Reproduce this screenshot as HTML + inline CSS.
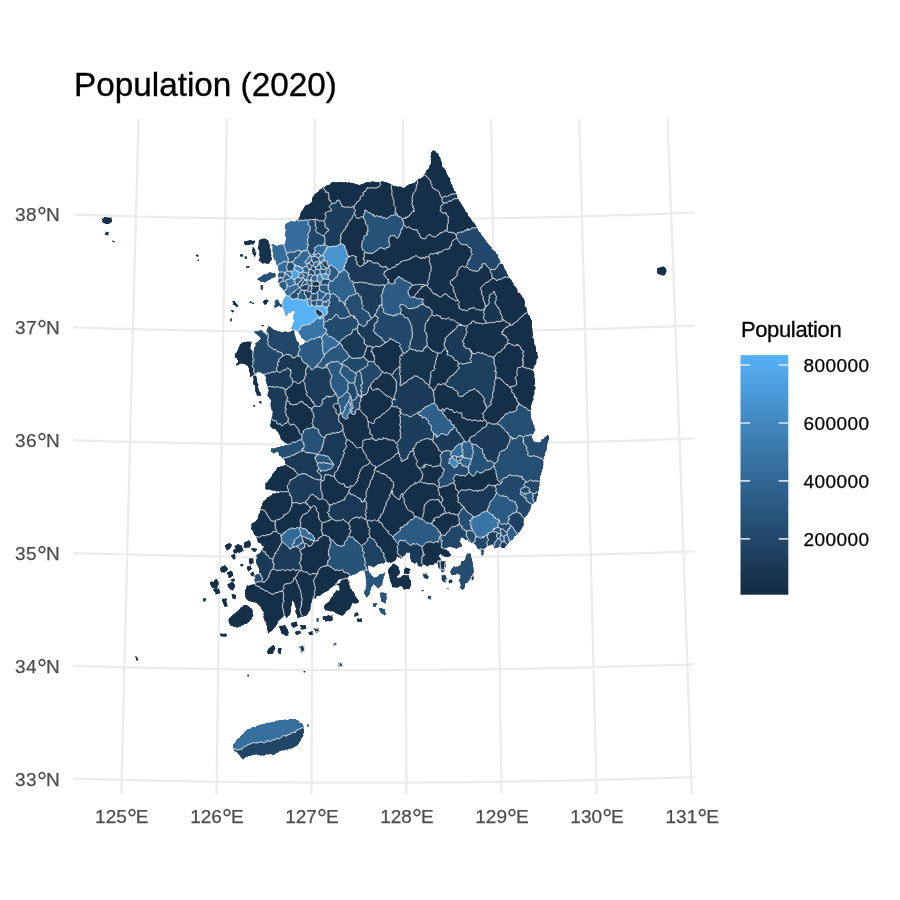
<!DOCTYPE html>
<html><head><meta charset="utf-8"><title>Population (2020)</title>
<style>
html,body{margin:0;padding:0;background:#fff}
svg{display:block}
text{font-family:"Liberation Sans",Arial,Helvetica,sans-serif}
.ax{font-size:19px;fill:#4d4d4d;letter-spacing:0.4px;stroke:#4d4d4d;stroke-width:0.25px}
text.axx{letter-spacing:0.05px}
.dg{font-size:25px;letter-spacing:-1.1px}
.lt{font-size:19px;fill:#000;letter-spacing:0.4px;stroke:#000;stroke-width:0.25px}
.ltt{font-size:22px;fill:#000;letter-spacing:-0.35px;stroke:#000;stroke-width:0.3px}
.ti{font-size:33.3px;fill:#000;stroke:#000;stroke-width:0.35px}
</style></head><body>
<svg width="900" height="900" viewBox="0 0 900 900">
<rect width="900" height="900" fill="#fff"/>
<defs><clipPath id="pc"><rect x="73.2" y="118.8" width="621.2" height="675.2"/></clipPath></defs>
<g clip-path="url(#pc)">
<path d="M21.2,946.2 21.7,931.0 22.2,915.7 22.7,900.4 23.2,885.1 23.7,869.8 24.2,854.6 24.7,839.3 25.2,824.0 25.7,808.7 26.2,793.4 26.7,778.1 27.2,762.9 27.7,747.6 28.2,732.3 28.7,717.0 29.2,701.7 29.8,686.5 30.3,671.2 30.8,655.9 31.3,640.6 31.9,625.3 32.4,610.0 32.9,594.7 33.5,579.5 34.0,564.2 34.5,548.9 35.1,533.6 35.6,518.3 36.1,503.0 36.7,487.7 37.2,472.5 37.8,457.2 38.3,441.9 38.9,426.6 39.4,411.3 40.0,396.0 40.5,380.7 41.1,365.4 41.7,350.2 42.2,334.9 42.8,319.6 43.3,304.3 43.9,289.0 44.5,273.7 45.0,258.4 45.6,243.1 46.2,227.8 46.8,212.6 47.3,197.3 47.9,182.0 48.5,166.7 49.1,151.4 49.7,136.1 50.2,120.8 50.8,105.5 51.4,90.2 52.0,74.9 52.6,59.6 53.2,44.4 M117.7,948.9 118.1,933.6 118.4,918.3 118.8,903.1 119.1,887.8 119.5,872.5 119.8,857.2 120.2,842.0 120.6,826.7 120.9,811.4 121.3,796.1 121.6,780.9 122.0,765.6 122.4,750.3 122.7,735.0 123.1,719.7 123.5,704.5 123.8,689.2 124.2,673.9 124.6,658.6 125.0,643.4 125.3,628.1 125.7,612.8 126.1,597.5 126.5,582.2 126.9,567.0 127.2,551.7 127.6,536.4 128.0,521.1 128.4,505.8 128.8,490.6 129.2,475.3 129.6,460.0 130.0,444.7 130.3,429.4 130.7,414.1 131.1,398.9 131.5,383.6 131.9,368.3 132.3,353.0 132.7,337.7 133.1,322.4 133.5,307.2 133.9,291.9 134.3,276.6 134.7,261.3 135.2,246.0 135.6,230.7 136.0,215.4 136.4,200.1 136.8,184.9 137.2,169.6 137.6,154.3 138.0,139.0 138.5,123.7 138.9,108.4 139.3,93.1 139.7,77.8 140.1,62.6 140.6,47.3 M214.2,950.6 214.4,935.4 214.6,920.1 214.9,904.8 215.1,889.6 215.3,874.3 215.5,859.0 215.7,843.8 215.9,828.5 216.1,813.2 216.4,797.9 216.6,782.7 216.8,767.4 217.0,752.1 217.2,736.8 217.5,721.6 217.7,706.3 217.9,691.0 218.1,675.7 218.3,660.5 218.6,645.2 218.8,629.9 219.0,614.6 219.2,599.4 219.5,584.1 219.7,568.8 219.9,553.5 220.2,538.3 220.4,523.0 220.6,507.7 220.9,492.4 221.1,477.1 221.3,461.9 221.6,446.6 221.8,431.3 222.0,416.0 222.3,400.7 222.5,385.5 222.7,370.2 223.0,354.9 223.2,339.6 223.5,324.3 223.7,309.1 223.9,293.8 224.2,278.5 224.4,263.2 224.7,247.9 224.9,232.6 225.2,217.4 225.4,202.1 225.7,186.8 225.9,171.5 226.2,156.2 226.4,140.9 226.7,125.6 226.9,110.4 227.2,95.1 227.4,79.8 227.7,64.5 227.9,49.2 M310.7,951.5 310.8,936.3 310.8,921.0 310.9,905.7 311.0,890.5 311.1,875.2 311.1,859.9 311.2,844.6 311.3,829.4 311.3,814.1 311.4,798.8 311.5,783.6 311.6,768.3 311.6,753.0 311.7,737.8 311.8,722.5 311.9,707.2 311.9,691.9 312.0,676.7 312.1,661.4 312.2,646.1 312.2,630.8 312.3,615.6 312.4,600.3 312.5,585.0 312.5,569.7 312.6,554.5 312.7,539.2 312.8,523.9 312.8,508.6 312.9,493.4 313.0,478.1 313.1,462.8 313.2,447.5 313.2,432.2 313.3,417.0 313.4,401.7 313.5,386.4 313.5,371.1 313.6,355.9 313.7,340.6 313.8,325.3 313.9,310.0 313.9,294.7 314.0,279.4 314.1,264.2 314.2,248.9 314.3,233.6 314.4,218.3 314.4,203.0 314.5,187.7 314.6,172.5 314.7,157.2 314.8,141.9 314.9,126.6 314.9,111.3 315.0,96.0 315.1,80.7 315.2,65.5 315.3,50.2 M407.2,951.5 407.1,936.3 407.0,921.0 407.0,905.7 406.9,890.5 406.8,875.2 406.8,859.9 406.7,844.6 406.6,829.4 406.5,814.1 406.5,798.8 406.4,783.6 406.3,768.3 406.3,753.0 406.2,737.8 406.1,722.5 406.0,707.2 406.0,691.9 405.9,676.7 405.8,661.4 405.7,646.1 405.7,630.8 405.6,615.6 405.5,600.3 405.4,585.0 405.4,569.7 405.3,554.5 405.2,539.2 405.1,523.9 405.1,508.6 405.0,493.4 404.9,478.1 404.8,462.8 404.7,447.5 404.7,432.2 404.6,417.0 404.5,401.7 404.4,386.4 404.3,371.1 404.3,355.9 404.2,340.6 404.1,325.3 404.0,310.0 403.9,294.7 403.9,279.4 403.8,264.2 403.7,248.9 403.6,233.6 403.5,218.3 403.5,203.0 403.4,187.7 403.3,172.5 403.2,157.2 403.1,141.9 403.0,126.6 403.0,111.3 402.9,96.0 402.8,80.7 402.7,65.5 402.6,50.2 M503.7,950.6 503.5,935.4 503.2,920.1 503.0,904.8 502.8,889.6 502.6,874.3 502.4,859.0 502.2,843.8 502.0,828.5 501.7,813.2 501.5,797.9 501.3,782.7 501.1,767.4 500.9,752.1 500.7,736.8 500.4,721.6 500.2,706.3 500.0,691.0 499.8,675.7 499.5,660.5 499.3,645.2 499.1,629.9 498.9,614.6 498.6,599.4 498.4,584.1 498.2,568.8 498.0,553.5 497.7,538.3 497.5,523.0 497.3,507.7 497.0,492.4 496.8,477.1 496.6,461.9 496.3,446.6 496.1,431.3 495.9,416.0 495.6,400.7 495.4,385.5 495.1,370.2 494.9,354.9 494.7,339.6 494.4,324.3 494.2,309.1 493.9,293.8 493.7,278.5 493.5,263.2 493.2,247.9 493.0,232.6 492.7,217.4 492.5,202.1 492.2,186.8 492.0,171.5 491.7,156.2 491.5,140.9 491.2,125.6 491.0,110.4 490.7,95.1 490.5,79.8 490.2,64.5 490.0,49.2 M600.2,948.9 599.8,933.6 599.5,918.3 599.1,903.1 598.8,887.8 598.4,872.5 598.0,857.2 597.7,842.0 597.3,826.7 597.0,811.4 596.6,796.1 596.2,780.9 595.9,765.6 595.5,750.3 595.2,735.0 594.8,719.7 594.4,704.5 594.0,689.2 593.7,673.9 593.3,658.6 592.9,643.4 592.5,628.1 592.2,612.8 591.8,597.5 591.4,582.2 591.0,567.0 590.7,551.7 590.3,536.4 589.9,521.1 589.5,505.8 589.1,490.6 588.7,475.3 588.3,460.0 587.9,444.7 587.5,429.4 587.2,414.1 586.8,398.9 586.4,383.6 586.0,368.3 585.6,353.0 585.2,337.7 584.8,322.4 584.4,307.2 584.0,291.9 583.6,276.6 583.1,261.3 582.7,246.0 582.3,230.7 581.9,215.4 581.5,200.1 581.1,184.9 580.7,169.6 580.3,154.3 579.8,139.0 579.4,123.7 579.0,108.4 578.6,93.1 578.2,77.8 577.7,62.6 577.3,47.3 M696.7,946.2 696.2,931.0 695.7,915.7 695.2,900.4 694.7,885.1 694.2,869.8 693.7,854.6 693.2,839.3 692.7,824.0 692.2,808.7 691.7,793.4 691.2,778.1 690.7,762.9 690.2,747.6 689.7,732.3 689.2,717.0 688.6,701.7 688.1,686.5 687.6,671.2 687.1,655.9 686.6,640.6 686.0,625.3 685.5,610.0 685.0,594.7 684.4,579.5 683.9,564.2 683.4,548.9 682.8,533.6 682.3,518.3 681.8,503.0 681.2,487.7 680.7,472.5 680.1,457.2 679.6,441.9 679.0,426.6 678.5,411.3 677.9,396.0 677.4,380.7 676.8,365.4 676.2,350.2 675.7,334.9 675.1,319.6 674.6,304.3 674.0,289.0 673.4,273.7 672.8,258.4 672.3,243.1 671.7,227.8 671.1,212.6 670.6,197.3 670.0,182.0 669.4,166.7 668.8,151.4 668.2,136.1 667.6,120.8 667.1,105.5 666.5,90.2 665.9,74.9 665.3,59.6 664.7,44.4 M793.3,942.7 792.6,927.4 792.0,912.1 791.4,896.8 790.7,881.6 790.1,866.3 789.5,851.0 788.8,835.7 788.2,820.4 787.5,805.1 786.9,789.8 786.2,774.5 785.6,759.2 784.9,744.0 784.2,728.7 783.6,713.4 782.9,698.1 782.2,682.8 781.6,667.5 780.9,652.2 780.2,636.9 779.5,621.6 778.9,606.3 778.2,591.0 777.5,575.8 776.8,560.5 776.1,545.2 775.4,529.9 774.7,514.6 774.0,499.3 773.3,484.0 772.6,468.7 771.9,453.4 771.2,438.1 770.5,422.8 769.8,407.5 769.1,392.2 768.4,376.9 767.7,361.7 766.9,346.4 766.2,331.1 765.5,315.8 764.8,300.5 764.0,285.2 763.3,269.9 762.6,254.6 761.8,239.3 761.1,224.0 760.4,208.7 759.6,193.4 758.9,178.1 758.1,162.8 757.4,147.5 756.6,132.2 755.9,116.9 755.1,101.6 754.4,86.4 753.6,71.1 752.8,55.8 752.1,40.5 M-73.1,886.3 -60.9,886.8 -48.7,887.3 -36.6,887.8 -24.4,888.2 -12.2,888.7 -0.1,889.1 12.1,889.5 24.2,889.9 36.4,890.3 48.5,890.7 60.7,891.0 72.8,891.4 85.0,891.7 97.1,892.0 109.3,892.3 121.5,892.6 133.6,892.9 145.8,893.1 157.9,893.4 170.1,893.6 182.2,893.8 194.4,894.0 206.5,894.2 218.6,894.4 230.8,894.5 242.9,894.7 255.1,894.8 267.2,894.9 279.4,895.0 291.5,895.1 303.7,895.2 315.8,895.2 328.0,895.3 340.1,895.3 352.3,895.3 364.4,895.3 376.6,895.3 388.7,895.3 400.9,895.3 413.0,895.2 425.1,895.1 437.3,895.0 449.4,894.9 461.6,894.8 473.7,894.7 485.9,894.6 498.0,894.4 510.2,894.2 522.3,894.0 534.5,893.9 546.6,893.6 558.8,893.4 570.9,893.2 583.1,892.9 595.2,892.6 607.4,892.4 619.5,892.1 631.7,891.8 643.8,891.4 656.0,891.1 668.1,890.7 680.3,890.4 692.5,890.0 704.6,889.6 716.8,889.2 728.9,888.7 741.1,888.3 753.2,887.8 765.4,887.4 777.6,886.9 789.7,886.4 801.9,885.9 814.1,885.3 826.2,884.8 838.4,884.2 850.6,883.7 862.7,883.1 874.9,882.5 887.1,881.9 M-68.3,773.6 -56.3,774.1 -44.2,774.6 -32.2,775.1 -20.2,775.5 -8.2,776.0 3.9,776.4 15.9,776.8 27.9,777.2 39.9,777.6 52.0,778.0 64.0,778.4 76.0,778.7 88.0,779.0 100.0,779.4 112.1,779.7 124.1,780.0 136.1,780.2 148.1,780.5 160.1,780.7 172.1,781.0 184.1,781.2 196.2,781.4 208.2,781.6 220.2,781.8 232.2,781.9 244.2,782.1 256.2,782.2 268.2,782.3 280.3,782.4 292.3,782.5 304.3,782.6 316.3,782.6 328.3,782.7 340.3,782.7 352.3,782.7 364.4,782.7 376.4,782.7 388.4,782.7 400.4,782.6 412.4,782.6 424.4,782.5 436.4,782.4 448.4,782.3 460.5,782.2 472.5,782.1 484.5,781.9 496.5,781.8 508.5,781.6 520.5,781.4 532.5,781.2 544.6,781.0 556.6,780.8 568.6,780.5 580.6,780.3 592.6,780.0 604.6,779.7 616.7,779.4 628.7,779.1 640.7,778.7 652.7,778.4 664.7,778.0 676.8,777.7 688.8,777.3 700.8,776.9 712.8,776.4 724.8,776.0 736.9,775.6 748.9,775.1 760.9,774.6 772.9,774.1 785.0,773.6 797.0,773.1 809.0,772.6 821.1,772.0 833.1,771.5 845.1,770.9 857.2,770.3 869.2,769.7 881.2,769.0 M-63.4,660.8 -51.5,661.3 -39.6,661.8 -27.7,662.3 -15.8,662.8 -3.9,663.2 7.9,663.7 19.8,664.1 31.7,664.5 43.6,664.9 55.5,665.3 67.4,665.7 79.2,666.0 91.1,666.4 103.0,666.7 114.9,667.0 126.8,667.3 138.6,667.6 150.5,667.8 162.4,668.1 174.3,668.3 186.1,668.5 198.0,668.7 209.9,668.9 221.8,669.1 233.7,669.3 245.5,669.4 257.4,669.6 269.3,669.7 281.2,669.8 293.0,669.9 304.9,669.9 316.8,670.0 328.7,670.0 340.5,670.1 352.4,670.1 364.3,670.1 376.2,670.1 388.0,670.1 399.9,670.0 411.8,669.9 423.7,669.9 435.5,669.8 447.4,669.7 459.3,669.6 471.2,669.4 483.0,669.3 494.9,669.1 506.8,669.0 518.7,668.8 530.6,668.6 542.4,668.3 554.3,668.1 566.2,667.9 578.1,667.6 589.9,667.3 601.8,667.0 613.7,666.7 625.6,666.4 637.5,666.1 649.3,665.7 661.2,665.3 673.1,665.0 685.0,664.6 696.9,664.2 708.8,663.7 720.7,663.3 732.5,662.8 744.4,662.4 756.3,661.9 768.2,661.4 780.1,660.9 792.0,660.3 803.9,659.8 815.8,659.2 827.6,658.7 839.5,658.1 851.4,657.5 863.3,656.8 875.2,656.2 M-58.4,548.0 -46.6,548.6 -34.9,549.1 -23.1,549.6 -11.4,550.0 0.4,550.5 12.1,550.9 23.9,551.4 35.6,551.8 47.3,552.2 59.1,552.6 70.8,553.0 82.6,553.3 94.3,553.7 106.0,554.0 117.8,554.3 129.5,554.6 141.3,554.9 153.0,555.2 164.7,555.4 176.5,555.6 188.2,555.9 199.9,556.1 211.7,556.3 223.4,556.5 235.1,556.6 246.9,556.8 258.6,556.9 270.3,557.0 282.1,557.1 293.8,557.2 305.6,557.3 317.3,557.4 329.0,557.4 340.8,557.4 352.5,557.4 364.2,557.4 376.0,557.4 387.7,557.4 399.4,557.4 411.2,557.3 422.9,557.2 434.6,557.1 446.4,557.0 458.1,556.9 469.8,556.8 481.6,556.6 493.3,556.5 505.0,556.3 516.8,556.1 528.5,555.9 540.3,555.7 552.0,555.4 563.7,555.2 575.5,554.9 587.2,554.6 598.9,554.3 610.7,554.0 622.4,553.7 634.2,553.4 645.9,553.0 657.6,552.6 669.4,552.2 681.1,551.8 692.9,551.4 704.6,551.0 716.3,550.5 728.1,550.1 739.8,549.6 751.6,549.1 763.3,548.6 775.1,548.1 786.8,547.6 798.6,547.0 810.3,546.4 822.1,545.9 833.8,545.3 845.6,544.6 857.3,544.0 869.1,543.4 M-53.2,435.3 -41.6,435.8 -30.0,436.3 -18.4,436.8 -6.8,437.3 4.8,437.7 16.4,438.2 28.0,438.6 39.6,439.1 51.2,439.5 62.8,439.9 74.4,440.2 86.0,440.6 97.6,440.9 109.2,441.3 120.7,441.6 132.3,441.9 143.9,442.2 155.5,442.5 167.1,442.7 178.7,443.0 190.3,443.2 201.9,443.4 213.5,443.6 225.1,443.8 236.7,443.9 248.3,444.1 259.9,444.2 271.4,444.3 283.0,444.5 294.6,444.5 306.2,444.6 317.8,444.7 329.4,444.7 341.0,444.8 352.6,444.8 364.2,444.8 375.8,444.8 387.3,444.7 398.9,444.7 410.5,444.6 422.1,444.6 433.7,444.5 445.3,444.4 456.9,444.2 468.5,444.1 480.1,444.0 491.7,443.8 503.2,443.6 514.8,443.4 526.4,443.2 538.0,443.0 549.6,442.7 561.2,442.5 572.8,442.2 584.4,441.9 596.0,441.6 607.6,441.3 619.2,441.0 630.8,440.6 642.4,440.3 654.0,439.9 665.5,439.5 677.1,439.1 688.7,438.7 700.3,438.2 711.9,437.8 723.5,437.3 735.1,436.8 746.7,436.3 758.3,435.8 769.9,435.3 781.5,434.8 793.1,434.2 804.7,433.6 816.3,433.0 827.9,432.4 839.6,431.8 851.2,431.2 862.8,430.5 M-47.9,322.5 -36.5,323.0 -25.0,323.5 -13.6,324.0 -2.1,324.5 9.3,325.0 20.8,325.4 32.2,325.9 43.7,326.3 55.1,326.7 66.6,327.1 78.0,327.5 89.5,327.9 100.9,328.2 112.4,328.6 123.8,328.9 135.2,329.2 146.7,329.5 158.1,329.7 169.6,330.0 181.0,330.3 192.5,330.5 203.9,330.7 215.3,330.9 226.8,331.1 238.2,331.2 249.7,331.4 261.1,331.5 272.6,331.7 284.0,331.8 295.4,331.9 306.9,331.9 318.3,332.0 329.8,332.0 341.2,332.1 352.7,332.1 364.1,332.1 375.5,332.1 387.0,332.0 398.4,332.0 409.9,331.9 421.3,331.9 432.7,331.8 444.2,331.7 455.6,331.5 467.1,331.4 478.5,331.3 490.0,331.1 501.4,330.9 512.8,330.7 524.3,330.5 535.7,330.3 547.2,330.0 558.6,329.8 570.1,329.5 581.5,329.2 592.9,328.9 604.4,328.6 615.8,328.3 627.3,327.9 638.7,327.5 650.2,327.2 661.6,326.8 673.1,326.4 684.5,325.9 696.0,325.5 707.4,325.0 718.9,324.6 730.3,324.1 741.8,323.6 753.2,323.1 764.7,322.5 776.1,322.0 787.6,321.4 799.0,320.8 810.5,320.2 821.9,319.6 833.4,319.0 844.8,318.4 856.3,317.7 M-42.5,209.7 -31.2,210.2 -19.9,210.7 -8.6,211.2 2.7,211.7 14.0,212.2 25.3,212.7 36.6,213.1 47.9,213.6 59.2,214.0 70.4,214.4 81.7,214.8 93.0,215.1 104.3,215.5 115.6,215.8 126.9,216.1 138.2,216.5 149.5,216.7 160.8,217.0 172.1,217.3 183.4,217.5 194.7,217.8 206.0,218.0 217.2,218.2 228.5,218.4 239.8,218.5 251.1,218.7 262.4,218.8 273.7,219.0 285.0,219.1 296.3,219.2 307.6,219.2 318.9,219.3 330.2,219.3 341.4,219.4 352.7,219.4 364.0,219.4 375.3,219.4 386.6,219.3 397.9,219.3 409.2,219.2 420.5,219.2 431.8,219.1 443.1,219.0 454.3,218.8 465.6,218.7 476.9,218.5 488.2,218.4 499.5,218.2 510.8,218.0 522.1,217.8 533.4,217.6 544.7,217.3 556.0,217.0 567.3,216.8 578.6,216.5 589.8,216.2 601.1,215.9 612.4,215.5 623.7,215.2 635.0,214.8 646.3,214.4 657.6,214.0 668.9,213.6 680.2,213.2 691.5,212.7 702.8,212.3 714.1,211.8 725.4,211.3 736.7,210.8 748.0,210.3 759.3,209.7 770.6,209.2 781.9,208.6 793.2,208.0 804.5,207.4 815.8,206.8 827.1,206.2 838.4,205.5 849.7,204.9 M-37.0,96.9 -25.9,97.4 -14.7,97.9 -3.6,98.5 7.6,99.0 18.7,99.4 29.9,99.9 41.0,100.3 52.1,100.8 63.3,101.2 74.4,101.6 85.6,102.0 96.7,102.4 107.8,102.7 119.0,103.1 130.1,103.4 141.2,103.7 152.4,104.0 163.5,104.3 174.7,104.5 185.8,104.8 196.9,105.0 208.1,105.2 219.2,105.4 230.3,105.6 241.5,105.8 252.6,106.0 263.7,106.1 274.9,106.2 286.0,106.3 297.1,106.4 308.3,106.5 319.4,106.6 330.6,106.6 341.7,106.6 352.8,106.7 364.0,106.7 375.1,106.6 386.2,106.6 397.4,106.6 408.5,106.5 419.6,106.4 430.8,106.3 441.9,106.2 453.0,106.1 464.2,106.0 475.3,105.8 486.4,105.6 497.6,105.5 508.7,105.3 519.9,105.0 531.0,104.8 542.1,104.6 553.3,104.3 564.4,104.0 575.5,103.7 586.7,103.4 597.8,103.1 608.9,102.8 620.1,102.4 631.2,102.0 642.4,101.6 653.5,101.2 664.6,100.8 675.8,100.4 686.9,99.9 698.1,99.5 709.2,99.0 720.3,98.5 731.5,98.0 742.6,97.5 753.8,96.9 764.9,96.4 776.1,95.8 787.2,95.2 798.3,94.6 809.5,94.0 820.6,93.3 831.8,92.7 842.9,92.0" fill="none" stroke="#ebebeb" stroke-width="2.2"/>
<defs><clipPath id="land"><path d="M306.6,725.1 307.4,725.9 307.1,726.4 309.1,726.6 308.6,725.6 308.6,724.6 307.6,724.6ZM304.1,727.1 302.9,726.1 302.9,724.6 301.1,722.9 299.6,722.9 299.1,722.4 299.1,721.1 297.4,720.6 294.9,719.1 294.1,719.4 293.9,719.1 293.6,719.4 289.6,719.1 288.4,720.1 287.9,719.9 285.9,720.1 285.1,719.4 284.6,719.4 284.1,719.9 278.4,720.4 277.4,721.4 276.1,720.6 274.9,722.1 274.1,721.9 271.4,722.6 270.6,722.4 269.4,722.9 268.4,722.6 268.1,723.1 266.1,722.9 265.1,724.1 263.4,723.9 262.4,724.4 260.9,724.4 260.1,725.1 258.6,725.1 257.6,726.1 256.4,725.9 255.9,727.1 255.1,727.6 254.6,727.4 254.1,727.6 253.6,727.1 251.9,727.4 250.1,729.1 248.9,728.9 246.6,730.1 246.4,730.9 244.4,732.1 244.1,733.4 243.4,733.9 242.6,733.9 242.1,735.1 240.4,736.4 240.1,737.4 239.4,738.1 238.1,738.6 235.9,740.9 235.9,741.6 235.1,742.9 233.4,744.4 233.1,744.9 233.4,747.4 232.9,748.6 234.1,749.6 234.9,751.4 236.1,751.4 237.4,752.1 237.4,752.9 239.1,754.4 239.4,755.1 240.4,756.1 240.6,757.1 243.4,759.6 243.9,758.6 245.6,756.9 247.4,756.6 248.6,755.9 248.9,756.1 250.1,755.9 250.4,755.4 252.6,755.1 253.1,754.6 255.1,754.9 255.6,754.1 256.4,754.1 257.4,755.1 259.1,754.9 260.6,755.6 261.4,755.6 262.9,754.9 263.4,755.4 264.1,755.4 266.6,754.1 267.9,754.4 269.6,753.9 270.9,753.9 273.6,754.9 275.1,753.9 276.4,752.4 277.4,753.1 278.4,751.6 280.4,751.1 282.4,750.1 283.9,750.6 285.1,749.4 287.6,749.6 289.1,748.6 291.6,748.6 292.9,747.4 294.6,746.9 297.4,745.1 299.1,742.9 298.9,742.6 299.1,741.9 300.4,741.1 301.4,738.1 302.1,737.6 302.6,736.9 302.4,736.6 303.4,735.9 302.9,733.9 303.9,732.4 304.1,729.4 303.6,728.6 303.6,727.9ZM247.9,674.4 247.4,674.9 247.6,676.6 248.6,676.4 249.1,675.1ZM303.6,670.9 303.4,671.9 304.6,672.6 305.4,672.1 305.1,670.9ZM338.6,662.6 338.9,665.1 338.4,665.9 338.6,666.4 340.4,666.1 340.9,666.6 340.6,666.9 340.9,666.9 340.4,666.1 340.6,665.9 341.4,665.9 342.1,666.4 342.4,665.9 341.6,663.9 340.9,663.1ZM135.1,656.6 136.1,658.4 135.9,658.9 136.4,660.4 137.1,660.6 138.4,660.1 136.4,656.4ZM278.1,648.1 277.9,650.4 277.4,650.9 277.4,651.4 278.6,651.6 278.6,652.6 278.1,653.1 278.6,653.6 280.9,653.9 281.1,652.9 280.9,651.4 281.6,648.6 280.6,648.1ZM304.6,645.6 302.6,646.1 302.1,645.9 301.9,646.4 300.6,646.1 299.1,646.4 300.1,649.1 300.9,649.6 300.6,651.9 301.1,652.4 302.1,651.9 302.6,651.1 303.6,650.9 304.9,651.1 305.1,648.1 304.4,646.1ZM273.4,644.9 272.9,645.6 271.9,645.9 270.4,647.6 269.1,648.1 268.6,648.6 268.6,649.4 267.1,650.9 267.4,652.6 268.1,654.1 268.4,653.9 272.1,654.1 273.6,652.4 273.4,651.4 274.1,650.6 274.6,649.4 275.4,649.1 274.1,645.6ZM336.9,642.9 334.6,643.4 333.9,643.1 333.9,644.1 333.4,644.9 333.6,645.6 334.1,645.4 336.1,645.6 336.4,644.4 337.1,643.9ZM220.1,633.4 220.4,635.6 221.4,636.4 226.6,636.6 226.6,633.9 224.6,633.4 223.9,634.1 223.1,634.1 222.6,633.6 221.6,633.9 220.9,633.4ZM313.4,631.6 311.9,631.4 310.6,631.6 310.1,632.1 308.1,631.9 308.9,633.1 308.9,634.4 310.1,635.1 312.6,634.9 313.6,633.9 313.1,632.9ZM299.9,630.1 298.4,631.4 297.4,631.1 295.1,631.9 295.6,633.9 296.6,634.4 296.9,634.9 299.9,633.6 301.4,634.1 300.6,632.9ZM313.4,628.6 313.6,629.1 314.9,629.6 315.1,631.4 315.6,631.6 315.9,632.4 316.9,632.6 318.1,631.9 319.4,631.6 319.4,630.6 318.4,628.9 318.4,628.1 315.9,627.9 315.4,628.6 315.1,628.4ZM279.9,625.6 279.4,626.1 279.4,627.4 281.1,631.4 280.9,632.6 281.9,633.4 282.4,634.4 283.4,634.1 285.9,636.1 287.4,635.4 287.9,635.6 288.6,635.4 287.9,633.9 288.6,632.9 288.6,632.1 287.9,630.9 288.1,630.1 286.6,628.6 285.9,626.4 285.1,625.4 284.6,625.1 283.9,625.6 281.6,626.1ZM300.1,625.1 300.4,626.9 300.1,627.1 299.9,626.9 299.9,627.4 301.4,629.9 302.4,629.9 303.1,629.4 306.6,628.6 306.1,628.1 305.6,625.4 304.6,625.1 303.9,625.6 303.1,625.6 301.4,624.9ZM296.4,621.6 294.9,621.9 293.9,622.6 292.4,622.6 290.9,623.6 291.1,625.1 293.4,628.1 294.9,626.9 298.1,625.6 297.4,624.9ZM356.9,618.6 357.1,619.4 356.9,619.9 357.9,621.9 360.1,621.4 361.9,621.9 362.1,621.4 361.9,619.1 361.1,618.4 360.4,618.4 359.9,618.9 359.1,618.9 358.4,618.4ZM319.1,618.4 316.6,618.6 316.9,621.9 318.1,622.1 318.9,621.4 318.4,620.4ZM333.1,615.1 329.9,615.4 328.4,614.9 326.4,616.4 325.6,616.1 323.1,616.4 322.9,616.1 322.6,618.1 323.4,618.6 323.1,619.1 323.4,619.4 322.9,619.9 324.9,620.1 325.6,621.6 326.6,621.6 327.1,621.1 328.6,620.9 330.6,621.4 331.6,620.4 332.1,620.6 332.9,619.4 332.6,618.1ZM357.4,612.1 355.6,613.4 355.4,613.1 354.4,613.4 354.9,614.4 354.1,615.9 354.4,616.6 355.1,616.9 355.9,616.6 356.9,615.6 358.4,615.6 358.4,614.4ZM379.1,608.1 379.6,610.6 381.1,612.9 382.6,613.9 383.4,613.9 384.1,614.9 385.1,615.4 385.6,613.6 386.1,613.4 384.9,611.9 385.1,609.6 381.9,608.4ZM252.1,609.1 251.6,608.6 250.4,608.4 249.1,606.6 248.1,606.4 247.4,605.6 245.1,604.9 244.9,605.1 243.9,604.9 242.4,606.9 240.6,607.6 240.6,608.6 239.1,609.6 237.9,611.4 236.6,611.6 236.1,612.9 234.9,613.1 234.4,614.1 232.6,615.1 228.4,619.4 228.9,620.6 228.6,621.4 229.4,622.6 229.4,623.6 231.1,626.1 232.9,625.9 233.4,626.9 234.9,626.6 236.9,627.4 237.9,627.4 238.6,626.6 240.4,626.4 241.4,625.6 243.4,625.1 244.9,623.6 246.4,623.9 247.1,623.4 247.6,622.4 248.9,622.1 249.9,620.9 249.9,619.9 251.9,618.9 251.6,617.9 251.9,617.1 253.4,616.1 253.4,615.6 252.9,615.4 252.9,613.6 252.4,613.1 252.9,611.1 252.1,609.9ZM377.1,603.1 376.6,602.9 374.6,603.6 373.1,603.4 372.9,606.4 374.1,606.4 374.9,606.9 376.4,607.1 375.4,606.4 375.4,605.9 377.1,604.1ZM222.4,598.6 222.1,600.9 223.1,602.4 223.1,603.6 223.9,604.6 224.1,606.4 224.6,606.6 225.4,606.4 226.4,606.9 227.6,606.6 226.6,602.1 226.1,601.6 226.1,600.9 226.9,599.9 227.1,598.6 224.9,598.4 224.4,598.9ZM205.9,598.1 202.9,598.6 202.9,599.9 203.6,601.9 205.4,601.1ZM428.4,595.4 427.9,597.1 427.9,598.6 429.4,598.6 430.6,599.6 431.1,599.4 431.1,597.1 430.6,595.9 429.1,596.1ZM231.9,593.9 231.6,594.4 232.1,595.9 231.9,596.4 232.6,598.1 232.4,598.4 233.6,598.4 234.4,599.1 235.4,599.4 235.4,598.1 236.1,596.9 235.6,594.9 232.9,593.9ZM379.6,592.6 380.6,595.4 380.1,596.6 380.9,597.4 380.9,598.9 381.4,599.6 381.1,601.4 381.9,601.4 385.9,603.6 386.1,602.1 385.6,601.6 385.6,600.9 386.9,598.4 386.6,598.1 386.9,597.6 386.1,596.4 386.6,593.6 382.4,592.6 381.4,592.6 380.9,593.4ZM421.6,590.1 421.9,591.6 422.6,591.1 423.9,591.1 423.9,590.1 423.1,590.4ZM447.1,588.1 447.4,588.6 449.4,589.4 447.9,588.1ZM233.4,581.9 232.9,582.6 231.1,582.1 229.9,583.4 227.4,583.9 227.9,586.1 228.4,586.4 228.1,587.1 227.6,587.4 228.6,587.1 228.9,587.9 230.4,588.6 230.1,589.9 231.1,589.6 232.4,590.4 233.4,589.4 233.9,588.1 235.4,587.1 234.9,586.4 234.6,585.1 234.9,584.9 233.4,582.9ZM452.1,579.9 450.4,579.6 448.6,580.9 449.1,583.6 450.4,582.9 450.9,583.1 451.9,582.9 451.9,582.1 452.4,581.4ZM216.9,578.9 215.9,579.1 215.1,580.1 214.6,580.4 214.4,580.1 213.9,581.9 211.4,581.4 209.9,582.4 210.1,584.4 211.4,585.6 211.1,585.9 211.9,587.4 212.6,587.9 214.4,587.4 215.1,587.9 214.6,588.6 213.1,588.9 213.1,589.4 214.4,591.6 215.6,592.6 215.6,594.4 220.4,592.9 219.6,591.6 219.6,590.6 219.1,590.1 219.1,588.6 218.6,588.4 217.4,589.4 216.6,589.1 217.6,587.1 217.4,585.6 217.9,584.9 218.4,584.9 218.6,583.9 218.4,581.9 217.4,580.6ZM235.1,579.9 234.4,578.9 233.1,578.4 232.1,579.4 231.1,579.6 230.6,580.4 231.1,581.1 232.9,581.6 234.6,581.1ZM441.6,575.1 441.9,577.4 441.6,579.1 443.1,581.6 445.6,582.6 445.9,581.4 446.4,580.9 446.9,581.1 446.6,580.1 446.9,579.1 445.4,575.4 444.9,574.9 443.4,575.6 442.4,575.6ZM422.6,573.4 423.1,575.6 423.6,576.1 423.9,578.1 424.1,577.9 426.4,578.4 427.1,579.1 427.9,578.9 427.6,578.4 428.1,577.4 428.9,576.9 427.4,575.4 426.4,572.6ZM231.6,571.1 228.9,571.4 228.1,572.4 226.6,572.4 227.1,574.1 228.6,575.1 228.4,577.4 229.1,578.1 230.9,577.4 231.9,576.1 233.4,575.9 232.9,575.1 233.1,573.9 232.9,572.9ZM405.6,567.6 404.9,568.9 404.1,569.4 404.4,570.4 403.9,571.4 404.1,573.6 404.4,573.9 404.9,573.6 406.9,573.9 409.4,573.4 409.6,572.4 408.9,571.4 410.1,570.4 410.4,569.9 410.1,568.9ZM250.4,565.4 248.6,566.4 247.1,566.6 247.1,568.9 248.4,571.4 249.9,569.9 250.9,569.6 251.9,568.6 250.9,567.6ZM225.1,564.9 223.9,566.1 222.6,566.1 220.4,567.9 220.6,568.4 220.1,570.1 221.1,571.6 220.9,572.1 221.9,572.4 222.6,572.1 223.6,572.6 224.1,572.4 224.6,572.6 225.4,571.6 227.9,570.4 228.1,569.6 227.4,567.4 226.6,567.4 225.9,566.9ZM243.1,563.9 240.4,564.1 240.6,564.9 240.4,566.1 241.9,566.4 243.4,565.4ZM392.9,563.6 391.9,566.1 390.9,566.6 388.9,568.6 388.1,570.4 388.4,573.4 388.9,574.1 389.1,575.6 389.6,576.1 389.4,577.9 390.1,579.4 390.1,581.1 391.6,582.9 391.4,584.1 392.1,584.9 391.9,586.6 393.1,587.4 395.1,587.1 395.6,587.6 396.9,587.4 397.9,587.6 398.9,586.6 401.1,585.9 402.6,587.1 403.4,588.4 403.1,588.6 403.4,589.1 404.1,589.4 406.1,588.9 408.6,589.1 409.9,588.4 409.9,587.1 411.1,585.4 411.1,584.6 410.6,584.1 411.1,581.9 410.6,580.6 409.4,579.1 408.6,575.6 408.1,574.9 406.9,575.4 403.4,574.9 401.4,576.6 400.9,577.6 397.4,577.9 396.9,577.4 396.9,576.4 397.9,575.6 398.4,574.4 399.4,573.9 400.1,571.9 399.1,570.1 398.6,569.9 398.9,567.6 397.9,566.9 397.9,566.1 397.1,565.9 396.1,564.9 395.1,564.6 393.6,563.4ZM251.6,558.1 248.9,558.6 249.1,558.9 248.9,561.1 249.4,563.1 250.4,564.6 251.1,564.4 252.4,563.1 253.6,563.4 253.9,562.6 253.4,559.1ZM234.1,553.6 233.4,553.9 232.4,554.9 230.9,555.1 231.4,556.4 232.9,558.1 232.9,559.6 235.4,559.1 235.1,558.1 235.4,556.1ZM471.1,553.9 469.9,553.6 468.9,553.9 467.6,553.4 466.9,554.1 466.6,555.6 465.6,557.1 465.9,557.6 465.6,558.6 464.4,560.4 462.6,561.4 462.4,561.1 461.4,561.6 460.9,562.6 460.9,564.6 460.4,565.1 460.6,565.6 458.6,566.1 457.9,566.9 456.6,566.6 455.6,567.4 454.9,567.1 453.9,566.1 453.1,567.4 451.1,569.4 450.9,570.9 450.1,571.9 450.1,572.6 450.9,573.1 451.4,574.4 452.9,575.1 453.4,574.9 455.1,575.1 456.6,573.4 457.1,573.6 457.6,573.4 458.9,574.4 459.9,574.4 460.6,575.1 460.4,578.4 458.6,580.6 460.1,582.1 460.9,584.9 460.1,588.1 461.1,588.6 462.4,590.1 464.6,587.9 464.6,586.1 465.1,585.6 464.9,583.9 465.6,583.1 467.9,582.9 467.4,581.6 468.1,580.9 469.4,580.6 469.4,578.9 470.1,577.9 472.1,579.9 473.6,579.4 473.4,578.6 473.6,578.4 473.4,576.4 473.6,575.9 472.4,574.6 472.4,573.9 473.1,573.1 473.9,573.1 474.1,572.6 474.1,571.6 473.4,570.6 473.4,568.6 473.9,568.1 472.6,566.9 473.1,564.9 472.6,564.1 472.9,563.6 472.6,561.9 471.9,560.6 471.9,558.4 471.1,557.4 470.9,555.9ZM251.1,548.1 251.4,549.6 252.4,550.1 253.1,551.4 255.1,551.9 257.4,549.1 254.9,548.4 253.9,548.6 253.1,548.1 252.9,548.4ZM241.6,545.4 241.4,545.6 240.1,545.4 239.1,544.4 238.6,544.6 237.6,544.1 236.9,544.9 236.4,544.9 234.6,546.4 235.9,548.6 234.9,548.9 233.9,549.9 233.1,550.1 233.4,551.9 234.9,553.4 235.6,553.1 236.4,553.4 237.4,551.9 237.9,551.9 239.1,553.1 242.6,551.1 243.4,551.1 243.6,550.6 242.9,549.6 242.6,548.1 241.9,546.9 242.1,545.9ZM231.6,544.1 230.6,543.9 230.4,544.1 229.9,543.1 229.4,542.9 229.1,543.4 227.1,543.9 225.6,545.1 225.1,545.1 224.9,546.4 226.1,548.1 226.6,549.9 227.4,550.1 229.6,549.1 230.9,546.9 231.4,546.6ZM248.9,540.1 247.1,541.6 244.9,542.1 244.1,542.9 244.4,544.1 243.6,546.4 245.1,548.4 246.4,547.4 247.1,547.6 249.9,547.4 249.6,546.6 250.9,545.6 250.6,544.4 250.9,543.4 250.4,542.9 250.4,542.1ZM255.1,405.1 253.1,405.4 253.4,406.4 254.9,406.4ZM259.1,401.1 259.6,403.4 261.4,403.4 261.4,401.6 260.4,401.4 260.1,400.9ZM263.9,325.9 263.4,324.9 261.9,325.1 261.6,326.4ZM231.9,318.6 230.4,318.6 230.6,318.9 230.4,321.4 231.1,321.4 232.1,319.9ZM230.9,309.9 230.9,310.6 231.9,311.6 232.1,312.6 234.1,311.6 233.6,310.4ZM249.4,302.6 249.9,303.1 250.6,302.4 251.1,302.4 252.1,303.4 253.9,303.9 253.6,302.4 252.6,303.1 250.6,301.1ZM232.9,301.1 232.4,301.6 233.1,302.4 232.9,304.4 234.4,304.9 236.6,307.1 237.6,306.6 238.4,305.6 236.6,304.1 234.4,301.1 233.9,300.9ZM267.6,299.9 266.1,299.6 265.4,300.1 264.6,300.1 263.9,300.9 263.1,300.9 263.4,303.1 264.4,303.9 264.9,305.1 266.9,303.6 267.1,302.1 268.4,301.4 268.6,300.9ZM276.9,299.4 275.1,301.1 274.6,302.1 275.4,303.4 275.4,304.4 274.1,305.9 274.1,306.4 275.1,307.6 274.1,308.6 275.4,307.9 275.9,306.6 277.4,306.9 278.4,305.6 278.6,305.9 279.4,305.6 281.1,307.1 282.4,307.6 282.1,307.4 282.4,306.6 281.4,304.6 279.6,303.4 278.1,300.1ZM263.1,285.1 260.6,285.6 260.9,286.1 260.4,286.9 260.9,287.6 260.6,288.9 261.4,289.6 262.6,289.9 262.9,289.6 262.6,288.4 263.1,287.4 262.6,285.9ZM275.9,275.4 274.6,272.9 272.4,273.4 271.1,272.4 269.6,271.9 269.6,272.6 268.9,273.4 267.9,273.4 267.4,272.9 267.4,273.9 266.9,274.4 263.6,274.6 262.9,275.6 261.6,276.1 260.6,277.1 259.4,277.4 257.1,279.4 259.6,280.6 260.6,281.6 263.9,281.9 264.6,282.6 267.6,280.4 270.9,278.9 271.6,277.9 271.9,278.1 273.9,277.6 275.9,275.9ZM663.6,266.4 662.9,266.4 662.4,266.9 659.9,267.1 659.4,267.9 657.6,268.1 656.9,268.9 657.4,269.6 657.1,272.4 657.6,273.4 659.6,274.6 660.9,274.6 661.6,275.4 661.9,275.1 664.1,275.4 664.4,274.9 665.1,274.6 665.1,273.9 665.6,273.6 666.1,272.4 665.9,271.6 666.1,271.4 666.4,271.6 666.4,270.6 665.4,267.9 664.1,267.1ZM661.4,274.1 661.9,273.6 662.4,274.1 662.1,274.4ZM246.4,268.4 247.1,267.9 248.6,267.9 249.6,266.6 249.1,266.1 247.4,266.4 246.6,265.6ZM198.6,259.6 197.6,260.1 197.6,261.1 199.1,261.1ZM244.9,256.4 244.6,256.9 245.1,258.4 244.6,259.1 246.6,258.6 247.1,257.9 246.6,256.6ZM196.4,254.4 196.1,255.4 196.6,255.9 196.6,256.6 197.1,256.4 198.4,256.6 198.4,255.1ZM240.4,254.6 240.1,256.4 243.1,256.6 242.4,254.1ZM251.9,247.6 252.6,248.1 252.9,248.9 252.1,249.6 252.4,249.9 252.1,251.4 252.9,252.4 252.6,253.6 253.1,253.9 252.9,254.4 253.9,255.1 254.4,256.4 255.1,257.1 255.1,256.1 256.4,253.1 254.9,251.6 255.4,249.9 253.6,247.6ZM112.4,240.9 112.4,241.6 114.6,242.4 114.6,241.4 112.6,240.6ZM255.1,241.1 254.1,240.4 253.4,240.9 252.1,240.9 251.1,240.1 249.9,239.9 248.9,240.6 247.9,240.9 247.6,240.6 247.4,241.1 244.1,241.4 243.9,243.6 245.1,243.9 245.4,245.4 246.4,244.9 249.6,245.1 250.9,243.9 253.1,244.4 253.9,243.9 254.1,242.9 255.1,242.1ZM263.6,238.4 262.6,238.9 262.4,239.4 262.1,239.1 259.1,239.9 259.1,242.1 258.6,242.9 258.9,244.9 257.9,246.9 258.4,247.9 258.1,248.4 259.6,251.6 259.6,253.1 259.1,254.4 260.1,256.9 259.6,257.6 259.6,258.9 258.6,259.9 258.6,260.6 260.1,261.1 261.4,262.6 262.6,263.4 264.9,263.1 268.1,263.9 269.9,262.1 269.9,261.4 271.6,259.9 271.6,258.1 270.9,256.1 272.1,253.6 271.6,254.4 270.9,253.9 270.6,252.6 271.1,251.9 271.1,251.1 269.6,247.6 270.1,246.4 269.6,245.4 269.6,244.4 268.4,242.6 268.6,241.1 265.9,239.1ZM105.4,231.4 105.9,233.1 104.6,234.9 107.1,235.1 108.1,235.6 108.4,234.6 108.1,233.4 108.9,231.9 107.9,231.9 107.4,232.4ZM101.6,218.6 101.6,219.1 102.6,219.9 102.6,220.6 102.1,221.4 103.6,223.1 104.4,223.1 105.6,223.9 106.6,224.1 108.6,223.9 111.9,221.4 111.9,220.1 111.4,219.4 111.4,217.6 108.9,217.9 108.1,217.4 105.9,217.6 104.6,217.1 103.6,217.9 103.4,219.1ZM433.9,150.6 432.9,150.6 431.6,151.9 430.9,153.4 431.1,155.6 430.6,156.4 430.6,157.1 431.4,157.9 431.4,158.4 430.6,159.1 431.1,160.1 430.9,164.1 429.9,164.9 429.6,166.4 429.1,166.6 429.4,167.4 428.9,168.4 427.1,170.1 426.4,170.4 425.4,173.4 423.9,174.4 424.1,174.6 423.6,175.4 423.9,175.6 423.6,176.6 422.9,177.4 421.9,177.6 420.6,178.9 419.4,178.4 418.1,179.6 416.1,180.9 415.9,181.6 414.1,183.4 412.9,182.9 411.6,183.9 409.4,184.1 407.9,185.6 406.9,185.6 405.4,187.4 402.9,187.9 400.1,186.4 397.1,186.9 396.6,185.9 393.4,186.1 391.9,184.6 390.9,184.1 390.1,184.1 388.6,183.1 387.9,183.1 385.6,182.1 384.6,182.6 383.4,181.6 381.1,181.6 380.6,182.1 377.9,182.1 377.6,181.9 374.6,182.1 373.4,181.6 371.9,181.6 370.4,182.4 366.9,182.1 362.9,184.1 360.6,184.4 359.6,185.4 357.9,184.6 355.9,184.6 354.6,183.6 350.6,183.1 349.9,182.4 348.1,182.4 346.9,182.9 346.1,182.1 345.4,182.1 344.6,182.6 340.1,182.1 335.6,182.6 334.9,182.1 333.6,182.1 331.6,182.6 329.4,184.9 327.4,185.1 324.6,187.1 322.6,187.6 321.4,189.1 319.4,190.1 318.4,191.9 316.1,193.1 315.4,194.1 315.1,193.9 314.6,194.1 314.4,195.4 312.9,196.4 312.9,197.6 312.1,197.9 311.9,198.6 312.4,200.4 311.9,202.1 308.9,204.6 306.4,204.9 304.9,206.1 304.1,208.1 303.1,208.9 302.6,210.4 301.4,211.4 301.1,212.6 300.4,213.4 300.4,215.4 299.9,216.6 298.9,217.4 299.1,218.9 298.6,219.6 295.9,221.1 295.1,222.1 294.1,222.1 293.6,221.4 293.4,221.6 293.1,221.4 290.9,221.6 290.1,221.4 288.9,222.6 286.9,222.9 285.9,224.4 284.9,224.1 285.4,225.4 285.4,228.9 286.4,230.1 286.4,230.6 285.6,231.4 285.6,232.9 284.9,234.1 286.1,238.1 285.6,242.1 284.1,245.1 283.6,244.4 282.4,244.9 280.9,244.6 279.9,245.4 279.1,245.1 278.4,245.4 277.6,246.4 276.1,245.4 275.1,245.4 273.4,244.6 272.9,243.9 271.9,243.9 271.6,245.9 272.6,248.1 272.6,249.4 272.1,250.4 273.6,253.9 273.1,254.6 273.4,257.1 274.4,259.4 275.4,260.1 275.9,261.1 276.4,264.1 278.4,267.1 278.4,269.9 279.4,271.6 278.9,272.6 278.9,273.6 278.4,273.9 278.1,276.4 278.9,277.9 278.4,282.6 279.9,283.4 279.6,285.9 280.6,286.4 281.1,287.6 282.6,288.4 284.1,291.1 285.1,291.6 285.4,292.9 286.4,294.1 286.4,296.1 285.4,296.9 285.4,297.6 284.4,298.6 283.1,301.1 282.9,302.6 282.4,303.1 282.6,305.6 283.1,305.9 283.4,307.9 283.1,308.1 284.6,310.6 285.1,313.9 285.6,314.4 286.1,316.4 286.4,315.6 287.1,315.1 287.6,313.6 288.4,312.9 290.4,312.4 292.4,310.6 293.9,310.6 294.9,311.4 294.6,314.1 293.1,316.4 293.9,317.6 293.4,318.9 294.1,319.9 293.9,320.9 294.1,321.9 293.1,323.4 293.4,324.9 292.1,326.1 291.4,328.4 292.1,329.1 293.6,328.4 294.9,329.9 297.6,330.6 299.1,332.6 299.9,334.6 300.9,335.4 301.1,337.6 304.1,339.4 305.6,340.9 305.6,341.6 304.6,342.6 304.6,343.4 303.1,344.6 301.6,345.1 299.4,344.9 298.6,342.6 296.9,341.4 296.1,339.6 296.4,339.4 295.4,337.6 295.1,335.6 294.6,335.4 293.9,329.4 292.9,330.6 288.9,332.6 287.4,332.6 285.6,331.6 284.9,331.6 283.6,332.4 280.9,332.4 279.9,331.4 277.9,331.6 276.1,330.4 273.9,329.9 271.1,327.4 267.9,326.1 268.1,327.6 266.4,331.1 266.4,331.9 267.4,333.9 267.1,334.9 266.1,334.9 264.9,333.4 263.6,333.1 262.1,330.6 260.1,330.6 258.4,331.1 257.9,331.6 256.6,331.4 254.1,331.6 255.1,332.9 257.6,334.9 257.9,335.6 258.9,335.6 259.4,336.1 259.4,337.1 259.9,337.1 260.6,337.9 260.9,338.9 259.9,339.9 258.9,339.9 259.1,340.9 258.6,341.6 257.6,341.9 256.9,342.6 255.6,342.9 255.4,343.6 255.9,345.4 254.4,347.6 253.6,351.6 253.9,352.6 253.4,353.1 252.4,352.1 252.6,351.6 251.9,350.1 250.1,348.4 251.6,341.6 250.6,341.9 247.6,341.6 246.9,342.1 244.1,342.1 242.6,342.9 241.6,342.4 241.4,343.9 239.9,344.6 239.6,345.1 239.9,346.1 238.6,347.6 238.4,348.9 236.9,351.9 234.6,355.1 235.4,355.9 234.6,357.4 236.6,358.1 237.1,358.6 237.1,359.6 238.4,360.6 237.9,362.6 237.1,363.1 236.1,364.9 236.6,365.4 238.1,365.1 240.4,363.4 240.6,363.6 243.1,363.4 244.1,364.1 245.9,364.4 246.4,365.1 247.9,366.1 247.9,366.9 248.1,366.6 249.1,368.6 248.9,370.1 249.4,370.4 249.1,372.1 250.1,373.1 249.9,375.9 250.4,376.9 250.9,376.9 252.4,375.1 253.4,376.9 253.4,378.4 253.9,380.1 253.1,381.4 253.4,381.6 253.1,382.9 253.6,384.6 255.1,385.4 255.4,391.4 256.6,393.4 256.9,395.4 256.6,395.6 258.6,395.6 260.6,396.1 261.1,393.9 260.9,393.1 259.4,392.1 259.4,391.1 258.6,390.6 258.6,388.6 257.9,387.6 258.1,385.6 258.6,384.9 257.9,384.1 256.9,381.6 257.1,378.6 256.6,377.1 255.4,375.6 254.6,375.4 253.9,376.1 253.4,376.1 252.9,375.1 253.1,374.9 253.6,375.1 253.9,374.6 256.1,373.6 256.9,372.4 256.9,371.6 257.9,371.4 258.4,372.4 259.4,371.9 261.4,372.4 262.6,373.6 263.6,373.9 265.9,376.4 266.1,377.9 265.6,380.1 266.1,380.4 266.1,381.4 266.6,382.4 266.6,384.1 267.6,384.6 267.1,385.9 268.1,387.4 268.1,389.1 268.9,390.1 268.9,391.1 267.9,392.6 267.9,394.4 267.4,394.9 268.1,396.4 269.4,397.4 269.6,398.4 271.1,399.9 270.9,401.1 271.4,401.9 270.6,403.1 270.9,406.4 270.4,406.9 270.9,407.1 271.4,408.1 271.6,409.9 272.9,411.1 272.4,416.4 271.9,417.4 271.1,417.9 271.1,418.9 271.9,419.6 270.9,421.1 270.9,423.1 270.1,425.9 273.1,428.9 275.1,428.9 276.1,429.6 276.1,430.6 276.6,430.6 278.1,432.1 280.4,436.6 280.6,438.6 282.4,440.4 283.4,440.9 284.4,441.9 284.6,442.6 286.1,442.9 286.9,443.4 288.4,443.4 289.6,444.4 289.4,444.6 287.4,444.4 286.9,444.9 284.6,445.4 283.9,446.4 282.4,446.1 279.4,447.1 276.9,447.4 274.9,448.6 270.9,448.4 271.4,450.1 270.6,451.6 272.4,452.1 273.6,453.4 276.4,451.9 276.6,451.4 277.9,451.6 278.4,453.1 279.1,453.9 278.9,455.6 280.1,456.1 280.6,455.9 284.4,459.6 285.1,461.6 284.9,463.9 285.4,464.6 282.9,466.4 281.6,466.1 279.9,466.9 277.6,466.9 276.4,469.4 276.1,470.6 274.6,471.4 274.4,472.1 272.1,474.4 272.1,475.6 271.1,477.6 269.4,479.1 267.9,481.6 265.6,483.4 265.4,483.9 265.6,485.1 265.4,489.1 265.9,488.9 266.4,489.4 267.9,489.6 268.1,489.4 268.6,489.6 269.4,489.1 270.1,489.9 272.9,490.6 274.6,490.4 275.6,491.1 275.9,491.9 276.6,491.9 277.6,491.1 279.9,491.6 279.1,492.1 279.4,492.6 279.1,492.9 277.4,492.9 275.6,493.4 274.4,493.4 273.6,492.9 273.1,493.1 271.1,495.9 269.9,495.4 269.4,496.9 267.4,496.9 266.4,499.1 264.6,500.9 264.1,500.6 263.6,500.9 262.9,503.1 262.1,503.6 262.6,504.1 262.1,504.4 262.6,504.9 262.4,505.9 261.1,506.6 260.6,510.6 260.1,511.4 259.9,513.1 258.9,514.1 258.9,514.9 258.1,515.4 258.1,518.6 257.1,519.4 255.6,521.6 251.9,523.6 251.4,524.6 251.6,527.4 250.9,528.1 251.4,529.4 252.9,530.4 253.9,533.9 255.9,536.1 257.6,539.9 257.6,541.6 258.9,542.9 260.4,543.1 261.6,544.4 261.9,545.4 262.4,545.9 263.1,545.9 263.9,546.6 263.9,547.6 262.1,548.9 260.6,552.4 258.9,554.1 257.6,554.4 256.4,555.1 256.9,556.9 256.9,558.6 256.1,560.1 256.4,563.1 257.1,565.1 258.6,566.9 258.4,567.1 259.4,569.6 259.1,571.9 259.9,573.4 258.1,574.6 256.4,574.6 255.4,575.6 254.4,575.9 254.1,575.6 254.4,573.9 253.6,573.1 253.6,571.6 252.6,571.9 251.1,573.1 250.4,573.1 250.6,574.6 251.4,575.6 251.4,576.6 251.9,576.1 253.1,576.1 253.6,576.6 254.1,575.9 255.4,577.1 255.6,578.1 254.1,580.4 255.6,581.4 255.4,582.1 255.6,583.1 253.9,584.4 251.9,584.6 251.4,585.1 250.1,584.9 248.6,585.9 247.6,585.1 247.1,585.4 247.1,586.1 246.1,587.6 245.9,589.4 245.4,589.6 245.1,590.4 245.6,591.1 244.9,592.4 244.9,593.6 245.4,594.6 245.1,596.6 246.4,598.4 246.4,598.9 247.4,599.4 248.1,601.1 250.1,600.9 251.4,601.9 251.9,601.6 254.1,602.4 254.6,602.1 257.6,603.6 258.6,605.1 260.6,606.6 261.1,608.6 264.1,612.6 263.6,613.4 263.6,614.4 264.1,615.1 263.6,616.1 263.6,618.1 264.6,619.9 264.9,621.4 266.4,621.9 266.1,624.1 266.6,625.4 267.1,625.6 267.4,626.9 266.9,627.6 267.4,628.6 267.1,629.4 267.9,630.9 267.9,632.9 268.4,633.6 269.6,631.9 271.6,630.9 274.6,627.6 274.9,626.9 275.6,626.4 276.6,624.4 277.4,623.9 277.6,622.1 278.6,620.6 281.9,618.1 283.1,616.6 285.1,615.4 286.6,617.9 287.1,617.6 288.4,615.6 289.4,615.4 290.1,614.6 290.1,613.4 290.6,612.6 290.9,610.6 290.6,608.4 291.1,607.6 291.1,606.6 291.9,604.6 291.9,600.4 292.1,600.1 294.6,602.9 294.6,604.6 295.1,605.6 295.1,606.6 296.4,608.6 295.4,610.9 295.4,611.9 295.9,612.6 295.9,613.4 296.9,614.4 297.1,616.9 298.1,617.9 297.9,618.1 298.1,618.4 298.9,617.6 301.9,616.4 303.9,616.6 305.1,615.6 305.6,615.9 306.4,615.6 308.1,613.4 307.9,613.1 308.1,612.4 310.1,610.4 310.6,605.4 311.1,603.1 311.6,602.6 311.9,599.4 313.6,598.4 314.6,598.1 315.6,598.4 316.1,597.9 316.4,596.1 317.4,596.1 318.6,595.4 319.1,595.9 319.9,595.9 321.1,594.4 324.9,591.9 325.4,592.1 329.1,589.9 329.4,588.9 330.1,588.1 331.6,587.6 332.6,586.6 332.9,585.9 333.6,585.4 334.9,585.6 335.9,584.9 338.1,585.1 339.6,586.6 339.4,588.1 339.9,590.1 338.6,591.1 336.6,590.4 335.9,590.6 335.9,591.4 334.9,592.4 334.9,592.9 334.1,593.6 333.1,593.9 333.4,595.6 333.1,596.4 331.4,597.1 331.4,598.1 330.1,599.6 329.6,601.6 328.6,601.9 325.1,604.6 324.6,605.6 323.9,606.1 324.1,606.9 323.9,607.9 325.1,608.9 325.1,610.4 325.9,610.6 327.1,609.6 327.6,610.4 327.4,611.1 329.4,610.6 330.9,611.6 332.1,610.9 333.6,611.6 334.1,611.4 336.1,613.4 337.4,613.6 339.4,615.1 340.9,614.9 342.1,616.1 342.4,615.4 345.4,612.9 345.4,612.1 346.6,610.6 347.4,610.6 350.1,608.6 350.6,607.9 350.4,606.6 351.6,605.4 351.6,604.1 352.1,603.1 356.1,603.4 357.9,602.6 359.1,602.6 358.6,601.6 358.6,600.4 355.4,596.4 353.9,592.1 352.1,590.9 351.6,589.4 349.9,587.9 349.9,585.9 349.6,585.1 348.9,584.6 349.4,581.6 347.1,578.1 348.9,575.9 351.6,575.4 352.6,574.4 354.6,574.4 355.1,573.9 356.4,573.6 358.1,572.6 358.1,572.1 358.9,571.4 361.4,570.4 362.9,570.1 363.1,570.6 364.9,571.4 364.9,573.1 365.4,574.1 365.9,578.1 365.9,580.4 366.6,581.4 365.9,582.9 366.4,583.4 366.6,584.9 366.1,585.1 366.4,586.9 365.4,587.9 365.9,588.6 365.9,589.6 365.1,590.1 363.9,593.1 366.9,597.4 369.9,593.4 369.9,591.1 371.1,588.9 371.1,587.1 372.4,585.9 373.1,584.4 373.9,584.1 378.4,588.6 380.1,586.4 381.6,585.4 381.6,584.9 382.4,584.1 382.1,583.1 382.6,581.9 382.6,580.1 383.1,579.6 383.6,577.6 383.1,576.6 383.9,576.4 384.4,575.6 384.6,573.6 385.1,572.9 384.6,572.4 383.1,573.9 379.6,574.1 379.4,574.9 377.9,576.4 375.6,577.4 374.4,577.4 373.4,578.1 373.1,576.4 371.4,575.4 370.9,573.9 369.1,572.4 369.1,571.9 368.4,571.1 368.6,570.9 368.1,569.1 368.1,565.4 368.4,565.1 369.6,565.9 370.4,565.6 371.9,566.6 372.9,566.6 373.4,567.6 375.1,565.9 376.9,565.1 377.9,564.1 379.6,564.1 380.4,563.4 382.4,563.1 382.6,563.6 383.6,563.6 384.6,562.4 386.4,561.6 387.9,562.4 389.6,562.1 390.6,563.1 391.9,561.9 393.4,561.6 395.6,560.1 396.1,559.4 396.4,556.9 397.9,556.4 399.1,557.1 400.1,558.1 400.1,558.6 401.9,557.9 402.9,555.9 404.4,555.6 405.4,554.4 405.9,552.6 406.1,552.9 406.4,552.4 406.6,552.6 408.9,552.4 409.9,552.6 410.4,553.4 409.9,556.1 410.4,558.4 411.1,559.6 410.9,559.9 411.1,561.6 412.4,561.9 413.4,562.9 413.4,563.4 413.9,563.1 414.6,563.6 415.4,563.6 415.9,562.6 416.6,562.1 417.9,564.1 417.6,564.4 417.9,566.1 420.9,566.6 422.1,565.9 423.1,564.6 423.4,564.9 424.1,564.6 426.1,565.4 428.1,567.1 427.9,566.1 428.6,565.1 429.9,565.1 430.1,564.6 430.9,564.9 431.4,564.4 433.4,565.1 433.6,564.1 434.9,563.1 437.4,563.6 438.4,565.4 438.4,566.9 438.9,567.9 440.6,569.1 441.1,570.4 441.6,570.6 441.6,571.9 442.4,572.4 442.6,571.9 444.9,571.1 445.1,569.1 444.6,568.4 444.6,567.6 445.9,566.4 446.1,565.6 445.9,565.4 446.1,563.6 445.4,561.1 444.4,561.4 441.6,560.6 440.9,559.9 440.1,558.1 438.6,556.6 438.6,555.4 439.9,554.9 440.1,554.1 440.9,553.9 442.4,555.4 444.4,556.1 445.1,556.9 446.9,556.6 447.4,557.1 448.1,557.1 449.4,556.1 450.1,556.4 450.9,554.6 449.4,552.9 448.9,551.4 447.6,550.9 446.4,549.4 444.6,548.4 446.4,547.4 447.1,547.6 450.4,546.4 451.1,546.9 453.4,547.4 454.4,548.1 455.4,548.1 456.4,548.9 457.1,547.9 458.1,547.9 459.4,546.6 460.4,546.9 461.9,546.4 461.4,543.9 460.9,543.6 460.4,542.6 459.4,542.1 459.6,540.6 460.4,540.1 460.6,537.9 461.4,537.1 461.9,537.6 463.4,537.9 465.9,540.1 467.9,540.1 468.6,541.4 470.6,541.9 471.9,543.1 472.6,542.4 474.6,544.1 475.4,544.4 476.4,545.4 476.6,547.1 477.4,547.4 477.9,548.4 480.4,550.6 480.6,552.1 481.4,553.4 481.4,554.4 482.4,556.4 482.6,555.1 483.4,554.6 483.4,552.1 483.9,550.9 483.6,549.1 488.1,545.4 489.1,545.6 491.1,544.4 492.4,544.1 493.1,544.9 493.6,546.4 495.6,548.6 496.9,547.6 497.9,547.4 498.9,545.9 499.6,546.9 500.9,547.1 502.1,548.1 504.4,547.9 505.9,545.6 507.4,545.1 508.4,542.9 509.4,542.1 509.4,541.6 510.4,540.6 512.9,539.6 513.6,538.1 513.6,536.9 514.6,535.9 516.9,535.1 516.9,534.4 518.1,533.4 518.1,532.6 519.9,531.6 519.9,530.6 521.1,529.9 521.4,528.6 522.4,527.4 522.4,526.4 523.9,524.9 523.4,523.1 523.4,521.1 523.9,520.1 523.6,519.4 524.4,517.4 526.6,515.4 528.1,513.4 528.1,512.6 529.1,511.9 529.4,510.4 530.4,509.4 530.6,506.6 532.6,503.4 534.1,502.9 534.9,501.4 536.1,501.6 536.4,501.1 536.1,498.9 536.9,498.1 536.6,496.9 537.9,494.9 537.6,492.1 538.1,490.6 538.6,490.4 538.9,489.4 538.6,486.9 539.6,485.1 539.1,483.9 539.6,481.9 539.4,480.6 540.1,479.6 539.9,478.4 540.1,476.9 539.9,476.6 540.4,475.4 541.1,474.6 540.9,473.1 541.9,471.9 542.1,469.4 543.1,468.1 542.9,465.6 543.4,464.9 543.1,463.4 543.4,461.6 542.9,460.6 543.9,459.4 543.4,457.9 544.9,454.9 544.9,453.1 546.9,449.1 546.6,448.9 546.6,447.4 547.1,446.1 546.9,444.4 547.4,443.9 547.4,442.6 548.1,441.6 548.1,440.6 549.1,439.6 549.1,437.9 548.6,435.9 547.6,434.6 547.4,435.4 545.1,436.9 543.6,438.9 541.9,439.1 541.1,441.4 540.6,441.9 539.9,441.9 538.6,442.9 537.6,442.1 536.1,442.6 535.1,442.4 533.1,440.4 531.9,437.6 531.6,435.1 533.9,432.9 534.1,431.4 535.4,429.9 534.4,428.4 534.1,425.6 532.9,424.1 532.6,421.4 531.6,420.4 530.9,416.9 531.1,415.4 530.4,414.1 531.1,408.4 530.6,405.6 531.6,404.4 531.6,403.1 532.1,402.4 532.4,400.9 533.4,399.9 533.1,396.9 533.4,395.9 533.9,395.6 533.9,394.4 534.4,393.4 534.1,391.1 535.4,388.4 535.4,387.1 534.1,385.9 534.1,385.1 535.1,383.6 534.9,382.6 535.1,379.4 534.4,378.1 534.1,376.6 534.4,374.4 533.4,371.1 532.6,370.4 532.4,368.9 532.9,368.4 533.6,368.6 533.9,366.4 536.1,363.4 536.4,361.6 536.1,359.9 537.9,357.9 538.1,356.9 537.1,354.4 537.4,352.4 535.9,351.6 536.1,349.4 535.6,348.9 535.9,347.1 534.1,344.1 534.1,340.9 533.9,340.6 534.1,340.1 533.4,338.6 532.1,337.6 532.9,335.6 533.1,333.6 532.4,332.6 532.6,330.9 532.1,330.4 532.4,328.9 531.6,325.9 531.9,320.9 530.9,319.6 531.1,319.1 530.1,317.9 529.9,315.9 528.9,315.4 528.1,314.4 527.4,312.4 527.4,311.4 526.6,310.6 526.9,308.4 525.9,307.6 524.4,305.6 524.9,302.6 524.6,300.9 523.6,299.1 523.6,297.9 522.4,297.4 521.6,295.4 520.4,294.4 519.9,293.1 518.4,292.9 517.4,291.9 517.4,290.1 516.1,287.6 513.4,285.1 513.4,283.6 511.6,281.1 511.4,280.1 508.4,277.6 508.1,275.6 506.9,273.6 506.4,271.6 505.4,270.6 503.6,267.1 503.1,264.6 502.6,264.1 501.1,264.4 500.1,263.6 500.4,261.4 499.1,260.1 499.4,259.6 499.1,258.6 498.1,257.9 497.9,254.9 495.9,253.4 495.4,252.6 495.4,251.6 494.9,251.1 493.9,251.1 492.4,249.4 491.4,248.9 491.6,247.4 488.4,244.6 487.9,242.9 486.9,242.6 486.1,241.9 485.9,240.4 484.4,238.9 484.4,238.4 483.1,236.9 481.6,235.6 480.6,233.1 478.1,230.9 477.9,229.6 476.9,228.1 476.6,226.9 475.9,226.1 475.6,224.9 474.4,223.9 474.4,223.1 472.6,221.9 472.1,220.6 471.1,219.9 471.1,219.1 467.6,215.6 468.1,213.9 466.9,213.1 465.1,211.1 464.9,209.4 463.4,208.1 463.4,207.1 462.6,205.9 461.6,205.1 461.1,203.4 458.4,200.1 458.4,198.9 457.1,197.4 457.1,195.6 455.6,193.6 456.1,193.1 455.4,191.4 454.6,190.9 454.4,191.1 453.6,190.4 453.9,189.9 453.6,188.4 452.9,187.9 452.4,186.9 452.4,185.4 451.9,184.4 451.1,183.9 450.9,183.4 451.1,182.9 449.9,180.6 450.4,179.1 448.1,176.6 447.9,175.6 446.6,174.1 446.6,173.1 445.9,171.9 446.1,170.4 444.6,169.6 444.1,168.9 444.4,168.4 444.1,167.9 442.9,167.6 442.1,166.4 441.9,164.9 442.1,163.1 441.4,162.1 439.9,157.1 438.9,156.6 438.4,155.9 438.6,154.6 437.6,153.1 436.6,153.4 436.1,152.9 436.4,152.1 435.9,151.6 434.6,151.6ZM343.1,578.6 340.6,581.1 340.4,581.9 340.6,582.1 339.9,583.4 338.4,583.4 336.1,584.9 335.6,584.6 337.6,582.4 338.1,581.4 337.9,580.4 338.6,579.9 339.4,580.1 342.6,578.4Z" fill-rule="evenodd" clip-rule="evenodd"/></clipPath></defs>
<path d="M306.6,725.1 307.4,725.9 307.1,726.4 309.1,726.6 308.6,725.6 308.6,724.6 307.6,724.6ZM304.1,727.1 302.9,726.1 302.9,724.6 301.1,722.9 299.6,722.9 299.1,722.4 299.1,721.1 297.4,720.6 294.9,719.1 294.1,719.4 293.9,719.1 293.6,719.4 289.6,719.1 288.4,720.1 287.9,719.9 285.9,720.1 285.1,719.4 284.6,719.4 284.1,719.9 278.4,720.4 277.4,721.4 276.1,720.6 274.9,722.1 274.1,721.9 271.4,722.6 270.6,722.4 269.4,722.9 268.4,722.6 268.1,723.1 266.1,722.9 265.1,724.1 263.4,723.9 262.4,724.4 260.9,724.4 260.1,725.1 258.6,725.1 257.6,726.1 256.4,725.9 255.9,727.1 255.1,727.6 254.6,727.4 254.1,727.6 253.6,727.1 251.9,727.4 250.1,729.1 248.9,728.9 246.6,730.1 246.4,730.9 244.4,732.1 244.1,733.4 243.4,733.9 242.6,733.9 242.1,735.1 240.4,736.4 240.1,737.4 239.4,738.1 238.1,738.6 235.9,740.9 235.9,741.6 235.1,742.9 233.4,744.4 233.1,744.9 233.4,747.4 232.9,748.6 234.1,749.6 234.9,751.4 236.1,751.4 237.4,752.1 237.4,752.9 239.1,754.4 239.4,755.1 240.4,756.1 240.6,757.1 243.4,759.6 243.9,758.6 245.6,756.9 247.4,756.6 248.6,755.9 248.9,756.1 250.1,755.9 250.4,755.4 252.6,755.1 253.1,754.6 255.1,754.9 255.6,754.1 256.4,754.1 257.4,755.1 259.1,754.9 260.6,755.6 261.4,755.6 262.9,754.9 263.4,755.4 264.1,755.4 266.6,754.1 267.9,754.4 269.6,753.9 270.9,753.9 273.6,754.9 275.1,753.9 276.4,752.4 277.4,753.1 278.4,751.6 280.4,751.1 282.4,750.1 283.9,750.6 285.1,749.4 287.6,749.6 289.1,748.6 291.6,748.6 292.9,747.4 294.6,746.9 297.4,745.1 299.1,742.9 298.9,742.6 299.1,741.9 300.4,741.1 301.4,738.1 302.1,737.6 302.6,736.9 302.4,736.6 303.4,735.9 302.9,733.9 303.9,732.4 304.1,729.4 303.6,728.6 303.6,727.9ZM247.9,674.4 247.4,674.9 247.6,676.6 248.6,676.4 249.1,675.1ZM303.6,670.9 303.4,671.9 304.6,672.6 305.4,672.1 305.1,670.9ZM338.6,662.6 338.9,665.1 338.4,665.9 338.6,666.4 340.4,666.1 340.9,666.6 340.6,666.9 340.9,666.9 340.4,666.1 340.6,665.9 341.4,665.9 342.1,666.4 342.4,665.9 341.6,663.9 340.9,663.1ZM135.1,656.6 136.1,658.4 135.9,658.9 136.4,660.4 137.1,660.6 138.4,660.1 136.4,656.4ZM278.1,648.1 277.9,650.4 277.4,650.9 277.4,651.4 278.6,651.6 278.6,652.6 278.1,653.1 278.6,653.6 280.9,653.9 281.1,652.9 280.9,651.4 281.6,648.6 280.6,648.1ZM304.6,645.6 302.6,646.1 302.1,645.9 301.9,646.4 300.6,646.1 299.1,646.4 300.1,649.1 300.9,649.6 300.6,651.9 301.1,652.4 302.1,651.9 302.6,651.1 303.6,650.9 304.9,651.1 305.1,648.1 304.4,646.1ZM273.4,644.9 272.9,645.6 271.9,645.9 270.4,647.6 269.1,648.1 268.6,648.6 268.6,649.4 267.1,650.9 267.4,652.6 268.1,654.1 268.4,653.9 272.1,654.1 273.6,652.4 273.4,651.4 274.1,650.6 274.6,649.4 275.4,649.1 274.1,645.6ZM336.9,642.9 334.6,643.4 333.9,643.1 333.9,644.1 333.4,644.9 333.6,645.6 334.1,645.4 336.1,645.6 336.4,644.4 337.1,643.9ZM220.1,633.4 220.4,635.6 221.4,636.4 226.6,636.6 226.6,633.9 224.6,633.4 223.9,634.1 223.1,634.1 222.6,633.6 221.6,633.9 220.9,633.4ZM313.4,631.6 311.9,631.4 310.6,631.6 310.1,632.1 308.1,631.9 308.9,633.1 308.9,634.4 310.1,635.1 312.6,634.9 313.6,633.9 313.1,632.9ZM299.9,630.1 298.4,631.4 297.4,631.1 295.1,631.9 295.6,633.9 296.6,634.4 296.9,634.9 299.9,633.6 301.4,634.1 300.6,632.9ZM313.4,628.6 313.6,629.1 314.9,629.6 315.1,631.4 315.6,631.6 315.9,632.4 316.9,632.6 318.1,631.9 319.4,631.6 319.4,630.6 318.4,628.9 318.4,628.1 315.9,627.9 315.4,628.6 315.1,628.4ZM279.9,625.6 279.4,626.1 279.4,627.4 281.1,631.4 280.9,632.6 281.9,633.4 282.4,634.4 283.4,634.1 285.9,636.1 287.4,635.4 287.9,635.6 288.6,635.4 287.9,633.9 288.6,632.9 288.6,632.1 287.9,630.9 288.1,630.1 286.6,628.6 285.9,626.4 285.1,625.4 284.6,625.1 283.9,625.6 281.6,626.1ZM300.1,625.1 300.4,626.9 300.1,627.1 299.9,626.9 299.9,627.4 301.4,629.9 302.4,629.9 303.1,629.4 306.6,628.6 306.1,628.1 305.6,625.4 304.6,625.1 303.9,625.6 303.1,625.6 301.4,624.9ZM296.4,621.6 294.9,621.9 293.9,622.6 292.4,622.6 290.9,623.6 291.1,625.1 293.4,628.1 294.9,626.9 298.1,625.6 297.4,624.9ZM356.9,618.6 357.1,619.4 356.9,619.9 357.9,621.9 360.1,621.4 361.9,621.9 362.1,621.4 361.9,619.1 361.1,618.4 360.4,618.4 359.9,618.9 359.1,618.9 358.4,618.4ZM319.1,618.4 316.6,618.6 316.9,621.9 318.1,622.1 318.9,621.4 318.4,620.4ZM333.1,615.1 329.9,615.4 328.4,614.9 326.4,616.4 325.6,616.1 323.1,616.4 322.9,616.1 322.6,618.1 323.4,618.6 323.1,619.1 323.4,619.4 322.9,619.9 324.9,620.1 325.6,621.6 326.6,621.6 327.1,621.1 328.6,620.9 330.6,621.4 331.6,620.4 332.1,620.6 332.9,619.4 332.6,618.1ZM357.4,612.1 355.6,613.4 355.4,613.1 354.4,613.4 354.9,614.4 354.1,615.9 354.4,616.6 355.1,616.9 355.9,616.6 356.9,615.6 358.4,615.6 358.4,614.4ZM379.1,608.1 379.6,610.6 381.1,612.9 382.6,613.9 383.4,613.9 384.1,614.9 385.1,615.4 385.6,613.6 386.1,613.4 384.9,611.9 385.1,609.6 381.9,608.4ZM252.1,609.1 251.6,608.6 250.4,608.4 249.1,606.6 248.1,606.4 247.4,605.6 245.1,604.9 244.9,605.1 243.9,604.9 242.4,606.9 240.6,607.6 240.6,608.6 239.1,609.6 237.9,611.4 236.6,611.6 236.1,612.9 234.9,613.1 234.4,614.1 232.6,615.1 228.4,619.4 228.9,620.6 228.6,621.4 229.4,622.6 229.4,623.6 231.1,626.1 232.9,625.9 233.4,626.9 234.9,626.6 236.9,627.4 237.9,627.4 238.6,626.6 240.4,626.4 241.4,625.6 243.4,625.1 244.9,623.6 246.4,623.9 247.1,623.4 247.6,622.4 248.9,622.1 249.9,620.9 249.9,619.9 251.9,618.9 251.6,617.9 251.9,617.1 253.4,616.1 253.4,615.6 252.9,615.4 252.9,613.6 252.4,613.1 252.9,611.1 252.1,609.9ZM377.1,603.1 376.6,602.9 374.6,603.6 373.1,603.4 372.9,606.4 374.1,606.4 374.9,606.9 376.4,607.1 375.4,606.4 375.4,605.9 377.1,604.1ZM222.4,598.6 222.1,600.9 223.1,602.4 223.1,603.6 223.9,604.6 224.1,606.4 224.6,606.6 225.4,606.4 226.4,606.9 227.6,606.6 226.6,602.1 226.1,601.6 226.1,600.9 226.9,599.9 227.1,598.6 224.9,598.4 224.4,598.9ZM205.9,598.1 202.9,598.6 202.9,599.9 203.6,601.9 205.4,601.1ZM428.4,595.4 427.9,597.1 427.9,598.6 429.4,598.6 430.6,599.6 431.1,599.4 431.1,597.1 430.6,595.9 429.1,596.1ZM231.9,593.9 231.6,594.4 232.1,595.9 231.9,596.4 232.6,598.1 232.4,598.4 233.6,598.4 234.4,599.1 235.4,599.4 235.4,598.1 236.1,596.9 235.6,594.9 232.9,593.9ZM379.6,592.6 380.6,595.4 380.1,596.6 380.9,597.4 380.9,598.9 381.4,599.6 381.1,601.4 381.9,601.4 385.9,603.6 386.1,602.1 385.6,601.6 385.6,600.9 386.9,598.4 386.6,598.1 386.9,597.6 386.1,596.4 386.6,593.6 382.4,592.6 381.4,592.6 380.9,593.4ZM421.6,590.1 421.9,591.6 422.6,591.1 423.9,591.1 423.9,590.1 423.1,590.4ZM447.1,588.1 447.4,588.6 449.4,589.4 447.9,588.1ZM233.4,581.9 232.9,582.6 231.1,582.1 229.9,583.4 227.4,583.9 227.9,586.1 228.4,586.4 228.1,587.1 227.6,587.4 228.6,587.1 228.9,587.9 230.4,588.6 230.1,589.9 231.1,589.6 232.4,590.4 233.4,589.4 233.9,588.1 235.4,587.1 234.9,586.4 234.6,585.1 234.9,584.9 233.4,582.9ZM452.1,579.9 450.4,579.6 448.6,580.9 449.1,583.6 450.4,582.9 450.9,583.1 451.9,582.9 451.9,582.1 452.4,581.4ZM216.9,578.9 215.9,579.1 215.1,580.1 214.6,580.4 214.4,580.1 213.9,581.9 211.4,581.4 209.9,582.4 210.1,584.4 211.4,585.6 211.1,585.9 211.9,587.4 212.6,587.9 214.4,587.4 215.1,587.9 214.6,588.6 213.1,588.9 213.1,589.4 214.4,591.6 215.6,592.6 215.6,594.4 220.4,592.9 219.6,591.6 219.6,590.6 219.1,590.1 219.1,588.6 218.6,588.4 217.4,589.4 216.6,589.1 217.6,587.1 217.4,585.6 217.9,584.9 218.4,584.9 218.6,583.9 218.4,581.9 217.4,580.6ZM235.1,579.9 234.4,578.9 233.1,578.4 232.1,579.4 231.1,579.6 230.6,580.4 231.1,581.1 232.9,581.6 234.6,581.1ZM441.6,575.1 441.9,577.4 441.6,579.1 443.1,581.6 445.6,582.6 445.9,581.4 446.4,580.9 446.9,581.1 446.6,580.1 446.9,579.1 445.4,575.4 444.9,574.9 443.4,575.6 442.4,575.6ZM422.6,573.4 423.1,575.6 423.6,576.1 423.9,578.1 424.1,577.9 426.4,578.4 427.1,579.1 427.9,578.9 427.6,578.4 428.1,577.4 428.9,576.9 427.4,575.4 426.4,572.6ZM231.6,571.1 228.9,571.4 228.1,572.4 226.6,572.4 227.1,574.1 228.6,575.1 228.4,577.4 229.1,578.1 230.9,577.4 231.9,576.1 233.4,575.9 232.9,575.1 233.1,573.9 232.9,572.9ZM405.6,567.6 404.9,568.9 404.1,569.4 404.4,570.4 403.9,571.4 404.1,573.6 404.4,573.9 404.9,573.6 406.9,573.9 409.4,573.4 409.6,572.4 408.9,571.4 410.1,570.4 410.4,569.9 410.1,568.9ZM250.4,565.4 248.6,566.4 247.1,566.6 247.1,568.9 248.4,571.4 249.9,569.9 250.9,569.6 251.9,568.6 250.9,567.6ZM225.1,564.9 223.9,566.1 222.6,566.1 220.4,567.9 220.6,568.4 220.1,570.1 221.1,571.6 220.9,572.1 221.9,572.4 222.6,572.1 223.6,572.6 224.1,572.4 224.6,572.6 225.4,571.6 227.9,570.4 228.1,569.6 227.4,567.4 226.6,567.4 225.9,566.9ZM243.1,563.9 240.4,564.1 240.6,564.9 240.4,566.1 241.9,566.4 243.4,565.4ZM392.9,563.6 391.9,566.1 390.9,566.6 388.9,568.6 388.1,570.4 388.4,573.4 388.9,574.1 389.1,575.6 389.6,576.1 389.4,577.9 390.1,579.4 390.1,581.1 391.6,582.9 391.4,584.1 392.1,584.9 391.9,586.6 393.1,587.4 395.1,587.1 395.6,587.6 396.9,587.4 397.9,587.6 398.9,586.6 401.1,585.9 402.6,587.1 403.4,588.4 403.1,588.6 403.4,589.1 404.1,589.4 406.1,588.9 408.6,589.1 409.9,588.4 409.9,587.1 411.1,585.4 411.1,584.6 410.6,584.1 411.1,581.9 410.6,580.6 409.4,579.1 408.6,575.6 408.1,574.9 406.9,575.4 403.4,574.9 401.4,576.6 400.9,577.6 397.4,577.9 396.9,577.4 396.9,576.4 397.9,575.6 398.4,574.4 399.4,573.9 400.1,571.9 399.1,570.1 398.6,569.9 398.9,567.6 397.9,566.9 397.9,566.1 397.1,565.9 396.1,564.9 395.1,564.6 393.6,563.4ZM251.6,558.1 248.9,558.6 249.1,558.9 248.9,561.1 249.4,563.1 250.4,564.6 251.1,564.4 252.4,563.1 253.6,563.4 253.9,562.6 253.4,559.1ZM234.1,553.6 233.4,553.9 232.4,554.9 230.9,555.1 231.4,556.4 232.9,558.1 232.9,559.6 235.4,559.1 235.1,558.1 235.4,556.1ZM471.1,553.9 469.9,553.6 468.9,553.9 467.6,553.4 466.9,554.1 466.6,555.6 465.6,557.1 465.9,557.6 465.6,558.6 464.4,560.4 462.6,561.4 462.4,561.1 461.4,561.6 460.9,562.6 460.9,564.6 460.4,565.1 460.6,565.6 458.6,566.1 457.9,566.9 456.6,566.6 455.6,567.4 454.9,567.1 453.9,566.1 453.1,567.4 451.1,569.4 450.9,570.9 450.1,571.9 450.1,572.6 450.9,573.1 451.4,574.4 452.9,575.1 453.4,574.9 455.1,575.1 456.6,573.4 457.1,573.6 457.6,573.4 458.9,574.4 459.9,574.4 460.6,575.1 460.4,578.4 458.6,580.6 460.1,582.1 460.9,584.9 460.1,588.1 461.1,588.6 462.4,590.1 464.6,587.9 464.6,586.1 465.1,585.6 464.9,583.9 465.6,583.1 467.9,582.9 467.4,581.6 468.1,580.9 469.4,580.6 469.4,578.9 470.1,577.9 472.1,579.9 473.6,579.4 473.4,578.6 473.6,578.4 473.4,576.4 473.6,575.9 472.4,574.6 472.4,573.9 473.1,573.1 473.9,573.1 474.1,572.6 474.1,571.6 473.4,570.6 473.4,568.6 473.9,568.1 472.6,566.9 473.1,564.9 472.6,564.1 472.9,563.6 472.6,561.9 471.9,560.6 471.9,558.4 471.1,557.4 470.9,555.9ZM251.1,548.1 251.4,549.6 252.4,550.1 253.1,551.4 255.1,551.9 257.4,549.1 254.9,548.4 253.9,548.6 253.1,548.1 252.9,548.4ZM241.6,545.4 241.4,545.6 240.1,545.4 239.1,544.4 238.6,544.6 237.6,544.1 236.9,544.9 236.4,544.9 234.6,546.4 235.9,548.6 234.9,548.9 233.9,549.9 233.1,550.1 233.4,551.9 234.9,553.4 235.6,553.1 236.4,553.4 237.4,551.9 237.9,551.9 239.1,553.1 242.6,551.1 243.4,551.1 243.6,550.6 242.9,549.6 242.6,548.1 241.9,546.9 242.1,545.9ZM231.6,544.1 230.6,543.9 230.4,544.1 229.9,543.1 229.4,542.9 229.1,543.4 227.1,543.9 225.6,545.1 225.1,545.1 224.9,546.4 226.1,548.1 226.6,549.9 227.4,550.1 229.6,549.1 230.9,546.9 231.4,546.6ZM248.9,540.1 247.1,541.6 244.9,542.1 244.1,542.9 244.4,544.1 243.6,546.4 245.1,548.4 246.4,547.4 247.1,547.6 249.9,547.4 249.6,546.6 250.9,545.6 250.6,544.4 250.9,543.4 250.4,542.9 250.4,542.1ZM255.1,405.1 253.1,405.4 253.4,406.4 254.9,406.4ZM259.1,401.1 259.6,403.4 261.4,403.4 261.4,401.6 260.4,401.4 260.1,400.9ZM263.9,325.9 263.4,324.9 261.9,325.1 261.6,326.4ZM231.9,318.6 230.4,318.6 230.6,318.9 230.4,321.4 231.1,321.4 232.1,319.9ZM230.9,309.9 230.9,310.6 231.9,311.6 232.1,312.6 234.1,311.6 233.6,310.4ZM249.4,302.6 249.9,303.1 250.6,302.4 251.1,302.4 252.1,303.4 253.9,303.9 253.6,302.4 252.6,303.1 250.6,301.1ZM232.9,301.1 232.4,301.6 233.1,302.4 232.9,304.4 234.4,304.9 236.6,307.1 237.6,306.6 238.4,305.6 236.6,304.1 234.4,301.1 233.9,300.9ZM267.6,299.9 266.1,299.6 265.4,300.1 264.6,300.1 263.9,300.9 263.1,300.9 263.4,303.1 264.4,303.9 264.9,305.1 266.9,303.6 267.1,302.1 268.4,301.4 268.6,300.9ZM276.9,299.4 275.1,301.1 274.6,302.1 275.4,303.4 275.4,304.4 274.1,305.9 274.1,306.4 275.1,307.6 274.1,308.6 275.4,307.9 275.9,306.6 277.4,306.9 278.4,305.6 278.6,305.9 279.4,305.6 281.1,307.1 282.4,307.6 282.1,307.4 282.4,306.6 281.4,304.6 279.6,303.4 278.1,300.1ZM263.1,285.1 260.6,285.6 260.9,286.1 260.4,286.9 260.9,287.6 260.6,288.9 261.4,289.6 262.6,289.9 262.9,289.6 262.6,288.4 263.1,287.4 262.6,285.9ZM275.9,275.4 274.6,272.9 272.4,273.4 271.1,272.4 269.6,271.9 269.6,272.6 268.9,273.4 267.9,273.4 267.4,272.9 267.4,273.9 266.9,274.4 263.6,274.6 262.9,275.6 261.6,276.1 260.6,277.1 259.4,277.4 257.1,279.4 259.6,280.6 260.6,281.6 263.9,281.9 264.6,282.6 267.6,280.4 270.9,278.9 271.6,277.9 271.9,278.1 273.9,277.6 275.9,275.9ZM663.6,266.4 662.9,266.4 662.4,266.9 659.9,267.1 659.4,267.9 657.6,268.1 656.9,268.9 657.4,269.6 657.1,272.4 657.6,273.4 659.6,274.6 660.9,274.6 661.6,275.4 661.9,275.1 664.1,275.4 664.4,274.9 665.1,274.6 665.1,273.9 665.6,273.6 666.1,272.4 665.9,271.6 666.1,271.4 666.4,271.6 666.4,270.6 665.4,267.9 664.1,267.1ZM661.4,274.1 661.9,273.6 662.4,274.1 662.1,274.4ZM246.4,268.4 247.1,267.9 248.6,267.9 249.6,266.6 249.1,266.1 247.4,266.4 246.6,265.6ZM198.6,259.6 197.6,260.1 197.6,261.1 199.1,261.1ZM244.9,256.4 244.6,256.9 245.1,258.4 244.6,259.1 246.6,258.6 247.1,257.9 246.6,256.6ZM196.4,254.4 196.1,255.4 196.6,255.9 196.6,256.6 197.1,256.4 198.4,256.6 198.4,255.1ZM240.4,254.6 240.1,256.4 243.1,256.6 242.4,254.1ZM251.9,247.6 252.6,248.1 252.9,248.9 252.1,249.6 252.4,249.9 252.1,251.4 252.9,252.4 252.6,253.6 253.1,253.9 252.9,254.4 253.9,255.1 254.4,256.4 255.1,257.1 255.1,256.1 256.4,253.1 254.9,251.6 255.4,249.9 253.6,247.6ZM112.4,240.9 112.4,241.6 114.6,242.4 114.6,241.4 112.6,240.6ZM255.1,241.1 254.1,240.4 253.4,240.9 252.1,240.9 251.1,240.1 249.9,239.9 248.9,240.6 247.9,240.9 247.6,240.6 247.4,241.1 244.1,241.4 243.9,243.6 245.1,243.9 245.4,245.4 246.4,244.9 249.6,245.1 250.9,243.9 253.1,244.4 253.9,243.9 254.1,242.9 255.1,242.1ZM263.6,238.4 262.6,238.9 262.4,239.4 262.1,239.1 259.1,239.9 259.1,242.1 258.6,242.9 258.9,244.9 257.9,246.9 258.4,247.9 258.1,248.4 259.6,251.6 259.6,253.1 259.1,254.4 260.1,256.9 259.6,257.6 259.6,258.9 258.6,259.9 258.6,260.6 260.1,261.1 261.4,262.6 262.6,263.4 264.9,263.1 268.1,263.9 269.9,262.1 269.9,261.4 271.6,259.9 271.6,258.1 270.9,256.1 272.1,253.6 271.6,254.4 270.9,253.9 270.6,252.6 271.1,251.9 271.1,251.1 269.6,247.6 270.1,246.4 269.6,245.4 269.6,244.4 268.4,242.6 268.6,241.1 265.9,239.1ZM105.4,231.4 105.9,233.1 104.6,234.9 107.1,235.1 108.1,235.6 108.4,234.6 108.1,233.4 108.9,231.9 107.9,231.9 107.4,232.4ZM101.6,218.6 101.6,219.1 102.6,219.9 102.6,220.6 102.1,221.4 103.6,223.1 104.4,223.1 105.6,223.9 106.6,224.1 108.6,223.9 111.9,221.4 111.9,220.1 111.4,219.4 111.4,217.6 108.9,217.9 108.1,217.4 105.9,217.6 104.6,217.1 103.6,217.9 103.4,219.1ZM433.9,150.6 432.9,150.6 431.6,151.9 430.9,153.4 431.1,155.6 430.6,156.4 430.6,157.1 431.4,157.9 431.4,158.4 430.6,159.1 431.1,160.1 430.9,164.1 429.9,164.9 429.6,166.4 429.1,166.6 429.4,167.4 428.9,168.4 427.1,170.1 426.4,170.4 425.4,173.4 423.9,174.4 424.1,174.6 423.6,175.4 423.9,175.6 423.6,176.6 422.9,177.4 421.9,177.6 420.6,178.9 419.4,178.4 418.1,179.6 416.1,180.9 415.9,181.6 414.1,183.4 412.9,182.9 411.6,183.9 409.4,184.1 407.9,185.6 406.9,185.6 405.4,187.4 402.9,187.9 400.1,186.4 397.1,186.9 396.6,185.9 393.4,186.1 391.9,184.6 390.9,184.1 390.1,184.1 388.6,183.1 387.9,183.1 385.6,182.1 384.6,182.6 383.4,181.6 381.1,181.6 380.6,182.1 377.9,182.1 377.6,181.9 374.6,182.1 373.4,181.6 371.9,181.6 370.4,182.4 366.9,182.1 362.9,184.1 360.6,184.4 359.6,185.4 357.9,184.6 355.9,184.6 354.6,183.6 350.6,183.1 349.9,182.4 348.1,182.4 346.9,182.9 346.1,182.1 345.4,182.1 344.6,182.6 340.1,182.1 335.6,182.6 334.9,182.1 333.6,182.1 331.6,182.6 329.4,184.9 327.4,185.1 324.6,187.1 322.6,187.6 321.4,189.1 319.4,190.1 318.4,191.9 316.1,193.1 315.4,194.1 315.1,193.9 314.6,194.1 314.4,195.4 312.9,196.4 312.9,197.6 312.1,197.9 311.9,198.6 312.4,200.4 311.9,202.1 308.9,204.6 306.4,204.9 304.9,206.1 304.1,208.1 303.1,208.9 302.6,210.4 301.4,211.4 301.1,212.6 300.4,213.4 300.4,215.4 299.9,216.6 298.9,217.4 299.1,218.9 298.6,219.6 295.9,221.1 295.1,222.1 294.1,222.1 293.6,221.4 293.4,221.6 293.1,221.4 290.9,221.6 290.1,221.4 288.9,222.6 286.9,222.9 285.9,224.4 284.9,224.1 285.4,225.4 285.4,228.9 286.4,230.1 286.4,230.6 285.6,231.4 285.6,232.9 284.9,234.1 286.1,238.1 285.6,242.1 284.1,245.1 283.6,244.4 282.4,244.9 280.9,244.6 279.9,245.4 279.1,245.1 278.4,245.4 277.6,246.4 276.1,245.4 275.1,245.4 273.4,244.6 272.9,243.9 271.9,243.9 271.6,245.9 272.6,248.1 272.6,249.4 272.1,250.4 273.6,253.9 273.1,254.6 273.4,257.1 274.4,259.4 275.4,260.1 275.9,261.1 276.4,264.1 278.4,267.1 278.4,269.9 279.4,271.6 278.9,272.6 278.9,273.6 278.4,273.9 278.1,276.4 278.9,277.9 278.4,282.6 279.9,283.4 279.6,285.9 280.6,286.4 281.1,287.6 282.6,288.4 284.1,291.1 285.1,291.6 285.4,292.9 286.4,294.1 286.4,296.1 285.4,296.9 285.4,297.6 284.4,298.6 283.1,301.1 282.9,302.6 282.4,303.1 282.6,305.6 283.1,305.9 283.4,307.9 283.1,308.1 284.6,310.6 285.1,313.9 285.6,314.4 286.1,316.4 286.4,315.6 287.1,315.1 287.6,313.6 288.4,312.9 290.4,312.4 292.4,310.6 293.9,310.6 294.9,311.4 294.6,314.1 293.1,316.4 293.9,317.6 293.4,318.9 294.1,319.9 293.9,320.9 294.1,321.9 293.1,323.4 293.4,324.9 292.1,326.1 291.4,328.4 292.1,329.1 293.6,328.4 294.9,329.9 297.6,330.6 299.1,332.6 299.9,334.6 300.9,335.4 301.1,337.6 304.1,339.4 305.6,340.9 305.6,341.6 304.6,342.6 304.6,343.4 303.1,344.6 301.6,345.1 299.4,344.9 298.6,342.6 296.9,341.4 296.1,339.6 296.4,339.4 295.4,337.6 295.1,335.6 294.6,335.4 293.9,329.4 292.9,330.6 288.9,332.6 287.4,332.6 285.6,331.6 284.9,331.6 283.6,332.4 280.9,332.4 279.9,331.4 277.9,331.6 276.1,330.4 273.9,329.9 271.1,327.4 267.9,326.1 268.1,327.6 266.4,331.1 266.4,331.9 267.4,333.9 267.1,334.9 266.1,334.9 264.9,333.4 263.6,333.1 262.1,330.6 260.1,330.6 258.4,331.1 257.9,331.6 256.6,331.4 254.1,331.6 255.1,332.9 257.6,334.9 257.9,335.6 258.9,335.6 259.4,336.1 259.4,337.1 259.9,337.1 260.6,337.9 260.9,338.9 259.9,339.9 258.9,339.9 259.1,340.9 258.6,341.6 257.6,341.9 256.9,342.6 255.6,342.9 255.4,343.6 255.9,345.4 254.4,347.6 253.6,351.6 253.9,352.6 253.4,353.1 252.4,352.1 252.6,351.6 251.9,350.1 250.1,348.4 251.6,341.6 250.6,341.9 247.6,341.6 246.9,342.1 244.1,342.1 242.6,342.9 241.6,342.4 241.4,343.9 239.9,344.6 239.6,345.1 239.9,346.1 238.6,347.6 238.4,348.9 236.9,351.9 234.6,355.1 235.4,355.9 234.6,357.4 236.6,358.1 237.1,358.6 237.1,359.6 238.4,360.6 237.9,362.6 237.1,363.1 236.1,364.9 236.6,365.4 238.1,365.1 240.4,363.4 240.6,363.6 243.1,363.4 244.1,364.1 245.9,364.4 246.4,365.1 247.9,366.1 247.9,366.9 248.1,366.6 249.1,368.6 248.9,370.1 249.4,370.4 249.1,372.1 250.1,373.1 249.9,375.9 250.4,376.9 250.9,376.9 252.4,375.1 253.4,376.9 253.4,378.4 253.9,380.1 253.1,381.4 253.4,381.6 253.1,382.9 253.6,384.6 255.1,385.4 255.4,391.4 256.6,393.4 256.9,395.4 256.6,395.6 258.6,395.6 260.6,396.1 261.1,393.9 260.9,393.1 259.4,392.1 259.4,391.1 258.6,390.6 258.6,388.6 257.9,387.6 258.1,385.6 258.6,384.9 257.9,384.1 256.9,381.6 257.1,378.6 256.6,377.1 255.4,375.6 254.6,375.4 253.9,376.1 253.4,376.1 252.9,375.1 253.1,374.9 253.6,375.1 253.9,374.6 256.1,373.6 256.9,372.4 256.9,371.6 257.9,371.4 258.4,372.4 259.4,371.9 261.4,372.4 262.6,373.6 263.6,373.9 265.9,376.4 266.1,377.9 265.6,380.1 266.1,380.4 266.1,381.4 266.6,382.4 266.6,384.1 267.6,384.6 267.1,385.9 268.1,387.4 268.1,389.1 268.9,390.1 268.9,391.1 267.9,392.6 267.9,394.4 267.4,394.9 268.1,396.4 269.4,397.4 269.6,398.4 271.1,399.9 270.9,401.1 271.4,401.9 270.6,403.1 270.9,406.4 270.4,406.9 270.9,407.1 271.4,408.1 271.6,409.9 272.9,411.1 272.4,416.4 271.9,417.4 271.1,417.9 271.1,418.9 271.9,419.6 270.9,421.1 270.9,423.1 270.1,425.9 273.1,428.9 275.1,428.9 276.1,429.6 276.1,430.6 276.6,430.6 278.1,432.1 280.4,436.6 280.6,438.6 282.4,440.4 283.4,440.9 284.4,441.9 284.6,442.6 286.1,442.9 286.9,443.4 288.4,443.4 289.6,444.4 289.4,444.6 287.4,444.4 286.9,444.9 284.6,445.4 283.9,446.4 282.4,446.1 279.4,447.1 276.9,447.4 274.9,448.6 270.9,448.4 271.4,450.1 270.6,451.6 272.4,452.1 273.6,453.4 276.4,451.9 276.6,451.4 277.9,451.6 278.4,453.1 279.1,453.9 278.9,455.6 280.1,456.1 280.6,455.9 284.4,459.6 285.1,461.6 284.9,463.9 285.4,464.6 282.9,466.4 281.6,466.1 279.9,466.9 277.6,466.9 276.4,469.4 276.1,470.6 274.6,471.4 274.4,472.1 272.1,474.4 272.1,475.6 271.1,477.6 269.4,479.1 267.9,481.6 265.6,483.4 265.4,483.9 265.6,485.1 265.4,489.1 265.9,488.9 266.4,489.4 267.9,489.6 268.1,489.4 268.6,489.6 269.4,489.1 270.1,489.9 272.9,490.6 274.6,490.4 275.6,491.1 275.9,491.9 276.6,491.9 277.6,491.1 279.9,491.6 279.1,492.1 279.4,492.6 279.1,492.9 277.4,492.9 275.6,493.4 274.4,493.4 273.6,492.9 273.1,493.1 271.1,495.9 269.9,495.4 269.4,496.9 267.4,496.9 266.4,499.1 264.6,500.9 264.1,500.6 263.6,500.9 262.9,503.1 262.1,503.6 262.6,504.1 262.1,504.4 262.6,504.9 262.4,505.9 261.1,506.6 260.6,510.6 260.1,511.4 259.9,513.1 258.9,514.1 258.9,514.9 258.1,515.4 258.1,518.6 257.1,519.4 255.6,521.6 251.9,523.6 251.4,524.6 251.6,527.4 250.9,528.1 251.4,529.4 252.9,530.4 253.9,533.9 255.9,536.1 257.6,539.9 257.6,541.6 258.9,542.9 260.4,543.1 261.6,544.4 261.9,545.4 262.4,545.9 263.1,545.9 263.9,546.6 263.9,547.6 262.1,548.9 260.6,552.4 258.9,554.1 257.6,554.4 256.4,555.1 256.9,556.9 256.9,558.6 256.1,560.1 256.4,563.1 257.1,565.1 258.6,566.9 258.4,567.1 259.4,569.6 259.1,571.9 259.9,573.4 258.1,574.6 256.4,574.6 255.4,575.6 254.4,575.9 254.1,575.6 254.4,573.9 253.6,573.1 253.6,571.6 252.6,571.9 251.1,573.1 250.4,573.1 250.6,574.6 251.4,575.6 251.4,576.6 251.9,576.1 253.1,576.1 253.6,576.6 254.1,575.9 255.4,577.1 255.6,578.1 254.1,580.4 255.6,581.4 255.4,582.1 255.6,583.1 253.9,584.4 251.9,584.6 251.4,585.1 250.1,584.9 248.6,585.9 247.6,585.1 247.1,585.4 247.1,586.1 246.1,587.6 245.9,589.4 245.4,589.6 245.1,590.4 245.6,591.1 244.9,592.4 244.9,593.6 245.4,594.6 245.1,596.6 246.4,598.4 246.4,598.9 247.4,599.4 248.1,601.1 250.1,600.9 251.4,601.9 251.9,601.6 254.1,602.4 254.6,602.1 257.6,603.6 258.6,605.1 260.6,606.6 261.1,608.6 264.1,612.6 263.6,613.4 263.6,614.4 264.1,615.1 263.6,616.1 263.6,618.1 264.6,619.9 264.9,621.4 266.4,621.9 266.1,624.1 266.6,625.4 267.1,625.6 267.4,626.9 266.9,627.6 267.4,628.6 267.1,629.4 267.9,630.9 267.9,632.9 268.4,633.6 269.6,631.9 271.6,630.9 274.6,627.6 274.9,626.9 275.6,626.4 276.6,624.4 277.4,623.9 277.6,622.1 278.6,620.6 281.9,618.1 283.1,616.6 285.1,615.4 286.6,617.9 287.1,617.6 288.4,615.6 289.4,615.4 290.1,614.6 290.1,613.4 290.6,612.6 290.9,610.6 290.6,608.4 291.1,607.6 291.1,606.6 291.9,604.6 291.9,600.4 292.1,600.1 294.6,602.9 294.6,604.6 295.1,605.6 295.1,606.6 296.4,608.6 295.4,610.9 295.4,611.9 295.9,612.6 295.9,613.4 296.9,614.4 297.1,616.9 298.1,617.9 297.9,618.1 298.1,618.4 298.9,617.6 301.9,616.4 303.9,616.6 305.1,615.6 305.6,615.9 306.4,615.6 308.1,613.4 307.9,613.1 308.1,612.4 310.1,610.4 310.6,605.4 311.1,603.1 311.6,602.6 311.9,599.4 313.6,598.4 314.6,598.1 315.6,598.4 316.1,597.9 316.4,596.1 317.4,596.1 318.6,595.4 319.1,595.9 319.9,595.9 321.1,594.4 324.9,591.9 325.4,592.1 329.1,589.9 329.4,588.9 330.1,588.1 331.6,587.6 332.6,586.6 332.9,585.9 333.6,585.4 334.9,585.6 335.9,584.9 338.1,585.1 339.6,586.6 339.4,588.1 339.9,590.1 338.6,591.1 336.6,590.4 335.9,590.6 335.9,591.4 334.9,592.4 334.9,592.9 334.1,593.6 333.1,593.9 333.4,595.6 333.1,596.4 331.4,597.1 331.4,598.1 330.1,599.6 329.6,601.6 328.6,601.9 325.1,604.6 324.6,605.6 323.9,606.1 324.1,606.9 323.9,607.9 325.1,608.9 325.1,610.4 325.9,610.6 327.1,609.6 327.6,610.4 327.4,611.1 329.4,610.6 330.9,611.6 332.1,610.9 333.6,611.6 334.1,611.4 336.1,613.4 337.4,613.6 339.4,615.1 340.9,614.9 342.1,616.1 342.4,615.4 345.4,612.9 345.4,612.1 346.6,610.6 347.4,610.6 350.1,608.6 350.6,607.9 350.4,606.6 351.6,605.4 351.6,604.1 352.1,603.1 356.1,603.4 357.9,602.6 359.1,602.6 358.6,601.6 358.6,600.4 355.4,596.4 353.9,592.1 352.1,590.9 351.6,589.4 349.9,587.9 349.9,585.9 349.6,585.1 348.9,584.6 349.4,581.6 347.1,578.1 348.9,575.9 351.6,575.4 352.6,574.4 354.6,574.4 355.1,573.9 356.4,573.6 358.1,572.6 358.1,572.1 358.9,571.4 361.4,570.4 362.9,570.1 363.1,570.6 364.9,571.4 364.9,573.1 365.4,574.1 365.9,578.1 365.9,580.4 366.6,581.4 365.9,582.9 366.4,583.4 366.6,584.9 366.1,585.1 366.4,586.9 365.4,587.9 365.9,588.6 365.9,589.6 365.1,590.1 363.9,593.1 366.9,597.4 369.9,593.4 369.9,591.1 371.1,588.9 371.1,587.1 372.4,585.9 373.1,584.4 373.9,584.1 378.4,588.6 380.1,586.4 381.6,585.4 381.6,584.9 382.4,584.1 382.1,583.1 382.6,581.9 382.6,580.1 383.1,579.6 383.6,577.6 383.1,576.6 383.9,576.4 384.4,575.6 384.6,573.6 385.1,572.9 384.6,572.4 383.1,573.9 379.6,574.1 379.4,574.9 377.9,576.4 375.6,577.4 374.4,577.4 373.4,578.1 373.1,576.4 371.4,575.4 370.9,573.9 369.1,572.4 369.1,571.9 368.4,571.1 368.6,570.9 368.1,569.1 368.1,565.4 368.4,565.1 369.6,565.9 370.4,565.6 371.9,566.6 372.9,566.6 373.4,567.6 375.1,565.9 376.9,565.1 377.9,564.1 379.6,564.1 380.4,563.4 382.4,563.1 382.6,563.6 383.6,563.6 384.6,562.4 386.4,561.6 387.9,562.4 389.6,562.1 390.6,563.1 391.9,561.9 393.4,561.6 395.6,560.1 396.1,559.4 396.4,556.9 397.9,556.4 399.1,557.1 400.1,558.1 400.1,558.6 401.9,557.9 402.9,555.9 404.4,555.6 405.4,554.4 405.9,552.6 406.1,552.9 406.4,552.4 406.6,552.6 408.9,552.4 409.9,552.6 410.4,553.4 409.9,556.1 410.4,558.4 411.1,559.6 410.9,559.9 411.1,561.6 412.4,561.9 413.4,562.9 413.4,563.4 413.9,563.1 414.6,563.6 415.4,563.6 415.9,562.6 416.6,562.1 417.9,564.1 417.6,564.4 417.9,566.1 420.9,566.6 422.1,565.9 423.1,564.6 423.4,564.9 424.1,564.6 426.1,565.4 428.1,567.1 427.9,566.1 428.6,565.1 429.9,565.1 430.1,564.6 430.9,564.9 431.4,564.4 433.4,565.1 433.6,564.1 434.9,563.1 437.4,563.6 438.4,565.4 438.4,566.9 438.9,567.9 440.6,569.1 441.1,570.4 441.6,570.6 441.6,571.9 442.4,572.4 442.6,571.9 444.9,571.1 445.1,569.1 444.6,568.4 444.6,567.6 445.9,566.4 446.1,565.6 445.9,565.4 446.1,563.6 445.4,561.1 444.4,561.4 441.6,560.6 440.9,559.9 440.1,558.1 438.6,556.6 438.6,555.4 439.9,554.9 440.1,554.1 440.9,553.9 442.4,555.4 444.4,556.1 445.1,556.9 446.9,556.6 447.4,557.1 448.1,557.1 449.4,556.1 450.1,556.4 450.9,554.6 449.4,552.9 448.9,551.4 447.6,550.9 446.4,549.4 444.6,548.4 446.4,547.4 447.1,547.6 450.4,546.4 451.1,546.9 453.4,547.4 454.4,548.1 455.4,548.1 456.4,548.9 457.1,547.9 458.1,547.9 459.4,546.6 460.4,546.9 461.9,546.4 461.4,543.9 460.9,543.6 460.4,542.6 459.4,542.1 459.6,540.6 460.4,540.1 460.6,537.9 461.4,537.1 461.9,537.6 463.4,537.9 465.9,540.1 467.9,540.1 468.6,541.4 470.6,541.9 471.9,543.1 472.6,542.4 474.6,544.1 475.4,544.4 476.4,545.4 476.6,547.1 477.4,547.4 477.9,548.4 480.4,550.6 480.6,552.1 481.4,553.4 481.4,554.4 482.4,556.4 482.6,555.1 483.4,554.6 483.4,552.1 483.9,550.9 483.6,549.1 488.1,545.4 489.1,545.6 491.1,544.4 492.4,544.1 493.1,544.9 493.6,546.4 495.6,548.6 496.9,547.6 497.9,547.4 498.9,545.9 499.6,546.9 500.9,547.1 502.1,548.1 504.4,547.9 505.9,545.6 507.4,545.1 508.4,542.9 509.4,542.1 509.4,541.6 510.4,540.6 512.9,539.6 513.6,538.1 513.6,536.9 514.6,535.9 516.9,535.1 516.9,534.4 518.1,533.4 518.1,532.6 519.9,531.6 519.9,530.6 521.1,529.9 521.4,528.6 522.4,527.4 522.4,526.4 523.9,524.9 523.4,523.1 523.4,521.1 523.9,520.1 523.6,519.4 524.4,517.4 526.6,515.4 528.1,513.4 528.1,512.6 529.1,511.9 529.4,510.4 530.4,509.4 530.6,506.6 532.6,503.4 534.1,502.9 534.9,501.4 536.1,501.6 536.4,501.1 536.1,498.9 536.9,498.1 536.6,496.9 537.9,494.9 537.6,492.1 538.1,490.6 538.6,490.4 538.9,489.4 538.6,486.9 539.6,485.1 539.1,483.9 539.6,481.9 539.4,480.6 540.1,479.6 539.9,478.4 540.1,476.9 539.9,476.6 540.4,475.4 541.1,474.6 540.9,473.1 541.9,471.9 542.1,469.4 543.1,468.1 542.9,465.6 543.4,464.9 543.1,463.4 543.4,461.6 542.9,460.6 543.9,459.4 543.4,457.9 544.9,454.9 544.9,453.1 546.9,449.1 546.6,448.9 546.6,447.4 547.1,446.1 546.9,444.4 547.4,443.9 547.4,442.6 548.1,441.6 548.1,440.6 549.1,439.6 549.1,437.9 548.6,435.9 547.6,434.6 547.4,435.4 545.1,436.9 543.6,438.9 541.9,439.1 541.1,441.4 540.6,441.9 539.9,441.9 538.6,442.9 537.6,442.1 536.1,442.6 535.1,442.4 533.1,440.4 531.9,437.6 531.6,435.1 533.9,432.9 534.1,431.4 535.4,429.9 534.4,428.4 534.1,425.6 532.9,424.1 532.6,421.4 531.6,420.4 530.9,416.9 531.1,415.4 530.4,414.1 531.1,408.4 530.6,405.6 531.6,404.4 531.6,403.1 532.1,402.4 532.4,400.9 533.4,399.9 533.1,396.9 533.4,395.9 533.9,395.6 533.9,394.4 534.4,393.4 534.1,391.1 535.4,388.4 535.4,387.1 534.1,385.9 534.1,385.1 535.1,383.6 534.9,382.6 535.1,379.4 534.4,378.1 534.1,376.6 534.4,374.4 533.4,371.1 532.6,370.4 532.4,368.9 532.9,368.4 533.6,368.6 533.9,366.4 536.1,363.4 536.4,361.6 536.1,359.9 537.9,357.9 538.1,356.9 537.1,354.4 537.4,352.4 535.9,351.6 536.1,349.4 535.6,348.9 535.9,347.1 534.1,344.1 534.1,340.9 533.9,340.6 534.1,340.1 533.4,338.6 532.1,337.6 532.9,335.6 533.1,333.6 532.4,332.6 532.6,330.9 532.1,330.4 532.4,328.9 531.6,325.9 531.9,320.9 530.9,319.6 531.1,319.1 530.1,317.9 529.9,315.9 528.9,315.4 528.1,314.4 527.4,312.4 527.4,311.4 526.6,310.6 526.9,308.4 525.9,307.6 524.4,305.6 524.9,302.6 524.6,300.9 523.6,299.1 523.6,297.9 522.4,297.4 521.6,295.4 520.4,294.4 519.9,293.1 518.4,292.9 517.4,291.9 517.4,290.1 516.1,287.6 513.4,285.1 513.4,283.6 511.6,281.1 511.4,280.1 508.4,277.6 508.1,275.6 506.9,273.6 506.4,271.6 505.4,270.6 503.6,267.1 503.1,264.6 502.6,264.1 501.1,264.4 500.1,263.6 500.4,261.4 499.1,260.1 499.4,259.6 499.1,258.6 498.1,257.9 497.9,254.9 495.9,253.4 495.4,252.6 495.4,251.6 494.9,251.1 493.9,251.1 492.4,249.4 491.4,248.9 491.6,247.4 488.4,244.6 487.9,242.9 486.9,242.6 486.1,241.9 485.9,240.4 484.4,238.9 484.4,238.4 483.1,236.9 481.6,235.6 480.6,233.1 478.1,230.9 477.9,229.6 476.9,228.1 476.6,226.9 475.9,226.1 475.6,224.9 474.4,223.9 474.4,223.1 472.6,221.9 472.1,220.6 471.1,219.9 471.1,219.1 467.6,215.6 468.1,213.9 466.9,213.1 465.1,211.1 464.9,209.4 463.4,208.1 463.4,207.1 462.6,205.9 461.6,205.1 461.1,203.4 458.4,200.1 458.4,198.9 457.1,197.4 457.1,195.6 455.6,193.6 456.1,193.1 455.4,191.4 454.6,190.9 454.4,191.1 453.6,190.4 453.9,189.9 453.6,188.4 452.9,187.9 452.4,186.9 452.4,185.4 451.9,184.4 451.1,183.9 450.9,183.4 451.1,182.9 449.9,180.6 450.4,179.1 448.1,176.6 447.9,175.6 446.6,174.1 446.6,173.1 445.9,171.9 446.1,170.4 444.6,169.6 444.1,168.9 444.4,168.4 444.1,167.9 442.9,167.6 442.1,166.4 441.9,164.9 442.1,163.1 441.4,162.1 439.9,157.1 438.9,156.6 438.4,155.9 438.6,154.6 437.6,153.1 436.6,153.4 436.1,152.9 436.4,152.1 435.9,151.6 434.6,151.6ZM343.1,578.6 340.6,581.1 340.4,581.9 340.6,582.1 339.9,583.4 338.4,583.4 336.1,584.9 335.6,584.6 337.6,582.4 338.1,581.4 337.9,580.4 338.6,579.9 339.4,580.1 342.6,578.4Z" fill="#152f49" fill-rule="evenodd"/>
<g clip-path="url(#land)" stroke="#fff" stroke-width="0.60" stroke-linejoin="round" fill-rule="evenodd">
<path d="M430.9,147.9 428.4,150.9 428.4,159.4 426.9,165.1 421.4,172.9 422.9,174.4 425.6,175.1 427.6,177.9 429.4,178.9 429.1,179.1 430.9,181.1 430.9,183.4 432.1,184.6 431.6,185.4 432.4,187.4 433.1,188.4 434.6,188.6 435.4,189.9 435.9,189.6 437.9,190.6 439.6,192.1 439.4,192.9 441.4,197.4 441.9,197.6 445.1,196.1 446.9,196.6 447.9,195.6 449.1,195.6 450.1,194.6 452.1,194.1 452.4,193.6 454.4,194.1 457.1,192.1 458.6,192.4 451.6,175.6 445.1,162.9 440.1,150.9 435.9,147.9Z" fill="#152f49"/>
<path d="M460.9,196.4 458.9,192.4 457.1,192.4 454.4,194.4 452.4,193.9 452.1,194.4 450.1,194.9 449.1,195.9 447.9,195.9 446.9,196.9 445.6,196.4 443.4,196.9 442.1,197.9 442.1,200.9 443.1,202.9 447.1,202.9 448.9,200.9 451.1,201.1 452.1,199.9 455.1,198.4 456.9,198.6 457.1,198.1 457.9,198.1 458.4,197.1 459.9,197.1Z" fill="#1b3a58"/>
<path d="M461.1,196.6 459.9,197.4 458.4,197.4 458.4,197.9 456.9,198.9 455.1,198.6 452.1,200.1 451.1,201.4 448.9,201.1 447.1,203.1 444.1,203.1 443.1,203.9 442.1,205.6 441.6,205.4 440.4,206.4 441.1,208.1 440.9,209.9 439.9,210.6 441.6,211.6 442.4,212.9 444.4,213.1 446.1,212.6 446.4,214.1 447.9,216.4 448.1,216.1 448.9,216.6 448.1,217.4 448.6,218.6 448.1,219.4 448.4,222.4 447.6,222.9 448.1,223.6 447.6,224.4 447.4,228.9 446.9,229.1 447.4,230.1 446.6,231.1 448.4,232.1 452.1,232.1 452.6,233.4 453.6,232.6 456.4,234.6 457.4,233.9 457.1,232.9 457.6,232.4 459.6,232.4 460.4,231.9 462.1,232.4 462.4,231.6 463.4,231.6 464.6,230.4 464.9,230.9 465.6,230.6 466.4,229.4 467.4,229.4 467.6,228.6 468.6,229.1 468.6,229.6 467.6,230.1 468.6,230.1 470.1,228.9 470.6,229.4 471.1,229.1 471.6,227.9 476.1,227.9 478.9,224.6 467.4,207.4Z" fill="#152f49"/>
<path d="M421.1,173.1 418.9,176.1 414.6,178.1 416.6,179.6 416.6,180.4 417.4,180.4 417.9,183.9 416.4,184.6 416.4,185.9 416.9,186.4 416.1,187.6 416.4,188.9 415.6,189.4 415.9,190.4 413.4,193.4 412.1,197.9 412.6,198.6 412.1,199.6 412.4,200.6 411.9,200.6 412.4,201.4 411.9,203.4 412.6,205.9 413.9,206.4 412.6,207.6 413.9,208.1 413.9,211.1 412.6,211.4 411.6,212.4 411.6,213.6 409.1,215.1 408.9,215.6 409.1,215.1 409.4,215.9 408.4,216.9 405.4,217.6 406.1,218.1 405.9,218.4 404.9,218.1 404.1,218.6 402.6,218.6 402.4,220.4 403.9,221.1 403.1,221.9 403.9,222.6 403.4,224.6 405.1,225.4 406.1,227.4 407.9,227.4 408.9,226.6 410.1,228.1 410.4,227.9 412.6,229.4 415.1,229.4 416.1,230.4 416.6,229.4 418.1,232.4 417.9,232.9 419.9,234.1 419.9,235.1 419.4,235.6 419.9,235.9 420.1,236.9 421.4,237.4 421.9,238.1 425.4,238.9 427.1,235.9 428.6,234.4 430.1,234.6 430.4,235.4 431.6,235.6 433.1,236.9 434.6,236.4 435.4,237.1 437.1,235.6 437.4,234.6 438.4,234.9 439.4,234.1 439.9,232.6 441.4,232.9 442.4,231.9 443.4,232.1 444.9,230.6 446.6,230.6 447.1,230.1 446.6,229.1 447.1,228.9 447.4,224.4 447.9,223.6 447.4,222.9 448.1,222.4 447.9,219.4 448.4,218.6 447.9,217.4 448.6,216.6 447.6,216.4 446.1,214.1 446.1,212.9 444.4,213.4 442.4,213.1 441.6,211.9 439.6,210.6 440.6,209.9 440.9,208.1 440.1,206.4 441.6,205.1 442.1,205.4 442.9,203.9 443.9,203.1 443.1,203.1 442.4,202.4 441.9,200.9 442.1,197.6 441.4,197.6 440.4,196.1 439.1,192.9 439.4,192.1 437.9,190.9 435.9,189.9 435.4,190.1 434.6,188.9 432.9,188.4 431.4,185.4 431.9,184.6 430.9,183.9 430.4,182.6 430.6,181.1 428.9,179.1 429.1,178.9 427.6,178.1 425.6,175.4 422.9,174.6ZM413.6,211.4 414.1,211.1 414.4,211.6 413.9,211.9Z" fill="#152f49"/>
<path d="M414.4,178.4 402.6,184.4 394.9,182.9 392.6,181.9 391.4,182.6 391.9,184.9 391.1,187.4 391.9,189.4 391.9,194.4 392.4,194.9 391.9,195.6 392.6,196.1 392.9,197.6 393.6,198.6 393.1,199.6 393.9,200.6 393.6,201.1 394.1,202.9 393.6,205.1 395.9,207.4 395.4,209.6 395.6,210.9 394.6,212.6 395.4,213.1 395.9,212.4 396.4,213.4 397.4,213.9 397.1,215.1 397.9,215.4 398.1,216.4 400.1,216.4 402.1,218.6 404.9,217.9 405.9,218.1 405.1,217.6 405.6,217.1 408.4,216.6 409.1,215.9 408.9,215.1 411.4,213.6 411.4,212.4 412.6,211.1 413.6,211.1 414.1,211.6 413.4,210.9 413.9,209.6 413.6,208.1 412.4,207.6 413.1,206.6 413.6,206.9 413.6,206.4 412.4,205.9 411.6,203.4 412.1,202.4 411.9,199.6 412.4,198.6 411.9,197.9 413.1,193.4 414.1,192.6 415.6,190.4 415.4,189.4 416.1,188.9 415.9,187.6 416.6,186.9 416.1,184.6 417.6,183.9 417.1,180.4 416.6,180.6 416.1,180.1 416.4,179.6Z" fill="#152f49"/>
<path d="M391.9,181.6 386.1,179.1 379.6,179.1 379.4,180.1 380.1,180.6 380.1,183.9 380.6,184.4 379.6,186.4 375.9,188.4 374.6,187.9 371.9,188.1 371.4,187.6 368.9,188.1 367.1,187.9 367.4,188.1 366.1,189.6 365.9,191.1 362.9,192.6 362.9,193.6 363.9,194.4 363.9,194.9 362.6,195.9 361.9,195.6 360.9,196.4 360.1,198.1 360.1,199.4 358.4,201.4 357.1,201.6 356.4,203.6 354.6,204.9 354.6,205.9 354.1,206.1 354.1,208.9 355.6,210.4 355.4,211.4 354.1,212.4 354.1,214.1 354.6,213.9 355.4,214.4 355.4,215.4 355.9,215.9 355.6,216.6 357.1,218.4 357.1,217.9 358.9,218.4 361.6,216.4 362.9,216.9 363.9,215.9 363.9,213.9 364.4,212.9 365.1,212.6 365.1,211.6 364.4,211.1 365.1,209.9 366.6,210.4 366.9,211.1 367.6,211.4 368.9,212.9 369.9,212.6 372.6,214.6 373.4,214.1 373.6,214.6 372.9,215.4 373.9,216.1 375.1,215.6 375.6,216.6 376.6,215.6 377.6,215.6 378.9,216.6 380.1,216.6 381.4,215.9 382.4,217.9 384.4,217.6 386.9,218.6 390.9,215.4 392.9,215.4 393.4,214.9 394.4,215.1 395.1,214.6 396.9,214.9 397.1,213.9 396.4,213.6 395.9,212.6 395.4,213.4 394.4,212.6 395.4,210.9 395.1,209.6 395.6,207.4 393.4,205.1 393.9,203.4 393.6,200.6 392.9,199.6 393.4,198.6 392.6,197.6 392.4,196.1 391.6,195.6 392.1,195.1 391.6,194.4 391.9,191.4 390.9,186.4 391.6,184.9 391.1,182.6 391.9,182.4Z" fill="#152f49"/>
<path d="M365.1,210.1 364.6,211.1 365.4,211.6 365.4,212.6 364.6,212.9 363.9,214.6 364.1,215.9 363.4,216.4 363.9,216.6 362.9,217.4 363.9,217.9 363.9,218.9 364.9,219.6 365.6,221.6 365.4,223.1 366.4,224.9 368.1,226.4 367.6,227.1 367.6,228.1 368.1,228.4 367.6,230.1 368.4,231.1 367.1,231.6 367.1,232.6 366.4,232.9 367.4,233.4 367.6,234.6 364.6,235.9 363.6,236.9 364.1,238.4 363.4,240.4 362.1,241.4 361.9,245.4 361.4,246.1 362.4,248.4 362.4,249.9 362.9,249.6 365.1,251.6 364.9,252.4 365.4,252.9 367.4,252.6 367.6,253.1 371.1,253.1 371.9,253.6 377.9,249.6 379.4,247.9 382.1,247.9 384.6,249.1 385.4,248.9 386.1,247.6 389.1,247.1 389.6,246.6 389.4,245.4 389.9,244.4 388.9,242.4 388.9,239.6 389.4,238.6 388.6,237.9 389.9,237.1 390.6,235.6 391.9,235.4 394.4,235.6 395.9,236.9 395.9,237.4 396.6,237.4 397.4,238.1 398.4,237.4 400.6,232.4 400.4,231.1 401.4,230.1 400.9,229.4 402.1,229.1 402.6,226.9 403.6,225.6 403.1,224.6 403.6,222.6 402.9,221.9 403.6,221.1 402.1,220.4 402.1,218.9 400.1,216.6 398.6,216.9 397.9,216.4 397.6,215.4 396.6,214.9 390.9,215.6 386.9,218.9 384.4,217.9 382.4,218.1 381.4,216.1 380.1,216.9 378.9,216.9 377.6,215.9 376.6,215.9 375.6,216.9 375.1,215.9 373.9,216.4 372.6,215.4 373.4,214.4 372.6,214.9 369.9,212.9 368.9,213.1 366.6,211.1 366.6,210.6Z" fill="#275379"/>
<path d="M456.4,235.9 454.9,233.6 453.6,232.9 452.6,233.6 452.1,232.4 448.4,232.4 446.4,230.9 445.1,231.1 444.6,230.6 444.9,230.9 443.4,232.4 442.4,232.1 441.4,233.1 439.9,232.9 439.9,233.9 438.4,235.1 437.4,234.9 437.4,235.6 435.4,237.4 434.6,236.6 433.1,237.1 431.6,235.9 430.4,235.6 430.1,234.9 428.6,234.6 427.4,235.9 425.4,239.1 421.9,238.4 419.9,236.9 419.6,235.9 419.1,235.6 419.6,235.1 419.6,234.1 417.6,232.9 417.9,232.4 416.6,229.6 416.1,230.6 415.4,230.1 415.6,229.6 412.6,229.6 410.4,228.1 410.1,228.4 408.9,226.9 406.6,227.9 405.4,226.9 405.1,225.6 403.9,225.4 402.9,226.9 402.4,229.1 401.9,229.6 401.1,229.4 401.6,230.1 400.6,231.1 400.6,233.1 398.6,237.4 397.6,238.4 395.9,237.6 395.1,236.4 393.6,235.6 390.6,235.9 390.1,237.1 388.9,237.9 389.6,238.6 389.1,239.6 389.1,242.4 390.1,244.4 389.6,245.4 389.9,246.6 389.1,247.4 386.1,247.9 385.6,248.9 384.6,249.4 382.1,248.1 379.4,248.1 377.9,249.9 371.9,253.9 371.1,253.4 371.4,253.1 369.1,253.6 367.6,253.4 367.4,252.9 365.4,253.1 364.6,252.4 363.6,253.9 364.9,254.9 364.1,255.4 364.6,257.1 363.6,257.4 363.1,259.1 363.6,258.9 364.1,259.4 364.6,261.6 363.9,263.6 364.4,264.1 364.9,263.4 367.6,262.1 366.9,260.9 367.4,259.9 367.9,260.9 370.9,260.6 371.9,262.1 374.4,263.1 377.4,262.9 378.9,263.6 379.9,264.9 380.1,266.4 381.6,266.1 382.1,267.1 386.4,266.4 387.6,269.1 390.1,269.1 393.1,267.1 393.9,267.4 394.1,266.9 395.1,266.9 395.6,265.9 396.4,265.6 396.6,265.1 396.1,264.6 396.6,264.1 397.9,264.6 398.1,264.1 399.4,263.9 400.1,262.6 399.9,262.4 400.9,261.6 401.4,262.1 401.4,261.6 403.9,260.4 405.6,260.1 406.1,260.6 407.6,259.6 410.4,259.1 411.1,257.4 411.4,257.9 412.9,256.9 414.1,256.9 415.6,255.6 417.1,255.9 417.1,256.4 418.1,257.1 420.6,257.6 421.1,258.1 420.6,258.6 421.6,258.1 422.6,258.4 422.9,257.1 424.4,258.1 425.4,258.1 425.4,256.6 425.9,256.4 426.6,256.9 428.9,256.4 428.6,256.1 430.4,253.6 432.9,254.1 434.6,253.1 437.4,253.1 437.4,252.6 438.4,251.9 440.1,252.1 442.4,251.4 443.4,249.9 444.1,249.9 445.1,248.9 445.9,249.4 449.4,248.9 449.6,246.4 450.4,245.6 451.4,245.9 451.4,244.9 451.9,244.6 451.4,243.4 451.6,242.1 452.9,240.9 453.1,239.9 453.4,240.1 456.4,238.4Z" fill="#152f49"/>
<path d="M455.6,234.4 456.6,235.9 456.4,238.1 457.4,238.6 458.1,240.6 460.9,244.1 461.6,243.9 462.9,244.9 463.9,244.1 465.9,244.9 467.1,244.6 468.6,247.4 470.1,247.6 471.4,248.6 471.4,249.9 470.9,250.6 471.1,252.4 472.4,254.4 470.6,256.4 470.4,258.9 469.6,259.4 469.4,259.1 469.6,260.1 468.4,260.1 468.4,260.9 467.6,261.6 468.4,262.4 467.1,263.4 467.4,264.6 465.9,266.4 466.6,267.4 467.6,267.1 468.1,268.4 468.6,268.4 469.4,269.4 471.4,269.9 472.4,271.1 473.1,270.4 475.1,271.1 478.4,270.9 479.4,270.1 479.6,267.9 480.1,267.4 481.9,267.9 482.1,263.9 484.9,263.4 486.6,265.4 486.6,266.1 490.1,268.9 490.4,270.1 491.4,269.4 495.4,269.4 495.6,268.4 496.6,267.9 497.6,266.4 498.1,266.4 498.4,265.9 497.9,265.4 498.6,264.6 498.4,264.1 502.4,261.9 501.6,260.6 502.6,259.9 500.1,252.6 489.6,239.9 478.9,224.9 478.9,225.4 477.9,226.1 477.6,225.9 477.9,226.4 476.9,226.9 476.1,228.1 471.6,228.1 471.1,229.4 470.6,229.6 470.1,229.1 468.6,230.4 467.4,230.1 467.6,229.6 468.4,229.6 468.4,229.1 467.6,228.9 467.6,229.4 466.9,229.9 466.4,229.6 465.6,230.9 464.9,231.1 464.4,230.4 464.6,230.9 463.4,231.9 462.4,231.9 462.1,232.6 460.4,232.1 459.6,232.6 458.1,232.4 457.4,232.9 457.4,234.1 456.4,234.9Z" fill="#22496c"/>
<path d="M425.4,285.4 423.9,284.6 418.4,284.6 417.9,285.1 416.6,284.6 413.4,285.1 411.9,285.9 411.4,286.9 409.9,287.4 410.1,288.4 407.9,290.9 408.4,292.4 408.1,293.6 409.1,294.4 409.6,296.6 410.9,297.6 411.9,296.9 413.9,297.1 415.1,295.4 415.4,294.1 417.9,292.4 417.9,291.4 418.9,289.9 421.6,287.9 420.9,286.6 423.6,286.4 424.4,285.1ZM457.1,238.6 455.9,238.6 453.4,240.4 453.1,240.1 453.1,240.9 451.9,242.1 451.6,243.4 452.1,244.6 451.6,244.9 451.6,245.9 450.4,245.9 449.9,246.4 449.9,248.4 449.4,249.1 445.9,249.6 445.1,249.1 444.1,250.1 443.4,250.1 442.4,251.6 440.1,252.4 438.4,252.1 437.4,253.4 434.6,253.4 432.9,254.4 431.9,253.9 430.1,254.1 428.9,256.1 429.9,259.6 429.1,261.9 430.6,263.9 430.4,264.6 431.4,266.9 431.4,268.1 430.6,269.9 431.6,270.6 429.9,272.6 430.1,273.9 429.4,275.9 429.6,277.1 428.9,277.9 429.1,279.6 427.6,281.6 428.4,284.1 427.6,284.4 427.4,285.4 426.6,285.4 429.6,288.1 429.6,288.6 430.6,288.9 431.6,291.4 432.9,292.4 433.9,294.1 436.4,293.9 436.9,294.4 436.9,295.6 437.6,295.4 440.1,296.9 440.9,296.9 442.4,295.9 442.9,294.6 446.1,293.6 447.6,295.1 447.9,296.1 449.4,296.6 450.1,297.9 451.4,298.6 453.1,298.6 455.1,300.6 457.4,300.4 457.4,299.1 456.1,297.9 455.1,293.4 453.6,292.1 453.9,289.9 453.1,288.6 453.6,287.6 452.1,285.4 450.4,284.4 450.9,283.6 450.1,282.6 450.4,280.9 451.6,279.9 453.1,280.1 453.4,278.6 453.9,278.1 454.4,278.4 454.6,277.4 455.6,277.1 457.1,275.1 457.1,272.1 457.6,270.6 459.1,269.4 459.1,268.4 460.6,266.6 461.1,266.9 462.4,265.9 463.4,266.1 464.6,267.4 465.6,266.6 467.1,264.6 466.9,263.4 468.1,262.4 467.4,261.6 468.1,260.9 468.1,260.1 468.6,259.6 469.4,260.1 469.1,259.1 470.1,258.9 470.4,256.4 472.1,254.4 470.9,252.4 470.6,250.6 471.1,249.9 471.1,248.6 470.1,247.9 468.6,247.6 467.1,244.9 465.9,245.1 463.9,244.4 462.9,245.1 461.6,244.1 460.9,244.4 457.9,240.6ZM437.4,253.6 438.4,253.4 438.6,254.1 437.6,254.4Z" fill="#152f49"/>
<path d="M428.9,256.6 426.6,257.1 425.9,256.6 425.4,256.9 425.9,257.4 425.4,258.4 424.4,258.4 422.9,257.4 422.6,258.6 421.6,258.4 420.9,258.9 420.4,258.6 420.9,258.1 418.1,257.4 416.6,255.9 415.6,255.9 414.1,257.1 412.9,257.1 411.4,258.1 411.1,257.6 411.1,258.6 410.4,259.4 407.6,259.9 406.1,260.9 405.6,260.4 403.9,260.6 400.1,262.4 400.4,262.6 399.4,264.1 398.6,264.1 397.9,264.9 396.6,264.4 396.6,265.6 395.9,265.9 395.1,267.1 394.1,267.1 393.9,267.6 392.9,267.1 393.1,267.4 392.6,267.9 391.6,268.1 390.1,269.4 387.6,269.4 386.9,270.6 385.4,270.6 385.6,271.6 385.4,271.9 384.9,271.1 383.9,274.6 386.1,276.6 386.1,277.6 387.4,279.1 388.6,279.4 387.9,280.1 388.9,280.9 388.6,282.1 391.9,284.4 392.4,284.4 393.4,283.1 394.9,283.1 394.6,281.9 395.4,279.4 396.4,278.4 397.4,278.4 398.1,276.6 399.6,276.6 400.4,278.1 402.6,278.4 403.4,279.9 404.1,279.9 408.4,282.4 410.1,282.4 411.9,284.4 411.6,284.9 412.6,285.4 413.4,284.9 416.6,284.4 417.4,284.9 418.4,284.4 423.9,284.4 425.4,285.1 427.4,285.1 427.4,284.4 428.1,284.1 427.4,281.6 428.9,279.6 428.6,277.9 429.4,277.1 429.1,275.9 429.9,273.9 429.6,272.6 431.4,270.6 430.4,269.9 431.1,268.1 431.1,266.9 430.1,264.6 430.4,263.9 428.9,261.9 429.6,259.6Z" fill="#152f49"/>
<path d="M399.6,276.9 398.1,276.9 397.6,278.4 396.4,278.6 395.1,280.4 394.9,283.4 393.4,283.4 392.4,284.6 391.9,284.6 388.6,282.4 388.4,281.6 388.1,283.1 387.4,283.9 386.9,283.9 385.6,285.4 384.1,285.4 384.6,287.1 382.9,290.1 382.9,292.6 381.1,295.6 381.4,297.4 382.6,298.9 381.6,299.6 381.9,301.4 382.4,301.9 381.9,302.6 382.4,304.9 381.6,304.9 381.6,306.6 382.4,307.9 383.9,308.9 383.9,310.1 383.1,311.6 384.6,313.4 386.6,313.4 387.9,314.6 389.4,314.4 389.6,314.9 390.9,314.9 393.1,316.1 393.9,316.1 394.1,315.1 396.6,315.1 396.1,314.6 396.9,313.6 398.6,314.4 400.4,312.9 400.4,312.1 401.1,311.4 401.1,308.9 399.9,307.6 399.9,304.9 400.9,304.1 402.6,304.9 403.4,304.6 404.1,305.4 404.9,305.1 406.6,307.4 407.6,307.6 408.6,308.6 414.1,308.1 415.1,307.4 415.9,307.9 416.6,307.1 418.1,307.1 418.1,305.9 419.1,305.9 419.6,305.1 421.4,304.9 421.6,304.4 422.9,304.4 423.6,304.9 423.1,304.1 423.6,303.4 422.9,303.4 421.9,302.4 422.4,300.9 423.6,299.9 423.4,299.4 419.9,298.9 419.1,298.4 417.6,299.1 415.4,297.6 414.4,297.9 414.4,296.9 413.9,297.4 411.9,297.1 410.9,297.9 409.4,296.6 408.9,294.4 407.9,293.6 408.1,292.4 407.6,290.9 409.9,288.4 409.6,287.4 411.4,286.6 412.4,285.4 411.4,284.9 411.6,284.4 410.1,282.6 408.4,282.6 407.6,281.9 403.4,280.1 402.6,279.4 402.6,278.6 400.4,278.4Z" fill="#2b5a83"/>
<path d="M485.1,263.6 482.4,263.9 482.1,267.9 481.1,268.1 480.1,267.6 479.6,270.1 477.6,271.4 475.1,271.4 473.4,270.6 472.4,271.4 471.4,270.1 469.9,269.9 468.1,268.6 467.6,267.4 466.6,267.6 465.9,266.6 464.6,267.6 462.6,266.1 461.1,267.1 460.6,266.9 459.4,268.4 459.4,269.4 457.9,270.6 457.4,272.1 457.4,275.1 455.6,277.4 454.9,277.4 454.4,278.6 453.9,278.4 453.6,279.1 453.1,278.9 453.1,280.4 451.6,280.1 450.6,280.9 450.4,282.6 451.1,283.1 450.6,284.4 452.1,285.1 453.9,287.6 453.4,288.6 454.1,289.9 453.9,292.1 455.4,293.4 455.9,294.6 455.6,295.6 456.6,298.4 457.6,299.1 457.9,300.9 459.6,301.9 458.4,303.6 458.4,304.9 459.4,305.9 458.9,308.1 461.1,309.1 461.4,308.9 462.1,310.4 464.4,309.4 464.9,310.4 467.4,310.6 468.6,309.4 468.9,308.4 470.1,308.9 470.6,308.1 472.9,308.1 473.6,307.1 476.4,309.6 477.6,309.1 478.4,309.9 479.1,309.6 480.9,310.4 484.9,308.6 484.6,307.9 485.4,307.4 484.9,306.1 485.1,304.6 482.6,297.9 483.4,296.6 481.4,294.1 481.9,291.9 480.4,288.4 482.4,285.6 485.4,283.4 485.9,282.4 488.1,282.1 489.4,280.4 490.6,279.9 491.9,278.4 493.1,278.6 491.6,276.4 491.9,274.4 491.1,272.9 489.9,272.1 490.4,271.4 489.9,268.9 486.4,266.1 486.4,265.4 485.4,264.6Z" fill="#152f49"/>
<path d="M502.6,260.1 501.9,260.6 501.9,261.4 502.1,261.1 502.6,261.9 498.6,264.1 498.9,264.6 498.1,265.4 498.6,265.9 495.9,268.4 495.4,269.6 491.4,269.6 490.4,270.6 490.6,271.4 490.1,272.1 491.4,272.9 492.1,274.4 492.1,276.9 493.6,278.4 495.6,279.1 496.4,280.6 499.1,279.1 500.6,279.4 505.1,276.6 506.4,277.4 509.1,277.1 510.1,275.9 509.6,274.4 510.9,274.1 506.6,264.1 503.9,261.4 503.4,261.4Z" fill="#1b3a58"/>
<path d="M509.9,274.4 510.4,275.9 509.1,277.4 506.4,277.6 505.1,276.9 500.6,279.6 499.1,279.4 498.4,280.1 497.4,280.1 497.6,280.4 496.9,280.9 495.9,280.4 495.6,279.4 493.4,278.4 493.1,278.9 491.9,278.6 490.6,280.1 489.6,280.4 488.1,282.4 485.9,282.6 485.4,283.6 482.6,285.6 480.6,288.4 482.1,291.9 481.6,294.1 483.6,296.6 482.9,297.9 485.4,304.6 485.4,307.1 485.6,307.4 486.1,306.9 486.4,305.6 487.4,305.6 487.1,305.4 487.6,304.9 487.9,305.1 488.9,303.4 489.4,301.1 488.4,300.4 488.4,299.6 489.1,298.9 489.4,295.1 490.4,294.1 491.4,294.1 493.4,292.4 493.9,291.1 494.6,293.1 495.1,293.4 495.1,294.6 496.1,295.4 496.6,296.6 495.9,298.4 496.6,299.6 495.9,300.1 495.9,301.4 494.9,301.9 494.9,302.6 497.1,306.6 498.6,307.4 498.9,309.1 500.1,310.6 500.1,312.4 501.6,315.4 502.6,316.4 502.1,316.9 502.1,319.4 502.9,319.1 502.9,319.9 503.4,319.6 503.4,320.1 504.6,320.1 505.9,322.1 507.4,322.4 508.6,323.4 509.6,323.1 510.1,323.6 509.9,324.4 511.6,325.1 513.4,324.1 513.1,323.6 514.6,322.4 515.6,322.4 517.6,320.9 517.4,320.4 520.1,317.9 520.6,317.9 521.4,316.6 523.1,315.6 523.1,314.9 524.4,313.6 526.9,312.9 527.9,311.1 530.1,311.4 530.6,310.9 528.9,307.1 525.6,295.4 511.1,274.4Z" fill="#152f49"/>
<path d="M346.9,258.6 346.9,260.4 346.4,261.4 346.6,262.4 344.6,264.6 344.6,265.4 345.4,266.1 344.4,266.4 343.9,268.6 344.4,268.9 344.1,269.6 345.1,270.4 345.9,270.1 346.4,271.4 348.9,273.4 349.1,274.9 348.1,276.4 349.9,277.6 349.9,279.6 351.4,281.4 352.6,280.9 353.4,282.4 354.6,282.4 355.1,282.9 356.4,282.4 356.9,282.9 360.1,281.9 361.4,282.4 362.9,282.1 363.4,282.9 364.4,282.4 364.6,282.9 367.4,282.9 368.1,283.9 369.1,283.6 371.9,284.6 372.6,284.1 374.4,285.1 377.9,284.9 379.6,285.6 381.1,284.9 382.1,285.1 382.9,284.4 383.9,285.1 385.6,285.1 387.9,283.1 387.9,281.9 388.6,280.9 387.6,280.1 388.4,279.4 388.9,279.6 387.6,279.6 385.9,277.6 385.9,276.6 385.1,276.4 383.6,274.6 384.4,271.4 384.9,270.9 385.4,271.6 385.4,270.9 386.9,270.4 387.4,269.4 386.4,266.6 382.1,267.4 381.6,266.4 380.1,266.6 378.9,263.9 376.4,262.9 374.4,263.4 371.9,262.4 370.9,260.9 367.9,261.1 367.4,260.1 367.1,260.9 367.9,261.6 367.4,262.6 363.4,264.6 363.1,265.6 361.6,265.6 360.9,266.6 359.6,266.6 358.6,265.4 357.6,265.1 356.6,264.1 357.1,261.9 355.9,260.6 355.9,257.6 356.4,256.4 354.9,256.6 354.1,255.9 351.9,255.6 347.9,257.4 347.9,257.9Z" fill="#1b3a58"/>
<path d="M493.9,291.4 493.4,292.6 491.4,294.4 490.4,294.4 489.6,295.1 489.4,298.9 488.6,299.6 488.6,300.4 489.6,301.1 489.1,303.4 488.1,305.1 486.4,305.9 486.4,306.9 484.9,307.9 485.1,308.9 483.6,312.1 483.6,312.9 484.6,313.6 484.6,314.4 483.9,315.4 483.9,317.9 483.4,318.4 486.4,321.9 486.6,323.4 490.9,322.4 491.6,322.9 492.6,322.4 494.6,322.4 496.9,321.1 499.9,321.6 500.9,320.9 502.1,321.1 503.4,319.9 502.9,319.4 501.9,319.4 501.9,316.9 502.4,316.4 501.4,315.4 499.9,312.4 499.9,310.6 498.6,309.1 498.4,307.4 497.6,307.4 496.9,306.6 496.4,305.1 495.6,304.6 495.6,303.9 494.9,303.4 494.6,301.9 495.6,301.4 495.4,300.6 496.4,299.6 495.6,298.4 496.4,296.6 495.9,295.4 494.9,294.6 494.9,293.4 494.4,293.1Z" fill="#183550"/>
<path d="M527.9,311.4 526.9,313.1 524.4,313.9 523.4,314.9 523.6,315.4 521.4,316.9 520.6,318.1 517.4,320.6 517.9,320.6 517.6,321.1 513.4,323.6 513.6,324.1 512.9,324.9 511.6,325.4 509.6,325.1 508.1,326.9 505.9,327.4 505.1,328.6 503.4,329.6 503.4,331.4 502.4,331.9 501.6,331.6 502.4,332.6 501.9,333.9 502.4,334.1 502.1,334.4 503.9,334.4 504.4,334.9 503.9,335.6 505.9,335.9 506.4,336.4 505.9,337.4 508.4,339.4 507.9,340.1 508.4,340.9 507.6,341.6 507.9,343.6 510.4,343.4 511.6,344.6 513.1,344.9 514.1,345.6 515.1,345.1 515.6,345.4 516.6,344.6 517.6,344.9 516.9,345.4 518.4,344.9 520.1,346.1 519.9,346.4 520.6,347.4 520.4,347.9 521.4,348.6 521.9,350.1 523.9,351.1 522.9,353.1 522.9,354.1 523.9,355.9 522.6,358.1 522.9,359.4 523.4,359.6 522.4,359.9 522.4,360.6 523.4,360.9 523.1,365.4 522.4,366.6 522.9,367.1 525.4,367.4 527.4,368.4 529.1,368.1 530.6,369.4 531.4,369.1 531.9,370.1 533.4,369.9 534.1,370.4 533.9,370.6 536.1,371.4 538.6,366.9 540.1,359.6 540.1,353.6 537.9,343.6 535.1,334.4 534.1,318.9 530.9,311.4Z" fill="#152f49"/>
<path d="M509.9,323.6 508.6,323.6 507.4,322.6 505.9,322.4 504.9,320.6 503.9,320.1 502.1,321.4 500.9,321.1 499.9,321.9 496.9,321.4 494.6,322.6 490.9,322.6 487.6,323.1 486.9,323.6 485.1,323.1 482.4,324.1 480.6,323.4 478.6,323.4 478.1,322.9 475.4,323.1 474.4,321.1 473.6,321.4 472.6,320.9 471.4,322.4 472.1,322.9 469.6,323.9 468.9,324.9 468.6,324.6 467.6,325.6 467.6,326.4 466.4,328.4 466.4,330.6 467.1,331.4 466.9,332.6 465.9,334.1 465.9,335.9 464.6,336.9 464.4,338.9 462.9,340.1 462.9,342.6 463.9,343.1 464.4,344.1 463.6,344.6 463.6,345.6 464.1,345.9 463.9,346.4 465.1,346.6 465.4,347.6 466.9,348.6 467.4,348.1 468.6,348.6 469.1,348.1 469.9,348.6 469.9,350.6 470.9,350.4 471.1,350.6 470.6,351.4 471.6,350.9 471.9,351.6 471.1,352.1 471.4,352.9 472.4,352.6 473.1,353.9 474.1,353.4 475.9,353.6 477.4,352.1 479.1,352.1 480.4,353.6 481.1,352.9 482.6,352.6 482.6,353.4 483.4,353.4 484.4,354.4 485.9,354.1 488.4,356.1 490.4,356.1 492.4,357.1 493.4,356.6 494.6,356.9 495.9,354.6 498.4,352.1 500.4,352.1 501.6,350.6 501.4,349.9 504.6,348.1 505.1,346.9 504.9,346.1 505.6,344.9 507.4,344.4 507.4,341.6 508.1,340.9 507.6,340.1 508.1,339.4 505.6,337.4 506.1,336.6 505.9,336.1 503.9,335.9 503.9,334.6 501.9,334.4 502.1,334.1 501.6,333.4 502.1,332.6 501.4,331.6 503.1,331.4 503.4,329.4 505.1,328.4 505.9,327.1 508.1,326.6 509.1,325.1 510.1,324.9 509.6,324.4Z" fill="#152f49"/>
<path d="M508.1,343.6 507.4,344.6 505.4,345.4 504.9,348.1 501.9,349.6 501.9,350.6 500.4,352.4 498.4,352.4 496.1,354.6 494.6,357.1 492.9,357.1 492.9,357.9 494.6,358.9 494.1,359.6 494.4,360.6 493.9,361.9 494.6,363.1 494.4,364.9 495.4,365.6 495.1,366.6 495.9,367.4 495.9,369.4 494.6,371.6 494.9,371.9 495.4,371.1 496.4,371.6 495.9,375.1 496.1,376.1 495.6,376.6 498.1,378.1 499.6,377.9 500.1,378.6 500.4,378.4 501.4,379.9 502.1,379.9 503.1,380.9 503.4,381.9 506.9,384.9 507.9,384.6 508.6,386.4 509.9,387.4 510.4,386.6 514.6,385.9 516.6,384.4 516.1,379.9 515.1,378.6 515.4,377.1 517.4,375.1 516.9,374.6 517.4,373.6 516.4,371.4 517.4,370.1 517.4,368.1 517.9,367.4 520.4,367.4 520.6,366.9 522.6,366.1 523.1,360.9 522.4,360.9 522.1,359.9 523.1,359.6 522.6,359.4 522.4,358.1 523.6,355.4 522.6,354.1 522.6,353.1 523.6,351.1 521.6,350.1 521.1,348.6 520.1,347.9 520.4,347.4 519.6,346.4 519.9,346.1 518.4,345.1 516.9,345.6 516.6,345.1 517.4,344.9 516.6,344.9 515.6,345.6 515.1,345.4 514.1,345.9 513.1,345.1 511.6,344.9 510.4,343.6Z" fill="#152f49"/>
<path d="M518.4,367.4 517.6,368.1 517.6,370.1 516.6,371.4 517.6,373.6 517.1,374.1 517.6,375.1 515.6,377.1 515.4,378.6 516.4,379.9 516.9,384.4 514.6,386.1 510.6,386.9 510.4,387.9 512.1,389.4 512.1,390.6 511.6,390.9 511.9,392.4 512.9,392.6 513.6,393.4 513.4,393.6 514.6,394.4 514.4,395.9 514.9,396.9 514.4,397.1 515.6,396.9 515.9,397.1 515.4,397.9 516.4,397.6 516.9,398.1 516.9,400.6 517.4,401.6 518.4,402.1 518.4,403.1 519.6,403.6 519.6,404.6 521.6,405.1 523.9,407.1 525.9,407.4 527.9,410.1 530.4,410.4 531.6,411.4 533.6,411.9 534.1,405.4 536.6,396.1 537.6,384.1 537.6,377.4 536.1,371.6 533.9,370.9 533.4,370.1 531.9,370.4 531.4,369.4 530.6,369.6 530.6,368.9 529.6,369.1 529.1,368.4 527.4,368.6 521.6,366.6 520.4,367.6Z" fill="#152f49"/>
<path d="M477.4,352.4 475.9,353.9 474.1,353.6 473.1,354.1 472.6,353.6 472.4,354.1 471.1,354.4 471.6,356.9 471.1,357.1 470.1,359.4 471.6,361.6 470.9,362.6 467.4,362.9 465.9,363.9 464.6,363.6 463.9,364.1 461.6,363.9 460.9,363.1 458.9,364.1 458.4,363.9 457.6,365.1 459.4,367.6 458.9,368.9 457.4,369.9 456.1,372.4 453.6,373.9 453.9,374.6 453.4,375.1 450.4,376.4 449.4,377.9 449.6,378.1 447.6,379.4 447.4,379.9 447.9,381.4 446.1,382.1 446.4,382.9 445.1,383.6 446.6,385.9 449.1,386.6 449.6,387.4 452.1,387.1 453.4,388.1 453.4,389.1 454.1,389.1 454.9,390.4 456.6,390.6 457.9,391.9 457.9,394.9 459.4,396.4 461.9,396.1 462.6,396.6 463.9,394.6 465.1,394.1 466.1,392.9 468.6,391.9 468.6,391.1 469.6,390.1 471.1,390.4 474.6,388.6 475.1,388.9 476.1,390.4 477.9,390.9 478.4,391.6 478.6,391.4 479.1,391.9 478.9,392.4 479.6,392.6 479.9,393.4 482.9,395.9 483.6,397.9 484.6,398.9 483.9,401.1 484.1,402.9 484.9,403.1 484.9,403.9 485.9,404.1 486.1,405.6 485.4,405.6 486.4,406.1 486.4,407.1 486.9,407.6 487.9,406.6 489.1,406.4 489.4,405.4 490.6,405.1 491.4,403.9 490.1,402.1 491.4,401.6 491.4,399.4 493.1,397.1 492.4,396.1 492.4,394.6 493.1,391.4 493.9,390.9 493.9,386.6 494.6,385.9 494.4,385.4 494.9,384.4 494.1,381.1 495.6,379.9 495.9,378.1 495.4,376.6 495.9,376.1 495.6,375.1 496.1,372.1 495.9,371.4 494.9,372.1 494.4,371.6 495.6,369.4 495.6,367.4 494.9,366.6 495.1,365.6 494.1,364.9 494.4,363.1 493.6,361.9 494.1,360.6 493.9,359.6 494.4,358.9 493.4,358.6 492.6,357.4 491.6,356.9 487.6,356.1 487.1,355.1 485.9,354.4 483.9,354.4 483.4,353.6 483.1,353.9 482.4,353.4 482.6,352.9 481.1,353.1 480.4,353.9 479.1,352.4Z" fill="#1d3f5e"/>
<path d="M458.1,325.4 456.9,326.1 456.6,326.6 457.1,327.4 453.1,331.6 451.9,331.9 451.6,332.9 450.6,332.6 450.4,333.9 448.4,334.9 447.6,336.4 445.1,338.1 445.4,340.6 444.6,341.1 445.1,341.6 444.1,344.9 444.4,346.1 445.1,346.6 445.4,348.1 446.9,350.4 446.9,351.6 447.4,350.6 447.9,351.1 447.9,352.4 447.1,353.6 447.4,355.1 448.6,354.9 450.1,355.9 451.6,355.9 452.4,356.6 452.4,357.4 453.9,357.9 454.1,359.4 454.9,360.4 456.4,360.4 457.9,361.4 458.6,363.9 460.9,362.9 461.6,363.6 463.9,363.9 464.6,363.4 465.9,363.6 467.4,362.6 470.9,362.4 471.4,361.6 469.9,359.4 470.9,357.1 471.4,356.9 470.9,354.4 472.4,353.9 472.4,352.9 471.1,352.9 470.9,352.1 471.6,351.1 470.6,351.6 470.4,351.1 470.9,350.6 469.6,350.6 469.9,348.9 469.1,348.4 468.6,348.9 467.9,348.4 466.9,348.9 465.1,347.6 465.1,346.9 464.9,347.1 463.6,346.4 463.9,345.9 463.4,345.6 463.4,344.6 464.1,344.1 463.9,343.4 462.6,342.6 462.6,340.1 464.1,338.9 464.4,336.9 465.6,335.9 465.6,334.1 466.6,332.6 466.9,331.4 466.1,330.6 466.1,328.4 467.4,326.4 467.4,325.6 466.4,325.6 465.6,326.4 462.4,325.4Z" fill="#1b3a58"/>
<path d="M431.9,314.9 428.6,318.9 428.9,319.9 428.1,320.4 427.4,320.1 427.4,321.4 426.4,322.4 425.1,325.6 425.1,327.4 425.6,328.1 424.9,328.9 424.6,330.9 426.4,332.9 425.9,334.1 426.1,333.9 426.9,335.1 427.1,336.9 426.6,339.9 427.1,341.1 426.6,341.6 427.6,342.9 426.9,345.9 430.6,348.9 430.9,349.9 431.9,349.9 432.4,351.1 433.9,351.1 435.4,352.4 436.6,351.9 437.4,352.9 437.1,353.4 440.1,352.9 440.6,353.4 445.1,348.1 444.9,346.6 444.1,346.1 443.9,343.9 445.1,341.4 444.4,341.4 445.1,340.6 444.9,338.1 447.1,336.6 448.4,334.6 450.1,333.9 450.1,332.9 450.6,332.4 451.6,332.6 451.9,331.6 453.1,331.4 454.4,330.1 454.6,329.4 456.9,327.4 456.4,326.6 457.1,325.6 458.1,325.1 462.1,325.1 459.6,324.4 458.4,323.1 456.4,322.6 453.6,319.9 453.1,320.4 452.4,319.6 450.9,320.1 449.9,319.6 448.6,317.6 446.1,319.4 444.6,318.6 441.6,318.9 440.4,316.9 440.6,316.1 439.4,316.4 436.4,314.9 435.6,315.9 433.4,315.9 432.6,314.9ZM452.9,329.6 453.1,330.1 452.6,330.6 452.4,330.1Z" fill="#152f49"/>
<path d="M400.9,304.4 400.1,304.9 400.1,307.6 401.4,308.9 401.4,311.4 400.6,312.1 400.9,313.1 400.1,313.9 402.6,314.6 404.1,316.4 404.1,317.1 406.4,317.9 407.1,317.6 408.4,318.4 408.4,319.4 409.4,320.4 410.4,323.4 410.9,323.6 410.6,324.4 411.6,325.1 412.1,326.6 411.6,327.4 412.1,328.6 411.6,330.4 412.6,331.9 412.6,334.6 412.1,335.4 412.6,337.6 411.6,338.4 411.9,339.1 410.4,341.4 410.4,344.6 409.6,345.6 409.4,347.1 410.4,348.6 411.9,349.1 412.1,349.6 413.4,349.4 414.4,350.1 415.4,349.6 415.9,350.9 417.1,351.1 418.9,350.4 420.4,351.1 422.9,351.1 424.1,347.9 425.9,347.4 425.4,346.9 426.6,345.9 427.4,342.9 426.4,341.6 426.9,341.1 426.4,340.4 426.9,338.4 426.6,334.4 426.4,334.6 425.9,333.9 426.1,332.9 425.6,331.9 425.1,331.9 424.4,330.9 424.6,328.9 425.4,328.1 424.9,327.4 424.9,325.6 426.1,322.4 427.1,321.4 427.1,320.1 428.6,319.9 428.4,318.9 431.9,314.6 432.1,310.6 430.4,309.4 429.1,307.4 428.1,306.9 426.6,307.4 426.1,306.4 422.9,304.6 419.6,305.4 419.1,306.1 418.4,305.9 418.1,307.4 416.6,307.4 415.9,308.1 415.1,307.6 414.1,308.4 408.6,308.9 407.6,307.9 406.6,307.6 404.9,305.4 404.1,305.6 403.4,304.9 402.6,305.1Z" fill="#1c3d5c"/>
<path d="M379.4,305.1 378.9,306.1 379.4,306.4 378.9,307.1 379.4,307.9 379.1,308.4 377.4,309.1 376.9,309.9 377.1,311.4 375.6,314.1 374.9,314.6 374.1,314.4 375.1,315.1 374.9,315.9 376.1,315.6 376.9,316.9 377.9,316.9 378.1,318.4 377.1,319.9 377.6,320.6 377.1,321.1 377.4,321.9 376.9,322.4 376.4,322.1 376.1,322.9 375.4,322.9 374.6,324.1 374.9,324.6 374.1,325.1 374.6,327.6 373.4,330.9 374.6,332.1 375.1,333.4 375.4,332.9 376.1,333.4 375.9,334.1 376.4,334.6 378.4,335.4 379.1,336.6 381.9,337.6 381.9,339.4 384.4,341.1 384.6,342.6 385.1,341.9 385.9,342.6 388.9,340.6 390.4,337.9 391.4,339.4 393.6,340.1 397.4,342.6 398.6,342.4 400.6,344.4 399.4,346.1 401.1,348.1 401.6,350.4 402.9,351.6 403.4,352.9 404.9,353.4 405.9,351.9 407.1,351.9 407.1,351.4 409.6,349.1 409.9,348.4 409.1,347.6 409.1,346.6 410.1,344.6 410.1,341.4 411.6,339.1 411.4,338.4 412.4,337.6 411.9,336.6 412.4,331.9 411.4,330.4 411.9,329.1 411.4,327.4 411.9,326.6 411.4,325.1 410.4,324.4 410.6,323.6 410.1,323.4 409.1,320.4 408.1,319.4 408.1,318.4 404.1,317.4 403.9,316.4 402.6,314.9 399.9,313.9 400.6,313.1 398.6,314.6 396.9,313.9 396.4,314.6 396.9,315.1 396.6,315.4 394.1,315.4 393.9,316.4 390.9,315.1 389.6,315.1 389.4,314.6 387.9,314.9 386.6,313.6 384.6,313.6 382.9,311.6 383.6,310.1 383.6,308.9 382.9,308.6 381.6,307.1 381.6,305.4Z" fill="#22496c"/>
<path d="M414.6,296.1 414.4,297.6 415.4,297.4 417.6,298.9 419.1,298.1 419.9,298.6 423.4,299.1 423.9,299.6 422.6,300.9 422.1,302.4 423.9,303.4 423.4,304.1 423.9,304.9 426.1,306.1 426.6,307.1 427.9,306.6 429.1,307.1 430.6,309.4 432.4,310.6 432.1,314.6 432.6,314.6 433.4,315.6 435.6,315.6 436.4,314.6 439.4,316.1 440.6,315.9 440.6,316.9 441.6,318.6 444.6,318.4 445.9,319.1 448.6,317.4 449.9,319.4 450.9,319.9 452.4,319.4 453.1,320.1 453.6,319.6 456.4,322.4 458.4,322.9 459.6,324.1 461.9,324.6 462.6,325.4 465.6,326.1 466.4,325.4 467.9,325.4 469.6,323.6 471.9,322.9 471.1,322.4 472.6,320.6 473.6,321.1 474.4,320.9 475.4,322.9 478.1,322.6 478.6,323.1 480.6,323.1 482.1,323.9 485.1,322.9 486.4,323.1 486.1,321.9 483.1,318.4 483.6,317.9 483.6,315.4 484.4,314.4 484.4,313.6 483.6,313.4 483.4,312.1 484.9,308.9 480.9,310.6 479.1,309.9 478.4,310.1 477.6,309.4 476.4,309.9 473.6,307.4 472.9,308.4 470.6,308.4 470.1,309.1 468.9,308.6 468.9,309.4 467.4,310.9 464.9,310.6 464.4,309.6 462.1,310.6 461.4,309.1 461.1,309.4 458.6,308.1 459.1,305.9 458.1,304.9 458.1,303.6 459.1,302.6 459.1,301.6 457.1,300.4 456.6,300.9 455.1,300.9 453.1,298.9 450.9,298.6 449.4,296.9 447.9,296.4 447.4,295.1 446.1,293.9 442.9,294.9 442.6,295.9 440.9,297.1 440.1,297.1 437.6,295.6 436.9,295.9 436.4,294.1 433.9,294.4 432.9,293.4 432.6,292.4 431.4,291.4 430.4,288.9 429.6,288.9 429.4,288.1 428.4,287.6 426.4,285.4 424.4,285.4 423.9,286.4 422.9,286.9 421.1,286.6 421.9,287.9 419.1,289.9 418.1,291.4 418.1,292.4 415.6,294.1 415.4,295.4Z" fill="#152f49"/>
<path d="M445.4,348.4 444.1,349.1 444.1,349.6 440.6,353.6 440.1,353.1 437.6,353.6 437.6,354.9 437.1,355.1 437.4,356.6 436.4,357.6 436.6,358.9 435.4,361.6 436.1,363.1 434.6,364.9 434.4,367.9 435.1,368.6 433.9,370.6 432.1,370.9 430.6,372.9 431.1,376.9 430.4,377.4 430.6,379.4 429.9,380.6 429.9,383.6 429.1,384.6 429.1,386.6 429.6,387.9 430.6,387.1 431.9,388.1 431.6,388.9 432.6,389.1 433.4,390.4 434.6,390.1 435.4,387.6 437.6,385.1 438.1,383.9 438.9,383.6 440.1,384.6 441.1,384.6 443.4,383.4 443.9,384.1 445.1,384.4 444.9,383.6 446.1,382.9 445.9,382.1 447.6,381.4 447.9,380.4 447.4,380.4 447.4,379.4 448.4,378.4 449.4,378.1 449.1,377.9 450.4,376.1 453.4,374.9 453.4,373.9 456.1,372.1 456.1,371.4 457.1,369.9 458.4,369.1 459.1,367.9 457.4,365.1 458.4,363.6 457.6,361.4 456.4,360.6 454.9,360.6 453.9,359.4 453.6,357.9 452.4,357.6 451.6,356.1 450.1,356.1 448.6,355.1 447.1,355.1 446.9,353.6 447.6,352.4 447.4,350.9 447.1,351.6 446.6,351.6 446.6,350.4Z" fill="#152f49"/>
<path d="M436.9,352.4 436.1,352.1 435.4,352.6 433.9,351.4 432.4,351.4 431.9,350.1 430.9,350.1 429.6,348.1 426.6,346.1 425.9,346.9 425.4,346.6 425.4,347.1 425.6,346.9 426.1,347.4 425.6,347.9 424.4,347.9 422.9,351.4 420.4,351.4 418.9,350.6 417.1,351.4 415.9,351.1 415.4,349.9 414.4,350.4 413.4,349.6 412.1,349.9 411.1,349.1 411.4,348.9 409.9,348.6 409.9,349.1 407.4,351.4 407.4,351.9 405.9,352.1 404.9,353.6 402.6,352.9 401.9,354.1 402.4,355.6 401.9,356.1 401.4,355.1 400.9,355.1 399.6,356.9 400.4,359.1 399.6,361.6 400.1,363.6 399.9,366.6 400.4,367.1 399.9,367.9 400.1,372.4 399.6,373.1 399.6,374.9 400.9,375.6 400.4,376.4 400.9,380.6 400.1,385.4 400.6,385.6 400.9,385.1 402.4,384.9 403.1,383.6 404.1,383.6 404.4,382.4 405.6,382.6 406.6,382.1 408.4,379.4 409.9,379.1 411.1,378.1 412.1,378.4 411.9,377.6 412.9,377.6 412.9,377.1 414.6,375.4 415.4,376.1 417.6,376.1 419.4,377.9 422.1,378.9 424.4,380.9 425.6,383.1 427.6,383.9 428.9,385.1 429.6,383.6 429.6,380.6 430.4,379.4 430.1,377.4 430.9,376.9 430.4,372.9 432.1,370.6 433.9,370.4 434.9,368.6 434.1,367.9 434.4,364.9 435.9,363.1 435.1,361.6 435.9,359.6 436.4,359.6 436.1,357.6 437.1,356.6 436.9,355.1 437.4,354.9 437.4,353.6 436.9,353.4Z" fill="#183550"/>
<path d="M398.9,366.9 397.9,368.4 395.6,369.6 395.4,370.4 393.9,371.4 394.1,371.6 393.1,373.9 391.6,375.1 392.6,376.9 393.9,377.6 393.9,378.4 395.9,379.9 396.6,383.6 396.4,385.1 396.9,385.9 396.1,386.4 396.6,388.1 396.1,391.9 395.6,392.1 395.6,393.4 394.9,394.1 394.9,395.4 394.1,396.6 394.4,397.4 393.6,397.6 393.9,398.4 395.1,398.9 395.4,399.9 394.9,400.1 393.1,399.4 391.9,401.1 392.6,404.6 391.9,405.1 391.4,406.4 392.4,406.1 395.1,406.9 396.6,405.9 397.4,407.6 398.1,407.6 399.1,408.6 399.4,408.4 401.1,409.4 401.1,410.6 400.4,411.4 399.6,410.9 400.4,412.9 401.1,412.1 401.9,412.9 401.9,413.6 402.9,414.4 403.9,414.4 404.9,415.4 405.6,414.6 407.1,414.9 409.4,416.6 410.6,416.6 410.9,416.1 411.6,416.4 411.9,415.9 412.6,415.9 414.1,414.4 415.6,414.1 418.9,411.6 420.9,411.6 422.1,409.6 423.1,409.1 423.1,408.4 424.4,408.4 425.1,406.9 429.6,405.4 431.6,403.6 433.1,403.6 434.6,402.9 434.6,399.6 434.1,399.1 434.4,397.4 433.6,396.4 433.6,392.6 432.9,391.6 432.9,389.6 431.6,389.1 431.6,388.1 430.6,387.4 429.6,388.1 428.9,386.6 429.1,385.6 427.6,384.1 425.6,383.4 423.6,380.4 423.1,380.4 422.1,379.1 419.4,378.1 417.6,376.4 415.4,376.4 414.6,375.6 412.9,377.9 412.1,377.6 412.1,378.6 411.1,378.4 409.9,379.4 408.4,379.6 406.6,382.4 405.6,382.9 404.4,382.6 404.1,383.9 403.1,383.9 402.4,385.1 400.4,385.9 399.9,385.4 399.9,383.9 400.6,380.6 400.1,377.1 400.6,375.6 399.4,374.9 399.4,373.1 399.9,372.4 399.6,367.9 400.1,367.1Z" fill="#1b3a58"/>
<path d="M432.9,390.4 433.9,392.6 433.9,396.4 434.6,397.4 434.6,402.6 435.6,404.6 437.4,405.9 437.1,406.1 438.4,409.9 440.4,410.1 440.9,410.6 441.9,409.1 442.9,408.6 443.6,409.4 443.9,411.1 444.9,410.4 444.9,409.6 446.1,408.1 447.4,408.1 449.6,409.6 451.6,409.6 452.9,410.1 452.9,411.1 454.1,412.6 455.1,412.1 455.6,412.4 456.4,411.4 457.1,411.4 457.9,412.4 459.6,413.1 461.1,412.6 461.9,413.1 461.9,416.6 462.4,417.6 463.1,418.1 464.6,417.9 465.1,418.6 468.1,419.9 470.1,419.4 471.9,420.9 474.1,419.9 475.4,419.9 477.9,421.1 479.4,420.9 479.9,420.1 482.1,421.1 483.4,420.9 484.4,419.9 483.1,417.6 483.6,415.1 482.1,413.6 482.6,412.9 484.4,412.1 484.9,410.6 486.9,408.1 486.1,407.1 486.1,406.1 485.6,405.9 485.6,404.1 484.9,404.1 484.6,403.1 483.9,402.9 483.9,399.9 484.4,398.9 483.4,397.9 482.6,395.9 478.6,392.4 478.9,391.9 476.1,390.6 475.1,389.1 474.6,388.9 471.1,390.6 469.6,390.4 468.6,392.1 466.1,393.1 465.1,394.4 463.9,394.9 462.6,396.9 461.9,396.4 459.4,396.6 457.6,394.9 457.6,391.9 456.1,390.6 454.9,390.6 453.9,389.6 454.1,389.4 453.4,389.4 452.6,387.6 449.6,387.6 449.1,386.9 446.6,386.1 445.4,384.6 444.4,384.6 443.4,383.6 441.1,384.9 440.1,384.9 438.9,383.9 438.1,384.1 437.9,385.1 435.6,387.6 434.9,390.1 433.4,390.6Z" fill="#152f49"/>
<path d="M496.1,377.1 495.6,377.1 496.1,378.1 495.9,378.6 495.6,378.4 495.9,379.9 494.4,381.1 495.1,384.4 494.6,385.4 494.9,385.9 494.1,386.6 494.1,390.9 493.4,391.4 492.6,394.6 492.6,396.1 493.4,397.1 491.6,399.4 491.6,401.6 490.4,402.1 491.6,403.9 490.6,405.4 489.6,405.4 489.1,406.6 487.9,406.9 486.9,407.9 486.9,408.9 486.1,409.1 484.6,412.1 482.4,413.6 483.9,415.1 483.4,417.4 483.6,418.4 484.6,419.4 484.6,420.1 485.6,420.1 486.4,420.9 486.4,422.4 487.1,423.1 489.4,422.6 491.4,423.9 494.1,424.1 496.6,423.6 500.6,419.9 501.6,417.9 502.9,417.9 502.9,416.9 504.6,415.4 505.6,413.6 507.6,413.6 509.6,411.9 511.9,412.4 512.1,411.9 514.6,411.6 515.4,410.4 517.1,409.6 516.6,406.6 517.9,405.9 518.6,404.1 518.1,402.1 517.4,401.9 516.6,400.6 516.6,398.1 515.4,398.1 515.1,397.6 515.6,397.1 514.1,397.1 514.6,396.9 514.1,395.9 514.4,394.4 513.9,394.4 512.9,392.9 511.6,392.4 511.4,390.9 511.9,390.6 511.9,389.4 510.1,387.9 510.4,386.9 509.6,387.6 507.9,385.6 507.9,384.9 506.9,385.1 503.1,381.9 502.1,380.1 501.1,379.9 500.4,378.6 500.1,378.9 499.6,378.1 498.1,378.4Z" fill="#152f49"/>
<path d="M518.9,403.4 518.1,405.9 516.9,406.6 516.9,408.4 517.4,409.1 517.1,409.9 515.4,410.6 514.6,411.9 512.1,412.1 511.9,412.6 509.6,412.1 507.6,413.9 505.6,413.9 504.9,415.4 503.1,416.9 503.1,417.9 501.6,418.1 500.9,419.9 496.9,423.6 497.1,424.1 498.4,424.1 499.4,425.1 500.6,425.1 501.9,426.6 501.9,427.4 503.9,428.6 505.6,431.4 508.4,432.9 508.4,434.6 510.1,436.4 512.4,437.4 512.4,439.1 513.1,438.9 513.1,438.1 515.6,438.9 518.9,435.9 519.1,435.1 523.4,437.1 525.9,435.4 529.4,435.6 529.1,435.1 529.6,434.4 530.1,434.4 530.4,435.1 531.6,434.6 532.1,435.4 533.9,436.1 535.4,434.9 536.1,434.9 537.6,432.6 537.6,427.4 534.1,417.9 533.6,412.1 531.6,411.6 530.4,410.6 527.9,410.4 525.9,407.6 523.9,407.4 521.6,405.4 519.6,404.9 519.1,404.4 519.4,403.6Z" fill="#254e73"/>
<path d="M418.1,412.6 418.1,414.1 419.1,414.4 419.6,415.6 420.9,415.1 421.1,416.1 422.4,416.6 422.4,417.9 423.1,417.9 423.4,417.4 423.6,417.9 424.1,417.1 424.9,417.1 426.6,418.4 426.4,419.4 427.1,419.4 428.9,421.6 428.4,422.1 428.6,423.4 429.6,423.9 431.6,426.1 431.1,429.4 431.6,430.9 433.4,432.1 433.1,433.1 433.9,433.6 433.9,434.4 435.1,433.9 436.1,434.6 436.4,435.4 435.9,435.6 436.6,436.1 436.4,436.4 437.1,436.4 436.4,437.4 437.1,437.4 437.1,436.4 437.6,435.9 439.1,435.9 441.1,433.4 443.6,433.9 446.9,435.4 448.6,433.4 448.6,432.1 450.4,430.9 450.4,429.9 452.4,429.6 452.9,429.1 452.9,427.9 454.4,427.1 453.9,424.9 452.4,424.9 450.9,423.9 451.1,423.4 450.1,420.4 448.6,420.1 446.9,418.6 445.1,416.4 444.9,415.1 442.9,413.9 442.6,413.4 443.1,412.6 441.9,411.9 441.9,410.9 438.1,409.9 436.9,406.1 437.1,405.9 435.4,404.6 434.6,403.1 434.1,403.6 431.6,403.9 429.6,405.6 425.1,407.1 424.9,408.1 424.4,408.6 423.4,408.4 423.4,409.1 422.4,409.6 420.9,411.9 418.9,411.9Z" fill="#2e608a"/>
<path d="M441.6,410.1 442.1,411.9 443.4,412.6 442.9,413.4 443.1,413.9 445.1,415.1 445.1,415.9 446.4,417.9 448.6,419.9 449.9,419.9 450.4,420.4 451.4,423.4 451.1,423.9 452.4,424.6 453.4,424.4 454.1,424.9 454.4,426.9 456.6,428.6 456.4,429.4 457.1,429.9 457.1,431.6 459.9,433.1 460.1,434.9 461.6,435.9 461.6,436.6 464.1,439.9 464.4,441.9 467.1,441.9 468.6,440.4 469.6,440.6 469.1,438.9 469.9,438.9 469.6,437.9 470.9,436.6 472.1,436.6 472.6,435.9 474.6,435.6 474.6,435.1 475.6,434.6 477.1,432.4 479.9,430.9 481.4,429.4 481.9,428.1 482.9,428.1 483.4,427.4 484.6,427.6 485.6,426.4 486.4,426.4 486.4,424.9 487.1,423.4 486.1,422.4 486.4,421.9 485.6,420.4 484.4,420.1 483.4,421.1 482.1,421.4 479.9,420.4 479.4,421.1 477.9,421.4 476.9,420.6 474.1,420.1 471.9,421.1 470.1,419.6 468.1,420.1 465.1,418.9 464.6,418.1 463.1,418.4 462.4,417.9 461.6,416.6 461.9,414.9 461.6,413.1 461.1,412.9 459.6,413.4 457.9,412.6 457.1,411.6 456.4,411.6 455.6,412.6 455.1,412.4 454.1,412.9 452.6,411.1 452.9,410.4 451.6,409.9 449.6,409.9 447.4,408.4 446.1,408.4 445.1,409.6 445.1,410.4 443.9,411.4 442.9,408.9 442.1,409.1Z" fill="#152f49"/>
<path d="M418.1,412.9 416.9,413.1 415.6,414.4 414.1,414.6 411.6,416.6 410.9,416.4 410.6,416.9 409.4,416.9 407.1,415.1 405.6,414.9 404.9,415.6 403.9,414.6 402.9,414.6 400.9,412.4 400.1,415.1 399.4,415.6 399.6,416.1 400.6,416.4 400.1,419.4 400.6,419.9 400.4,421.6 400.9,421.9 400.9,422.6 400.1,423.1 400.1,424.1 399.4,424.9 399.6,425.4 400.1,425.1 400.6,425.6 400.6,428.9 399.6,429.9 400.4,430.6 400.4,432.4 401.1,433.1 400.4,434.4 400.4,435.9 401.1,437.6 396.6,443.4 397.9,445.4 396.9,446.4 396.9,447.1 398.6,449.4 398.1,450.6 399.9,455.4 399.6,456.4 401.4,458.4 401.1,460.6 401.6,461.6 402.6,460.6 403.6,460.9 404.1,459.6 404.9,460.1 406.1,458.6 407.4,458.9 408.1,455.4 409.9,452.6 409.9,451.6 412.9,450.9 413.1,449.4 412.6,448.6 414.4,448.4 413.9,447.9 414.6,447.1 414.6,446.1 416.1,444.9 416.1,443.1 416.9,442.4 418.9,442.4 421.1,440.1 422.4,440.1 424.9,438.9 425.9,439.1 426.4,438.4 427.6,438.6 427.4,438.4 427.9,438.1 431.4,439.9 431.9,438.9 432.1,439.1 433.4,438.1 433.6,433.6 432.9,433.1 433.1,432.1 431.4,430.9 430.9,429.6 431.4,427.1 431.1,425.6 430.6,425.6 429.6,424.1 428.4,423.4 428.1,422.1 428.6,421.6 427.1,419.6 426.6,419.9 426.1,419.4 426.4,418.4 426.1,418.6 424.9,417.4 424.1,417.4 423.6,418.1 423.4,417.6 423.1,418.1 422.4,418.1 421.9,417.1 422.1,416.6 421.6,416.1 421.1,416.4 420.9,415.4 419.6,415.9 419.1,414.6 417.9,414.1 417.6,413.4Z" fill="#1c3d5c"/>
<path d="M524.4,436.4 523.4,437.4 523.4,440.1 524.1,441.1 523.1,441.1 522.9,441.9 523.6,442.6 523.6,443.6 524.6,444.1 526.9,447.1 526.6,450.4 527.6,451.4 528.4,453.1 527.6,453.9 527.6,455.1 529.4,456.1 532.6,456.1 533.1,455.6 534.1,455.6 535.4,456.4 536.4,456.1 537.1,456.9 538.1,456.6 539.1,457.6 540.4,457.6 541.1,458.6 541.6,458.4 543.9,459.9 543.4,460.4 543.9,461.4 544.6,461.4 546.1,460.4 549.1,451.1 551.4,441.4 551.4,435.6 550.1,431.6 545.1,431.6 537.4,438.9 535.6,437.9 535.1,436.1 535.9,434.9 533.9,436.4 532.1,435.6 531.6,434.9 530.4,435.4 529.9,434.9 530.1,434.6 528.4,435.9 525.9,435.6 525.1,436.4Z" fill="#244d70"/>
<path d="M510.1,436.6 509.9,437.1 510.6,437.9 509.1,443.6 507.4,445.9 507.6,447.9 505.9,448.9 505.1,449.9 500.4,451.6 499.6,452.4 499.6,455.1 498.9,455.4 497.9,458.9 498.1,460.1 496.6,462.4 494.4,463.6 494.4,464.9 493.4,465.9 494.4,466.4 494.9,467.4 494.4,468.4 495.9,470.4 495.6,471.1 496.4,471.9 495.9,472.6 496.4,473.1 496.1,474.4 496.6,474.6 496.6,476.1 497.6,478.6 497.4,479.6 499.1,481.4 498.9,481.6 499.9,481.9 500.9,482.9 502.1,481.6 501.6,481.4 501.4,480.4 502.9,478.6 504.4,478.1 504.9,477.4 505.9,477.6 507.6,476.6 508.4,475.1 509.9,474.6 510.9,475.4 511.9,475.1 513.9,475.9 516.1,475.4 517.9,475.9 518.9,475.6 519.4,476.6 521.9,476.1 522.6,477.1 522.6,477.6 521.9,477.9 522.6,478.4 522.4,479.1 523.9,479.1 525.4,480.6 525.9,481.9 525.4,482.4 527.9,481.6 530.4,479.9 531.4,480.1 531.9,480.9 533.6,481.1 534.1,480.6 535.1,480.6 535.4,481.1 538.1,480.9 538.9,481.4 541.1,481.1 541.9,481.6 542.9,480.1 545.1,471.1 545.9,460.6 544.6,461.6 543.9,461.6 543.1,460.9 543.4,459.6 541.6,458.6 541.1,458.9 540.4,457.9 539.1,457.9 538.1,456.9 537.1,457.1 536.4,456.4 535.4,456.6 534.1,455.9 533.1,455.9 532.6,456.4 529.4,456.4 527.4,455.1 527.4,453.9 528.1,453.1 527.4,451.4 526.4,450.4 526.6,447.1 524.4,444.1 523.4,443.6 523.4,442.6 522.6,441.9 523.1,440.9 523.9,441.1 523.1,440.1 523.4,438.4 522.9,436.9 519.1,435.4 519.1,435.9 515.6,439.1 513.1,438.4 513.4,438.9 512.4,439.4 511.9,438.9 512.1,437.4Z" fill="#254e73"/>
<path d="M489.4,422.9 487.4,423.4 486.4,426.6 485.6,426.6 484.6,427.9 483.4,427.6 482.9,428.4 481.9,428.4 481.6,429.4 479.9,431.1 477.1,432.6 474.6,435.9 472.6,436.1 472.1,436.9 470.9,436.9 469.9,437.9 470.1,438.9 469.4,438.9 469.6,440.9 470.4,441.1 469.9,442.1 470.6,443.4 472.1,443.9 472.6,443.6 473.4,444.6 475.1,444.1 475.9,444.9 476.6,444.6 477.4,446.4 478.1,446.1 480.6,448.4 481.1,448.1 482.6,448.9 482.6,452.4 483.1,453.9 484.4,454.6 484.4,457.6 485.9,458.1 486.1,459.1 487.1,459.9 487.1,460.9 488.9,461.1 490.4,460.4 494.4,463.4 496.6,462.1 497.9,460.1 497.6,458.9 498.6,455.4 499.4,455.1 499.4,452.4 500.4,451.4 505.1,449.6 505.9,448.6 507.4,447.9 507.1,445.9 508.9,443.6 510.4,437.9 509.6,437.1 509.9,436.1 508.1,434.6 508.1,432.9 506.4,432.4 503.6,428.6 501.6,427.4 501.6,426.6 500.6,425.4 499.4,425.4 498.4,424.4 497.1,424.4 496.6,423.9 494.6,424.4 491.4,424.1Z" fill="#1b3a58"/>
<path d="M455.1,427.6 453.4,427.6 453.1,429.1 452.4,429.9 450.6,429.9 450.6,430.9 448.9,432.1 448.9,433.4 446.9,435.6 443.6,434.1 441.1,433.6 439.1,436.1 437.6,436.1 437.4,437.4 436.4,437.6 436.1,436.9 436.9,436.4 436.4,436.6 435.6,435.6 436.1,435.4 435.9,434.6 435.6,434.9 435.1,434.1 433.9,434.6 433.6,438.1 432.9,438.6 433.6,439.6 432.6,440.4 432.6,440.9 433.4,441.6 433.4,442.4 436.4,444.6 436.1,445.4 437.4,446.1 438.9,449.9 438.6,450.1 441.4,451.6 441.9,452.6 442.4,452.6 442.9,451.6 444.1,450.9 446.1,451.1 446.6,450.1 447.4,450.6 449.1,450.6 450.9,451.6 451.9,450.9 452.4,451.1 453.1,449.6 453.9,449.1 454.1,449.4 454.6,448.6 454.9,447.1 457.1,445.6 457.9,444.4 459.1,444.4 459.6,443.6 461.1,444.1 461.4,443.4 463.1,441.9 464.1,441.9 463.9,439.9 461.4,436.6 461.4,435.9 459.9,434.9 459.4,432.9 457.9,432.6 456.9,431.6 456.9,429.9 456.1,429.4 456.4,428.6Z" fill="#1b3a58"/>
<path d="M462.1,443.1 461.1,444.4 459.6,443.9 459.1,444.6 457.9,444.6 457.1,445.9 455.1,447.1 454.4,449.4 453.4,449.6 453.1,450.6 451.1,451.9 451.4,452.6 450.9,453.1 450.9,455.1 451.6,456.6 454.1,455.6 455.1,456.1 454.9,456.6 455.4,455.9 456.1,455.9 456.9,456.6 457.1,456.1 457.6,457.1 463.4,456.6 462.4,455.1 463.4,453.4 461.4,450.6 461.9,450.1 462.9,450.4 462.9,449.4 461.4,447.9 462.1,445.6ZM461.6,454.9 462.1,455.4 461.6,456.4 460.9,455.6Z" fill="#346d9c"/>
<path d="M468.6,440.6 467.1,442.1 463.1,442.1 462.4,442.9 462.4,445.6 461.6,447.9 463.1,449.4 463.1,450.4 461.6,450.6 463.6,453.4 462.6,454.6 463.6,456.4 463.6,457.6 467.4,457.9 468.1,458.6 470.6,458.9 472.4,457.4 471.9,455.1 473.4,453.9 472.9,450.1 472.1,448.9 472.9,446.9 472.6,447.1 472.1,446.6 471.9,445.6 472.4,444.9 471.9,443.9 470.6,443.6 469.6,442.1 470.1,441.1Z" fill="#2d5e87"/>
<path d="M449.9,458.4 449.1,459.1 449.9,461.1 448.9,462.6 448.9,463.4 449.9,463.1 451.1,464.1 452.4,466.1 454.1,467.6 456.6,466.6 457.1,466.9 456.9,465.9 458.6,462.9 456.4,460.9 455.4,460.6 454.4,459.6 454.1,458.6 453.1,458.4 452.6,457.6 451.6,457.6 450.9,458.6Z" fill="#4289c1"/>
<path d="M460.9,459.4 460.9,460.6 459.9,461.6 460.6,462.1 460.4,462.9 462.1,464.6 462.4,465.9 464.6,465.9 466.9,467.1 468.6,467.4 468.9,467.1 467.9,465.9 470.6,464.4 470.1,464.1 469.9,462.9 470.9,461.4 471.6,458.6 469.1,459.1 469.1,458.6 468.1,458.9 467.4,458.1 464.1,458.1 463.4,457.6Z" fill="#306591"/>
<path d="M451.9,456.6 451.4,457.6 452.1,457.1 453.1,458.1 454.4,458.6 455.4,460.4 456.4,460.6 456.1,458.6 456.6,456.6 456.1,456.1 455.1,456.4 454.1,455.9 453.6,456.4Z" fill="#22496c"/>
<path d="M456.6,460.9 457.1,461.4 458.6,459.9 461.1,459.1 462.9,457.9 463.4,456.9 457.6,457.4 457.1,456.4 456.4,458.6ZM461.6,455.1 461.1,455.6 461.6,456.1Z" fill="#1b3a58"/>
<path d="M460.6,459.6 458.6,460.1 457.4,461.9 459.4,463.4 460.6,463.4 460.1,462.9 460.4,462.1 459.6,461.6 460.6,460.6Z" fill="#1f4262"/>
<path d="M472.4,443.9 472.1,444.1 472.6,444.9 472.1,445.6 472.4,446.6 473.1,446.9 472.4,448.9 473.1,450.1 473.6,453.9 472.1,455.1 472.6,457.4 471.9,457.9 471.1,461.4 470.1,462.9 470.4,464.1 470.9,464.4 468.1,465.9 469.1,467.1 468.4,469.9 469.1,470.4 468.6,471.9 469.4,472.4 469.6,473.4 470.9,474.1 470.9,474.9 471.6,474.9 472.4,475.9 473.4,476.1 473.6,475.4 474.4,475.4 475.1,474.6 476.4,471.6 477.6,471.4 479.9,472.9 481.6,472.9 482.4,472.1 483.4,472.1 484.6,470.4 486.4,469.9 487.4,470.1 487.9,469.6 490.6,469.1 492.6,466.9 493.6,466.4 493.1,465.9 494.1,464.9 494.1,463.1 491.9,462.1 490.4,460.6 488.9,461.4 487.1,461.1 486.6,460.6 486.9,459.9 485.9,459.1 485.6,458.1 484.4,457.9 484.6,457.6 483.9,456.4 484.1,454.6 482.9,453.9 482.4,452.4 482.4,448.9 481.1,448.4 480.6,448.6 478.1,446.4 477.4,446.6 476.6,444.9 475.9,445.1 475.1,444.4 473.4,444.9 473.1,444.1Z" fill="#275277"/>
<path d="M448.4,450.6 447.4,450.9 446.6,450.4 446.1,451.4 444.1,451.1 443.1,451.6 441.9,453.9 440.9,454.4 440.1,455.6 440.1,456.9 441.4,458.4 440.4,465.1 442.9,468.6 444.6,469.1 443.9,470.1 444.1,471.6 442.9,472.4 442.9,473.6 442.4,474.1 442.9,474.4 441.9,476.6 440.6,477.1 438.4,480.1 438.4,481.1 439.1,482.1 438.9,482.9 439.6,483.9 438.9,485.1 440.1,487.4 442.4,486.9 443.4,486.1 445.4,486.1 446.6,485.4 447.1,485.6 448.9,484.9 449.9,483.6 451.6,483.6 452.4,482.9 453.9,483.1 453.9,481.6 454.6,481.1 454.6,480.4 454.1,480.4 452.9,478.9 455.6,474.6 458.1,474.6 459.4,475.4 461.9,475.9 462.4,475.1 465.6,475.9 467.1,474.6 468.6,472.4 469.1,472.6 468.4,471.9 468.9,470.4 468.1,469.9 468.6,467.6 466.9,467.4 464.6,466.1 462.4,466.1 461.9,464.6 460.1,463.4 458.9,463.4 457.9,464.4 457.1,465.9 457.1,467.1 456.6,466.9 454.6,467.9 453.4,467.4 451.4,464.6 449.9,463.4 448.6,463.4 448.6,462.6 449.6,461.1 448.9,459.1 449.9,458.1 450.9,458.4 451.6,456.9 450.6,455.1 450.6,453.1 451.1,452.1Z" fill="#244d70"/>
<path d="M501.4,482.9 500.9,483.1 499.9,482.1 498.9,481.9 498.9,481.4 497.1,479.6 497.4,478.6 496.6,477.1 496.4,474.6 495.9,474.4 496.1,473.1 495.6,472.6 496.1,471.9 495.4,471.1 495.6,470.4 494.1,468.4 494.6,467.6 494.1,466.4 492.6,467.1 490.6,469.4 487.9,469.9 487.4,470.4 486.4,470.1 484.6,470.6 483.4,472.4 482.4,472.4 481.6,473.1 479.9,473.1 477.6,471.6 476.4,471.9 475.4,474.6 474.4,475.6 473.6,475.6 473.4,476.4 472.4,476.1 471.6,475.1 470.9,475.1 470.6,474.1 468.6,472.6 467.4,474.6 465.6,476.1 463.9,475.9 463.4,475.4 462.4,475.4 461.9,476.1 459.4,475.6 458.1,474.9 455.6,474.9 453.1,478.9 454.9,480.4 454.9,481.1 454.1,481.6 454.1,483.4 454.6,483.9 454.4,484.4 455.1,484.6 455.1,485.6 455.6,485.9 455.9,489.4 457.4,490.1 458.6,491.9 459.1,491.9 460.9,490.1 464.1,489.9 464.9,490.6 465.4,489.9 466.6,490.1 467.1,489.6 468.9,489.6 469.9,489.1 472.1,490.4 473.9,490.4 474.4,491.4 475.4,490.4 477.1,490.4 477.1,491.4 477.6,491.4 478.1,490.6 479.1,490.9 479.6,490.1 480.4,490.6 480.9,489.9 483.1,490.1 484.6,489.1 485.6,487.4 487.4,486.6 487.6,485.1 489.9,484.9 492.1,485.9 494.6,485.1 494.9,485.9 496.9,484.1 499.6,484.4Z" fill="#152f49"/>
<path d="M495.4,485.6 494.9,486.1 494.4,485.9 494.6,485.4 492.1,486.1 489.9,485.1 487.6,485.4 487.6,486.6 486.9,487.4 485.6,487.6 484.9,489.1 483.1,490.4 480.9,490.1 480.4,490.9 479.6,490.4 479.1,491.1 478.1,490.9 477.6,491.6 476.9,491.4 477.1,490.6 475.4,490.6 474.4,491.6 473.9,490.6 472.9,490.1 472.9,490.6 472.1,490.6 470.1,489.4 467.1,489.9 466.6,490.4 465.4,490.1 464.9,490.9 464.1,490.1 460.9,490.4 458.9,492.1 458.4,493.9 457.6,494.6 457.4,495.9 458.6,498.1 458.1,498.4 458.4,500.4 457.6,501.4 458.6,502.6 459.6,502.6 460.9,503.6 461.6,505.9 462.4,505.4 463.4,505.9 466.1,510.9 467.4,511.6 468.4,513.1 469.1,513.1 470.1,514.1 470.6,513.9 471.9,514.9 473.1,516.9 472.4,517.6 472.9,517.1 475.9,516.6 476.9,515.6 479.9,515.1 480.1,514.1 482.6,512.1 485.1,511.6 487.1,510.4 488.1,508.1 487.9,507.1 488.6,506.6 488.9,506.9 488.6,506.1 489.1,505.9 489.1,504.9 489.6,504.4 489.1,503.4 490.9,501.9 490.6,501.1 491.9,500.6 494.1,497.6 494.4,496.6 495.4,495.9 495.4,494.1 496.4,493.6 496.6,492.9 495.6,490.9 496.4,488.9 494.9,486.9Z" fill="#1b3a58"/>
<path d="M508.4,475.4 507.6,476.9 505.9,477.9 504.9,477.6 504.4,478.4 502.9,478.9 501.6,480.4 501.9,481.4 502.4,481.6 500.6,484.1 499.6,484.6 496.9,484.4 496.1,485.4 495.9,485.1 495.1,486.9 496.6,488.9 495.9,490.1 496.4,492.1 497.6,493.9 500.4,495.9 502.1,496.1 502.9,495.1 503.6,496.4 506.1,496.1 508.6,498.1 508.6,498.9 510.1,500.6 510.9,500.6 511.6,499.9 513.6,501.4 515.1,501.4 515.6,502.1 515.6,503.6 516.4,504.1 516.1,505.1 517.4,506.1 517.4,508.6 516.6,509.9 516.9,511.6 521.1,513.9 521.4,515.4 522.4,516.1 522.1,516.6 525.1,518.9 526.9,518.6 527.9,519.1 532.6,512.6 534.1,505.9 531.9,505.9 531.4,503.9 530.6,503.1 529.9,503.4 528.9,502.9 527.9,501.6 527.1,501.6 525.9,500.6 526.4,499.4 526.1,498.1 524.6,496.9 523.4,496.6 522.9,495.6 520.9,494.9 519.9,493.6 520.6,492.4 520.4,490.1 521.1,489.6 521.1,488.6 522.1,487.6 523.9,487.9 524.4,487.4 524.4,486.1 523.6,484.9 524.9,483.6 524.9,482.6 525.6,481.9 525.4,481.1 523.9,479.4 522.6,479.6 522.1,479.1 522.4,478.4 521.6,477.9 522.4,477.6 521.9,476.4 519.4,476.9 518.9,475.9 517.9,476.1 516.1,475.6 513.9,476.1 513.4,475.6 510.9,475.6 509.9,474.9ZM524.4,497.9 524.6,497.6 525.1,498.4 524.6,498.6Z" fill="#22496c"/>
<path d="M523.9,484.9 524.6,486.9 525.4,486.4 527.4,487.4 528.4,487.4 530.1,489.4 528.9,490.4 528.9,490.9 531.4,492.1 532.6,493.6 534.9,493.1 535.9,493.4 536.4,491.9 537.4,492.4 540.1,491.1 541.4,491.1 542.6,481.1 541.9,481.9 541.1,481.4 538.9,481.6 538.1,481.1 535.4,481.4 535.1,480.9 534.1,480.9 533.6,481.4 531.9,481.1 531.4,480.4 530.4,480.1 527.9,481.9 525.1,482.6 525.1,483.6Z" fill="#22496c"/>
<path d="M525.4,486.6 523.9,488.1 522.1,487.9 521.1,489.1 521.4,489.6 520.6,490.1 520.9,492.1 521.6,492.6 522.4,492.4 523.4,493.1 524.6,493.1 524.9,494.6 525.6,494.6 526.6,493.4 529.1,492.9 529.9,491.6 528.6,490.9 528.6,490.4 529.9,489.4 528.4,487.6 527.4,487.6ZM525.6,492.9 526.1,492.6 526.4,493.1 525.9,493.4Z" fill="#22496c"/>
<path d="M520.9,492.4 520.1,493.1 520.9,494.6 522.9,495.4 523.4,496.4 524.6,496.6 526.4,498.1 526.4,500.9 527.9,501.4 529.9,503.1 530.6,502.9 531.6,503.9 531.9,505.6 533.6,505.9 534.6,505.4 534.9,504.1 534.4,504.1 534.1,502.1 533.4,501.1 533.4,499.1 532.1,498.6 533.1,496.9 533.1,495.4 532.4,494.9 533.1,494.4 531.4,492.4 529.9,491.9 529.1,493.1 526.6,493.6 525.6,494.9 524.4,494.4 524.6,493.4 523.4,493.4 522.4,492.6 521.6,492.9Z" fill="#2b5a83"/>
<path d="M541.1,491.6 540.1,491.4 537.4,492.6 536.4,492.1 535.9,493.6 532.9,493.6 533.4,494.4 532.6,495.1 533.4,495.4 533.4,496.9 532.4,498.6 533.6,499.1 533.6,501.1 534.4,502.1 534.6,504.1 535.1,504.1 534.6,505.6 538.1,503.6 538.6,502.9 540.4,496.9Z" fill="#1e4060"/>
<path d="M496.6,493.1 496.6,493.6 495.6,494.1 495.6,495.9 494.6,496.6 494.4,497.6 493.6,497.9 493.9,498.1 492.1,500.6 490.9,501.1 491.1,501.9 489.4,503.4 489.9,504.4 488.6,507.1 488.1,507.1 488.4,508.1 486.9,510.9 487.4,510.6 487.6,511.9 488.4,511.9 489.6,513.4 491.9,514.6 492.9,514.6 493.9,517.1 494.9,518.1 494.9,517.6 495.6,517.4 495.6,518.4 496.6,519.4 497.6,518.9 498.9,519.4 499.1,520.4 500.1,521.1 499.6,522.4 500.4,523.6 502.4,524.6 504.6,523.4 506.1,524.4 508.1,522.6 507.9,521.1 508.9,520.1 508.6,519.1 509.6,518.9 509.4,518.1 508.1,517.6 508.1,516.4 508.9,515.6 509.6,515.9 510.9,515.1 511.1,514.4 512.6,513.1 514.4,513.1 516.4,512.4 515.6,511.6 516.4,510.9 516.4,509.9 517.1,508.6 517.1,506.1 515.9,505.1 516.1,504.1 515.4,503.6 515.1,501.6 513.6,501.6 511.6,500.1 510.9,500.9 510.1,500.9 507.1,496.9 506.1,496.4 503.6,496.6 502.9,495.4 502.1,496.4 500.4,496.1Z" fill="#2b5a83"/>
<path d="M498.9,519.6 497.9,519.1 496.6,519.6 495.4,518.4 495.6,517.6 495.1,517.6 494.9,518.4 493.6,517.1 492.9,514.9 491.9,514.9 489.6,513.6 488.4,512.1 487.4,511.9 487.4,510.9 486.6,510.9 485.1,511.9 482.6,512.4 480.4,514.1 479.9,515.4 476.9,515.9 475.1,517.1 472.9,517.4 472.1,518.9 471.4,518.6 471.9,519.6 470.6,520.9 469.6,520.1 470.6,521.4 470.9,522.9 470.4,523.4 470.4,524.6 471.1,525.4 471.6,528.6 472.9,529.9 472.6,530.4 473.6,532.6 475.6,534.1 475.6,536.9 478.6,536.9 480.6,538.4 481.1,537.6 482.4,537.1 482.9,537.9 483.6,537.9 484.4,536.1 485.1,536.4 486.1,535.1 488.4,534.9 488.6,534.1 487.9,533.4 488.1,532.6 489.6,532.4 490.1,532.9 491.9,531.4 492.4,531.6 493.1,531.1 492.6,529.6 493.1,529.1 493.9,529.9 494.4,529.6 493.4,528.9 493.9,528.1 494.6,528.4 494.6,529.1 495.1,528.1 497.6,527.4 498.1,525.1 497.9,522.4 498.9,521.4ZM482.4,536.9 482.6,536.6 483.4,537.1 482.6,537.4ZM471.6,528.1 472.1,527.6 472.6,527.9 472.1,528.6Z" fill="#3875a7"/>
<path d="M516.4,511.1 515.9,511.6 516.6,512.1 516.1,512.9 515.6,512.6 514.4,513.4 512.6,513.4 510.9,515.4 508.4,516.4 508.4,517.6 509.4,517.9 509.9,518.9 508.9,519.1 509.1,520.1 508.1,521.1 508.4,522.6 507.9,523.4 509.1,523.6 510.4,524.9 510.6,525.9 510.1,526.6 510.9,525.9 511.9,526.1 513.9,528.6 513.9,529.6 514.6,530.6 516.1,531.6 516.6,532.9 516.4,533.6 517.1,533.9 517.6,536.9 518.6,538.1 521.1,535.6 525.1,529.1 526.4,521.6 527.6,519.4 526.9,518.9 525.1,519.1 521.9,516.6 522.1,516.1 521.1,515.4 521.1,514.1 517.9,512.6Z" fill="#1f4262"/>
<path d="M480.1,548.9 481.1,552.6 480.6,552.6 480.1,550.6 479.4,549.9 480.9,554.9 482.1,557.4 483.6,557.4 484.4,554.9 484.1,549.1 483.6,549.6ZM481.9,554.6 482.4,555.4 482.1,556.1 481.6,555.4ZM495.4,531.9 494.1,532.4 492.6,531.4 490.1,533.1 489.6,532.6 488.4,532.6 488.1,533.4 488.9,534.1 488.6,534.9 486.9,535.1 487.6,535.6 487.4,537.1 488.4,539.4 488.4,540.6 486.9,542.4 486.9,544.1 488.1,545.1 487.1,545.9 488.1,548.6 488.1,549.9 490.1,548.6 491.9,548.6 492.4,548.1 491.9,547.4 493.1,546.6 492.9,546.1 494.9,545.1 494.4,544.4 494.4,542.4 494.9,541.9 495.4,542.1 495.9,540.6 497.4,539.4 497.4,537.6 496.1,536.4 497.4,533.4 497.4,532.6Z" fill="#1c3d5c"/>
<path d="M493.9,528.4 493.6,528.9 494.6,529.6 493.9,530.1 493.4,529.9 493.1,530.4 494.1,532.1 495.4,531.6 496.6,531.9 497.6,532.6 497.6,533.1 500.9,534.1 500.9,531.9 500.1,530.6 500.9,528.9 500.1,528.1 497.6,527.6 495.1,528.4 494.6,529.4 494.4,528.4Z" fill="#275379"/>
<path d="M500.6,534.1 498.1,533.4 497.4,533.6 497.1,535.1 496.4,536.1 497.6,537.6 497.4,539.1 499.9,538.1 500.1,535.9 500.9,534.6Z" fill="#22496c"/>
<path d="M499.1,520.9 498.1,522.4 498.4,525.1 497.9,527.4 500.1,527.9 501.1,528.9 501.9,528.6 503.1,529.1 505.9,531.9 507.9,531.1 507.9,528.9 509.9,528.4 509.4,527.1 510.4,525.6 510.1,524.9 509.1,523.9 508.1,523.6 506.1,524.6 504.1,523.6 502.1,524.9 499.6,523.1 499.4,522.4 499.9,521.1Z" fill="#22496c"/>
<path d="M510.9,526.1 509.6,527.1 510.1,528.4 508.9,529.1 508.1,528.9 508.1,531.1 506.6,531.6 506.6,532.1 507.6,533.1 507.1,534.1 507.9,536.9 508.9,538.1 508.9,541.1 510.4,541.4 510.4,542.6 510.9,543.1 511.6,542.9 511.9,543.9 512.6,544.1 518.4,538.4 517.4,536.9 516.9,535.1 517.1,534.4 516.1,533.6 516.4,532.9 515.9,531.6 513.6,529.6 513.9,529.1 512.4,526.9Z" fill="#2e608a"/>
<path d="M500.6,529.4 500.4,530.6 501.1,531.9 501.1,534.6 501.9,535.6 504.1,536.6 504.4,535.6 505.4,535.4 505.9,534.6 507.1,535.1 506.9,533.6 507.4,533.1 506.4,532.1 505.4,531.9 504.1,530.1 501.9,528.9Z" fill="#254e73"/>
<path d="M500.9,534.9 499.9,538.4 500.9,541.1 501.9,542.1 502.1,541.4 503.4,541.9 504.1,541.1 503.9,540.6 504.4,539.9 503.6,539.1 504.4,538.1 503.9,536.9Z" fill="#2b5a83"/>
<path d="M505.9,534.9 505.4,535.6 504.6,535.6 504.1,536.9 504.6,538.1 503.9,539.1 504.6,539.9 504.1,540.9 505.6,542.1 505.4,542.6 507.4,544.9 508.4,544.9 509.4,546.1 510.6,546.1 512.4,544.4 511.6,543.9 511.6,543.1 510.9,543.4 510.1,542.6 510.4,541.6 509.1,541.6 508.6,541.1 508.6,538.1 507.6,536.9 507.4,535.6Z" fill="#265075"/>
<path d="M499.6,538.6 498.9,538.6 496.9,539.9 495.6,542.1 494.6,542.4 494.6,544.4 495.1,545.1 494.4,545.9 493.1,545.6 493.4,546.6 492.1,547.4 492.6,548.1 491.4,548.9 492.6,551.6 497.6,551.6 499.6,550.4 498.9,548.1 499.6,547.9 499.4,547.6 500.1,546.9 500.1,544.1 501.9,542.6 500.6,541.1Z" fill="#275379"/>
<path d="M510.4,546.4 509.4,546.4 508.4,545.1 507.4,545.1 505.1,542.6 505.4,542.1 504.4,542.1 504.1,541.4 503.4,542.1 502.1,541.6 502.1,542.6 500.4,544.1 500.4,546.9 499.1,548.4 499.9,550.6 505.9,550.9Z" fill="#1b3a58"/>
<path d="M463.6,506.6 463.4,507.9 462.1,508.6 461.1,510.9 459.9,511.9 459.4,513.6 458.4,514.1 458.1,516.4 458.9,517.4 459.1,519.4 458.6,520.4 459.9,521.9 459.4,524.4 461.1,525.4 461.1,526.1 462.1,526.1 462.6,526.9 461.9,527.4 462.4,528.6 464.1,529.6 465.1,529.6 465.6,530.1 465.4,530.9 468.1,530.9 468.4,530.4 470.4,530.9 472.4,530.4 472.6,529.9 471.6,529.1 471.1,527.9 471.1,525.1 470.6,525.4 470.1,524.6 470.1,523.4 470.6,522.6 469.4,519.9 470.1,519.9 470.6,520.6 471.6,519.6 471.1,518.6 472.1,518.6 472.1,517.6 472.9,516.9 471.1,514.4 470.1,514.4 469.6,513.6 468.4,513.4 467.4,511.9 465.9,510.9 464.1,507.4 463.4,506.9Z" fill="#254e73"/>
<path d="M468.9,530.4 468.1,531.1 466.6,531.1 466.4,535.9 467.4,536.9 467.1,537.6 468.1,538.6 468.1,539.6 468.6,539.6 470.1,541.4 469.9,542.9 469.4,542.1 469.1,542.4 469.6,543.1 468.9,544.9 470.4,545.6 473.1,542.1 474.6,541.9 475.1,540.1 474.6,539.1 475.4,538.6 475.1,537.4 475.6,536.4 475.4,534.1 473.4,532.6 472.6,530.6 469.4,530.9Z" fill="#244d70"/>
<path d="M468.9,550.9 465.6,551.1 461.6,557.9 461.9,559.4 463.4,559.4 464.9,556.1 467.1,552.9 468.4,552.4ZM466.4,531.4 465.1,530.9 465.1,529.9 462.9,529.4 462.1,528.6 461.6,527.4 462.4,526.9 461.9,526.1 461.6,526.4 459.6,524.9 459.1,523.9 458.9,524.6 457.9,524.6 457.9,526.1 456.4,525.6 454.9,526.9 453.4,526.4 452.6,527.1 452.1,526.6 451.1,527.9 450.6,527.9 449.1,531.1 446.4,533.1 446.6,533.4 445.9,533.9 445.4,535.6 444.6,535.4 443.9,535.9 442.4,534.9 441.1,535.1 440.6,534.6 440.6,536.4 441.4,538.1 440.6,539.9 441.1,540.6 440.9,541.1 441.9,540.4 442.6,540.9 442.6,541.4 441.4,542.4 441.9,544.9 441.4,545.9 441.4,548.1 442.6,547.6 444.4,549.1 446.4,548.6 448.1,549.4 450.1,549.1 450.1,549.6 451.1,549.4 454.1,550.9 459.4,550.9 464.1,549.1 464.1,543.9 463.6,542.6 463.9,542.4 468.1,544.6 468.9,544.4 469.4,543.1 468.9,542.4 469.4,541.9 469.9,542.6 469.9,541.4 468.6,539.9 467.9,539.6 467.9,538.6 466.9,537.6 467.4,536.6 466.6,536.6 466.1,535.9Z" fill="#214668"/>
<path d="M469.1,550.9 468.6,552.4 472.1,553.1 472.1,557.4 473.1,560.1 473.9,566.4 474.9,569.9 474.9,571.9 473.9,573.6 474.1,574.9 475.4,575.9 475.4,576.6 476.4,577.9 475.9,574.4 476.4,573.6 476.4,568.1 475.4,564.6 474.6,558.4 473.6,555.6 473.6,551.4ZM486.1,535.4 485.1,536.6 484.4,536.4 483.6,538.1 482.4,537.6 483.1,537.1 482.6,536.9 480.6,538.6 478.6,537.1 475.6,537.1 475.6,538.6 474.9,539.1 475.4,539.9 474.9,541.9 474.4,542.4 473.1,542.4 470.6,545.4 473.1,547.1 477.6,552.6 479.4,557.9 480.4,559.1 485.4,559.1 486.1,556.6 486.1,551.9 488.4,549.9 487.9,549.9 487.9,548.6 486.9,545.9 487.9,545.1 486.6,544.1 486.6,542.4 488.1,540.6 488.1,539.4 487.1,537.1 487.4,535.6ZM480.1,548.6 483.6,549.4 484.1,548.9 484.4,549.1 484.6,554.9 483.6,557.6 482.1,557.6 480.6,554.9 479.1,549.9 479.4,549.4 480.1,550.1 481.1,553.1 479.9,549.1Z" fill="#22496c"/>
<path d="M458.1,514.4 456.9,515.1 456.4,514.6 455.1,514.9 455.1,514.4 453.9,513.9 452.1,514.1 450.6,513.4 449.9,513.9 448.9,513.1 449.4,512.6 449.1,512.1 447.4,512.9 446.9,513.6 446.1,513.6 445.4,512.9 444.9,513.4 443.1,513.4 443.1,514.9 440.6,514.9 440.6,516.1 438.9,517.6 437.6,516.9 433.9,518.6 434.1,519.9 432.9,520.9 433.1,521.4 432.6,522.6 432.1,522.6 431.9,524.4 432.4,524.4 433.1,525.6 434.6,525.9 436.9,528.1 438.9,530.9 438.6,531.9 440.4,532.1 440.4,533.1 440.9,533.4 440.4,534.1 441.1,534.9 442.4,534.6 443.9,535.6 444.6,535.1 445.4,535.4 445.6,533.9 446.4,533.4 446.1,533.1 448.9,531.1 450.4,527.9 452.1,526.4 452.6,526.9 453.4,526.1 454.9,526.6 456.4,525.4 457.9,525.9 457.6,524.6 458.1,524.1 458.9,524.4 459.6,521.9 458.4,520.4 458.9,519.4 458.6,517.4 457.9,516.4ZM433.6,520.4 434.4,520.1 434.6,520.6 434.1,520.9Z" fill="#152f49"/>
<path d="M439.4,487.6 438.4,488.6 438.1,490.1 439.6,492.6 439.1,494.9 442.4,497.4 442.9,500.6 441.4,502.6 441.4,503.9 442.1,505.9 443.9,506.9 444.9,508.4 444.4,509.9 445.1,510.9 445.6,512.9 446.9,513.4 447.4,512.6 449.1,511.9 449.6,512.4 449.1,513.1 449.9,513.6 450.6,513.1 452.1,513.9 453.9,513.6 455.1,514.1 455.1,514.6 456.4,514.4 456.9,514.9 459.1,513.6 459.6,511.9 460.9,510.9 461.1,509.6 462.4,508.1 463.1,507.9 463.4,506.4 462.6,505.6 461.6,506.1 460.6,503.6 459.6,502.9 458.6,502.9 457.4,501.4 458.1,500.4 457.9,498.4 458.4,498.1 457.1,495.9 458.6,492.1 457.4,490.4 455.6,489.4 455.4,485.9 454.9,485.6 454.9,484.6 454.1,484.4 454.4,483.9 452.4,483.1 451.6,483.9 449.4,484.1 448.9,485.1 447.1,485.9 446.6,485.6 445.4,486.4 443.4,486.4 440.9,487.6Z" fill="#152f49"/>
<path d="M438.6,499.4 433.9,500.1 433.6,499.6 430.1,500.1 426.6,502.4 425.6,504.4 424.4,504.9 424.6,505.6 423.9,508.1 424.4,509.6 423.6,510.4 424.1,511.4 423.9,513.1 423.1,514.1 423.4,515.1 422.6,517.4 421.4,518.4 421.9,518.4 422.6,519.6 423.6,519.9 425.9,522.4 427.6,523.1 428.4,522.6 429.4,523.4 431.4,523.1 432.1,522.4 432.4,522.6 432.9,521.4 432.6,520.9 433.4,520.1 434.4,520.6 433.6,520.1 433.9,518.4 437.6,516.6 438.6,517.1 438.1,517.4 438.9,517.4 440.4,516.1 440.1,515.1 440.6,514.6 442.9,514.9 442.6,513.9 443.1,513.1 444.9,513.1 445.4,512.6 444.1,509.9 444.6,508.6 444.1,507.4 441.9,505.9 441.1,502.9 439.9,501.9 439.6,502.4 439.4,502.1 439.6,501.1 439.4,500.6 438.4,500.4Z" fill="#152f49"/>
<path d="M433.9,483.9 426.6,483.9 425.9,482.9 423.6,483.1 420.4,481.6 420.1,482.1 418.4,482.1 416.9,483.4 415.9,483.4 415.1,482.4 414.9,484.1 412.6,484.9 411.6,485.9 409.9,486.6 409.4,487.9 406.4,490.1 406.1,491.4 403.1,493.9 403.4,494.6 402.4,496.9 403.9,497.9 404.4,499.4 404.1,500.6 404.6,503.6 405.4,504.4 405.6,505.6 406.4,506.1 406.4,507.4 407.6,509.4 409.4,510.9 410.6,510.9 411.1,511.6 413.4,512.6 413.6,514.6 415.1,516.6 417.4,516.6 418.4,517.6 418.9,517.1 419.4,517.6 418.9,518.1 420.6,519.1 421.4,518.6 421.1,518.4 422.4,517.4 423.1,515.1 422.9,514.1 423.6,513.1 423.9,511.4 423.4,510.4 424.1,509.6 423.6,508.1 424.4,505.6 424.1,504.9 425.4,504.4 426.6,502.1 430.1,499.9 433.1,499.4 434.9,499.9 438.6,499.1 438.6,500.4 439.4,500.4 439.9,501.1 439.6,502.1 439.9,501.6 441.1,502.6 442.4,501.1 442.6,499.4 442.1,498.9 442.1,497.4 438.9,494.9 439.4,492.6 437.9,490.1 438.4,488.4 438.1,487.4 437.1,486.1Z" fill="#152f49"/>
<path d="M419.6,468.4 419.9,469.4 421.9,471.6 421.9,472.9 422.4,473.4 422.1,474.1 422.4,473.6 423.1,474.1 422.6,475.6 422.9,476.4 422.4,476.6 422.1,477.6 422.4,478.6 420.6,479.6 420.6,481.6 423.6,482.9 425.9,482.6 426.6,483.6 433.9,483.6 438.1,486.9 438.4,488.1 439.9,487.4 438.6,485.1 439.4,483.9 438.6,482.9 438.9,482.1 438.1,481.1 438.1,480.1 440.4,477.1 441.6,476.6 442.6,474.4 442.1,474.1 442.6,473.6 442.6,472.4 443.6,471.4 443.9,471.6 443.6,470.1 444.4,469.1 442.9,468.9 440.4,465.4 436.6,466.4 435.4,466.1 434.9,466.9 433.6,466.6 432.9,467.1 431.6,466.4 430.6,464.9 429.6,465.6 428.6,465.6 426.9,464.4 423.9,465.1 424.1,465.6 424.9,465.6 425.4,466.6 424.4,467.6 423.4,467.9 422.6,467.1 421.9,467.9 421.4,467.6Z" fill="#152f49"/>
<path d="M432.6,439.1 431.9,439.1 431.6,439.9 430.9,440.1 427.6,438.4 426.4,438.6 425.9,439.4 424.9,439.1 423.4,439.6 422.4,440.4 420.6,440.1 420.6,441.1 419.4,442.4 417.4,442.4 416.4,443.1 416.4,444.9 414.9,446.1 414.9,447.1 414.1,447.9 414.6,448.4 414.1,448.9 412.9,448.6 414.1,452.4 413.9,455.1 414.9,456.4 415.1,457.6 416.1,458.4 416.1,459.6 417.9,461.1 416.4,463.4 416.4,464.6 417.9,466.1 417.6,467.1 418.1,467.6 420.4,468.1 422.6,466.9 423.9,467.6 425.1,466.6 424.9,465.9 424.1,465.9 423.6,465.1 425.9,464.1 426.9,464.1 428.6,465.4 429.6,465.4 430.6,464.6 431.6,466.1 432.9,466.9 433.6,466.4 434.9,466.6 435.4,465.9 436.6,466.1 440.4,464.9 440.1,463.6 440.6,463.1 441.1,458.4 439.9,456.9 440.1,454.9 441.6,453.9 441.9,452.9 441.4,451.9 439.9,450.9 439.4,451.1 438.4,450.1 438.6,449.9 437.1,446.1 435.9,445.4 436.1,444.6 434.9,443.6 435.1,443.4 434.9,443.6 433.1,442.4 432.4,440.4 433.4,439.6ZM423.1,465.6 423.4,465.4 423.9,466.1 423.6,466.4Z" fill="#152f49"/>
<path d="M413.1,450.6 412.6,451.4 410.1,451.6 410.1,452.6 408.4,455.4 407.6,458.9 406.1,458.9 404.9,460.4 404.1,459.9 403.6,461.1 402.6,460.9 401.9,461.9 401.4,461.6 400.9,460.6 401.1,458.4 399.4,456.4 399.6,455.4 398.9,453.4 397.9,453.1 395.1,454.6 394.1,456.6 392.4,457.4 389.9,460.1 387.4,460.4 385.4,462.4 384.4,462.4 381.6,464.6 378.6,465.9 377.4,467.1 375.9,467.4 375.6,467.9 375.4,467.4 375.9,468.1 374.9,469.4 376.9,471.4 378.6,471.4 380.9,473.4 384.1,473.6 384.6,474.6 385.4,474.4 386.1,475.1 385.6,475.6 386.9,475.1 386.9,476.4 387.6,477.1 389.4,477.6 389.9,478.6 390.4,478.4 390.9,478.9 391.1,480.6 392.1,480.6 393.6,482.4 393.6,483.1 393.1,483.1 394.1,484.6 393.1,485.4 393.9,486.4 392.6,488.6 391.6,489.4 392.6,490.9 392.1,491.4 391.4,490.9 391.1,492.6 392.4,491.4 392.9,492.1 392.9,493.1 392.4,493.6 392.6,494.4 397.1,498.4 399.4,499.4 399.4,499.9 400.1,498.4 400.1,495.6 400.9,495.1 401.4,493.9 402.9,493.9 404.9,491.9 405.4,491.9 406.1,490.1 408.9,488.1 409.6,486.6 410.9,485.6 411.6,485.6 412.6,484.6 414.9,483.9 414.6,482.9 415.1,482.1 415.9,483.1 416.9,483.1 418.4,481.9 420.1,481.9 420.4,479.6 422.1,478.6 421.9,477.6 422.1,476.6 422.6,476.4 422.4,475.6 422.9,474.1 421.6,472.9 421.6,471.6 419.6,469.4 419.4,468.1 418.1,467.9 417.4,467.1 417.6,466.1 416.1,464.6 416.1,463.4 417.6,461.1 415.9,459.6 415.9,458.4 414.9,457.6 414.6,456.4 413.6,455.1 414.4,453.1 413.9,453.6 413.6,453.4 413.9,452.4Z" fill="#152f49"/>
<path d="M393.4,536.9 393.9,538.4 393.6,538.9 395.9,540.4 395.9,541.6 397.6,543.4 398.4,542.6 398.1,542.4 399.4,541.6 399.4,540.4 399.9,539.9 401.6,540.6 403.9,540.6 405.1,540.1 405.9,540.6 405.9,541.6 406.6,542.6 408.6,543.6 410.1,545.4 411.6,545.1 412.4,543.6 414.4,543.6 415.6,544.4 417.1,543.4 417.9,544.1 417.6,544.4 422.4,546.6 422.6,545.9 423.4,545.6 423.9,544.6 427.1,541.9 428.6,542.4 429.4,541.4 433.9,542.9 435.6,541.6 437.4,541.6 438.6,542.4 438.4,540.6 439.1,539.4 439.4,536.9 440.6,535.4 440.1,534.1 440.6,533.4 440.1,533.1 440.1,532.1 439.1,532.4 438.4,531.9 438.6,530.9 436.6,528.1 434.6,526.1 433.1,525.9 432.6,524.9 431.6,524.4 431.9,523.1 429.6,523.6 428.4,522.9 427.6,523.4 425.9,522.6 423.6,520.1 422.6,519.9 421.9,518.6 420.6,519.4 418.6,518.1 419.1,517.6 418.9,517.4 418.4,517.9 417.4,516.9 415.1,516.9 414.6,516.4 414.4,517.9 412.6,519.9 410.6,519.6 409.6,521.6 407.4,522.6 407.9,524.1 407.4,524.6 404.6,524.9 403.9,525.4 403.1,527.4 401.1,527.1 400.4,527.6 400.4,530.6 399.1,531.9 397.6,532.1 397.1,532.6 397.4,533.1 395.9,534.4 395.1,534.1Z" fill="#2b5a83"/>
<path d="M392.4,491.6 391.4,492.9 390.9,492.9 390.9,494.1 389.4,494.9 390.1,496.6 389.1,497.4 389.4,498.1 388.4,498.9 387.9,500.6 386.4,502.1 386.1,505.6 385.4,506.1 384.1,508.9 383.4,512.4 381.9,514.4 381.6,514.1 380.9,514.6 380.6,517.6 379.1,517.9 378.4,519.1 379.1,520.6 378.9,522.1 379.9,522.6 381.4,522.4 382.1,523.1 381.9,523.6 382.4,523.9 382.4,524.9 383.6,527.1 386.1,529.4 386.6,530.4 388.6,531.1 387.9,532.1 388.1,532.9 390.4,534.9 391.4,534.9 392.4,536.6 393.4,536.6 395.1,533.9 395.9,534.1 397.1,533.1 396.9,532.6 397.6,531.9 399.1,531.6 400.1,530.6 399.9,527.9 401.1,526.9 403.1,527.1 403.6,525.4 404.6,524.6 407.4,524.4 407.1,522.6 409.6,521.4 410.6,519.4 412.6,519.6 414.1,517.9 414.4,515.9 413.4,514.6 413.1,512.6 411.1,511.9 410.6,511.1 409.4,511.1 407.4,509.4 406.1,507.4 406.1,506.1 405.4,505.6 405.4,504.9 404.4,503.6 403.9,500.6 404.1,499.4 403.6,497.9 402.1,496.9 403.1,494.1 401.4,494.1 401.1,495.1 400.4,495.6 400.4,498.4 399.6,499.9 396.1,497.9 393.9,495.9 393.6,495.1 392.4,494.4Z" fill="#152f49"/>
<path d="M423.6,570.1 424.1,570.6 423.4,572.1 427.4,571.6 428.1,573.4 430.1,572.6 429.1,570.1ZM461.4,557.9 458.6,559.6 458.1,563.1 456.4,563.9 457.9,564.1 458.1,564.9 458.9,564.9 459.9,563.9 460.1,561.4 462.4,559.9 461.6,559.4ZM440.4,535.9 439.6,536.9 439.4,539.4 438.6,540.6 438.6,542.6 437.4,541.9 435.6,541.9 433.9,543.1 429.4,541.6 428.6,542.6 427.1,542.1 426.1,542.6 421.9,547.4 422.4,548.1 421.9,548.9 422.9,549.9 422.9,551.6 423.4,551.9 423.1,554.4 423.6,554.6 424.1,554.1 424.9,554.6 422.6,556.9 422.1,556.6 421.6,557.1 422.1,558.6 421.9,560.6 422.4,561.6 421.4,562.4 423.1,564.6 422.6,566.4 423.4,567.4 423.6,568.9 430.4,569.1 431.4,568.1 435.1,568.4 434.6,567.4 435.4,567.1 435.4,566.6 434.6,566.1 435.6,565.4 435.4,563.9 437.6,562.9 437.4,562.4 438.1,560.6 439.1,560.6 439.9,561.6 440.1,560.6 442.1,560.6 442.1,559.9 443.1,560.1 444.6,558.4 448.4,559.1 448.9,559.6 450.4,559.6 453.1,557.6 453.1,552.4 452.4,551.1 452.6,550.4 453.1,550.6 450.1,549.4 448.1,549.6 446.4,548.9 444.4,549.4 443.1,548.1 441.4,547.9 441.1,545.9 441.6,544.9 441.1,542.4 442.4,541.4 442.4,540.9 441.9,540.6 441.1,541.4 440.6,541.1 440.9,540.6 440.4,539.9 441.1,538.1Z" fill="#152f49"/>
<path d="M423.6,570.4 420.1,570.9 420.1,576.1 421.4,575.6 421.9,576.4 421.6,576.6 422.6,576.9 421.6,574.4 421.6,572.6 423.1,572.1 423.9,570.6ZM402.4,565.9 402.6,566.4 404.9,567.1 405.6,566.6 407.4,566.6 411.4,568.9 411.4,570.9 412.4,570.9 412.9,571.6 412.6,566.9 409.1,565.1 403.9,565.1ZM399.9,540.1 399.6,541.6 398.4,542.4 398.6,542.6 398.1,543.1 398.6,544.6 397.1,546.6 398.1,549.4 397.6,549.6 397.9,550.6 397.4,552.4 398.6,554.9 400.4,555.4 401.4,556.4 401.1,557.9 401.9,558.6 401.6,559.4 402.6,561.1 406.6,558.4 407.4,557.4 408.9,563.9 411.9,565.9 414.4,565.9 415.4,568.1 418.4,569.1 423.6,569.1 422.4,566.4 422.9,564.6 421.1,562.4 422.1,561.6 421.6,560.6 421.9,558.6 421.4,557.1 422.1,556.4 422.6,556.6 423.9,555.1 424.6,554.9 424.1,554.4 423.6,554.9 422.9,554.4 423.1,551.9 422.6,551.6 422.6,549.9 421.6,548.9 422.1,548.4 421.6,547.4 422.1,546.6 420.4,546.1 419.9,545.4 418.9,545.4 418.6,544.9 417.6,544.6 417.1,543.6 415.6,544.6 414.4,543.9 412.4,543.9 412.4,544.6 411.6,545.4 410.1,545.6 408.6,543.9 406.4,542.6 405.6,541.6 405.6,540.6 401.6,540.9ZM421.9,555.9 422.4,555.6 422.6,556.1 422.1,556.4Z" fill="#1b3a58"/>
<path d="M304.4,445.1 303.6,444.1 303.6,443.1 302.9,442.6 302.9,441.6 301.6,440.1 301.6,439.1 301.1,439.9 298.4,440.4 295.6,442.4 292.6,442.1 290.1,444.4 288.9,444.1 288.1,444.9 283.4,443.9 282.9,443.4 282.9,442.4 282.4,442.6 281.4,442.1 280.4,442.9 280.4,443.6 273.1,445.4 268.4,445.9 268.9,454.1 270.9,455.9 275.6,455.9 276.6,458.4 279.9,459.6 281.1,460.6 283.4,457.6 286.6,457.9 286.9,456.9 288.6,456.4 289.9,456.6 292.1,454.9 293.4,455.4 293.6,454.9 294.9,454.6 295.4,453.6 297.6,452.6 297.9,452.9 299.9,451.4 300.6,451.6 301.6,450.4 302.4,451.1 302.6,449.9 301.6,449.4 302.4,448.1 302.9,448.9 303.6,448.1 303.6,447.1 304.4,446.6 303.9,445.6Z" fill="#254e73"/>
<path d="M307.1,428.1 305.6,429.9 304.6,429.9 303.4,430.9 303.1,432.1 303.6,432.6 301.9,434.4 301.9,440.1 303.1,441.6 303.1,442.6 303.9,443.1 304.4,444.9 304.1,445.6 304.6,446.4 303.9,447.1 303.9,448.1 302.9,449.1 302.4,448.4 301.9,449.4 302.9,449.9 302.6,450.6 303.9,450.4 304.6,451.6 306.4,452.6 309.1,452.6 309.9,452.1 310.6,453.1 312.4,453.4 312.9,452.9 313.4,453.6 314.6,453.4 317.4,454.4 318.4,453.6 318.4,452.9 319.9,451.6 320.9,449.9 321.9,449.4 321.4,448.6 322.4,447.1 321.9,447.4 321.6,446.9 322.6,446.6 322.6,444.4 323.4,443.4 323.6,440.9 324.1,440.1 323.9,439.4 325.1,437.4 324.6,437.1 323.9,437.6 320.6,435.6 320.1,434.1 318.4,432.6 318.6,429.4 318.4,429.6 317.6,428.9 314.6,428.1 314.1,426.6 313.6,427.4 311.4,427.6 309.9,428.9Z" fill="#275277"/>
<path d="M268.9,417.6 267.6,423.6 267.6,429.1 275.9,434.1 278.1,440.4 280.1,442.6 281.4,441.9 282.4,442.4 282.9,442.1 283.4,443.6 288.1,444.6 288.9,443.9 290.1,444.1 292.6,441.9 295.6,442.1 298.4,440.1 301.1,439.6 301.9,438.9 301.4,437.9 301.9,436.9 301.6,434.6 300.4,434.4 299.4,433.1 298.6,430.9 299.1,429.9 298.6,430.1 296.9,427.1 295.9,426.6 295.9,425.9 295.6,426.1 294.6,424.6 292.6,424.4 290.4,425.4 289.4,424.1 289.4,423.1 288.4,422.6 287.6,421.4 286.4,423.4 284.6,423.6 282.6,425.9 281.9,425.9 280.6,424.9 280.6,423.9 277.4,424.1 276.4,423.1 276.6,421.4 275.9,420.6 273.4,420.9 271.6,418.4 270.9,418.1 270.1,418.6Z" fill="#152f49"/>
<path d="M286.6,400.6 285.9,402.4 286.4,404.6 285.6,405.1 285.9,405.6 285.1,406.9 285.6,407.9 285.4,408.4 286.4,408.6 286.6,409.1 285.4,410.4 285.4,412.4 286.4,413.6 286.4,416.1 288.4,417.6 288.1,421.9 289.6,423.1 289.6,424.1 290.4,425.1 292.6,424.1 294.6,424.4 296.1,426.6 297.1,427.1 298.4,429.6 299.4,429.9 298.9,430.9 299.6,433.1 300.9,434.4 302.4,433.9 303.4,432.6 302.9,432.1 303.1,430.9 304.6,429.6 305.6,429.6 307.1,427.9 309.1,428.4 309.1,428.9 311.4,427.4 312.6,427.4 313.1,425.1 311.9,423.6 312.9,421.4 312.9,418.6 314.1,417.1 313.9,415.9 313.4,415.6 313.6,414.1 311.6,410.9 311.9,410.1 311.1,409.4 310.9,407.9 308.9,407.9 306.6,404.9 303.9,404.1 302.9,402.6 303.1,401.9 301.1,401.1 300.6,402.4 299.4,402.1 298.6,403.4 297.1,404.4 295.9,404.1 294.1,404.9 292.4,404.9 291.6,404.4 290.1,404.4 289.6,403.9 289.9,402.9 289.1,402.4 289.1,401.4 288.6,401.1 288.1,401.6Z" fill="#152f49"/>
<path d="M335.6,392.9 334.9,393.9 334.9,394.9 332.1,396.6 329.9,396.9 329.1,396.1 328.9,397.4 328.1,396.9 328.1,396.1 327.1,396.6 326.1,396.4 326.1,397.4 324.9,398.1 324.9,398.9 323.1,398.9 322.1,401.4 323.1,402.9 322.6,403.4 322.9,403.6 321.1,404.4 321.6,404.9 320.1,406.6 314.9,406.1 312.6,407.4 312.1,408.6 312.4,409.4 311.9,409.9 311.9,410.9 313.9,414.1 313.6,415.6 314.1,415.9 314.4,417.1 313.1,418.6 313.1,421.4 312.1,423.6 313.4,425.1 312.9,427.4 313.4,427.4 314.1,426.4 314.6,427.9 317.6,428.6 318.4,429.4 318.6,429.1 318.9,433.1 320.4,434.1 320.6,435.4 323.9,437.4 324.6,436.9 325.4,437.4 325.4,435.6 326.4,434.6 326.6,434.9 328.1,434.1 329.4,434.4 329.6,433.9 330.9,434.1 332.1,432.6 332.6,433.4 333.6,432.9 335.6,433.1 336.9,432.1 338.9,432.6 339.4,431.9 341.4,431.4 341.1,430.9 341.9,430.1 342.4,430.4 342.9,429.1 343.4,429.4 342.9,428.6 342.9,425.9 342.1,425.1 342.4,424.9 341.4,423.4 339.4,422.4 338.6,420.6 338.9,415.1 338.1,414.4 336.9,414.1 335.9,412.9 336.1,409.6 333.9,407.9 332.9,405.6 335.6,403.4 337.1,403.6 338.4,402.6 337.6,401.1 338.1,397.9 336.6,396.1Z" fill="#1c3c5a"/>
<path d="M342.6,430.4 341.9,430.4 341.4,431.6 339.4,432.1 338.9,432.9 336.9,432.4 335.6,433.4 333.6,433.1 332.9,433.6 332.1,432.9 330.9,434.4 329.6,434.1 329.4,434.6 328.1,434.4 326.6,435.1 326.4,434.9 325.4,436.4 325.6,437.4 324.1,439.4 324.4,440.1 323.9,440.9 323.6,443.4 322.9,444.4 322.9,446.6 321.9,446.9 322.4,447.4 322.1,448.4 321.6,448.6 322.1,449.4 321.1,449.9 320.1,451.6 318.6,452.9 318.6,453.6 317.1,454.6 317.9,454.4 319.1,454.9 319.9,454.4 321.6,455.4 323.6,454.9 324.1,455.4 324.9,455.1 325.4,456.4 327.1,455.9 328.1,456.1 329.4,457.6 329.4,459.1 331.6,460.6 331.6,461.9 332.1,461.6 332.6,463.1 333.9,463.9 333.9,464.6 332.1,467.6 329.6,469.6 328.1,469.4 327.6,470.4 326.9,470.1 325.4,471.1 324.1,470.6 323.4,471.1 323.1,470.6 322.4,470.6 320.9,471.6 319.9,471.1 320.9,470.4 319.4,468.9 318.4,470.1 317.4,470.4 316.9,471.1 319.4,473.1 321.4,475.6 321.4,477.6 320.9,478.4 321.4,480.4 322.4,480.1 322.6,480.9 323.4,480.9 324.4,479.1 324.1,476.6 324.9,475.9 325.1,474.4 326.6,474.9 328.6,474.6 332.1,476.1 334.4,476.1 334.1,474.9 334.6,474.4 334.1,473.4 337.6,470.1 338.1,468.9 338.1,467.4 337.6,466.9 339.1,466.9 339.9,464.1 340.9,463.1 340.4,461.6 343.1,456.6 343.1,454.4 344.6,453.4 343.6,451.6 343.9,449.9 344.9,449.4 346.4,446.6 346.4,445.4 345.4,444.1 345.4,443.1 346.4,441.9 346.1,440.4 346.6,439.4 345.6,438.6 346.1,438.1 344.1,435.1 344.1,432.9 343.1,432.1 343.4,431.4Z" fill="#1a3956"/>
<path d="M314.9,457.6 316.1,460.4 316.1,461.4 317.1,461.6 317.9,463.1 319.4,462.4 321.9,463.1 323.9,462.1 325.1,463.1 327.9,463.1 328.4,463.6 329.4,463.4 329.9,464.1 333.6,464.1 332.4,463.1 332.1,461.9 331.4,461.9 331.4,460.6 329.1,459.1 329.1,457.6 328.1,456.4 327.1,456.1 325.4,456.6 324.9,455.4 324.1,455.6 322.9,455.1 321.6,455.6 319.9,454.6 319.1,455.1 317.9,454.6 317.1,454.9 316.6,455.9 315.6,455.9 316.1,456.9 315.6,457.4 315.1,457.1Z" fill="#29577e"/>
<path d="M317.1,464.1 318.6,468.4 321.1,470.4 320.1,471.1 320.6,471.4 322.4,470.4 323.1,470.4 323.4,470.9 324.1,470.4 325.4,470.9 326.9,469.9 327.6,470.1 328.1,469.1 329.6,469.4 331.9,467.6 333.6,464.6 333.4,464.1 329.9,464.4 329.4,463.6 328.4,463.9 327.9,463.4 325.1,463.4 323.9,462.4 321.9,463.4 319.4,462.6 318.1,463.4 317.6,463.1Z" fill="#2e608a"/>
<path d="M281.6,459.9 281.1,461.1 283.4,462.4 284.6,464.1 286.1,464.4 287.6,466.1 288.6,466.1 289.1,466.9 292.1,468.1 292.4,468.9 293.6,468.6 294.6,470.4 294.4,470.9 295.1,470.9 296.9,472.6 296.9,473.4 298.6,474.9 299.4,474.4 300.4,474.6 301.1,473.6 306.6,473.9 306.6,474.6 310.6,476.9 311.4,476.6 312.1,477.4 311.9,477.9 313.1,477.9 315.4,479.4 316.4,479.1 319.6,479.9 320.1,479.6 321.1,480.4 320.6,478.9 321.1,477.6 321.1,475.6 319.4,473.9 319.4,473.4 316.6,471.1 317.6,469.9 318.9,469.4 317.9,466.4 316.9,464.9 317.4,462.1 315.9,461.4 315.9,460.4 314.6,458.1 314.9,457.1 315.9,456.9 315.4,455.9 316.6,455.6 316.6,454.4 314.6,453.6 313.4,453.9 312.9,453.1 310.6,453.4 309.9,452.4 309.1,452.9 306.4,452.9 304.6,451.9 303.9,450.6 303.1,450.6 302.4,451.6 301.4,451.1 300.6,451.9 299.9,451.6 298.4,452.9 295.4,453.9 294.9,454.9 293.6,455.1 293.4,455.6 292.1,455.1 289.9,456.9 286.9,457.1 286.6,458.1 283.4,457.9Z" fill="#1a3956"/>
<path d="M298.4,474.6 296.6,473.4 296.6,472.6 295.6,471.9 295.1,470.6 295.1,471.1 294.1,470.9 294.4,470.4 293.6,468.9 292.4,469.1 292.1,468.4 289.1,467.1 288.6,466.4 287.6,466.4 286.1,464.6 284.6,464.4 283.4,462.6 281.9,462.1 281.4,461.4 281.6,463.1 274.9,465.4 272.4,469.6 267.9,475.6 262.6,481.6 262.6,487.4 263.4,491.6 267.1,492.4 267.6,492.9 266.9,493.4 267.1,493.6 267.9,493.1 270.1,493.1 272.1,491.9 272.9,492.1 272.9,492.9 274.1,492.9 274.9,492.4 274.9,491.1 276.1,491.4 276.6,492.4 278.9,492.4 280.1,491.4 281.9,491.4 283.6,492.1 284.9,491.4 287.4,491.9 288.1,491.1 288.4,489.9 287.9,489.4 287.1,485.9 289.1,483.6 288.9,482.9 289.9,481.6 289.9,479.9 290.4,479.4 291.6,479.6 292.4,478.9 293.6,478.6 294.9,477.1 295.9,477.1 297.1,475.6 298.4,475.1Z" fill="#152f49"/>
<path d="M290.1,479.9 290.1,481.6 289.1,482.9 289.4,483.6 288.1,484.6 287.4,485.9 287.4,486.9 288.6,489.9 288.4,491.4 289.9,493.1 289.9,494.4 289.1,494.9 291.4,495.9 291.1,497.4 292.1,498.4 291.6,499.4 292.1,500.4 291.6,501.6 291.9,502.6 294.4,502.9 294.9,502.4 297.4,502.4 297.9,503.4 299.1,503.6 301.9,503.1 302.6,502.4 303.4,502.9 305.6,502.4 305.6,500.9 306.1,500.4 307.1,500.4 308.1,499.4 308.1,498.4 309.4,496.9 309.6,495.9 311.9,494.4 313.6,494.6 315.9,496.9 316.6,496.6 318.1,499.1 319.1,498.9 320.1,499.6 321.1,498.6 322.1,498.6 322.6,496.9 321.9,493.9 322.1,492.6 321.1,491.6 321.1,490.4 320.6,489.9 320.9,488.9 320.4,488.1 320.9,487.1 320.6,485.4 321.1,484.6 320.1,483.9 321.4,480.6 320.1,479.9 319.6,480.1 316.4,479.4 315.4,479.6 313.1,478.1 311.9,478.1 311.4,476.9 310.6,477.1 306.6,474.9 306.6,474.1 301.1,473.9 300.4,474.9 299.4,474.6 297.1,475.9 295.9,477.4 294.9,477.4 293.6,478.9 292.4,479.1 291.6,479.9Z" fill="#1c3c5a"/>
<path d="M288.1,491.4 287.4,492.1 284.9,491.6 283.6,492.4 281.9,491.6 280.1,491.6 278.9,492.6 276.6,492.6 276.1,491.6 274.9,491.4 275.1,492.4 274.1,493.1 272.9,493.1 272.6,492.1 272.1,492.1 270.1,493.4 266.1,493.9 260.1,500.9 257.4,510.4 259.6,508.6 262.4,509.9 264.4,510.1 265.4,511.9 267.1,513.1 266.6,514.6 267.9,515.4 269.1,518.1 270.4,518.9 270.6,520.4 273.4,521.1 275.1,520.9 276.6,519.4 277.9,520.1 278.6,519.1 280.1,519.1 281.1,517.9 283.9,516.6 283.6,514.9 284.4,514.1 285.9,514.4 287.9,513.1 288.4,511.9 290.1,510.6 290.4,508.1 291.6,506.6 291.9,503.1 292.6,502.9 291.9,502.9 291.4,502.1 291.9,501.1 291.4,499.9 291.9,498.4 290.9,497.4 291.1,495.9 288.9,494.9 289.6,494.4 289.6,493.1Z" fill="#152f49"/>
<path d="M325.1,474.6 325.1,475.9 324.4,476.6 324.6,479.1 323.4,481.1 321.6,480.4 321.6,481.4 320.9,481.9 320.9,483.1 320.4,483.9 321.4,484.6 320.9,485.4 321.1,487.1 320.6,488.1 321.1,488.9 320.9,489.9 321.4,490.4 321.4,491.6 322.4,492.6 322.1,493.9 322.9,496.1 322.4,498.6 323.6,499.4 324.9,499.4 325.6,500.4 326.4,500.4 329.1,504.9 331.1,504.4 332.4,504.9 332.4,503.9 333.6,502.9 335.1,503.9 337.4,502.1 339.9,501.6 341.9,500.1 344.9,499.6 344.9,497.1 347.1,495.1 348.1,493.6 347.9,492.9 348.9,491.9 348.6,491.4 349.4,491.1 348.9,490.4 350.1,488.9 349.9,488.6 350.6,487.1 350.4,486.1 348.6,487.1 347.6,487.1 347.1,487.9 347.1,486.9 346.9,487.4 345.6,487.1 345.4,486.4 344.4,486.1 344.4,484.4 343.1,483.9 341.1,484.1 339.9,483.1 338.9,483.1 334.6,477.9 334.6,476.6 334.1,476.1 332.1,476.4 328.6,474.9 326.6,475.1Z" fill="#152f49"/>
<path d="M346.9,439.9 346.4,440.4 346.6,441.9 345.6,443.1 345.6,444.1 346.6,445.4 346.6,446.6 345.1,449.4 344.1,449.9 343.9,451.6 344.9,453.4 343.4,454.4 343.4,456.6 340.6,461.6 341.1,463.1 340.1,464.1 339.4,466.9 337.9,466.9 338.4,467.4 337.9,470.1 334.4,473.4 334.9,474.4 334.4,474.9 334.9,477.9 338.6,482.6 339.9,482.9 341.1,483.9 343.1,483.6 344.4,484.1 344.9,484.9 344.6,486.1 345.4,486.1 345.6,486.9 346.4,486.9 347.1,487.6 347.6,486.9 348.6,486.9 350.4,485.9 350.6,486.4 351.6,485.4 352.4,485.6 352.6,486.4 355.4,483.6 356.1,481.9 357.6,480.9 357.1,479.1 357.9,478.1 358.4,478.4 358.1,478.1 358.9,476.6 358.1,475.6 358.9,474.1 359.4,474.1 359.4,472.1 360.1,471.6 360.1,470.4 362.1,468.1 361.9,467.6 366.1,465.1 366.9,465.4 367.6,464.4 368.6,464.1 369.6,462.4 369.6,460.6 368.1,459.9 366.4,457.4 366.6,456.1 366.1,455.6 366.1,454.6 363.6,452.6 363.4,450.4 362.1,449.6 362.4,448.6 361.4,447.6 358.6,447.6 357.4,448.1 355.6,447.1 354.9,445.4 352.9,443.9 352.9,442.6 352.6,443.1 351.9,442.1 350.4,441.6 349.1,440.1Z" fill="#152f49"/>
<path d="M393.9,440.4 392.6,440.4 391.9,439.9 389.6,440.1 389.4,439.6 387.9,440.1 387.4,439.6 387.6,438.9 386.9,438.9 386.6,438.4 384.6,438.6 383.9,437.9 382.9,437.9 383.1,439.1 382.4,439.6 378.1,438.9 377.4,440.4 374.6,440.4 374.1,439.9 374.1,438.9 372.1,438.9 371.1,438.4 370.4,439.4 367.4,439.1 366.9,439.6 363.1,440.4 362.6,441.1 363.1,443.4 362.6,444.4 362.9,445.9 362.6,446.9 361.6,447.6 362.6,448.6 362.4,449.6 363.6,450.4 363.9,452.6 366.4,454.6 366.4,455.6 366.9,456.1 366.6,457.4 367.9,459.4 369.9,460.6 369.9,462.1 371.1,462.9 371.6,464.4 373.6,465.9 374.6,465.4 375.6,466.1 375.6,468.1 374.9,469.1 375.9,467.1 377.4,466.9 378.6,465.6 381.6,464.4 384.4,462.1 385.4,462.1 387.4,460.1 389.9,459.9 392.4,457.1 393.9,456.6 395.1,454.4 397.1,453.6 397.4,452.9 398.6,453.1 397.9,450.6 398.4,449.4 396.6,447.1 396.6,446.4 397.6,445.6 397.4,444.6 396.4,443.1 395.4,442.9Z" fill="#152f49"/>
<path d="M339.9,413.1 339.9,414.9 338.9,416.4 338.9,420.6 339.6,422.4 341.4,423.1 343.1,425.9 342.9,427.1 343.6,429.4 342.6,429.6 342.9,430.9 343.6,431.4 343.4,432.1 344.4,432.9 344.4,435.1 346.4,438.1 345.9,438.6 346.9,439.6 349.1,439.9 350.4,441.4 351.1,441.4 352.6,442.9 352.9,442.4 353.1,443.9 355.1,445.4 355.6,446.9 357.4,447.9 358.6,447.4 361.6,447.4 362.4,446.9 362.6,445.9 362.4,444.4 362.9,443.4 362.4,441.1 362.9,440.4 365.6,439.4 366.9,439.4 367.4,438.9 370.4,439.1 372.1,437.1 372.4,435.6 371.9,434.6 370.1,434.4 369.6,433.9 370.1,430.4 369.6,428.9 368.1,427.4 368.4,423.6 368.1,421.9 367.6,421.4 367.9,420.4 367.1,419.9 367.4,419.4 366.6,416.6 364.9,415.6 364.4,414.4 363.9,414.6 362.6,413.4 360.4,410.1 357.4,408.9 356.6,410.1 355.4,410.4 355.4,413.9 354.9,414.4 352.4,414.4 350.6,412.4 349.4,412.9 348.9,414.1 347.6,415.1 347.6,416.6 348.4,417.4 346.4,419.1 344.9,418.9 343.9,417.6 342.9,417.6 341.6,413.1Z" fill="#152f49"/>
<path d="M400.9,409.4 397.4,407.9 396.6,406.1 395.1,407.1 391.6,406.4 390.6,407.1 389.9,408.6 388.4,409.4 387.4,410.9 386.4,411.1 386.6,411.4 385.9,412.4 381.9,414.6 381.9,415.1 379.9,416.6 380.4,417.1 378.9,417.4 375.4,419.1 374.4,420.9 374.6,422.1 373.9,423.6 372.1,423.6 371.6,422.9 371.4,423.1 369.4,421.9 368.4,421.9 368.4,427.4 369.9,428.9 370.4,430.4 369.9,433.9 371.9,434.4 372.6,435.4 372.4,437.1 371.4,438.1 372.1,438.6 374.1,438.6 374.6,440.1 377.4,440.1 378.1,438.6 382.4,439.4 382.9,439.1 382.9,437.6 383.9,437.6 384.6,438.4 386.6,438.1 386.9,438.6 387.9,438.9 387.9,439.9 388.6,439.4 389.4,439.4 389.6,439.9 393.4,439.9 394.4,440.6 395.6,442.9 396.6,442.9 400.9,437.6 400.1,435.9 400.1,434.4 400.9,433.1 400.1,432.4 400.1,430.6 399.4,429.9 400.4,428.9 400.4,425.6 399.6,425.6 399.1,424.9 399.9,424.1 399.9,423.1 400.6,422.6 400.6,421.9 400.1,421.6 400.4,419.9 399.9,419.4 400.4,416.4 399.6,416.4 399.1,415.6 399.9,415.1 400.4,413.9 399.9,411.4 400.9,410.6ZM399.4,410.9 399.9,410.6 400.1,411.1 399.6,411.4Z" fill="#152f49"/>
<path d="M370.4,462.4 369.9,462.4 368.9,464.1 367.6,464.6 366.9,465.6 366.1,465.4 363.6,466.6 362.4,467.9 362.1,467.6 362.4,468.1 360.4,470.4 360.4,471.6 359.6,472.1 359.6,474.1 359.1,474.1 358.4,475.6 359.1,476.6 358.6,477.9 357.4,479.1 357.9,480.9 356.4,481.9 355.6,483.6 352.6,486.6 351.9,485.6 350.9,486.4 350.4,488.9 349.1,490.4 349.6,491.1 348.9,491.4 348.9,492.1 350.1,492.9 350.4,494.4 353.4,494.4 354.6,495.9 355.9,495.9 357.4,497.4 358.4,497.4 359.1,498.9 359.9,497.9 360.4,499.1 361.4,499.9 361.1,501.6 363.9,501.6 363.9,500.4 364.6,499.6 364.4,498.6 366.4,497.1 366.4,495.9 365.6,494.9 366.1,494.4 365.9,493.4 366.4,492.4 365.9,491.1 366.9,489.9 367.4,490.1 367.4,488.4 369.1,486.4 369.1,484.6 370.1,483.9 370.1,481.1 370.6,480.1 372.1,479.1 372.1,477.9 372.6,477.1 372.1,476.6 372.6,476.1 373.4,476.4 373.4,474.1 374.1,473.4 374.4,471.4 374.1,469.9 374.6,468.6 375.4,468.1 375.4,466.1 374.6,465.6 373.6,466.1 371.4,464.4 371.4,463.6Z" fill="#152f49"/>
<path d="M374.9,469.6 374.4,469.9 374.6,471.4 374.4,473.4 373.6,474.1 373.6,476.4 372.4,476.6 372.9,477.1 372.4,477.9 372.4,479.1 371.9,479.9 371.6,479.6 370.9,480.1 370.4,481.1 370.4,483.9 369.4,484.6 369.4,486.4 367.6,488.4 367.6,490.1 366.9,490.1 366.1,491.1 366.6,492.4 366.1,493.4 366.4,494.4 365.9,494.9 366.6,495.9 366.6,497.1 364.6,498.6 365.1,499.4 364.9,500.6 365.6,501.1 366.9,503.4 366.6,504.6 367.1,505.4 366.1,506.1 367.1,508.1 365.6,510.1 365.6,511.4 366.6,512.6 365.6,513.9 365.1,513.9 366.4,516.4 365.6,518.4 366.4,519.1 366.1,519.9 367.1,520.6 367.1,521.4 369.1,519.9 371.1,521.1 372.1,521.1 372.4,520.6 374.4,519.9 375.4,519.9 376.4,520.9 378.6,520.1 378.1,519.1 379.1,517.6 380.4,517.6 380.4,515.4 380.9,515.4 380.6,514.6 381.6,513.9 381.9,514.1 383.1,512.4 383.9,508.9 385.1,506.1 385.9,505.6 386.1,502.1 387.1,501.4 388.1,498.9 389.1,498.1 388.9,497.4 389.9,496.6 389.1,494.9 390.6,494.1 391.1,490.9 392.4,490.9 391.4,489.4 392.4,488.6 393.6,486.4 392.9,485.4 393.9,484.6 393.1,483.4 393.4,482.4 392.1,480.9 391.4,481.1 390.9,480.6 390.4,478.6 389.9,478.9 389.4,477.9 387.6,477.4 386.6,476.4 386.9,475.4 386.1,475.4 385.4,474.6 384.6,474.9 384.1,473.9 380.9,473.6 379.1,471.9 376.9,471.6Z" fill="#152f49"/>
<path d="M327.1,512.9 327.9,512.6 329.1,513.9 328.6,514.4 329.4,514.9 329.1,516.6 329.6,517.1 331.1,517.1 332.6,519.1 334.4,520.1 334.9,519.9 336.1,520.9 337.4,520.9 338.9,519.9 339.4,520.4 341.4,520.4 342.1,519.4 343.4,519.1 343.4,519.6 348.4,523.4 348.9,523.4 349.4,521.4 350.4,520.9 352.6,518.4 356.4,517.1 358.1,517.1 358.6,517.6 358.4,517.9 359.6,518.4 359.6,517.6 361.1,516.6 362.6,517.9 363.6,518.1 364.1,519.1 365.1,518.9 365.9,519.6 366.1,519.1 365.4,518.1 366.1,516.4 364.9,513.9 366.4,512.6 365.4,511.4 365.4,510.1 366.9,508.1 365.9,506.1 366.9,505.6 366.4,504.6 366.6,503.4 365.4,501.1 364.6,500.6 364.9,499.4 364.1,500.4 364.4,500.9 363.9,501.9 361.1,501.9 361.1,499.9 360.1,499.1 359.9,498.1 359.1,499.1 358.4,497.6 357.4,497.6 355.9,496.1 354.6,496.1 353.4,494.6 350.4,494.6 349.9,492.9 348.6,492.4 347.4,495.1 345.1,497.1 344.9,499.9 341.9,500.4 339.9,501.9 337.4,502.4 335.1,504.1 333.6,503.1 332.6,503.9 332.4,505.1 331.4,504.6 330.4,505.4 329.4,505.1 330.1,506.9 329.1,508.1 329.1,509.6 329.6,510.4 329.4,511.1 327.9,511.6Z" fill="#1a3956"/>
<path d="M309.9,495.9 309.6,496.9 308.4,498.4 308.4,499.4 307.1,500.6 306.1,500.6 305.6,501.4 305.9,502.4 306.9,502.9 306.4,503.4 306.1,503.1 306.6,504.4 307.6,503.9 307.6,504.6 309.4,505.9 309.9,506.6 309.6,507.1 311.9,507.4 313.6,505.4 314.1,505.4 315.9,507.1 316.6,509.1 316.4,510.1 318.6,513.1 318.9,515.4 318.4,515.9 318.4,517.4 319.1,517.6 319.1,519.4 320.1,520.1 322.1,523.1 323.9,521.9 324.9,522.4 325.6,521.9 326.1,522.1 327.6,520.6 328.9,520.6 328.6,520.4 329.1,519.9 330.6,519.9 332.1,518.4 331.6,518.4 331.1,517.4 329.6,517.4 328.9,516.6 329.1,514.9 328.4,514.6 328.9,513.9 327.9,512.9 326.9,512.9 327.9,511.4 329.1,511.1 329.4,510.4 328.9,509.6 328.9,508.1 329.9,506.9 328.9,504.9 329.1,504.6 328.1,504.1 327.9,502.9 326.4,500.6 325.6,500.6 324.9,499.6 323.6,499.6 321.9,498.6 320.1,499.9 319.1,499.1 318.1,499.4 316.6,496.9 315.9,497.1 313.6,494.9 311.9,494.6Z" fill="#152f49"/>
<path d="M313.6,505.6 311.9,507.6 309.9,507.4 310.6,508.4 310.1,509.9 309.1,511.1 308.4,510.9 308.6,511.4 306.9,513.4 302.9,514.9 300.1,520.4 300.9,522.9 300.9,524.1 300.1,525.9 300.9,526.4 300.4,527.1 302.1,528.4 303.1,528.1 303.4,528.9 305.6,528.9 307.4,530.4 307.6,531.9 308.9,532.1 309.4,532.6 309.1,532.9 310.4,533.1 312.6,534.9 313.4,536.6 314.6,537.9 314.4,540.6 314.9,541.1 315.9,541.1 316.6,540.6 317.9,540.6 318.1,540.1 317.4,539.4 318.1,538.6 318.9,538.9 318.9,537.9 320.1,536.6 321.1,537.1 322.6,535.4 322.4,534.6 323.1,533.9 321.9,533.1 322.1,531.9 320.9,529.9 321.1,529.1 321.6,529.4 322.1,528.9 321.6,528.1 321.9,522.6 318.9,519.4 318.9,517.6 318.1,517.4 318.1,515.9 318.6,515.4 318.4,513.1 316.1,510.1 316.4,509.1 315.6,507.1Z" fill="#152f49"/>
<path d="M306.4,502.6 304.4,503.1 302.6,502.6 301.9,503.4 299.4,503.9 297.9,503.6 297.4,502.6 292.1,503.1 291.9,506.6 290.6,508.1 290.4,510.6 288.6,511.9 288.1,513.1 285.9,514.6 284.4,514.4 283.9,514.9 284.1,516.6 281.1,518.1 280.1,519.4 278.6,519.4 277.9,520.4 276.6,519.6 275.4,520.9 275.6,523.1 274.9,525.9 275.9,526.6 275.1,528.4 276.4,529.4 276.6,531.1 278.1,533.1 279.6,533.4 280.9,534.4 281.1,535.4 282.1,535.4 282.4,533.9 283.1,532.9 284.9,532.9 285.1,531.6 286.4,531.1 288.9,528.9 289.9,529.1 291.9,527.9 295.6,528.6 296.1,527.9 297.6,527.4 299.1,528.1 300.6,526.6 299.9,525.9 300.6,524.1 299.9,520.4 301.6,516.4 303.4,514.1 303.9,514.4 304.9,513.6 306.9,513.1 308.4,511.4 308.1,510.9 309.4,510.6 310.4,508.6 309.1,505.9 307.4,504.6 307.6,504.1 306.9,504.6 306.4,504.4Z" fill="#152f49"/>
<path d="M250.9,538.4 245.6,538.4 241.6,540.1 241.4,541.6 236.4,541.6 234.6,542.6 234.1,542.4 233.9,541.4 231.6,540.1 226.6,540.1 222.6,543.4 222.9,549.4 223.4,549.6 223.6,549.1 224.9,548.9 224.1,546.9 224.1,545.1 228.4,541.6 229.9,541.6 232.6,543.4 232.6,545.1 231.6,548.4 233.1,548.6 234.4,547.9 234.4,544.9 238.1,543.1 240.1,543.1 241.9,544.1 242.4,543.1 243.1,542.9 243.1,541.9 244.6,540.6 245.6,540.6 246.9,539.9 249.1,539.9ZM260.1,508.9 257.1,510.6 255.1,515.9 250.1,520.9 248.4,525.6 248.4,530.9 253.1,538.4 253.6,537.6 254.4,537.9 254.9,536.9 257.4,536.6 259.4,537.4 262.1,535.4 265.6,535.6 266.6,534.6 269.4,534.6 270.1,533.6 270.6,533.9 272.1,533.1 272.4,532.1 273.4,531.1 274.9,531.6 276.4,531.4 276.1,529.4 275.6,529.4 274.9,528.4 275.6,526.6 274.6,525.9 275.4,521.4 273.1,521.4 270.6,520.6 270.1,518.9 268.9,518.1 267.6,515.4 266.4,514.6 266.9,513.1 265.1,511.9 264.4,510.4 262.4,510.1Z" fill="#152f49"/>
<path d="M297.6,527.6 296.1,528.1 295.6,528.9 291.9,528.1 289.9,529.4 288.4,529.4 286.4,531.4 285.4,531.6 284.9,533.1 283.1,533.1 282.4,535.4 281.1,535.6 280.6,536.4 281.6,536.9 281.1,537.6 281.6,538.4 281.4,539.9 282.4,542.1 284.1,542.9 284.4,543.6 287.1,545.6 289.9,549.1 290.6,549.1 291.4,547.4 293.1,547.4 292.9,545.6 292.1,544.4 292.9,543.4 294.4,543.1 294.4,541.4 293.9,540.6 294.9,540.1 296.6,537.9 297.6,537.9 299.4,535.6 300.6,535.4 300.4,534.9 300.9,533.9 300.4,533.4 300.9,532.4 299.1,529.4 299.1,528.4Z" fill="#326997"/>
<path d="M299.6,527.6 299.4,529.4 301.1,532.4 300.6,533.4 301.1,534.1 300.6,534.9 301.4,536.1 303.9,536.4 305.6,537.6 306.6,537.6 307.6,539.1 308.1,538.4 310.1,538.9 310.6,540.1 309.9,541.1 311.4,539.9 312.4,540.1 312.9,540.9 314.4,540.9 314.4,537.9 313.1,536.6 312.6,535.1 310.4,533.4 309.1,533.1 308.9,532.4 307.6,532.1 307.1,530.4 305.6,529.1 303.4,529.1 303.1,528.4 302.1,528.6 300.1,527.1ZM308.4,533.6 308.9,533.1 309.4,533.4 309.1,534.1Z" fill="#346d9c"/>
<path d="M302.1,536.4 301.4,536.4 300.6,535.6 299.4,535.9 297.6,538.1 296.6,538.1 295.6,539.6 294.1,540.6 294.6,541.4 294.6,543.1 294.1,543.6 292.9,543.6 292.4,544.4 293.4,546.9 294.9,547.1 295.6,546.1 296.4,546.4 296.6,545.9 298.1,545.9 300.4,543.4 301.6,543.9 301.1,543.1 302.9,541.1 301.9,537.9Z" fill="#2b5a83"/>
<path d="M303.4,541.4 302.9,541.4 301.4,543.1 301.9,543.6 301.6,544.1 300.4,543.6 298.6,545.9 296.6,546.1 296.9,547.1 298.4,547.4 300.4,549.6 303.9,547.4 304.6,547.4 304.6,544.4 303.1,542.4Z" fill="#244d70"/>
<path d="M302.4,536.6 302.1,537.9 303.1,540.1 302.9,540.9 303.6,541.4 303.6,542.9 304.4,543.4 306.4,543.4 308.4,545.4 308.1,546.1 311.1,545.9 311.9,544.4 312.4,544.4 312.4,543.6 312.9,543.4 313.9,541.1 312.9,541.1 312.4,540.4 311.4,540.1 310.4,540.6 310.1,539.1 308.1,538.6 307.6,539.4 306.6,537.9 305.6,537.9 303.9,536.6Z" fill="#1b3a58"/>
<path d="M242.6,543.1 242.1,544.1 243.4,544.9 243.1,543.1ZM280.9,534.9 279.6,533.6 278.1,533.4 276.6,531.4 276.1,531.9 273.4,531.4 272.1,533.4 270.6,534.1 270.1,533.9 269.4,534.9 266.6,534.9 265.6,535.9 262.1,535.6 259.4,537.6 257.4,536.9 254.9,537.1 254.4,538.1 253.6,537.9 253.4,538.6 252.9,538.4 256.4,544.6 256.4,545.4 253.4,545.1 253.4,540.9 251.1,538.6 249.4,539.9 251.9,542.6 251.9,544.4 250.6,547.1 255.9,546.6 256.6,546.1 260.1,546.4 262.4,548.6 262.9,551.4 263.9,551.9 265.6,551.9 265.6,554.4 267.6,554.9 268.6,557.1 269.6,557.9 272.1,558.9 273.1,558.6 273.4,557.1 274.4,555.4 274.1,554.9 275.1,554.1 274.6,553.4 275.1,552.9 275.9,553.4 275.6,552.6 277.6,550.4 277.9,548.9 278.9,548.1 279.9,545.1 280.9,544.4 280.9,543.1 282.1,542.4 281.1,539.9 281.4,538.4 280.9,537.6 281.4,536.9 280.4,536.4Z" fill="#152f49"/>
<path d="M281.4,542.9 281.1,544.4 280.4,545.4 280.1,545.1 279.1,548.1 278.1,548.9 277.9,550.4 275.9,552.6 276.1,553.4 274.9,553.4 275.4,554.1 274.4,554.9 274.6,555.4 273.6,557.1 273.6,558.4 272.9,559.1 273.1,560.9 272.1,562.4 274.1,563.1 273.4,569.4 274.9,569.4 276.9,570.6 278.1,570.1 279.1,570.4 279.9,569.9 281.4,570.4 282.4,569.4 283.4,569.4 284.9,570.6 285.6,570.6 287.4,569.4 290.4,570.6 292.6,569.1 293.9,568.9 295.1,570.9 297.1,569.9 300.9,570.4 301.4,569.9 301.4,568.1 300.9,567.1 301.1,565.9 300.4,565.4 300.6,564.9 300.1,564.6 299.1,562.1 301.4,560.1 300.6,558.9 301.1,558.1 300.9,556.1 302.1,554.1 300.6,553.4 300.9,552.6 299.9,551.1 300.1,549.4 298.4,547.6 296.9,547.4 295.9,546.4 294.9,547.4 293.4,547.1 293.1,547.6 291.4,547.6 290.9,549.1 289.9,549.4 287.9,546.6 284.9,543.9 284.4,543.9 284.1,543.1 282.9,542.4Z" fill="#1c3c5a"/>
<path d="M329.1,536.6 328.4,536.9 325.6,535.4 323.9,535.6 323.1,535.1 321.1,537.4 320.1,536.9 319.1,537.9 319.4,538.6 318.9,539.1 318.1,538.9 317.6,539.4 318.4,540.1 317.9,540.9 316.6,540.9 315.9,541.4 314.4,541.1 313.4,542.1 312.6,544.4 312.1,544.4 311.1,546.1 308.1,546.4 308.1,545.4 306.4,543.6 304.4,543.6 304.9,544.4 304.9,547.4 300.4,549.9 300.1,550.6 300.4,551.9 301.1,552.6 300.9,553.4 302.4,554.1 301.1,556.1 301.4,558.1 300.9,558.9 301.6,560.1 299.4,562.1 300.4,564.6 300.9,564.9 300.6,565.4 301.4,565.9 301.4,570.4 303.1,571.4 304.1,571.4 304.9,572.1 306.1,571.9 308.9,573.6 309.1,574.4 309.4,574.1 309.6,574.6 310.1,574.4 310.9,574.9 311.9,573.6 312.9,573.6 313.1,573.1 315.1,573.9 317.4,573.4 317.9,571.1 319.1,569.4 319.4,569.6 320.1,567.6 322.4,566.9 322.9,566.1 323.9,566.4 324.6,565.9 326.4,565.9 327.1,564.6 327.1,563.6 327.9,563.1 327.9,560.4 330.1,558.9 329.6,558.1 329.9,557.1 328.6,555.9 328.6,553.6 328.1,552.9 328.6,552.1 328.4,550.4 329.9,547.1 330.1,544.1 330.6,543.6 330.6,541.9 329.6,539.9 329.9,538.1Z" fill="#152f49"/>
<path d="M322.1,523.4 321.9,528.1 322.4,528.9 321.6,529.6 321.1,529.4 321.1,529.9 322.4,531.9 322.1,533.1 323.4,533.9 322.6,534.9 323.9,535.4 325.6,535.1 326.9,535.6 327.4,536.4 329.1,536.4 330.1,538.6 331.4,539.6 332.6,539.9 336.9,545.1 338.4,545.1 340.4,546.1 343.1,545.9 343.6,545.1 344.1,545.4 344.4,543.4 343.9,542.9 346.4,540.1 347.1,539.9 347.4,537.4 349.1,535.6 349.9,532.4 350.9,531.4 350.9,530.1 349.1,529.1 349.1,528.4 350.4,527.1 349.4,525.9 348.6,523.6 345.1,521.4 343.1,519.6 343.4,519.4 342.1,519.6 341.4,520.6 339.4,520.6 338.9,520.1 337.4,521.1 336.1,521.1 332.1,518.9 330.1,520.4 329.1,520.1 328.9,520.9 327.6,520.9 326.1,522.4 325.6,522.1 324.9,522.6 323.9,522.1Z" fill="#152f49"/>
<path d="M356.4,517.4 352.6,518.6 350.4,521.1 349.6,521.4 348.9,523.9 350.6,527.1 349.4,528.4 349.4,529.1 351.1,530.1 350.9,531.6 349.4,534.4 349.1,536.4 350.6,537.1 352.4,536.9 353.4,537.4 354.9,540.1 356.6,540.6 357.4,542.1 358.9,542.9 361.1,545.4 361.9,545.4 363.4,543.9 364.4,544.4 365.4,542.6 367.9,540.4 367.4,539.1 367.6,538.4 369.9,537.1 370.1,535.9 368.6,534.1 369.6,532.6 368.9,530.6 370.1,528.4 369.4,527.6 368.9,527.9 368.1,526.9 367.9,524.6 367.4,524.1 367.9,523.9 367.1,522.9 366.9,520.6 365.1,519.1 364.1,519.4 363.6,518.4 362.6,518.1 361.1,516.9 359.9,517.6 360.1,518.1 359.6,518.6 358.4,518.1 358.1,517.4Z" fill="#152f49"/>
<path d="M329.9,538.4 329.9,539.9 330.9,541.9 330.9,543.6 330.4,544.1 330.1,547.1 328.6,550.4 328.9,552.1 328.4,552.9 328.9,553.6 328.9,555.9 329.9,556.6 329.9,558.1 330.4,558.9 328.6,560.4 327.9,560.1 328.1,563.1 327.4,563.6 327.4,564.6 326.6,565.6 329.6,565.6 330.4,567.1 331.4,567.1 332.9,568.6 334.6,569.4 335.1,570.4 337.1,569.6 337.9,570.4 340.4,570.4 342.4,569.6 343.6,570.6 343.6,572.1 344.4,572.6 345.9,572.1 346.9,573.1 348.4,573.1 349.4,574.9 350.1,575.1 352.4,577.6 356.4,577.4 360.6,574.4 361.4,573.4 363.4,572.4 364.6,569.9 366.6,570.1 366.6,568.9 366.1,568.4 366.6,567.1 365.9,567.4 364.9,566.1 364.6,563.9 365.6,562.4 364.6,560.6 364.9,557.9 364.4,557.9 362.9,555.9 362.9,555.1 364.1,553.1 364.1,552.1 362.4,551.1 362.6,548.4 362.1,546.6 358.9,543.1 356.6,541.6 356.6,540.9 354.4,539.9 353.4,537.6 352.4,537.1 350.6,537.4 349.6,537.1 348.9,536.1 347.6,537.4 347.4,539.9 346.4,540.4 344.1,542.9 344.6,543.4 344.4,545.4 343.6,545.4 343.1,546.1 340.4,546.4 338.4,545.4 336.9,545.4 332.9,540.4 331.4,539.9Z" fill="#275379"/>
<path d="M384.9,570.9 381.4,570.9 375.4,572.9 377.1,573.9 377.9,572.9 380.4,571.6 384.9,571.4ZM368.9,537.6 367.6,538.9 368.1,540.4 365.6,542.6 364.6,544.4 364.1,544.6 363.4,544.1 361.6,545.6 362.9,548.4 362.6,551.1 364.4,552.1 364.4,553.1 363.1,555.1 363.1,555.9 364.4,557.6 365.1,557.9 364.9,560.6 365.9,562.4 364.9,564.4 365.4,566.6 365.9,567.1 366.9,567.1 366.4,567.6 366.9,570.4 368.4,569.6 369.6,570.1 370.4,569.6 371.1,571.1 372.9,572.1 373.4,571.9 372.6,570.6 372.9,570.1 375.9,570.1 380.1,566.6 385.9,566.6 386.4,566.1 386.1,569.4 386.9,570.1 387.9,567.9 387.1,567.1 387.4,566.1 385.6,565.4 386.1,564.9 385.9,563.9 386.6,563.4 386.6,562.1 385.6,561.9 385.6,559.9 384.9,558.1 383.9,557.4 383.9,553.1 383.1,553.1 382.4,552.4 382.9,551.6 382.1,552.1 381.4,551.4 381.4,550.1 379.6,547.1 378.9,547.1 376.6,545.6 376.4,545.1 376.9,543.6 374.4,541.4 374.9,540.6 373.4,539.1 371.1,538.4 370.1,537.4Z" fill="#1f4262"/>
<path d="M367.1,521.6 368.1,523.9 367.6,524.1 368.1,524.6 368.4,526.9 370.4,528.4 369.1,530.6 369.9,532.6 368.9,534.1 370.4,535.9 370.1,537.1 371.1,538.1 373.4,538.9 375.1,540.6 374.6,541.4 377.1,543.6 376.6,545.1 376.9,545.6 379.9,547.1 381.6,550.1 381.6,551.4 383.1,552.9 383.6,552.6 384.1,553.1 384.1,557.4 385.1,558.1 385.9,559.9 385.9,561.9 386.4,561.6 386.9,562.1 386.9,563.4 386.1,563.9 386.4,564.9 385.9,565.4 386.9,565.4 387.6,566.1 387.4,567.1 388.1,567.6 392.6,563.1 394.4,563.1 398.9,564.9 400.1,564.6 400.9,563.4 398.6,562.6 398.6,561.4 402.4,560.9 401.6,560.1 401.6,558.6 400.9,557.9 401.1,556.4 400.4,555.6 398.6,555.1 397.4,553.4 397.1,551.4 397.6,550.6 397.4,549.6 397.9,549.4 396.9,546.6 398.4,544.6 397.9,543.4 397.6,543.6 395.6,541.6 395.6,540.4 393.4,538.9 393.4,537.1 392.4,536.9 391.4,535.1 390.4,535.1 387.9,532.9 387.6,532.1 388.4,531.1 386.6,530.6 385.9,529.4 383.4,527.1 382.1,524.9 382.1,523.9 381.6,523.6 381.9,523.1 381.4,522.6 379.9,522.9 378.6,522.1 378.6,520.4 376.4,521.1 375.4,520.1 374.4,520.1 372.4,520.9 372.1,521.4 371.1,521.4 369.1,520.1Z" fill="#152f49"/>
<path d="M217.6,565.1 219.6,564.9 221.6,565.6 224.4,564.1 225.9,564.1 229.4,568.6 230.9,569.1 232.1,568.4 234.4,569.4 234.1,568.4 230.4,568.4 230.1,565.9 227.6,562.6 222.6,562.6ZM223.1,549.9 224.1,552.6 228.4,552.9 228.4,557.9 230.9,562.6 235.9,562.6 238.4,560.1 238.6,555.9 241.6,555.9 245.9,553.4 246.1,550.1 248.9,550.1 250.1,553.6 253.6,554.1 253.6,555.6 245.9,556.6 246.1,563.4 245.4,563.1 245.4,561.4 238.1,561.4 238.1,568.6 243.9,568.6 244.9,571.6 246.1,572.1 246.9,571.9 247.1,572.9 247.9,573.1 248.1,572.6 247.4,572.4 245.6,567.6 245.6,565.9 248.9,564.4 247.4,560.1 247.4,558.4 248.4,557.9 253.4,557.4 254.4,561.9 254.4,564.1 251.4,565.1 252.6,568.1 252.6,569.9 250.1,572.1 252.1,571.1 253.9,571.1 254.9,573.1 256.6,573.4 257.9,572.6 259.4,573.4 259.9,572.9 260.6,573.9 260.4,575.4 261.6,575.9 261.4,576.9 262.4,577.6 262.6,579.6 261.9,580.6 262.4,582.1 264.6,582.1 264.9,581.4 267.9,578.6 268.1,577.1 268.9,576.9 268.6,575.4 269.1,575.1 270.9,570.4 273.1,569.1 273.9,563.1 271.9,562.4 272.9,560.9 272.9,558.9 272.1,559.1 269.6,558.1 268.4,557.1 267.6,555.1 265.6,554.6 265.1,554.1 265.6,553.4 265.4,551.9 263.9,552.1 262.9,551.6 262.1,548.6 259.6,546.4 256.6,546.4 255.9,546.9 250.6,547.4 249.9,548.6 244.4,548.6 244.1,547.9 244.4,551.6 239.9,554.4 238.4,554.4 237.9,553.9 235.6,554.4 236.9,556.9 236.9,558.4 234.1,561.1 232.6,561.1 229.9,556.1 229.9,554.4 232.6,553.4 231.9,551.1 231.9,549.4 232.9,548.9 231.4,548.6 230.9,550.1 227.6,551.1 225.9,551.1 225.1,549.1ZM254.4,566.6 255.1,568.9 254.9,569.6 254.1,569.4ZM239.6,563.1 243.6,562.9 243.9,566.9 239.9,567.1ZM250.6,547.9 253.9,546.9 255.9,546.9 258.1,548.9 258.1,550.4 256.4,552.6 251.9,552.1 250.6,549.6Z" fill="#1b3a58"/>
<path d="M275.4,297.9 275.6,299.1 276.4,298.4 277.9,298.4 281.9,302.4 283.1,307.9 281.4,308.1 278.9,306.9 275.4,308.9 274.1,310.1 274.1,310.9 276.6,310.9 278.9,309.1 280.6,309.6 283.4,319.1 288.4,319.1 290.6,316.1 291.1,320.6 289.1,325.6 289.1,328.1 291.1,329.1 291.9,330.1 293.1,329.1 294.4,329.4 295.1,331.1 296.6,332.1 298.4,330.1 299.9,329.9 300.4,327.4 302.1,325.9 304.1,324.9 305.9,325.4 307.4,324.1 308.6,324.6 310.1,324.4 311.4,322.4 312.1,322.4 312.9,321.6 313.6,321.9 314.6,320.9 314.4,320.4 314.9,319.4 317.9,317.9 319.1,318.9 321.4,318.4 322.4,317.6 323.4,318.1 323.6,316.6 325.6,315.1 325.9,315.4 325.6,314.9 327.6,313.4 327.1,312.4 327.9,311.6 327.1,311.6 326.6,310.9 326.6,309.9 327.6,307.9 326.1,306.6 325.9,307.4 325.1,307.6 324.4,306.4 324.1,306.6 322.9,305.6 320.6,306.1 317.9,306.1 316.6,305.6 315.6,306.9 314.1,306.6 312.9,305.4 311.1,305.1 311.1,305.6 309.4,306.9 308.6,305.9 308.9,304.6 307.4,304.4 308.4,301.6 307.1,299.9 306.9,298.4 305.6,300.4 302.9,300.1 302.1,299.4 298.6,300.1 297.9,298.1 296.9,298.9 294.6,298.9 293.9,299.4 292.1,298.9 291.9,299.6 291.6,298.9 290.4,298.1 290.6,297.6 289.6,296.1 288.9,296.4 287.1,295.6 285.6,295.9 284.6,294.6 283.4,294.6 281.9,292.6 281.1,292.6 282.4,294.9 280.9,298.1 279.6,296.9 275.9,296.9ZM319.6,317.9 320.1,317.1 320.4,317.6 319.9,318.1ZM314.9,311.1 317.6,308.6 318.9,309.4 319.4,310.6 320.1,310.6 322.1,312.4 322.6,313.4 322.4,314.1 323.1,315.1 321.9,316.1 319.6,316.9 315.4,312.9 315.6,312.6Z" fill="#56b1f7"/>
<path d="M315.1,311.1 315.9,312.6 315.6,312.9 319.6,316.6 322.9,315.1 322.1,314.1 322.4,313.4 321.9,312.4 320.1,310.9 319.4,310.9 318.6,309.4 318.4,309.6 317.4,308.9Z" fill="#1a3855"/>
<path d="M323.6,318.4 322.4,317.9 321.4,318.6 319.1,319.1 317.9,318.1 314.9,319.6 314.9,320.9 313.6,322.1 312.9,321.9 312.1,322.6 311.4,322.6 311.1,323.6 310.1,324.6 308.6,324.9 307.4,324.4 305.9,325.6 304.1,325.1 300.9,327.1 300.1,329.9 299.6,330.4 298.4,330.4 296.9,332.1 298.1,333.6 297.9,334.9 300.4,339.4 300.1,340.4 303.9,343.1 305.4,341.6 307.9,341.6 309.1,340.1 312.4,338.6 313.1,339.4 314.1,339.1 316.1,337.6 317.1,337.9 317.6,337.1 319.4,337.4 319.4,336.4 321.6,337.4 322.9,334.9 323.9,334.6 324.6,333.4 325.9,333.6 326.4,332.9 325.6,332.1 326.1,331.4 326.4,329.1 325.4,328.4 323.9,328.4 323.1,326.9 324.1,323.4 323.4,322.1 324.1,320.1Z" fill="#3875a7"/>
<path d="M263.4,322.4 263.4,323.9 264.9,324.1 264.9,328.4 265.6,328.9 265.9,330.9 267.1,331.4 267.1,332.6 268.1,333.4 268.4,337.4 267.4,340.4 268.6,341.9 267.6,343.6 269.4,346.6 270.6,346.9 271.6,348.1 272.9,348.4 273.6,349.6 275.9,349.4 278.1,352.1 279.1,351.4 279.6,352.1 281.6,352.4 282.4,353.1 282.6,356.1 284.9,355.1 285.9,354.1 286.9,354.1 287.4,354.6 288.4,354.4 291.1,355.1 291.9,356.1 291.9,357.4 294.9,357.6 295.1,357.1 295.6,357.4 296.6,355.9 297.9,355.4 298.4,351.6 299.4,351.1 299.9,348.9 298.9,347.1 298.9,345.4 301.4,343.9 301.9,342.1 301.6,341.4 299.9,340.4 300.1,339.4 297.6,334.9 297.9,333.6 296.9,332.4 294.9,331.1 294.4,329.6 293.1,329.4 291.9,330.4 291.1,329.4 289.1,328.4 286.6,329.4 280.9,329.1 270.1,323.4 266.6,323.4 266.4,322.4Z" fill="#214668"/>
<path d="M263.1,322.4 259.6,322.4 259.4,328.4 251.6,329.1 251.6,334.1 255.9,338.4 254.4,339.9 254.1,339.1 252.9,339.1 253.1,340.1 252.6,341.4 253.1,343.4 253.6,343.6 252.6,343.6 251.9,345.6 252.4,347.1 251.9,348.4 252.1,350.6 253.6,351.4 252.9,352.6 252.9,354.4 253.4,354.9 252.9,355.6 252.9,358.1 254.4,359.9 254.1,360.4 252.6,360.9 252.9,362.6 253.6,363.4 252.4,365.4 252.4,366.9 254.1,368.6 253.6,372.1 255.1,373.1 254.9,375.1 256.9,375.9 257.9,379.6 258.9,378.6 259.6,379.1 258.9,376.1 259.1,375.4 261.1,376.4 262.4,377.6 262.9,376.4 262.6,375.1 263.9,374.1 266.1,374.1 267.9,372.9 269.9,373.1 270.4,372.4 274.1,371.6 274.6,372.4 275.9,371.9 276.9,370.9 276.4,369.6 276.4,367.6 278.1,365.9 277.4,364.1 277.4,362.6 278.1,361.6 279.4,361.4 278.1,360.4 278.6,360.1 278.9,359.1 280.4,358.4 280.1,358.1 281.4,356.9 282.4,356.6 282.4,354.1 281.6,352.6 279.6,352.4 279.1,351.6 278.1,352.4 276.9,351.4 276.9,350.6 275.9,349.6 273.6,349.9 272.9,348.6 271.6,348.4 270.6,347.1 269.4,346.9 268.1,345.1 267.4,343.4 268.4,341.6 267.1,340.4 268.1,337.4 267.9,333.4 266.9,332.6 266.9,331.4 265.6,330.9 265.4,328.9 264.6,328.4 264.6,327.1 261.1,326.9 261.1,324.1 263.1,323.9Z" fill="#22486a"/>
<path d="M319.6,336.6 319.4,337.6 317.6,337.4 317.1,338.1 316.1,337.9 314.9,339.1 313.1,339.6 312.4,338.9 309.1,340.4 307.9,341.9 305.4,341.9 303.9,343.4 302.1,342.1 301.6,343.9 299.1,345.4 299.1,347.1 300.1,348.9 299.6,351.1 298.6,351.6 298.6,353.9 297.9,355.9 300.4,356.4 301.6,357.6 301.6,359.1 302.4,360.1 302.4,361.1 305.1,363.4 305.9,362.9 306.4,364.1 308.1,365.1 308.6,366.1 308.4,366.6 308.6,366.1 310.4,367.6 311.4,369.6 312.4,369.6 315.9,366.9 316.6,365.1 317.9,364.6 318.6,363.1 320.9,361.1 320.9,360.4 321.6,359.9 321.4,358.9 324.1,356.4 324.6,354.1 323.6,354.4 323.1,353.9 323.4,352.4 322.1,349.9 322.6,348.6 322.6,346.6 321.9,344.9 322.4,343.9 321.9,343.1 322.9,342.6 322.9,341.9 321.6,339.4 321.6,337.6 319.9,337.1Z" fill="#2b5a83"/>
<path d="M326.4,333.6 324.6,333.6 324.9,333.9 323.9,334.9 322.9,335.1 323.1,335.4 321.6,337.9 322.1,340.1 323.1,341.9 323.1,342.6 322.1,343.1 322.6,343.9 322.1,344.9 322.9,346.6 322.9,348.6 322.4,349.9 323.6,352.4 323.6,354.1 325.6,353.9 326.1,352.9 329.6,350.1 330.9,348.4 331.4,348.6 333.1,347.9 333.6,347.1 335.1,347.4 337.4,345.1 338.4,344.9 338.9,343.4 339.4,342.9 339.6,343.1 338.6,341.9 337.6,341.9 337.1,341.4 337.4,341.1 336.1,340.6 333.6,337.9 332.9,338.4 331.1,336.9 331.1,336.4 329.4,337.1 327.4,334.1 326.1,334.1Z" fill="#346d9c"/>
<path d="M350.1,356.4 349.1,356.1 348.4,354.9 347.4,354.4 347.6,353.6 346.9,353.1 346.6,351.6 344.1,349.9 343.9,348.9 342.6,347.9 342.6,346.9 341.6,346.1 342.4,345.6 342.1,345.1 340.9,344.6 340.4,343.4 339.4,343.1 338.6,344.9 337.4,345.4 335.1,347.6 333.6,347.4 333.1,348.1 331.4,348.9 330.4,348.6 330.6,349.1 330.1,349.9 324.6,354.6 324.4,356.4 322.6,358.4 321.6,358.9 321.9,359.9 321.1,360.4 321.1,361.1 319.6,362.9 318.9,363.1 317.9,364.9 316.9,365.1 315.6,367.4 315.9,367.6 316.9,366.6 318.6,366.6 320.4,367.9 320.9,367.6 322.4,368.4 324.6,367.6 325.4,367.9 325.1,366.6 325.9,366.4 325.6,364.9 326.1,364.4 327.1,364.9 327.6,363.6 329.6,363.4 330.4,362.1 333.1,361.6 334.6,362.1 335.9,361.1 337.1,361.6 337.6,361.1 338.4,361.4 340.1,363.9 341.4,364.1 342.4,363.4 342.1,362.6 344.1,361.1 344.9,359.9 345.6,360.1 346.9,359.4 348.9,356.9Z" fill="#29577e"/>
<path d="M354.1,315.9 353.4,316.1 350.6,315.4 349.4,316.9 347.1,316.9 345.6,318.4 344.4,318.1 340.6,318.6 338.6,317.4 338.1,315.6 336.9,314.6 335.4,314.6 334.4,316.9 333.6,317.1 331.4,319.6 329.1,319.4 327.1,321.6 325.6,321.1 324.4,322.4 323.9,326.1 323.4,326.9 323.9,328.1 325.4,328.1 326.6,329.1 326.4,331.4 325.9,332.1 326.6,332.9 326.4,333.4 327.9,334.4 328.1,335.4 329.4,336.9 331.1,336.1 331.6,336.6 331.4,336.9 332.9,338.1 333.6,337.6 336.1,340.4 337.4,340.9 337.6,341.6 338.6,341.6 339.6,342.9 341.9,339.1 342.6,339.1 343.1,338.4 344.4,337.9 345.1,336.6 347.4,335.6 348.6,334.4 349.6,334.6 350.9,334.1 350.9,333.6 351.9,332.9 352.6,330.1 353.6,328.9 355.1,329.9 355.6,328.6 357.6,327.9 357.1,325.9 357.4,325.1 359.1,324.4 358.1,322.9 356.9,319.1 355.1,318.4 354.4,318.6 353.9,318.1 353.9,317.4 354.9,317.1 354.9,316.4 354.6,316.6ZM353.9,316.4 353.9,317.4 353.4,316.9Z" fill="#234b6e"/>
<path d="M333.1,293.6 332.1,294.1 331.6,293.9 330.9,294.6 329.9,294.1 330.4,294.9 330.1,295.9 330.6,297.1 329.6,298.6 329.1,300.9 330.1,302.9 328.6,303.9 328.6,304.9 329.6,305.6 328.9,306.4 326.6,306.9 327.1,306.9 327.9,307.9 326.9,309.9 327.1,311.4 327.6,311.1 328.1,311.6 327.4,312.4 327.9,313.4 323.6,317.1 323.9,319.1 324.4,319.6 323.6,321.6 324.1,322.6 325.6,320.9 326.4,321.4 327.9,320.9 328.1,319.9 329.1,319.1 331.4,319.4 333.6,316.9 334.1,316.9 334.6,315.4 335.9,314.1 338.1,315.4 338.9,317.4 340.6,318.4 344.4,317.9 345.6,318.1 347.1,316.6 349.4,316.6 350.4,315.4 348.1,310.9 348.6,309.9 348.4,309.4 347.9,309.9 346.9,308.9 346.6,307.4 344.6,305.4 343.9,303.1 340.9,300.9 339.4,301.6 338.6,300.9 339.4,299.9 338.9,297.6 338.4,297.1 337.6,297.4 335.6,294.9Z" fill="#254e73"/>
<path d="M356.4,293.1 355.4,294.4 354.4,294.4 353.6,295.1 352.6,294.9 351.1,296.1 350.4,296.1 350.1,295.6 349.4,296.1 349.1,295.9 348.4,296.6 348.4,297.4 347.4,298.4 348.1,298.9 347.1,298.9 346.4,300.1 345.9,299.9 345.4,300.4 345.6,301.4 345.1,302.1 345.6,302.6 345.6,304.4 344.9,305.4 346.9,307.4 347.1,308.9 348.6,310.1 348.4,310.9 349.1,311.9 349.4,313.4 350.1,313.9 350.4,315.1 351.4,315.1 351.6,315.6 352.6,315.4 353.4,315.9 354.1,315.6 354.6,316.4 354.9,316.1 355.1,317.1 354.1,317.4 353.9,316.6 353.6,317.4 354.1,317.4 354.4,318.4 355.1,318.1 357.1,319.1 359.4,324.6 361.4,325.1 362.6,326.1 364.4,326.1 367.1,323.9 366.9,321.4 370.4,319.9 371.1,317.9 370.1,316.9 370.1,315.6 368.9,314.6 369.1,314.1 368.6,312.4 365.9,311.4 365.4,310.6 362.1,308.6 361.9,307.9 363.4,306.4 361.9,304.4 361.6,303.1 362.1,301.4 360.9,299.1 361.1,296.6 360.6,296.1 359.6,296.6 358.9,295.9 358.6,293.9 358.1,293.4 356.9,293.6Z" fill="#244d70"/>
<path d="M354.1,282.6 352.9,284.4 354.1,286.1 353.9,287.1 354.6,287.6 354.9,289.1 355.6,289.9 355.1,291.4 356.6,292.6 356.4,292.9 356.9,293.4 358.1,293.1 358.9,293.9 359.1,295.9 359.6,296.4 360.6,295.9 361.4,296.6 361.1,299.1 362.4,301.4 361.9,303.1 362.1,304.4 363.6,306.4 362.1,307.9 362.4,308.6 362.6,308.4 365.9,311.1 368.9,312.4 369.4,314.1 369.1,314.6 370.4,315.6 370.4,316.9 370.9,317.4 373.1,317.4 373.6,316.4 374.9,315.6 374.9,315.1 373.9,314.4 375.4,314.1 376.9,311.4 376.6,309.9 377.4,308.9 378.6,308.6 379.1,307.9 378.6,307.1 379.1,306.9 378.6,306.1 379.1,305.1 382.1,304.9 381.6,303.1 382.1,301.9 381.6,301.4 381.4,299.6 382.4,298.9 381.1,297.4 380.9,295.6 382.6,292.6 382.6,290.1 384.4,287.1 383.6,284.9 382.9,284.6 382.1,285.4 381.1,285.1 379.6,285.9 377.9,285.1 374.4,285.4 372.6,284.4 371.9,284.9 369.1,283.9 368.1,284.1 367.4,283.1 364.6,283.1 364.4,282.6 363.4,283.1 362.9,282.4 361.4,282.6 360.1,282.1 356.9,283.1 356.4,282.6 355.6,283.1Z" fill="#1c3c5a"/>
<path d="M344.1,268.9 343.4,270.4 342.6,270.6 341.6,272.1 340.4,272.4 339.4,271.9 339.6,272.1 338.1,274.1 337.1,277.1 335.1,277.9 332.9,281.4 330.9,281.1 329.1,282.1 328.6,283.1 328.9,284.9 328.6,285.9 328.1,286.1 328.6,287.1 328.1,288.9 329.9,291.1 329.6,292.1 328.6,293.1 328.9,293.6 330.9,294.4 331.6,293.6 332.1,293.9 333.1,293.4 335.6,294.6 337.6,297.1 338.4,296.9 339.1,297.6 339.6,299.9 338.9,300.9 339.4,301.4 340.4,300.6 341.4,300.9 344.1,303.1 344.6,304.9 345.1,304.9 345.1,300.4 345.9,299.6 346.4,299.9 347.1,298.6 347.9,298.9 347.1,298.4 348.1,297.4 348.1,296.6 349.1,295.6 349.4,295.9 350.1,295.4 350.4,295.9 351.1,295.9 352.6,294.6 353.6,294.9 354.4,294.1 355.4,294.1 356.4,292.6 354.9,291.4 355.4,289.9 354.6,289.1 354.4,287.6 353.6,287.1 353.9,286.1 352.6,284.4 353.6,282.6 352.6,281.9 352.6,281.1 351.4,281.6 349.6,279.6 349.6,277.6 347.9,276.4 348.1,275.6 348.6,275.9 348.6,273.4 348.1,273.4 347.1,271.9 346.1,271.4 345.9,270.4 345.1,270.6 344.1,269.9Z" fill="#2f628c"/>
<path d="M376.1,315.9 374.1,316.1 373.1,317.6 371.1,317.6 371.4,318.6 370.6,319.9 368.6,321.1 367.1,321.4 367.4,323.9 364.4,326.4 362.6,326.4 361.9,325.6 359.1,324.6 357.6,325.1 357.4,325.9 357.9,327.9 356.9,328.4 357.6,328.9 357.1,330.1 357.9,331.1 358.4,333.9 359.6,333.4 359.6,334.4 360.6,335.9 364.4,339.1 364.4,343.9 366.6,345.1 366.9,345.6 366.4,346.1 370.6,346.1 371.6,346.9 372.6,346.6 373.1,347.4 374.1,347.4 374.1,346.9 375.4,346.1 379.6,346.6 380.9,345.1 381.6,345.4 382.9,344.6 383.1,343.9 383.6,344.1 384.9,343.1 384.1,341.1 381.6,339.4 381.6,337.6 379.1,336.9 378.4,335.6 376.4,334.9 375.6,334.1 375.9,333.4 375.4,333.1 375.1,333.6 373.1,330.9 374.4,327.6 373.9,325.1 374.6,324.6 374.6,323.4 375.4,322.6 376.6,322.9 376.1,322.1 377.1,321.9 376.9,321.1 377.4,320.6 376.9,319.9 377.9,318.4 377.9,317.1 376.9,317.1Z" fill="#1b3a58"/>
<path d="M390.4,338.1 389.9,339.9 385.9,342.9 385.1,342.1 385.1,343.1 384.1,344.1 383.1,344.1 383.1,344.6 381.6,345.6 380.9,345.4 380.9,345.9 379.6,346.9 375.4,346.4 374.6,346.6 374.1,347.6 373.1,347.6 372.1,346.9 372.1,349.9 370.9,351.6 372.9,352.1 372.6,353.1 373.4,353.9 373.4,355.9 374.4,355.4 374.9,356.1 374.1,357.6 374.6,358.4 374.6,359.9 374.1,360.4 374.4,361.4 373.9,361.6 375.6,364.6 377.1,365.9 377.9,365.6 378.6,366.4 379.9,369.1 382.6,371.6 382.4,372.1 383.4,371.9 384.4,373.4 385.4,372.6 386.9,372.6 389.1,373.9 389.9,373.6 391.6,374.9 392.4,373.9 392.9,373.9 393.9,371.6 393.6,371.4 394.9,370.6 395.6,369.4 397.9,368.1 398.9,366.6 399.9,366.9 399.9,363.6 399.4,361.6 400.1,359.1 399.4,356.9 400.9,354.9 402.4,355.9 401.6,354.1 402.9,352.4 401.4,350.4 400.9,348.1 399.1,346.1 400.4,344.4 398.6,342.6 397.4,342.9 393.6,340.4 391.4,339.6Z" fill="#152f49"/>
<path d="M341.4,364.4 341.4,364.9 341.9,364.1 342.9,365.6 343.6,364.6 344.6,364.9 345.9,366.4 346.1,366.1 347.9,366.9 349.6,368.6 349.4,369.4 349.9,369.9 352.1,370.6 354.4,372.6 356.1,372.9 359.1,370.6 364.4,367.9 365.9,366.4 366.6,366.4 367.9,364.9 367.9,363.9 367.4,363.4 368.4,361.9 368.4,361.1 367.1,359.9 366.6,360.4 364.9,357.6 364.6,357.9 363.1,357.1 361.1,357.6 360.6,358.4 357.9,357.9 357.9,358.4 356.6,358.6 356.1,357.9 355.6,358.6 351.6,358.4 350.4,356.9 348.9,357.1 346.9,359.6 345.6,360.4 344.9,360.1 344.4,361.1 342.4,362.6 342.6,363.4Z" fill="#22486a"/>
<path d="M343.6,364.9 342.1,366.4 342.1,367.9 340.4,369.4 340.9,370.1 339.9,371.6 340.6,372.4 340.1,372.6 340.1,373.4 341.9,374.4 341.9,375.4 343.6,376.4 346.1,378.9 346.6,380.1 347.9,380.9 347.6,381.4 348.6,381.6 349.1,382.4 351.4,383.1 354.9,382.1 355.4,380.9 354.9,377.9 356.4,375.6 355.9,373.1 354.4,372.9 352.1,370.9 349.9,370.1 349.1,369.4 349.4,368.6 347.9,367.1 346.1,366.4 345.9,366.6 344.6,365.1Z" fill="#29577e"/>
<path d="M373.6,361.6 372.6,362.1 371.9,361.6 368.6,361.6 367.6,363.4 368.1,363.9 367.9,365.4 366.6,366.6 366.4,366.4 365.1,367.1 364.4,368.1 359.6,370.6 359.4,371.4 359.9,371.4 359.9,372.1 360.9,372.6 360.6,373.1 361.6,374.6 361.4,375.4 361.9,376.1 361.1,378.1 361.9,378.9 362.4,382.9 363.1,383.4 362.6,384.1 361.1,384.4 360.9,385.9 361.9,387.4 361.9,388.6 360.9,389.6 361.1,391.6 361.6,391.4 362.4,391.9 361.4,392.4 361.6,393.6 361.1,396.4 361.4,395.9 362.4,396.1 363.4,395.1 362.9,394.9 364.4,394.6 365.1,395.1 367.9,391.9 367.6,391.1 368.1,390.6 368.6,387.4 371.1,385.1 370.9,384.6 371.4,383.4 372.9,381.6 373.6,381.4 373.9,380.4 375.4,378.9 377.1,378.9 378.6,376.6 380.4,375.6 381.1,373.4 382.4,372.4 382.4,371.6 379.6,369.1 377.9,365.9 377.1,366.1 375.6,364.9Z" fill="#22486a"/>
<path d="M359.1,370.9 356.1,373.1 356.6,375.6 355.1,377.9 355.6,380.9 354.1,383.6 354.9,385.6 356.1,387.1 356.1,389.4 357.1,390.6 356.9,392.6 357.6,393.9 357.4,394.6 359.4,395.4 359.9,396.6 360.9,396.6 360.6,396.1 361.4,393.6 361.1,392.4 362.1,391.9 361.1,391.9 360.6,391.1 360.6,389.6 361.6,388.6 361.6,387.4 360.6,385.9 360.9,384.4 362.1,384.1 362.9,383.4 362.1,382.9 361.6,378.9 360.9,378.1 361.6,376.1 361.1,375.4 361.4,374.6 360.4,373.1 360.6,372.6 359.6,372.1 359.9,371.6 359.4,371.6ZM357.6,394.1 358.4,393.9 358.9,394.4 358.4,394.9Z" fill="#234b6e"/>
<path d="M367.6,346.6 366.4,348.1 366.1,350.1 364.9,352.1 364.6,355.1 363.6,355.6 363.4,357.1 364.9,357.4 366.6,360.1 367.1,359.6 368.6,361.4 371.9,361.4 372.4,361.9 374.1,361.4 373.9,360.4 374.4,359.9 374.4,358.4 373.9,357.6 374.6,356.1 374.4,355.6 373.1,355.9 373.1,353.9 372.4,353.1 372.6,352.1 371.4,352.1 370.6,351.6 371.9,349.9 372.1,347.4 370.6,346.4Z" fill="#152f49"/>
<path d="M356.4,328.4 355.6,328.9 355.1,330.1 353.6,329.1 352.9,330.1 352.6,331.6 352.1,331.9 352.1,332.9 350.9,334.4 349.6,334.9 348.6,334.6 347.4,335.9 346.1,336.1 344.4,338.1 343.1,338.6 342.6,339.4 341.9,339.4 339.9,342.6 339.9,343.1 340.9,343.6 340.9,344.4 342.4,345.1 342.6,345.6 341.9,346.1 342.9,346.9 342.6,347.4 344.1,348.9 344.4,349.9 346.9,351.6 347.1,353.1 347.9,353.6 347.6,354.4 348.4,354.6 349.1,355.9 349.9,355.9 351.6,358.1 355.6,358.4 356.1,357.6 356.6,358.4 357.9,358.1 357.9,357.6 360.6,358.1 361.1,357.4 363.1,356.9 363.4,355.6 364.4,355.1 365.1,351.1 365.9,351.6 365.1,350.9 365.9,350.1 366.1,348.1 367.4,346.9 367.1,346.4 366.1,346.1 366.6,345.6 366.4,345.1 364.1,343.9 364.1,339.1 360.4,335.9 359.4,334.4 359.6,333.6 358.1,333.9 357.6,331.1 356.9,330.1 357.4,328.9Z" fill="#1a3956"/>
<path d="M335.9,361.4 334.6,362.4 333.9,361.9 330.4,362.4 329.1,363.9 327.4,363.6 327.9,364.1 327.1,365.1 326.6,364.9 326.9,364.4 326.4,364.6 327.4,365.4 327.6,366.1 327.1,367.4 329.1,369.9 329.6,372.1 330.6,373.4 330.6,374.4 331.9,375.1 331.9,377.1 331.4,377.6 330.9,380.1 330.1,380.9 330.6,383.4 331.1,383.4 330.9,385.6 331.4,386.4 331.4,387.6 332.1,388.6 333.9,389.6 333.6,391.4 334.9,391.9 336.1,393.1 336.9,396.1 337.9,396.9 338.4,398.1 342.6,395.9 345.6,392.4 346.4,392.4 348.1,389.1 347.6,384.6 348.4,384.1 348.1,383.1 348.9,382.4 347.4,381.4 347.6,380.9 346.4,380.1 345.9,378.9 343.6,376.6 342.6,376.4 341.6,375.4 341.9,374.6 340.9,374.4 339.9,373.4 339.9,372.6 340.4,372.4 339.6,371.6 340.6,370.1 340.1,369.4 341.9,367.9 341.6,366.9 342.6,365.6 341.9,364.9 342.1,364.6 341.6,364.1 341.9,364.6 341.4,365.1 341.1,364.4 339.9,363.9 338.4,361.6 337.6,361.4 337.1,361.9Z" fill="#2b5a83"/>
<path d="M346.9,391.4 346.6,392.4 345.6,392.6 342.6,396.1 340.6,396.9 338.1,398.9 337.9,401.1 338.6,402.1 338.1,403.6 339.9,405.9 339.9,408.1 340.6,408.9 340.1,412.9 340.6,413.1 341.4,412.6 342.4,414.1 344.9,408.6 344.6,406.9 346.4,405.9 346.4,403.9 348.1,402.4 349.9,398.9 349.1,396.9 350.1,396.4 350.4,395.6 349.1,393.4Z" fill="#2d5e87"/>
<path d="M348.9,401.1 348.4,402.4 346.6,403.9 346.6,405.9 344.9,406.9 345.1,408.6 344.6,410.1 344.1,410.4 344.1,411.4 342.1,414.6 342.9,417.4 343.9,417.4 345.6,418.9 346.4,418.9 348.1,417.4 347.4,416.6 347.4,415.1 350.1,412.1 350.1,409.1 351.1,407.4 351.1,406.1 350.6,405.6 350.9,404.4 350.4,403.4 348.9,402.4ZM349.9,404.4 350.4,404.1 350.6,404.6 350.1,404.9Z" fill="#346d9c"/>
<path d="M348.9,382.6 348.4,383.1 348.6,384.1 347.9,384.6 348.4,389.1 347.1,391.4 349.4,393.4 351.1,396.4 351.6,399.6 352.4,400.1 353.6,400.1 355.4,399.4 356.1,398.6 355.9,397.4 358.1,395.6 357.1,394.6 357.4,393.9 356.6,392.6 356.9,390.6 355.9,389.4 355.9,387.1 354.4,385.1 354.4,384.1 353.9,383.6 354.1,382.6 351.4,383.4Z" fill="#22486a"/>
<path d="M362.1,396.9 359.9,396.9 359.4,395.6 358.4,395.4 357.6,396.6 356.1,397.4 356.4,398.6 355.4,399.6 353.6,400.4 351.9,400.1 351.4,401.9 352.1,402.1 352.1,404.4 353.1,406.4 352.9,408.6 351.9,408.6 351.1,409.6 351.4,410.6 352.6,411.4 351.1,412.1 351.9,413.9 353.4,413.9 353.9,414.4 354.9,414.1 355.1,410.4 356.6,409.9 357.4,408.6 358.9,409.4 359.6,408.4 359.9,404.6 359.4,402.9 360.9,401.4 360.4,399.1Z" fill="#244d70"/>
<path d="M350.6,396.1 349.4,396.9 350.1,398.9 349.9,399.9 348.9,400.9 349.1,402.4 350.4,403.1 351.1,404.4 350.9,405.6 351.4,406.1 351.4,407.4 350.4,409.1 350.1,411.6 350.9,412.4 351.4,411.6 352.4,411.4 351.1,410.6 350.9,409.6 351.9,408.4 352.6,408.6 352.9,406.4 351.9,404.4 351.9,402.1 351.1,401.9 351.6,399.9Z" fill="#254e73"/>
<path d="M326.1,364.6 326.1,366.4 325.4,366.6 325.4,368.1 324.6,367.9 322.4,368.6 320.9,367.9 320.4,368.1 318.6,366.9 316.9,366.9 315.9,367.9 314.9,367.6 312.4,369.9 311.4,369.9 310.1,367.6 307.9,365.6 307.4,367.9 306.9,367.9 306.4,368.6 306.6,369.1 305.9,369.4 305.6,371.9 306.1,373.4 305.4,373.9 306.1,373.9 306.1,374.9 305.6,374.9 305.9,375.6 305.4,375.9 305.1,377.6 304.4,378.1 303.6,381.6 305.1,384.1 304.6,384.4 305.6,385.9 305.1,387.1 305.6,389.9 307.1,392.1 306.4,394.4 306.6,395.4 308.6,396.4 310.1,398.6 311.6,399.4 311.6,401.1 313.6,401.6 312.9,402.6 313.1,403.1 313.9,403.1 314.4,404.6 316.1,406.1 317.4,405.9 317.9,406.4 320.1,406.4 321.4,404.9 320.9,404.4 322.6,403.6 322.4,403.4 322.9,402.9 321.9,401.4 323.1,398.6 324.9,398.6 324.6,398.1 325.9,397.4 326.1,396.1 327.1,396.4 328.1,395.9 328.4,396.9 328.9,397.1 328.6,396.6 329.1,395.9 329.9,396.6 332.1,396.4 334.6,394.9 334.6,393.9 335.4,392.6 333.4,391.4 333.6,389.6 332.1,388.9 331.1,387.6 331.1,386.4 330.6,385.6 330.9,383.4 330.4,383.4 329.9,380.9 330.6,380.1 331.1,377.6 331.6,377.1 331.6,375.1 330.4,374.4 330.4,373.4 329.4,372.1 329.4,370.9 326.9,367.4 327.4,366.1 327.1,365.4Z" fill="#1c3c5a"/>
<path d="M285.9,354.4 284.9,355.4 282.9,356.1 282.1,357.1 281.4,357.1 278.4,360.4 279.6,361.4 278.1,361.9 277.6,362.6 277.6,364.1 278.4,365.9 276.6,367.6 276.6,369.6 277.1,370.9 278.6,372.1 280.1,372.4 283.9,369.6 285.4,370.1 287.6,367.6 289.4,368.9 289.9,370.1 290.9,369.6 291.4,369.9 290.9,370.4 291.1,372.6 290.1,376.1 291.9,378.1 292.6,381.4 293.1,381.9 293.6,381.4 294.1,381.6 293.9,381.9 294.6,381.4 297.6,383.6 299.1,382.9 299.9,383.1 301.6,380.9 302.4,380.9 303.9,379.9 304.1,378.1 304.9,377.6 305.1,375.9 305.6,375.6 305.4,374.9 305.9,374.9 305.9,373.9 305.1,373.9 305.9,373.4 305.4,371.9 305.6,369.4 306.4,369.1 306.1,368.6 306.9,367.6 307.1,367.9 307.1,366.6 307.9,365.1 307.6,365.4 306.9,364.9 305.9,363.1 305.1,363.6 302.1,361.1 302.1,360.1 301.4,359.1 301.4,357.6 300.4,356.6 300.1,356.9 297.4,355.9 296.6,356.1 295.6,357.6 292.9,357.9 291.4,357.1 291.6,356.1 291.1,355.4Z" fill="#193753"/>
<path d="M258.9,378.9 258.4,379.1 258.1,380.4 259.9,387.1 260.6,387.6 261.6,386.4 259.9,378.9 259.6,379.4ZM291.1,369.9 289.9,370.4 289.1,368.9 287.4,367.9 285.4,370.4 283.9,369.9 280.1,372.6 279.1,372.6 276.9,371.1 274.6,372.6 274.1,371.9 270.4,372.6 269.9,373.4 267.9,373.1 266.9,374.1 263.4,374.6 262.9,375.1 262.9,377.4 262.1,378.1 263.4,380.6 264.6,386.9 270.4,386.4 271.1,386.9 274.1,386.6 274.6,387.1 276.6,387.1 277.4,386.6 278.6,386.9 279.9,388.1 281.1,387.1 282.6,387.6 282.9,388.1 283.6,387.9 284.4,389.4 287.4,389.1 288.4,387.1 290.6,386.4 291.6,385.4 292.9,382.4 292.4,380.4 291.9,380.1 291.6,378.1 289.9,376.1 290.6,374.4 290.6,370.4Z" fill="#1b3a58"/>
<path d="M284.9,389.6 285.6,390.6 285.1,392.6 285.9,393.1 285.6,394.1 286.4,394.9 286.1,395.6 287.6,397.1 288.1,398.4 287.9,398.9 287.4,398.6 286.9,399.1 287.1,400.6 288.1,401.4 288.6,400.9 289.4,401.4 289.4,402.4 290.1,402.9 290.1,404.1 291.6,404.1 292.4,404.6 294.1,404.6 295.9,403.9 297.1,404.1 298.4,403.4 299.4,401.9 300.6,402.1 300.4,401.6 301.1,400.9 303.4,401.9 303.1,402.6 303.9,403.9 306.6,404.6 308.9,407.6 310.9,407.6 311.6,409.6 312.1,409.4 311.9,408.6 312.4,407.4 314.1,406.1 315.4,405.9 314.1,404.6 314.1,403.1 313.1,403.4 312.6,402.6 313.4,401.6 311.6,401.4 311.1,400.4 311.4,399.4 310.1,398.9 308.6,396.6 306.4,395.4 306.1,394.4 306.9,392.1 305.4,389.9 305.4,388.4 304.9,387.6 305.4,385.9 304.4,384.4 304.9,384.1 303.4,381.6 303.6,380.4 301.6,381.1 300.6,382.4 300.9,382.6 299.9,383.4 299.1,383.1 298.1,383.9 295.6,382.1 293.6,381.6 291.9,384.6 291.9,385.4 290.6,386.6 288.4,387.4 287.4,389.4Z" fill="#152f49"/>
<path d="M264.6,387.1 265.4,389.9 265.1,397.6 268.1,401.4 267.6,403.6 267.6,409.1 269.9,412.6 268.9,417.4 270.1,418.4 270.9,417.9 271.6,418.1 273.4,420.6 275.9,420.4 276.9,421.4 276.6,423.1 277.4,423.9 280.6,423.6 280.9,424.9 282.6,425.6 284.6,423.4 286.4,423.1 286.6,422.1 287.9,421.1 288.1,417.6 285.9,415.6 286.1,413.6 285.1,412.4 285.1,410.4 286.4,409.1 285.1,408.4 285.4,407.9 284.9,406.9 285.6,405.6 285.4,405.1 286.1,404.6 285.6,402.4 286.1,400.9 286.9,400.4 286.6,399.1 287.4,398.4 287.9,398.6 287.4,397.1 286.1,396.1 286.1,394.9 285.4,394.1 285.6,393.1 284.9,392.6 285.4,390.6 283.6,388.9 283.6,388.1 282.9,388.4 281.4,387.4 279.9,388.4 278.6,387.1 277.4,386.9 276.1,387.4 274.6,387.4 274.1,386.9 271.1,387.1 270.4,386.6ZM261.6,386.6 260.6,387.9 260.1,387.9 261.9,395.4 261.6,397.6 255.9,396.9 253.6,387.6 253.6,388.4 252.1,389.4 254.1,398.4 256.1,398.6 256.6,399.1 256.6,402.4 250.9,402.6 250.9,409.1 257.6,409.1 257.9,405.1 264.1,405.1 264.1,398.4 263.4,398.1 263.4,393.6ZM252.4,404.4 255.9,404.1 256.1,407.4 252.6,407.6ZM258.1,400.1 262.4,399.9 262.6,403.4 258.4,403.6Z" fill="#1b3a58"/>
<path d="M337.9,403.1 337.1,403.9 335.6,403.6 333.1,405.6 334.1,407.9 336.4,409.6 336.1,412.9 336.9,413.9 338.1,414.1 339.4,415.4 339.4,413.4 339.9,412.9 340.4,408.9 339.6,408.1 339.6,405.9Z" fill="#152f49"/>
<path d="M369.6,386.6 368.9,387.4 368.4,390.6 367.9,391.1 368.1,391.9 365.1,395.4 364.4,394.9 363.1,394.9 363.6,395.1 362.4,396.4 361.4,396.1 361.1,396.6 362.1,396.6 362.4,397.1 360.6,399.1 361.1,401.4 359.6,402.9 360.1,407.1 359.4,409.4 360.6,410.1 361.4,411.6 363.9,414.4 364.6,414.4 364.9,415.4 366.9,416.6 367.6,419.4 367.4,419.9 368.1,420.4 368.1,421.6 369.4,421.6 370.6,422.6 371.6,422.6 372.1,423.4 373.9,423.4 374.4,422.1 374.1,420.9 375.4,418.9 378.9,417.1 380.1,417.1 379.6,416.6 381.6,415.1 381.9,414.4 383.1,413.4 384.9,412.9 386.1,411.9 386.4,410.9 387.4,410.6 388.4,409.1 389.9,408.4 391.6,405.1 392.4,404.6 391.9,403.6 392.1,402.1 391.6,401.6 392.4,399.9 391.4,398.1 389.4,396.6 388.4,397.1 388.1,396.6 387.4,396.6 386.6,395.9 386.9,395.6 384.9,394.9 383.6,393.1 380.1,390.6 379.4,389.4 377.6,388.9 376.6,389.6 376.4,388.6 372.9,390.6 371.4,388.9 371.6,387.9 370.6,387.1 370.9,386.9Z" fill="#152f49"/>
<path d="M382.9,372.1 381.4,373.4 380.6,375.6 379.1,376.4 377.1,379.1 375.4,379.1 374.1,380.4 373.9,381.4 371.6,383.4 371.1,384.6 371.4,385.1 369.9,386.4 371.1,386.9 370.9,387.1 371.9,387.9 371.6,388.9 372.9,390.4 376.4,388.4 376.9,388.9 376.6,389.4 377.6,388.6 379.4,389.1 380.1,390.4 383.6,392.9 384.9,394.6 386.9,395.4 387.4,396.4 388.1,396.4 388.4,396.9 389.4,396.4 391.6,398.1 392.4,399.6 393.1,399.1 395.1,399.9 394.9,398.9 393.9,398.6 393.4,397.6 394.1,397.4 393.9,396.6 394.6,395.4 394.6,394.1 395.4,393.4 395.4,392.1 395.9,391.9 395.9,390.4 396.4,389.6 395.9,386.4 396.6,385.4 396.1,385.1 396.4,383.6 395.6,379.9 393.6,378.4 393.6,377.6 392.4,376.9 391.1,374.6 386.9,372.9 385.4,372.9 384.4,373.6 383.9,372.6Z" fill="#152f49"/>
<path d="M322.9,183.4 310.1,194.1 309.4,199.9 308.6,201.1 302.4,203.6 298.6,210.1 296.4,216.1 296.9,216.9 296.6,217.1 296.9,216.9 297.6,218.1 297.4,218.9 297.9,220.4 299.6,220.6 300.9,219.9 302.9,220.6 304.9,219.9 307.1,219.9 307.4,220.4 309.4,219.6 314.1,219.6 315.1,218.9 316.4,219.6 317.9,219.6 318.4,220.4 319.6,220.9 320.4,220.4 321.1,221.1 322.6,220.4 323.4,221.1 325.6,218.9 325.1,218.4 325.9,217.4 325.9,216.1 325.4,214.6 324.9,214.4 325.1,213.1 326.1,212.4 326.4,212.6 327.6,211.4 331.4,210.9 331.1,209.4 329.1,206.4 331.6,203.9 331.4,202.4 330.6,201.9 330.4,200.6 329.6,200.1 329.4,200.4 328.9,199.4 328.6,197.6 329.1,196.9 328.1,193.9 328.6,192.9 326.9,192.1 325.6,192.4 325.4,190.4 323.4,189.1 323.1,188.1 323.9,187.6 324.1,186.1 323.4,185.4Z" fill="#152f49"/>
<path d="M380.4,184.4 379.9,183.9 379.9,180.6 379.1,180.1 379.4,179.1 362.6,180.1 359.4,181.9 351.1,179.6 331.4,180.1 323.1,183.1 323.6,185.4 324.4,186.1 324.4,187.1 323.4,188.6 325.6,190.4 325.6,192.1 326.9,191.9 328.9,192.9 328.4,193.9 329.4,196.9 328.9,197.6 329.4,199.6 329.1,200.4 329.6,199.9 330.6,200.6 330.9,201.9 331.6,202.4 331.6,203.6 333.6,203.6 333.4,203.4 334.1,202.9 335.4,203.1 336.6,201.6 336.6,200.6 337.4,200.9 337.9,199.9 339.1,199.9 340.1,201.4 340.6,203.6 341.9,204.4 342.1,206.6 343.1,206.4 344.4,207.1 345.9,207.1 346.4,206.6 347.4,207.1 348.1,206.6 349.4,207.4 351.1,207.4 352.4,206.4 354.4,205.9 354.4,204.9 356.1,203.6 356.9,201.6 358.4,201.1 359.9,199.4 359.6,199.1 360.6,196.4 361.4,195.6 362.6,195.6 363.6,194.9 363.6,194.4 362.6,193.6 362.6,192.6 363.4,191.9 365.6,191.1 365.9,189.6 367.1,187.6 368.9,187.9 371.4,187.4 371.9,187.9 374.6,187.6 375.9,188.1 379.6,186.1Z" fill="#152f49"/>
<path d="M353.9,206.1 351.1,207.6 349.4,207.6 348.1,206.9 347.4,207.4 346.6,206.9 345.9,207.4 344.4,207.4 343.1,206.6 342.1,206.9 341.6,206.4 341.6,204.4 340.4,203.6 339.1,200.1 337.9,200.1 337.4,201.1 336.6,200.9 336.9,201.6 335.4,203.4 334.1,203.1 331.9,203.9 329.4,206.4 329.9,207.6 331.1,208.9 331.6,210.9 327.6,211.6 326.4,212.9 326.1,212.6 325.4,213.1 325.1,214.4 325.6,214.6 326.1,217.4 325.4,218.4 325.9,218.9 324.4,220.1 324.1,220.9 325.1,223.6 325.1,226.9 326.4,227.9 327.4,227.9 327.9,228.4 327.9,229.4 328.4,229.1 328.9,229.6 328.6,230.9 326.1,232.4 326.1,233.1 323.9,235.4 324.4,236.1 324.4,237.6 324.9,237.6 325.1,238.6 324.9,240.4 325.4,240.9 324.9,241.4 324.9,245.1 325.6,245.9 326.6,245.4 328.4,246.9 329.1,246.4 332.6,246.6 332.9,246.1 334.6,245.9 335.9,246.6 336.1,246.1 338.4,245.4 339.1,244.1 340.6,243.9 340.6,241.4 340.1,240.4 340.6,238.4 341.1,238.4 340.6,236.6 341.1,233.9 343.4,231.1 343.6,229.9 344.1,230.4 343.9,230.1 345.6,228.9 345.4,227.9 346.1,227.1 345.9,226.4 346.4,225.9 346.9,226.4 347.4,226.1 347.1,225.6 348.1,222.6 349.4,221.6 350.1,219.6 351.6,218.9 352.4,217.6 352.1,216.9 352.6,215.9 354.1,214.4 353.9,212.4 355.4,210.9 355.1,209.9 353.9,208.9Z" fill="#1c3d5c"/>
<path d="M315.6,219.4 314.9,220.4 315.4,220.9 314.9,222.1 315.6,222.9 315.4,225.9 316.9,227.9 315.4,229.6 316.1,230.6 316.1,231.6 317.1,232.9 318.1,232.6 318.6,233.4 319.4,233.4 321.9,235.4 323.4,235.6 324.1,236.4 323.6,235.4 325.9,233.1 326.1,232.1 328.4,230.9 328.6,229.6 327.6,229.4 327.4,228.1 326.4,228.1 324.9,226.9 324.9,223.6 323.9,221.1 323.4,221.4 322.6,220.6 321.1,221.4 320.4,220.6 319.6,221.1 318.4,220.6 317.9,219.9 316.4,219.9Z" fill="#1b3a58"/>
<path d="M315.1,219.1 314.1,219.9 311.6,219.6 308.1,220.1 307.4,220.6 309.1,222.4 307.9,223.9 307.9,224.6 310.1,226.1 310.6,228.1 310.1,228.6 309.9,228.4 310.1,230.9 309.1,231.6 308.9,233.1 307.6,234.9 308.6,236.4 308.4,237.9 307.6,238.4 307.9,242.9 307.1,243.9 307.4,244.6 308.1,244.1 308.6,244.4 308.6,245.6 307.9,246.4 306.9,249.1 307.9,249.9 308.9,253.4 310.1,253.4 309.9,254.9 311.1,255.6 310.6,256.1 311.1,255.6 311.9,256.4 312.9,256.1 313.4,256.6 314.1,256.1 312.4,254.4 312.9,253.9 314.4,254.4 313.6,252.6 315.1,251.4 315.1,250.4 314.1,248.4 314.6,247.4 316.1,246.9 318.6,244.6 319.6,245.4 321.4,245.6 321.1,245.4 321.6,245.1 321.9,245.6 321.9,244.9 323.1,245.4 323.9,243.6 324.6,243.6 324.6,241.4 325.1,240.9 324.6,240.4 324.9,238.6 324.6,237.6 324.1,237.6 324.1,236.6 323.4,235.9 321.9,235.6 319.4,233.6 318.6,233.6 318.1,232.9 317.1,233.1 315.9,231.6 315.9,230.6 315.1,229.6 316.6,227.9 315.1,225.9 315.4,222.9 314.6,222.1 315.1,221.4 314.6,220.4 315.4,219.6Z" fill="#214668"/>
<path d="M354.6,214.1 352.9,215.9 352.4,216.9 352.6,217.6 351.9,218.9 350.4,219.6 350.1,220.9 348.4,222.6 347.4,225.6 347.6,226.1 347.1,226.6 346.4,226.1 346.1,226.4 346.4,227.1 345.6,227.9 345.9,228.9 343.9,230.4 343.6,230.1 343.6,231.1 341.4,233.9 340.9,235.9 341.4,238.4 340.9,238.4 340.4,240.4 340.9,241.4 340.6,243.4 344.1,244.9 345.1,245.9 344.9,248.1 346.6,250.1 346.4,251.1 347.1,251.9 346.9,253.6 347.6,254.1 347.6,255.6 350.1,256.4 351.9,255.4 354.1,255.6 354.9,256.4 356.6,256.4 356.1,257.6 356.1,260.6 357.4,261.9 356.9,264.1 358.6,265.1 359.1,266.1 360.9,266.4 361.6,265.4 363.1,265.4 363.1,264.6 363.9,264.1 363.6,263.1 364.4,261.6 363.9,259.4 363.1,259.4 362.9,258.6 363.1,257.6 364.4,257.1 363.9,255.4 364.6,254.9 363.4,253.9 364.9,251.9 362.9,249.9 362.1,249.9 362.1,248.4 361.1,246.1 361.6,245.4 361.9,241.4 363.1,240.4 363.9,238.4 363.4,236.9 364.6,235.6 367.4,234.6 367.1,233.4 366.1,232.9 366.9,232.6 367.1,231.4 368.1,231.1 367.4,230.1 367.9,228.4 367.4,228.1 367.4,227.1 367.9,226.4 366.6,225.6 365.1,223.1 365.4,221.6 364.6,219.6 363.6,218.9 363.6,217.9 362.9,217.6 362.4,216.6 361.6,216.6 358.9,218.6 358.1,218.1 356.9,218.4 355.4,216.6 355.6,215.9 355.1,215.4 355.1,214.4Z" fill="#152f49"/>
<path d="M328.1,246.6 326.6,245.6 325.6,246.1 324.6,245.1 324.9,243.6 324.1,243.6 323.9,244.9 323.1,245.6 321.9,245.1 321.1,245.9 319.6,245.6 318.6,244.9 316.1,247.1 314.9,247.4 314.4,248.4 315.4,250.4 315.4,251.4 313.9,252.6 314.6,254.4 316.1,254.6 318.1,253.1 318.9,253.1 321.1,255.9 322.4,255.6 323.6,253.4 324.9,252.6 324.6,251.4 325.4,251.1 325.4,249.9 326.4,249.6 326.6,248.6 325.9,248.1 326.9,248.1Z" fill="#346d9c"/>
<path d="M340.9,243.9 339.1,244.4 338.4,245.6 336.1,246.4 335.9,246.9 334.6,246.1 332.9,246.4 332.6,246.9 329.1,246.6 327.9,247.1 326.9,248.4 326.1,248.1 326.9,248.6 326.6,249.6 325.6,249.9 325.6,251.1 324.9,251.4 325.1,252.6 323.9,253.4 322.9,254.9 322.9,255.6 324.1,256.1 324.1,257.9 323.6,258.6 324.4,259.6 323.9,260.9 324.9,260.6 325.6,261.1 326.1,260.6 327.1,261.4 327.4,263.6 328.9,266.6 329.4,266.6 330.6,264.9 332.9,265.9 334.4,267.4 337.4,269.1 337.4,269.9 338.6,271.6 338.6,272.6 339.6,271.9 341.1,272.1 342.6,270.4 343.1,270.4 343.9,268.9 343.6,267.4 344.4,266.1 345.1,266.1 344.4,265.4 344.4,264.6 346.4,262.4 346.4,259.1 347.9,257.1 349.6,256.4 348.4,256.4 347.4,255.6 347.4,254.1 346.6,253.6 346.9,251.9 346.1,251.1 346.4,250.1 344.6,248.1 344.9,245.9 344.1,245.1Z" fill="#4894d1"/>
<path d="M331.1,265.1 329.9,265.9 329.1,267.4 328.4,267.4 330.4,270.4 330.4,271.1 329.4,271.4 329.9,272.9 329.6,273.9 330.1,274.4 328.4,275.4 328.9,276.1 328.1,277.1 328.4,279.6 329.6,279.6 330.1,281.4 330.9,280.9 332.9,281.1 334.6,278.1 335.9,277.1 336.9,277.1 337.4,276.4 337.4,275.1 338.9,272.9 338.4,272.6 338.4,271.6 337.1,269.9 337.1,269.1Z" fill="#2b5a83"/>
<path d="M307.1,220.1 304.9,220.1 302.9,220.9 300.9,220.1 299.6,220.9 298.4,220.9 297.6,220.4 296.9,217.1 296.1,216.9 295.1,217.9 283.4,220.9 283.1,237.1 282.4,241.6 281.9,242.1 282.6,242.1 284.1,243.4 284.1,246.6 285.1,247.9 285.1,249.9 286.4,251.4 286.6,253.1 288.4,252.9 289.6,251.9 292.9,252.4 293.9,251.9 295.1,252.1 296.1,250.6 296.6,250.9 297.9,250.1 299.1,250.6 300.1,250.4 301.6,251.6 302.4,251.6 302.9,250.6 306.4,250.6 306.9,249.6 306.6,248.4 308.4,245.6 308.4,244.4 307.4,244.9 306.9,243.9 307.6,242.9 307.4,238.4 308.1,237.9 308.4,236.4 307.4,234.9 308.6,233.1 308.9,231.6 309.9,230.9 309.6,229.1 310.4,228.1 309.9,226.1 307.6,224.6 307.6,223.9 308.9,222.4 307.4,221.1Z" fill="#346d9c"/>
<path d="M271.9,241.1 272.1,242.1 270.9,244.4 271.9,245.9 272.1,247.4 271.9,250.6 272.6,252.6 272.1,254.4 272.9,256.1 272.4,257.1 273.4,257.9 272.9,259.9 273.1,260.9 272.4,261.6 272.6,263.9 273.1,264.1 275.1,268.6 277.4,267.1 277.4,265.6 278.4,265.1 279.1,263.6 280.6,263.6 283.1,261.9 283.9,261.9 284.1,261.1 286.6,262.1 288.1,261.6 288.1,258.4 287.6,256.9 286.4,255.4 286.4,252.1 285.1,250.6 284.9,247.9 283.9,246.6 283.6,244.4 284.1,243.6 282.6,242.4 278.9,242.1 277.4,242.9 274.6,241.1Z" fill="#346d9c"/>
<path d="M301.1,250.6 300.9,251.1 300.1,250.6 299.1,250.9 297.9,250.4 296.6,251.1 296.1,250.9 295.1,252.4 293.9,252.1 292.9,252.6 289.6,252.1 288.4,253.1 286.6,253.4 286.6,255.4 287.9,256.9 288.4,258.4 288.4,261.9 290.1,262.4 293.4,261.1 294.9,259.4 294.9,257.9 295.6,257.4 297.4,257.4 298.9,254.9 300.1,254.4 300.1,253.4 300.6,252.6 300.9,252.9 300.6,251.9 301.1,251.6Z" fill="#29577e"/>
<path d="M307.6,249.9 307.1,249.6 305.9,251.1 302.9,250.9 302.4,251.9 300.9,251.9 301.1,252.9 300.6,252.9 300.4,254.4 299.1,254.9 298.4,256.6 297.4,257.6 295.1,257.9 295.1,259.4 293.4,261.4 292.1,261.6 292.9,262.4 292.6,263.1 293.6,263.6 293.9,264.4 294.9,264.1 295.4,264.6 294.6,264.9 295.1,265.6 299.1,265.9 299.1,266.9 300.4,266.6 300.9,267.9 302.1,267.4 302.9,268.4 302.6,267.9 303.9,266.6 305.4,266.6 305.9,265.6 307.1,264.9 307.4,264.1 305.9,263.6 305.1,262.9 304.9,261.6 306.6,260.6 306.4,260.4 308.4,257.6 308.4,256.9 309.6,256.1 310.1,256.4 310.9,255.6 309.6,254.9 309.9,253.4 308.6,253.4Z" fill="#326997"/>
<path d="M288.4,262.1 287.6,261.9 286.6,262.4 284.1,261.4 283.9,262.1 283.1,262.1 282.1,263.1 280.6,263.9 279.1,263.9 278.6,265.1 277.6,265.6 277.6,267.1 275.1,268.9 276.1,271.1 275.9,272.1 276.6,272.9 278.4,272.6 278.6,271.9 280.1,272.1 282.1,271.6 283.4,272.4 285.1,272.4 285.9,271.4 287.4,270.9 287.6,270.4 286.1,266.4 287.1,265.4 287.4,263.9Z" fill="#346d9c"/>
<path d="M291.9,261.9 290.1,262.6 288.6,262.4 287.6,263.9 287.4,265.4 286.4,266.4 287.9,271.4 289.4,271.4 290.1,270.6 291.1,271.6 291.9,270.9 292.9,270.9 293.4,269.9 293.6,270.1 294.6,269.4 294.6,268.9 293.9,268.9 293.4,268.1 294.1,267.1 295.1,266.9 294.4,264.9 295.1,264.6 293.9,264.6 293.6,263.9 292.4,263.1 292.6,262.4Z" fill="#254e73"/>
<path d="M285.4,272.1 285.4,273.6 286.6,273.6 288.4,275.1 288.4,276.1 290.1,277.1 291.6,277.1 292.1,273.9 290.1,270.9 289.4,271.6 287.9,271.6 287.1,271.1Z" fill="#346d9c"/>
<path d="M295.1,269.4 293.6,270.4 293.4,270.1 292.9,271.1 291.9,271.1 290.9,272.1 292.4,273.9 292.4,275.6 291.4,277.6 291.6,278.1 292.4,278.1 293.1,279.4 295.4,279.1 296.6,277.6 297.4,277.4 297.9,276.4 298.6,276.1 298.9,272.4 297.6,271.1 296.4,271.1Z" fill="#4ea1e1"/>
<path d="M285.1,272.6 283.4,272.6 282.6,271.9 280.1,272.4 278.6,272.1 278.4,272.9 276.9,273.1 276.9,276.1 277.9,276.4 279.4,278.1 280.4,276.9 281.4,277.6 282.1,277.4 283.1,277.9 283.1,277.4 284.9,276.1 284.9,274.1 284.4,273.6Z" fill="#2b5a83"/>
<path d="M283.1,278.1 282.1,277.6 281.4,277.9 280.4,277.1 279.4,278.4 277.9,277.1 277.9,276.6 276.6,276.1 276.4,274.9 276.9,274.6 276.9,272.9 276.6,273.1 275.6,272.1 275.9,271.1 275.4,269.9 275.1,270.4 273.1,269.9 267.6,269.9 258.1,274.1 254.9,276.4 254.6,281.6 257.9,283.9 257.9,288.6 258.6,292.1 260.1,291.6 261.4,292.1 262.4,291.9 263.4,290.9 264.9,290.9 265.6,291.4 265.6,285.6 267.4,285.6 270.9,282.9 275.6,280.4 276.1,280.6 276.9,284.9 277.9,284.9 277.9,284.4 279.1,283.9 280.4,282.1 281.4,282.1 281.1,281.9 281.9,281.6 281.9,280.9 282.6,281.4 283.4,279.9 282.9,279.4ZM279.9,277.9 280.6,277.6 280.9,278.1 280.1,278.4ZM252.6,268.9 250.9,268.1 250.4,269.4 245.6,268.9 244.1,269.4 244.1,270.6 252.1,270.9Z" fill="#275277"/>
<path d="M285.1,272.9 284.6,273.6 285.1,274.1 285.1,276.1 283.4,277.4 283.1,279.4 283.6,279.9 283.1,280.9 283.6,281.4 284.6,281.4 285.9,279.9 289.9,278.9 291.1,277.6 287.9,275.9 288.1,275.1 286.6,273.9 285.4,273.9Z" fill="#2e608a"/>
<path d="M294.6,279.6 293.1,279.6 292.4,278.4 290.9,277.9 289.9,279.1 285.9,280.1 285.4,280.9 285.6,281.9 287.1,283.4 286.6,285.4 288.9,286.4 290.6,286.4 291.6,285.4 295.1,284.4 295.4,283.1 294.4,280.4ZM293.4,281.9 293.9,281.4 294.4,281.6 293.9,282.4Z" fill="#346d9c"/>
<path d="M285.4,281.1 284.6,281.6 283.6,281.6 283.4,281.1 282.6,281.6 281.9,281.1 282.1,281.6 280.4,282.4 279.1,284.1 278.1,284.4 277.9,285.1 276.9,285.1 277.6,288.6 280.9,292.4 281.9,292.4 282.4,293.4 283.4,292.1 284.1,292.1 284.1,290.1 284.9,290.4 285.1,289.9 286.4,289.6 286.4,287.9 286.9,286.4 287.6,285.9 286.4,285.4 286.9,283.4 285.4,281.9Z" fill="#2b5a83"/>
<path d="M297.9,284.4 296.4,284.1 292.6,285.6 291.6,285.6 290.6,286.6 288.9,286.6 288.4,286.1 287.1,286.4 286.6,289.6 285.1,290.1 284.9,290.6 284.1,290.4 284.4,292.1 283.4,292.4 282.9,293.9 283.9,294.6 284.6,294.4 285.6,295.6 287.1,295.4 288.9,296.1 289.9,295.9 290.1,294.6 290.9,293.9 293.6,292.4 293.9,292.6 293.9,291.6 296.1,290.4 298.9,287.6Z" fill="#346d9c"/>
<path d="M300.1,287.6 299.1,287.6 296.1,290.6 294.1,291.6 293.9,292.9 293.6,292.6 290.4,294.6 289.9,296.4 290.9,297.6 290.6,298.1 291.6,298.6 291.9,299.4 292.1,298.6 293.4,299.1 294.6,298.6 296.9,298.6 297.9,297.6 298.4,295.4 298.1,294.4 297.1,293.6 299.1,293.6 300.4,290.1 301.1,289.6 300.1,288.6Z" fill="#244d70"/>
<path d="M300.9,289.9 299.4,293.6 297.4,293.6 298.4,294.4 298.6,295.4 297.9,297.9 298.6,298.6 298.4,299.6 299.9,299.9 300.1,299.4 302.1,299.1 302.9,299.9 305.6,300.1 306.4,297.4 305.9,296.9 305.9,295.4 304.4,294.6 304.4,290.4 303.6,290.6Z" fill="#2b5a83"/>
<path d="M305.6,279.6 305.1,279.9 302.9,278.1 301.6,277.9 301.1,278.4 302.1,280.1 300.9,281.4 299.9,281.4 298.1,284.1 298.1,285.4 299.1,287.4 300.4,287.1 301.1,286.4 300.6,285.6 301.4,284.9 301.4,284.1 302.6,283.4 302.6,282.1 304.1,280.9 305.9,280.4Z" fill="#244d70"/>
<path d="M293.6,268.1 293.9,268.6 294.6,268.6 296.6,270.6 296.4,270.9 297.6,270.9 299.9,272.6 302.1,272.1 303.1,270.6 302.4,267.9 300.9,268.1 300.4,266.9 298.9,266.9 299.1,266.1 295.1,265.9 295.4,266.9 294.1,267.4Z" fill="#4289c1"/>
<path d="M304.1,275.6 301.9,273.6 302.4,273.1 302.1,272.4 300.9,272.9 299.1,272.6 298.9,276.1 297.9,276.6 297.6,277.4 300.1,278.1 300.6,277.6 302.4,277.9 303.4,277.4Z" fill="#346d9c"/>
<path d="M301.1,278.1 300.6,277.9 300.1,278.4 299.4,277.9 297.1,277.6 295.4,279.4 294.9,279.4 294.6,280.4 295.6,283.1 295.4,284.4 296.4,283.9 297.9,284.1 299.9,281.1 300.9,281.1 301.9,280.1 301.1,279.4Z" fill="#2e608a"/>
<path d="M306.4,279.6 305.9,279.9 305.9,280.6 304.1,281.1 302.9,282.1 302.9,283.4 301.6,284.1 301.4,285.4 302.4,284.9 303.4,285.9 304.4,284.4 305.9,284.1 306.9,283.4 307.1,282.6 306.6,282.1 306.9,281.1Z" fill="#22496c"/>
<path d="M303.1,271.9 302.4,272.4 302.6,273.1 302.1,273.6 304.4,275.6 303.6,277.4 302.6,277.9 305.4,279.6 306.4,278.6 306.6,277.6 307.9,276.6 307.9,275.4 308.6,275.1 307.9,274.9 308.4,274.4 308.1,273.9 308.9,273.1 308.4,272.9 306.9,273.4 305.9,273.1 305.4,272.1 304.6,272.6Z" fill="#2e608a"/>
<path d="M303.9,266.9 302.9,267.9 303.1,268.4 302.6,268.4 303.4,270.6 302.4,272.1 303.1,271.6 304.6,272.4 305.4,271.9 305.9,272.9 306.9,273.1 308.6,272.6 308.9,269.1 307.9,268.4 307.6,266.9 305.9,266.4 305.4,266.9Z" fill="#2e608a"/>
<path d="M311.1,256.6 309.6,256.4 308.6,256.9 308.6,257.6 306.6,260.4 306.9,260.6 305.1,261.6 305.9,263.4 307.9,263.9 307.6,263.1 308.1,262.6 309.4,263.1 310.1,261.4 311.6,259.9 311.6,258.9 311.1,258.6 311.6,257.4Z" fill="#346d9c"/>
<path d="M308.1,262.9 308.1,263.9 305.9,266.1 307.4,266.4 308.4,268.1 308.1,268.4 309.1,269.1 310.1,269.1 311.4,267.6 311.6,267.9 311.9,266.4 311.1,264.9 310.1,264.6 310.1,263.9Z" fill="#2b5a83"/>
<path d="M311.4,260.4 309.4,263.4 310.1,263.6 310.4,264.6 311.1,264.6 312.1,265.9 313.1,264.6 313.4,264.9 313.6,263.1 312.1,261.4 312.6,260.9 312.1,261.1Z" fill="#1b3a58"/>
<path d="M312.6,265.6 311.9,266.1 311.9,267.4 310.4,269.4 311.9,269.6 313.4,270.9 314.6,271.1 315.6,269.9 315.4,268.1 315.9,267.6 314.9,267.4Z" fill="#1b3a58"/>
<path d="M309.1,269.4 309.1,273.1 308.6,273.4 308.6,274.4 308.1,274.9 309.6,274.9 310.6,274.1 311.9,274.4 312.6,275.4 313.6,274.9 315.9,275.1 314.9,274.4 314.4,271.4 313.4,271.1 311.9,269.9Z" fill="#214668"/>
<path d="M312.1,274.9 310.6,274.4 309.6,275.1 308.1,275.4 308.1,276.6 306.9,277.6 305.9,279.6 306.4,279.4 306.6,280.1 308.6,279.6 309.1,280.4 311.1,279.9 311.1,277.9 312.4,276.1Z" fill="#2f628c"/>
<path d="M307.1,280.1 306.9,282.1 307.4,282.9 306.6,283.6 306.6,284.4 309.1,285.4 311.6,285.6 312.1,283.1 311.1,280.4 309.1,280.6 308.6,279.9Z" fill="#346d9c"/>
<path d="M312.4,275.1 312.6,276.1 311.4,277.9 311.4,279.9 311.9,279.9 312.4,280.9 313.6,281.1 313.6,281.6 315.1,281.6 315.6,280.6 317.4,281.4 318.1,281.1 316.9,278.9 317.6,275.4 316.6,275.9 315.1,275.1 313.6,275.1 312.9,275.6Z" fill="#306591"/>
<path d="M320.4,273.6 319.1,274.4 318.4,274.1 317.4,274.9 317.9,275.4 317.9,276.6 317.1,278.9 317.9,279.9 317.6,280.4 317.9,280.1 318.9,281.6 318.9,282.9 319.4,283.1 321.6,282.6 321.1,281.4 322.6,279.6 322.1,278.4 322.6,276.6 321.4,276.6Z" fill="#3c7db2"/>
<path d="M321.1,274.9 321.6,276.6 322.9,276.6 322.4,277.9 322.6,278.9 326.9,279.4 328.1,278.9 327.9,277.1 328.6,275.6 327.4,274.6 325.6,274.6 324.6,273.9 323.1,273.6Z" fill="#4690cb"/>
<path d="M327.6,267.9 326.9,268.9 326.1,268.9 326.6,269.4 326.6,270.6 325.9,271.6 325.9,273.9 325.4,274.1 326.9,274.1 328.6,275.1 329.1,274.4 329.9,274.4 329.4,273.9 329.6,272.9 329.1,271.4 330.1,271.1 330.1,270.4 329.1,268.4Z" fill="#346d9c"/>
<path d="M319.6,269.6 320.9,274.6 322.9,273.9 323.1,273.4 325.6,273.9 325.6,271.6 326.4,270.6 326.4,269.4 325.9,268.9 324.6,269.6 322.4,269.6 321.9,268.9Z" fill="#2b5a83"/>
<path d="M315.6,268.9 315.9,269.9 314.6,271.4 315.1,274.4 316.6,275.6 317.9,274.1 319.1,274.1 320.1,273.4 320.1,271.9 319.4,269.9Z" fill="#29577e"/>
<path d="M318.1,263.9 318.6,264.9 318.4,265.4 315.4,267.1 316.1,267.6 315.6,268.4 316.6,269.1 319.4,269.6 320.9,268.9 320.6,266.1 319.1,263.9Z" fill="#2b5a83"/>
<path d="M319.4,263.6 320.9,266.1 321.1,268.6 321.9,268.6 322.4,269.4 324.6,269.4 325.6,268.6 326.9,268.6 326.1,267.6 325.4,267.6 321.4,263.1 320.6,263.6Z" fill="#2f628c"/>
<path d="M320.6,261.9 315.4,261.9 314.1,263.4 313.6,263.4 313.9,264.4 312.9,265.6 315.1,267.1 318.1,265.4 318.1,263.6 320.6,263.4Z" fill="#326997"/>
<path d="M310.9,256.1 311.9,257.4 311.4,258.4 311.9,258.9 311.6,260.4 312.9,260.9 312.4,261.4 313.4,262.9 314.1,262.9 315.4,261.6 316.6,261.9 317.4,261.4 319.4,261.9 319.4,259.9 318.6,259.4 318.1,257.9 314.9,256.1 313.9,256.4 313.6,256.9 312.9,256.4 311.9,256.6 311.1,255.9Z" fill="#29577e"/>
<path d="M320.4,256.4 320.4,255.6 318.9,253.4 318.1,253.4 316.1,254.9 313.6,254.6 313.1,254.1 312.6,254.4 314.1,255.9 315.6,256.1 318.6,258.1 319.1,256.9Z" fill="#2b5a83"/>
<path d="M320.4,255.4 320.6,256.4 319.4,256.9 318.6,258.4 318.9,259.4 319.6,259.9 319.6,261.9 320.4,261.4 321.1,262.9 322.1,262.6 321.9,261.1 323.6,260.9 324.1,259.6 323.4,258.6 323.9,257.9 323.9,256.1 322.6,255.6 321.1,256.1Z" fill="#3a78aa"/>
<path d="M322.1,261.1 322.4,262.6 321.6,263.1 322.1,264.1 325.4,267.4 326.1,267.4 326.9,268.1 328.4,267.1 329.1,267.1 327.4,264.4 327.1,261.9 326.6,261.1Z" fill="#22486a"/>
<path d="M310.9,280.1 311.4,280.4 312.4,283.1 311.9,286.1 318.1,286.1 318.9,285.1 320.1,284.9 319.9,283.6 318.6,282.9 318.4,281.4 317.4,281.6 315.6,280.9 315.6,281.4 314.6,281.9 312.4,281.1 311.9,280.1Z" fill="#152f49"/>
<path d="M309.4,285.6 307.4,284.6 306.9,284.9 306.1,283.9 305.9,284.4 304.4,284.6 303.4,286.1 302.4,285.1 301.6,285.6 301.1,285.4 300.9,285.6 301.4,286.4 300.4,287.4 299.4,287.6 300.1,287.4 300.4,288.6 302.1,290.1 304.4,290.1 304.6,290.9 304.9,290.1 306.1,290.1 306.4,290.6 308.1,288.9 308.1,287.1Z" fill="#1f4364"/>
<path d="M311.1,285.6 309.6,285.6 308.9,286.1 308.4,287.1 308.6,288.4 306.9,290.6 307.4,291.1 309.1,291.1 309.6,291.6 311.1,290.6 311.9,287.9 311.1,287.1Z" fill="#265075"/>
<path d="M304.9,290.4 304.4,291.6 304.4,293.4 304.9,293.9 304.6,294.6 306.1,295.4 306.1,296.9 307.1,298.9 308.4,298.9 310.4,297.9 311.4,298.1 310.6,297.6 310.9,295.6 312.9,293.6 311.1,293.1 311.4,291.9 310.9,291.1 309.6,291.9 309.1,291.4 307.4,291.4 305.9,290.1 305.9,290.6Z" fill="#244d70"/>
<path d="M319.4,285.9 318.9,285.6 318.1,286.4 315.9,286.1 315.4,286.6 314.4,286.1 311.6,286.1 311.4,287.1 312.1,287.9 312.1,288.6 311.1,290.9 311.6,291.9 311.4,293.1 315.1,293.6 316.1,292.6 316.9,292.9 317.9,291.4 317.6,291.1 319.6,289.9 319.1,289.4Z" fill="#1c3d5c"/>
<path d="M319.9,283.4 320.4,284.6 322.6,284.6 323.4,285.1 324.1,284.4 326.1,284.4 326.6,285.4 328.4,285.9 328.4,283.1 329.9,281.4 329.6,279.9 328.9,279.9 328.1,279.1 327.4,279.6 322.9,279.1 321.4,281.4 321.6,281.9 321.1,282.4 321.4,282.1 321.9,282.6Z" fill="#22496c"/>
<path d="M318.9,285.4 319.6,285.9 319.4,289.4 320.4,289.9 320.4,290.9 321.1,291.6 324.4,292.1 325.6,293.9 327.1,293.9 327.4,293.1 328.4,293.1 329.4,292.1 329.6,291.1 327.9,288.9 328.4,287.1 327.9,286.1 325.9,284.9 326.1,284.6 324.1,284.6 323.4,285.4 322.6,284.9Z" fill="#2d5e87"/>
<path d="M319.9,289.9 317.9,291.1 318.1,291.4 317.1,292.9 317.1,293.4 318.1,294.1 317.6,295.6 317.9,299.1 318.9,300.1 321.4,300.1 321.4,299.6 323.4,298.1 323.1,297.6 324.6,295.9 325.4,295.9 325.1,295.4 325.6,294.1 324.4,292.4 321.1,291.9 320.1,290.9 320.4,290.4Z" fill="#2f628c"/>
<path d="M317.9,294.1 316.4,292.9 315.1,293.9 313.1,293.6 311.1,295.6 310.9,297.6 311.6,298.1 310.4,298.1 308.6,298.9 310.1,299.9 311.4,299.9 311.9,300.9 312.1,300.4 313.4,300.9 315.9,299.4 316.6,300.1 317.9,300.1 318.1,299.6 317.6,299.1 317.4,296.4Z" fill="#254e73"/>
<path d="M307.4,299.1 307.4,299.9 308.6,301.6 307.6,304.4 308.9,304.4 308.9,305.9 309.9,306.6 311.1,304.9 312.1,304.9 310.9,303.6 311.6,300.4 310.9,299.9 310.1,300.1 308.9,299.1Z" fill="#2d5e87"/>
<path d="M315.9,299.6 313.4,301.1 312.1,300.6 311.1,302.4 311.1,303.6 312.4,304.6 312.4,305.1 313.4,305.4 314.1,306.4 315.6,306.6 316.1,305.6 315.9,304.4 316.6,303.6 315.9,302.9 316.4,301.6 316.4,300.1Z" fill="#214668"/>
<path d="M316.6,300.4 316.6,301.6 316.1,302.4 316.9,303.4 316.1,304.4 316.4,305.6 320.6,305.9 321.9,305.4 322.6,301.6 321.6,300.4Z" fill="#2d5e87"/>
<path d="M330.1,294.9 328.4,293.4 327.4,293.4 327.1,294.1 325.9,294.1 325.4,295.4 325.6,295.9 324.6,296.1 323.4,297.6 323.6,298.1 321.6,299.6 322.6,301.4 324.1,301.4 326.4,302.1 326.1,301.1 327.1,300.9 327.6,300.1 328.9,300.9 329.4,298.6 330.4,297.1 329.9,295.9Z" fill="#2f628c"/>
<path d="M329.4,301.4 327.6,300.4 327.1,301.1 326.4,301.1 326.4,302.4 322.9,301.6 322.1,305.4 323.6,305.6 325.1,307.4 325.6,307.4 326.1,306.4 327.4,306.6 328.9,306.1 329.4,305.4 328.4,304.9 328.4,303.9 328.9,303.1 329.9,302.9Z" fill="#316794"/>
<path d="M352.4,577.9 350.1,575.4 349.1,574.9 348.4,573.4 346.9,573.4 345.9,572.4 344.6,572.9 343.6,572.4 343.6,570.9 342.4,569.9 340.4,570.6 337.9,570.6 337.4,569.9 335.1,570.6 334.6,569.6 332.9,568.9 331.4,567.4 330.4,567.4 329.6,565.9 327.1,565.6 326.1,566.4 322.9,566.4 322.4,567.1 320.1,567.9 319.6,569.6 319.1,569.6 318.1,571.1 317.6,573.9 316.9,574.4 315.6,577.6 314.6,578.6 313.4,581.1 314.6,582.9 314.1,584.4 314.6,584.6 314.6,585.6 315.1,586.1 314.9,587.1 315.4,587.6 315.1,588.6 315.6,589.6 314.4,591.4 314.4,592.9 314.9,593.4 314.4,595.4 314.9,595.9 313.4,596.9 313.1,598.4 314.1,598.9 315.9,601.6 317.4,601.1 319.1,599.1 328.9,594.4 329.9,593.4 330.1,593.9 329.6,594.9 330.1,594.4 330.4,592.6 331.4,591.9 332.1,592.1 332.1,591.4 333.1,590.1 332.9,589.6 334.9,588.4 335.9,587.1 335.9,585.1 335.4,583.9 337.4,582.4 339.1,579.6 342.1,579.6 342.4,578.9 343.9,579.1 345.4,578.1 347.6,578.6 349.4,577.9 349.6,578.6 348.6,579.4 348.9,581.1 350.6,582.9 350.9,582.6 351.6,583.1 351.6,584.1 352.9,584.6 351.1,579.1Z" fill="#152f49"/>
<path d="M321.1,631.4 320.6,631.1 320.4,632.6 316.9,633.6 315.1,633.6 314.4,632.4 314.1,635.1 309.6,636.1 309.4,636.6 310.4,637.6 312.1,637.6 315.9,636.6 316.1,635.1 320.6,634.6 321.1,633.6ZM303.6,622.6 305.1,624.1 306.9,624.4 307.6,627.1 307.6,629.1 306.6,629.4 307.4,631.1 307.6,630.6 309.9,630.4 313.6,630.6 313.1,629.4 313.4,627.4 319.9,626.6 320.4,628.4 320.6,628.1 319.9,626.4 320.1,625.6 319.6,625.1 316.1,625.1 311.6,625.9 311.6,628.6 309.4,628.9 309.1,625.4 308.4,622.6ZM314.1,615.9 314.1,623.9 318.9,624.1 318.9,622.6 316.4,622.6 315.6,622.1 315.6,617.6 318.4,617.4 317.6,615.9ZM301.1,570.4 299.4,571.4 297.1,574.4 297.1,575.6 295.1,577.4 296.1,579.9 296.6,580.1 296.6,581.1 297.4,581.9 297.1,583.6 297.6,583.6 298.9,585.1 298.9,587.4 299.6,587.9 299.6,588.6 300.9,590.6 300.6,592.6 301.6,594.1 301.1,596.1 301.6,596.6 302.4,600.4 301.1,601.6 302.1,602.1 301.4,602.4 301.4,603.1 302.4,603.9 301.6,603.9 301.9,604.1 301.4,604.6 301.1,607.1 300.1,609.1 300.1,611.1 300.9,611.6 300.9,613.6 302.9,616.4 302.6,617.4 303.1,617.9 302.1,618.6 302.6,619.4 302.4,619.6 302.9,619.9 304.6,618.9 309.1,617.6 312.6,612.6 313.9,603.6 314.6,602.4 315.9,601.9 314.1,599.1 312.9,598.4 313.1,596.9 314.6,595.9 314.1,595.4 314.6,594.4 314.1,591.4 315.4,589.6 314.9,588.6 315.1,587.6 314.6,587.1 314.9,586.1 314.4,585.6 314.4,584.6 313.9,584.4 314.4,582.9 313.1,581.1 317.4,573.6 315.1,574.1 313.1,573.4 312.9,573.9 311.9,573.9 310.6,575.1 310.1,574.6 309.1,574.6 308.9,573.9 306.4,572.4 306.4,571.9 304.9,572.4 304.1,571.6 303.1,571.6Z" fill="#152f49"/>
<path d="M305.6,668.1 307.1,669.6 308.1,669.1 308.1,668.1ZM296.6,644.1 296.6,649.4 297.4,651.1 298.6,652.4 299.6,655.1 304.1,655.1 305.9,653.6 307.6,653.4 307.6,647.9 306.6,643.4 300.4,643.4ZM304.9,644.9 306.1,649.6 306.1,651.6 304.1,652.1 302.4,653.6 300.9,653.6 298.9,649.9 298.1,647.6 298.1,645.9 302.1,644.9ZM294.6,577.4 293.9,577.9 293.6,580.9 292.4,582.1 288.6,583.9 287.1,583.6 286.4,584.1 284.9,584.1 284.9,584.9 283.6,585.6 283.9,586.4 283.4,586.9 284.1,588.4 282.4,590.4 283.6,592.1 283.1,593.4 284.1,593.9 283.6,594.9 283.9,596.4 283.4,597.1 283.4,599.6 283.9,599.9 284.1,600.9 282.6,603.6 282.9,605.6 282.4,607.1 283.9,610.9 283.6,612.6 284.4,614.6 284.4,616.6 283.6,617.6 283.6,619.9 284.4,621.1 285.9,620.1 289.1,620.1 293.4,616.6 293.9,616.9 294.9,618.9 288.9,620.6 288.4,620.9 288.1,623.4 287.6,622.6 285.4,622.6 285.1,623.9 286.4,624.6 289.1,628.9 289.6,631.9 290.6,632.9 291.4,635.4 291.4,630.4 292.6,630.4 292.6,634.4 294.1,637.6 299.6,637.6 303.4,636.6 303.4,631.9 305.1,631.4 305.9,631.6 305.9,635.4 306.6,637.6 310.1,637.6 309.4,637.1 309.4,636.1 308.4,636.1 307.9,635.4 307.4,631.4 306.6,629.6 301.1,630.1 301.9,632.9 301.9,634.9 297.9,636.1 295.9,636.1 294.1,632.6 294.1,630.9 295.4,630.4 300.6,629.9 299.1,627.4 299.1,626.1 294.4,628.6 292.6,628.6 289.9,624.1 290.1,622.4 295.6,620.6 297.4,620.6 299.1,624.1 304.9,624.1 303.4,622.6 300.9,622.6 300.1,621.4 300.4,620.9 302.4,620.1 301.9,618.6 302.9,617.9 302.4,617.4 302.4,615.9 300.6,613.6 300.6,611.6 299.9,611.1 299.9,609.1 300.9,607.1 301.1,604.6 301.6,603.6 302.1,603.9 301.1,603.1 301.1,602.4 301.9,602.1 300.9,601.6 302.1,600.4 302.1,599.6 301.4,598.1 301.4,596.6 300.9,596.1 301.4,594.1 300.4,592.6 300.6,590.6 299.4,588.6 299.4,587.9 298.6,587.4 298.6,585.1 296.9,583.6 297.1,581.9 296.4,581.1 296.4,580.1 295.9,579.9 295.1,577.6Z" fill="#152f49"/>
<path d="M299.9,570.6 298.9,570.1 297.1,570.1 295.1,571.1 294.4,569.6 293.1,569.1 290.4,570.9 287.4,569.6 285.6,570.9 284.9,570.9 283.4,569.6 282.4,569.6 281.4,570.6 279.9,570.1 279.1,570.6 278.1,570.4 276.9,570.9 274.9,569.6 273.1,569.4 271.1,570.4 269.4,575.1 268.9,575.4 269.1,576.9 268.4,577.1 268.1,578.6 265.1,581.4 264.6,582.4 262.4,582.4 261.4,580.9 260.4,581.9 256.9,581.9 255.6,583.6 254.6,583.9 254.6,584.4 257.1,586.1 259.6,586.6 260.4,588.1 263.9,589.6 264.9,590.6 267.9,591.4 269.1,592.9 270.1,592.9 270.9,593.9 273.6,594.1 275.4,592.6 277.9,592.4 279.9,591.1 281.6,591.6 281.6,590.9 283.9,588.4 283.1,586.9 283.6,586.4 283.4,585.6 284.6,584.9 284.6,584.1 285.1,583.6 288.6,583.6 292.4,581.9 293.6,580.1 293.6,577.9 295.6,576.9 295.9,576.1 296.9,575.6 296.9,574.4Z" fill="#152f49"/>
<path d="M245.1,672.1 245.1,676.9 248.1,678.1 249.1,677.6 251.6,677.9 251.6,672.1ZM246.6,673.9 249.9,673.6 250.1,676.9 246.9,677.1ZM301.6,670.1 303.6,669.1 305.6,668.9 305.9,668.4 301.6,668.1ZM297.4,651.4 298.4,654.1 299.4,655.1 298.4,652.4ZM264.1,647.6 264.1,653.1 265.1,656.6 274.1,656.6 275.6,654.6 275.9,655.9 278.1,656.6 283.4,656.6 284.1,651.6 284.1,645.9 278.4,645.9 275.9,642.6 270.9,642.6ZM277.6,647.4 282.6,647.6 282.1,653.9 281.6,655.1 279.9,655.1 277.4,654.1ZM274.1,644.1 276.9,647.6 276.6,649.6 272.4,655.1 266.9,655.1 265.6,651.4 265.6,649.4 272.1,644.4ZM245.1,583.4 242.6,587.6 242.6,599.1 245.4,602.6 246.6,603.4 247.9,603.1 250.1,604.4 252.1,604.6 257.9,608.6 260.9,614.1 261.6,621.1 264.1,627.4 265.9,636.6 270.9,636.6 276.9,630.4 278.4,635.1 282.6,638.4 288.1,638.4 291.6,637.6 291.6,635.4 291.1,635.4 289.9,632.4 289.9,636.1 286.4,636.9 284.4,636.9 279.9,633.4 278.1,627.6 278.4,625.6 285.4,624.1 284.9,623.9 285.1,622.6 283.1,622.4 284.4,621.4 283.4,619.9 283.4,617.6 284.1,616.6 284.1,614.6 283.4,612.6 283.6,610.9 282.1,607.1 282.6,605.6 282.4,603.6 283.9,600.9 283.6,599.9 283.1,599.6 283.1,597.1 283.6,596.4 283.4,594.9 283.9,593.9 282.9,593.4 283.4,592.4 283.1,591.6 281.9,590.9 282.1,591.4 281.6,591.9 279.9,591.4 278.6,592.4 275.4,592.9 273.6,594.4 270.9,594.1 270.1,593.1 269.1,593.1 267.9,591.6 264.9,590.9 263.9,589.9 260.4,588.4 259.6,586.9 255.6,585.6 254.4,584.4 254.4,583.6 255.1,582.9 254.4,583.4 252.9,582.4 250.4,581.9ZM207.6,580.1 207.6,585.4 209.1,588.1 211.6,588.6 209.1,583.6 209.1,581.9 215.9,578.1 217.4,578.1 220.1,582.6 220.1,584.1 218.4,587.4 219.1,587.4 221.1,591.6 221.1,593.4 222.6,594.4 222.6,589.9 221.1,586.6 221.6,585.9 221.6,580.9 219.1,576.6 214.1,576.6ZM217.6,565.4 217.6,570.6 218.4,574.1 222.1,575.1 223.9,575.1 226.4,579.9 227.6,580.4 225.1,580.9 225.1,586.6 225.9,590.9 229.1,592.4 229.1,595.9 229.6,596.1 229.4,596.6 229.1,596.4 231.1,597.1 230.6,595.4 230.9,593.1 232.9,593.1 236.6,594.1 236.6,600.1 237.4,600.6 238.4,600.4 238.4,592.6 235.9,591.9 238.4,589.1 238.4,584.1 237.6,583.1 237.6,578.1 235.9,576.6 235.9,573.1 234.6,569.6 232.1,568.6 230.4,569.4 228.6,568.4 228.6,569.1 227.4,571.1 230.6,569.9 232.4,569.9 234.4,574.9 234.4,576.6 230.4,578.4 233.9,577.9 236.1,579.9 236.1,581.4 234.9,582.9 236.9,585.9 236.9,587.4 233.4,591.1 231.6,591.1 227.4,589.1 226.6,584.9 226.9,582.4 229.6,582.1 229.1,580.9 229.1,578.9 229.9,578.6 228.4,578.6 225.6,573.6 223.9,573.6 219.9,572.4 219.1,566.9 221.4,565.6 219.6,565.1Z" fill="#152f49"/>
<path d="M245.1,572.1 245.9,574.1 248.1,574.4 248.6,578.6 251.6,579.4 251.4,582.1 252.9,582.1 254.6,583.1 254.6,583.6 255.6,583.4 256.9,581.6 260.4,581.6 261.4,580.6 261.6,580.9 262.4,579.6 262.1,577.6 261.1,576.9 261.4,575.9 260.1,575.4 260.4,573.9 259.9,573.1 259.6,573.6 258.4,573.4 258.4,572.9 256.6,573.6 255.1,573.4 255.4,574.4 253.9,575.6 253.4,576.6 253.6,577.4 252.1,577.6 250.1,576.9 249.4,572.9 249.9,572.1 249.1,572.9 248.4,572.6 247.9,573.4 246.9,572.9 246.9,572.1Z" fill="#244d70"/>
<path d="M132.6,654.1 132.6,659.4 134.4,662.9 139.9,663.1 141.1,662.6 141.1,657.6 139.1,653.6 133.9,653.6ZM134.4,655.6 135.6,655.1 137.6,655.4 139.6,659.4 139.4,661.1 138.1,661.6 136.4,661.6 134.1,657.6ZM217.6,630.9 217.6,636.1 218.4,638.4 223.4,639.1 229.1,639.1 229.1,631.6 223.6,630.9ZM219.1,632.6 221.9,632.4 227.4,633.1 227.6,637.4 225.1,637.6 220.1,636.9 219.1,634.4ZM252.1,604.9 250.1,604.6 247.9,603.4 246.6,603.6 245.1,602.6 241.6,602.6 238.9,604.6 232.9,610.6 228.9,613.6 225.9,617.6 225.9,622.9 227.6,627.6 231.6,630.1 236.9,630.1 245.4,627.6 249.1,625.9 252.9,623.1 255.9,617.6 255.9,612.1 255.1,608.4 252.9,606.4ZM200.9,596.6 201.1,603.9 206.6,603.9 208.4,603.4 208.4,595.9 203.1,595.9ZM206.6,597.4 206.9,601.6 204.9,602.4 202.9,602.4 202.4,600.9 202.4,598.4 204.9,597.4ZM209.1,588.4 210.1,590.1 210.4,592.1 213.4,596.6 219.1,596.6 219.1,601.1 221.6,609.1 227.1,609.1 230.1,608.4 230.1,600.9 232.9,601.6 238.4,601.6 238.4,600.6 237.4,600.9 236.4,600.1 231.9,599.4 231.4,597.6 230.1,596.9 229.6,597.1 229.4,596.1 229.1,596.6 224.9,595.9 221.6,595.9 221.4,595.6 222.6,595.1 222.6,594.6 222.1,594.6 221.4,593.6 216.9,595.1 215.1,595.1 211.9,590.4 211.6,588.9ZM220.9,597.4 224.9,597.6 227.6,598.4 228.6,604.4 228.4,606.9 225.4,607.6 223.1,607.4 220.6,599.4Z" fill="#152f49"/>
<path d="M364.6,570.1 363.6,572.4 360.9,574.1 361.6,573.9 362.1,574.6 363.4,578.9 363.9,583.6 361.6,590.6 361.6,595.9 364.1,599.6 369.1,599.6 372.6,595.9 373.6,589.6 374.1,589.1 375.9,590.9 377.4,590.9 377.6,596.4 378.4,600.6 370.9,600.9 370.9,608.9 376.4,609.1 376.6,611.1 378.4,615.1 380.6,617.1 381.6,617.6 388.1,617.6 388.4,613.6 387.9,613.4 388.4,611.9 388.1,612.1 387.4,610.9 388.4,610.9 387.4,610.1 387.9,609.4 387.6,607.6 385.4,606.4 383.6,606.1 387.4,605.9 386.6,605.1 387.1,604.4 386.6,603.6 387.1,603.4 387.4,599.9 387.1,593.1 386.1,591.6 386.9,591.1 386.4,590.6 381.9,589.9 384.1,587.9 385.9,578.9 386.4,578.1 386.9,579.1 385.6,576.4 386.9,575.6 387.4,573.9 385.1,571.6 382.4,571.6 379.1,572.4 376.9,574.1 375.4,573.1 374.4,573.4 373.6,572.1 372.9,572.4 371.4,571.6 370.4,569.9 369.6,570.4 368.4,569.9 367.4,570.6ZM378.4,602.1 378.9,602.1 379.1,604.1 383.1,605.9 378.6,605.9Z" fill="#28557c"/>
<path d="M386.9,590.9 387.1,591.1 386.4,591.6 387.4,593.1 387.6,597.6 387.4,603.4 386.9,603.6 387.4,604.4 386.9,605.1 387.6,605.9 388.4,605.9 388.9,605.1 389.1,601.6 388.9,591.4ZM419.1,587.6 419.1,594.1 425.1,594.4 425.1,598.9 425.6,601.6 434.1,601.6 434.1,599.9 433.4,599.4 432.9,598.1 432.6,599.9 431.6,600.4 428.9,600.4 427.1,599.9 426.6,595.1 431.4,595.1 430.9,593.9 430.1,593.4 426.4,593.1 426.4,587.6ZM420.6,589.4 424.6,589.1 424.9,592.4 420.9,592.6ZM420.4,576.4 421.6,579.9 424.6,581.4 425.6,581.1 425.1,580.6 425.1,579.4 423.4,578.4 422.6,577.1 421.6,576.9 421.4,575.9ZM392.6,563.4 388.1,567.9 387.4,569.9 386.6,570.4 386.1,569.6 385.9,570.6 385.1,570.9 385.1,571.4 387.6,573.9 387.1,575.6 385.9,576.4 385.9,576.9 387.1,578.6 386.9,580.1 390.1,589.1 394.6,590.1 400.4,590.1 401.6,591.6 407.6,591.6 412.6,590.9 413.4,585.1 413.4,578.9 411.9,575.9 412.9,571.9 412.4,571.1 411.6,571.4 411.1,570.9 411.1,568.9 407.4,566.9 405.6,566.9 404.9,567.4 402.6,566.6 402.1,565.9 401.4,566.4 400.9,564.1 400.1,564.9 398.9,565.1 394.4,563.4Z" fill="#152f49"/>
<path d="M335.9,660.1 336.1,669.1 343.4,669.1 344.1,668.6 344.1,662.9 343.6,660.1ZM337.4,661.9 341.9,661.6 342.4,662.9 342.6,666.9 341.6,667.6 337.9,667.6 337.4,665.4ZM331.6,640.1 331.9,647.9 338.9,647.6 339.1,640.1ZM333.1,641.9 337.4,641.6 337.4,645.9 336.1,646.4 333.6,646.4 333.1,645.4ZM319.9,625.1 320.9,627.6 320.4,629.9 320.6,630.9 321.4,631.4 321.4,633.6 320.9,634.4 322.1,634.1 321.6,625.1ZM349.4,578.1 347.6,578.9 345.4,578.4 343.9,579.4 342.4,579.1 342.1,579.9 339.1,579.9 337.6,582.4 335.6,583.9 336.1,585.1 336.1,587.1 334.9,588.6 333.1,589.6 333.4,590.1 332.4,591.4 332.6,591.9 330.6,592.6 330.4,594.4 329.1,595.1 326.9,598.9 321.4,604.1 321.4,609.4 322.6,612.6 324.1,612.9 323.6,613.4 320.1,614.1 319.9,615.9 317.9,615.9 318.4,617.1 319.6,617.6 320.1,620.1 320.1,622.1 319.1,622.6 319.1,624.1 321.1,624.1 321.9,623.1 323.9,624.1 329.6,624.1 334.6,622.9 335.9,621.6 336.1,616.6 339.1,619.1 344.1,619.1 346.6,616.1 351.4,611.9 351.6,616.1 352.6,618.9 354.1,619.1 354.1,621.1 355.9,624.6 361.6,624.6 364.6,624.1 364.6,618.4 364.1,615.9 360.9,615.6 360.9,612.9 360.1,610.1 352.9,610.4 353.6,607.1 354.4,605.9 359.1,605.9 361.6,604.1 361.6,599.1 353.1,584.9 351.6,584.4 351.4,583.1 350.6,583.1 348.6,581.1 348.4,579.4 349.4,578.6ZM355.6,617.6 362.4,617.4 363.1,620.1 363.1,622.4 361.9,622.9 357.6,623.1 355.6,619.4ZM321.6,615.9 327.4,614.1 334.1,614.1 334.4,619.9 332.9,621.4 327.9,622.6 325.6,622.6 322.4,620.9ZM353.1,612.6 356.4,611.6 358.4,611.6 359.4,614.6 359.4,616.6 356.6,617.4 354.4,617.4 353.1,614.4Z" fill="#152f49"/>
<path d="M252.6,404.4 252.6,407.4 255.9,407.4 255.9,404.4ZM258.4,400.1 258.4,403.4 262.4,403.4 262.4,400.1ZM239.1,340.1 235.1,347.1 231.6,354.9 231.6,360.1 234.4,361.9 234.1,367.6 239.4,367.6 242.4,366.9 245.9,369.1 247.6,379.1 250.4,379.4 251.9,389.1 253.1,388.6 253.1,387.9 253.6,387.4 255.9,396.6 261.6,397.4 261.6,395.4 259.6,386.1 256.6,375.9 254.6,375.1 254.9,373.1 253.4,372.1 253.9,368.6 252.1,366.9 252.1,365.4 253.4,363.4 252.6,362.6 252.4,360.9 254.1,360.1 252.6,358.1 252.6,355.6 253.1,355.1 252.6,354.4 252.6,352.6 253.4,351.4 252.1,350.9 251.6,349.6 251.6,348.4 252.1,347.9 251.6,345.6 252.4,343.6 253.4,343.6 252.9,343.4 252.4,341.4 252.9,339.4 248.1,339.1ZM229.4,317.6 229.4,321.6 232.4,321.6 232.4,317.6Z" fill="#152f49"/>
<path d="M427.1,595.4 427.4,599.9 431.6,600.1 431.6,599.4 430.9,599.1 431.1,597.6 431.6,598.6 432.1,597.1 434.1,599.6 433.6,593.9 430.4,593.4 431.1,593.9 431.6,595.1 431.4,595.6ZM427.4,596.4 427.6,595.6 428.4,595.9 427.6,596.6ZM420.9,589.4 420.9,592.4 424.6,592.4 424.6,589.4ZM422.1,573.1 422.1,574.9 422.9,577.4 425.4,579.4 425.6,581.4 429.6,581.4 431.4,579.1 431.4,574.1 430.6,573.1 429.9,572.9 427.9,573.9 426.9,572.6 427.4,573.9 427.1,574.6 426.1,573.4 423.6,573.9 422.4,573.6 423.4,572.9 425.9,572.6ZM438.1,560.9 438.1,561.9 437.6,562.4 437.9,562.9 435.6,563.9 435.9,565.4 434.9,566.1 435.6,567.1 434.9,567.4 435.4,569.1 437.9,571.6 439.1,573.6 438.9,581.1 440.4,584.1 446.6,584.9 446.4,585.4 445.4,585.4 445.4,591.9 451.4,591.9 451.4,586.1 454.6,585.9 454.9,578.1 456.6,578.4 456.4,583.6 457.6,585.9 457.6,590.9 459.6,592.6 464.6,592.6 466.9,590.4 468.4,585.6 470.1,584.9 472.1,582.4 474.9,582.4 476.4,581.9 476.4,578.1 475.1,576.6 475.1,575.9 473.9,574.9 473.9,573.9 473.4,574.6 473.6,575.1 472.6,575.4 472.9,576.1 471.1,576.6 471.6,578.4 470.9,578.9 471.1,579.6 468.4,583.4 466.6,584.1 465.4,588.6 462.9,591.1 461.4,591.1 459.1,589.1 459.4,584.6 457.9,581.9 457.9,580.4 459.4,577.6 459.1,575.4 457.1,574.6 455.1,576.6 453.4,576.6 450.9,575.4 449.1,572.4 449.1,570.6 450.6,567.6 453.6,565.1 455.4,565.1 457.6,565.9 459.6,564.9 459.6,564.4 458.9,565.1 458.1,565.1 457.9,564.4 456.4,564.1 456.1,563.6 451.9,563.6 448.9,566.4 448.1,559.9 448.6,559.6 444.6,558.6 443.4,560.1 446.1,560.9 446.1,563.1 445.6,563.1 445.6,562.1 445.1,562.9 444.4,570.1 443.9,570.4 440.6,569.1 440.1,562.4 439.1,560.9ZM446.4,578.9 446.9,580.4 447.1,579.4 447.6,579.4 447.6,581.6 446.6,582.1 446.1,581.9 446.4,581.1 445.4,581.1ZM449.1,577.1 449.4,576.9 450.1,577.4 449.4,577.6ZM444.9,570.1 445.1,570.9 444.6,571.1 444.4,570.9ZM440.1,568.9 440.6,569.6 440.4,570.1 439.9,569.9Z" fill="#1c3d5c"/>
<path d="M310.9,722.1 304.6,722.1 299.9,718.1 295.1,716.6 287.1,716.6 276.1,718.1 266.9,720.6 259.4,721.9 250.6,724.6 244.1,727.6 237.6,734.6 232.9,738.9 230.9,741.9 230.6,750.4 232.6,749.9 233.6,748.6 235.4,748.6 236.6,750.1 237.9,749.1 239.1,749.9 240.4,749.1 241.6,749.6 242.1,748.4 243.6,746.9 244.6,746.9 245.4,746.1 246.6,745.9 247.1,744.9 251.1,743.6 252.1,742.6 252.9,742.9 253.6,742.4 254.4,743.1 255.1,742.4 255.9,742.9 258.1,742.6 260.6,741.6 264.1,742.9 266.4,741.9 266.1,741.1 266.6,740.6 270.6,741.4 272.9,739.9 273.4,740.1 274.9,739.4 275.1,739.6 276.9,738.1 277.6,738.6 278.6,738.1 279.4,738.9 283.6,735.1 284.6,735.9 286.9,735.9 287.1,734.9 290.1,734.1 291.9,732.6 292.4,732.9 293.1,732.1 295.6,732.4 295.6,730.9 296.1,730.4 298.9,729.4 299.4,728.6 300.9,728.6 301.9,727.4 302.6,727.4 303.1,728.1 306.1,727.6 306.9,728.6 309.4,726.6 310.6,726.6 311.1,727.1ZM245.1,677.1 245.1,678.6 251.6,678.6 251.6,678.1 249.4,677.9 248.1,678.4 246.9,678.1ZM308.1,669.4 307.1,669.9 306.1,668.6 301.6,670.4 301.6,674.6 308.1,674.6ZM303.1,669.9 306.4,669.6 306.6,672.9 303.4,673.1Z" fill="#35709f"/>
<path d="M311.1,727.4 310.6,726.9 309.4,726.9 306.9,728.9 306.1,727.9 303.1,728.4 302.6,727.6 301.9,727.6 300.9,728.9 299.4,728.9 298.9,729.6 296.1,730.6 295.6,732.6 293.1,732.4 290.1,734.4 287.1,735.1 286.9,736.1 284.6,736.1 283.6,735.4 279.4,739.1 278.6,738.4 277.9,738.9 276.9,738.4 275.1,739.9 274.9,739.6 273.4,740.4 272.9,740.1 270.6,741.6 266.6,740.9 266.4,742.1 264.1,743.1 260.6,741.9 258.1,742.9 255.9,743.1 255.1,742.6 254.4,743.4 253.6,742.6 252.9,743.1 252.1,742.9 251.1,743.9 247.1,745.1 246.6,746.1 245.4,746.4 244.6,747.1 243.6,747.1 241.6,749.9 240.4,749.4 239.1,750.1 237.9,749.4 236.6,750.4 235.4,749.4 235.4,748.9 233.6,748.9 233.6,749.4 232.6,750.1 230.6,750.6 231.9,753.1 236.1,756.6 240.4,761.9 245.4,761.9 248.1,759.1 253.6,757.4 256.4,757.4 259.1,758.1 265.1,758.1 270.9,756.9 276.9,756.9 283.1,753.4 294.1,750.6 298.9,748.4 302.6,744.1 306.4,734.4 306.4,729.1 311.1,728.9Z" fill="#204566"/>
<path d="M244.1,263.4 244.1,269.1 245.6,268.6 245.9,264.9 250.9,265.6 250.9,267.9 252.6,268.6 252.6,264.1 249.6,263.4ZM237.6,251.6 237.9,258.9 241.9,258.9 242.1,261.6 249.1,261.6 249.1,254.1 245.4,254.1 245.1,251.6ZM243.9,255.6 247.6,255.9 247.4,260.1 243.6,259.9ZM239.1,253.4 243.4,253.1 243.6,257.1 239.6,257.4 239.1,255.9ZM193.6,252.1 193.6,259.1 195.1,259.4 195.1,263.6 201.6,263.6 201.6,257.1 200.6,256.9 200.6,251.6 195.4,251.6ZM196.6,258.9 199.9,258.6 200.1,261.9 196.9,262.1ZM195.4,253.6 197.1,253.1 199.1,253.4 198.9,257.6 195.1,257.4ZM242.1,239.1 242.1,244.6 242.9,247.9 248.9,247.9 248.9,250.4 250.9,257.6 253.4,259.1 256.4,259.1 256.6,262.6 260.1,265.9 270.9,265.9 272.4,264.4 272.1,261.6 272.9,260.9 272.6,259.9 273.1,257.9 272.1,257.1 272.6,256.1 271.9,254.4 272.4,253.6 271.6,250.6 271.9,247.4 271.6,245.9 270.6,244.4 271.9,242.1 271.9,239.9 271.4,238.9 266.6,235.9 261.4,235.9 257.1,237.4 256.4,238.1 252.9,237.1 247.4,237.1Z" fill="#17324d"/>
<path d="M261.4,324.1 261.4,326.9 264.6,326.9 264.6,324.1ZM227.6,315.9 227.6,323.6 233.9,323.6 234.1,315.9ZM229.4,317.4 232.6,317.6 232.4,321.9 229.1,321.6ZM247.1,298.6 247.1,304.9 251.4,306.1 256.6,306.1 256.6,300.1 252.4,298.6ZM229.4,299.1 229.4,304.4 230.6,307.4 229.4,307.6 229.4,314.6 236.1,314.6 236.1,309.9 239.1,309.6 240.6,308.1 240.6,303.1 236.6,298.6 231.1,298.6ZM275.6,296.9 274.6,296.9 272.6,299.4 271.6,305.4 271.6,310.9 273.9,310.9 273.9,310.1 274.6,309.4 273.1,309.1 273.1,307.1 274.1,301.1 275.4,299.4 275.1,297.9ZM260.6,298.1 260.6,305.6 262.1,307.4 267.4,307.4 269.6,306.1 270.9,303.1 270.9,297.9 268.9,296.9 263.4,296.9ZM261.6,292.1 265.6,292.1 265.6,291.6 264.9,291.1 263.4,291.1 262.4,292.1ZM245.9,265.1 245.9,268.9 250.4,269.1 250.9,265.9ZM196.9,258.9 196.9,261.9 199.9,261.9 199.9,258.9ZM243.9,255.9 243.9,259.9 247.4,259.9 247.4,255.9ZM239.4,253.4 239.6,257.1 243.4,257.1 243.4,253.4ZM198.9,253.4 195.4,253.9 195.4,257.4 198.9,257.4ZM102.6,229.6 102.6,237.6 105.1,238.1 109.9,238.1 110.1,244.6 116.6,244.6 116.6,238.1 110.6,237.9 111.1,234.9 111.1,229.1 105.4,229.1ZM99.1,216.6 99.1,221.9 101.1,226.1 104.6,226.6 110.6,226.6 113.6,223.6 114.1,220.9 114.1,215.1 101.6,214.9Z" fill="#152f49"/>
<path d="M653.6,266.1 653.6,271.6 654.9,275.9 657.6,277.6 663.9,277.6 667.6,277.1 668.9,273.9 668.9,268.1 667.9,264.9 665.6,263.6 660.4,263.6Z" fill="#152f49"/>
<path d="M276.4,298.6 274.4,301.1 273.4,309.1 274.9,309.1 278.9,306.6 281.4,307.9 282.9,307.9 281.6,302.4 277.9,298.6Z" fill="#244d70"/>
<path d="M246.9,673.9 246.9,676.9 249.9,676.9 249.9,673.9ZM303.4,669.9 303.4,672.9 306.4,672.9 306.4,669.9ZM338.4,662.4 340.9,662.6 339.1,663.1 339.6,666.1 340.9,666.1 341.1,666.6 338.9,666.9 342.4,666.9 341.9,661.9ZM134.4,655.9 134.4,657.6 136.1,661.1 138.1,661.4 139.4,660.9 139.4,659.4 137.4,655.4ZM277.6,647.6 277.6,654.1 279.9,654.9 281.6,654.9 282.4,647.6ZM299.4,645.6 298.4,645.9 298.4,647.6 300.4,652.4 299.6,649.4 300.1,649.4 301.1,651.6 299.9,646.6 300.6,646.4 299.4,646.6ZM304.4,645.1 304.6,646.4 304.4,646.6 304.1,645.9 303.6,646.1 304.9,650.1 303.6,651.1 305.1,650.9 305.4,651.1 304.4,651.9 305.9,651.6 305.9,649.6 304.9,645.1ZM304.6,646.4 305.6,649.1 305.4,651.1 304.4,647.6ZM274.1,644.4 272.1,644.6 265.9,649.4 265.9,651.4 266.9,654.9 272.4,654.9 276.4,649.6 276.6,647.6ZM219.4,632.6 219.4,634.4 220.1,636.6 227.4,637.4 227.4,633.4ZM312.9,631.6 313.4,634.1 313.4,631.6ZM300.9,630.1 294.4,630.9 294.4,632.6 295.9,635.9 297.9,635.9 301.6,634.9 301.6,632.9ZM319.9,626.9 315.1,627.4 317.1,627.9 315.1,628.4 318.4,628.9 319.4,631.4 319.1,631.9 315.6,631.6 315.9,632.1 314.9,632.4 315.1,633.4 316.9,633.4 320.4,632.4ZM319.6,629.6 320.1,630.6 320.1,632.4 317.4,632.6 317.4,632.1 319.6,631.6ZM278.4,625.9 278.6,628.6 279.9,632.9 280.6,633.9 284.4,636.6 289.9,635.9 289.1,629.4 285.9,624.4 284.1,624.4ZM297.4,620.9 295.6,620.9 290.1,622.6 290.1,624.1 292.6,628.4 294.4,628.4 299.1,625.9 299.1,624.4ZM329.6,615.1 333.4,616.4 333.4,615.6 334.1,615.6 334.1,614.4 330.4,614.4 331.9,614.9ZM220.9,597.6 220.9,599.4 223.4,607.4 228.4,606.6 227.4,598.4ZM206.6,597.6 204.9,597.6 202.6,598.4 202.9,602.1 206.6,601.6ZM230.9,593.4 230.9,595.4 231.9,599.1 234.6,599.9 236.6,599.9 236.6,594.4 232.9,593.4ZM215.9,578.4 209.6,581.6 209.4,583.6 211.9,588.4 211.9,589.9 215.1,594.9 216.9,594.9 220.9,593.4 220.9,591.6 219.1,587.6 218.1,587.4 219.9,584.1 219.9,582.6 217.6,578.6ZM252.1,571.4 249.9,572.4 250.4,576.9 253.4,577.4 253.1,576.6 255.1,573.9 253.9,571.4ZM224.4,564.4 219.4,566.9 220.1,572.4 223.9,573.4 225.6,573.4 228.1,578.1 230.1,578.6 229.4,578.9 229.4,580.9 229.9,582.1 226.9,582.6 227.6,589.1 231.6,590.9 233.4,590.9 236.6,587.4 236.6,585.9 234.6,582.9 235.9,581.4 235.9,579.9 233.9,578.1 230.1,578.4 234.1,576.6 234.1,574.9 232.4,570.1 230.6,570.1 227.4,571.4 227.1,571.1 228.4,569.1 228.4,567.6 225.9,564.4ZM239.9,563.1 239.9,566.9 243.6,566.9 243.6,563.1ZM253.4,557.6 247.6,558.4 247.6,560.1 249.1,564.4 245.9,565.9 245.9,567.6 247.6,572.4 249.1,572.4 252.4,569.9 252.4,568.1 251.1,565.1 251.6,564.6 254.1,564.1ZM250.9,547.9 250.9,549.6 251.9,551.9 256.4,552.4 257.9,550.4 257.9,548.9 255.9,547.1ZM232.1,543.1 229.9,541.9 228.4,541.9 224.4,545.1 224.4,546.9 225.9,550.9 227.6,550.9 230.9,549.9 232.4,545.1ZM249.1,540.1 247.4,540.1 243.4,541.9 243.4,545.1 240.1,543.4 238.1,543.4 234.4,545.1 234.6,548.1 232.1,549.4 232.1,551.1 232.9,553.4 230.1,554.4 230.1,556.1 232.6,560.9 234.1,560.9 236.6,558.4 236.6,556.9 235.4,554.6 235.6,554.1 236.9,554.1 237.4,553.6 239.9,554.1 244.1,551.6 244.1,547.6 244.4,548.4 249.9,548.4 251.6,544.4 251.6,542.6Z" fill="#152f49"/>
<path d="M337.6,661.9 337.9,667.4 341.6,667.4 338.6,666.9 340.9,666.6 339.4,666.1 338.9,663.9 339.1,662.9 340.6,662.6 338.4,662.6 338.4,662.1 339.9,661.9ZM304.1,645.1 302.1,645.1 299.4,645.9 299.4,646.4 300.1,646.6 301.4,651.4 301.1,651.9 300.6,651.6 299.9,649.4 300.9,653.4 302.4,653.4 305.4,650.9 305.4,649.1ZM303.6,645.6 304.4,645.9 305.4,650.9 304.4,651.4 303.4,651.1 304.6,650.1 303.4,646.1ZM333.4,641.9 333.4,645.4 336.6,645.9 337.1,641.9ZM334.1,644.9 335.4,644.9 335.6,645.4 334.4,645.6ZM336.6,642.4 336.9,643.6 336.6,645.1 336.1,645.4 335.9,644.6ZM307.6,630.9 308.4,635.9 310.4,635.9 313.9,634.9 313.4,630.6ZM312.9,631.4 313.6,631.6 313.4,634.4 312.9,633.4ZM313.4,627.6 313.4,629.4 314.4,632.1 315.6,632.1 315.6,631.4 319.4,631.9 317.4,632.4 319.9,632.4 319.6,629.9 319.9,631.6 319.4,631.9 318.4,629.1 314.9,628.4 316.9,627.9ZM299.4,624.4 299.4,626.1 300.9,629.9 307.4,629.1 307.4,627.1 306.6,624.4ZM300.1,626.4 300.9,626.9 300.9,628.1 299.9,626.6ZM355.9,617.6 355.9,619.4 357.6,622.9 362.9,622.4 362.4,617.6ZM315.9,617.6 315.9,622.1 319.4,622.4 319.4,617.6ZM318.9,619.1 319.4,620.9 319.1,621.6 318.6,621.4ZM321.9,615.9 322.6,620.9 325.6,622.4 327.9,622.4 333.4,620.9 334.1,617.9 334.1,615.9 333.6,615.6 333.6,616.4 333.1,616.6 329.4,615.1 331.6,614.9 327.9,614.4ZM333.4,617.1 333.6,619.1 333.1,619.4 332.9,618.4ZM358.4,611.9 353.4,612.6 353.4,614.4 354.4,617.1 359.1,616.6 359.1,614.6ZM432.1,597.4 432.1,598.4 431.6,598.9 431.1,597.9 431.1,599.1 431.6,599.1 431.9,599.9 432.4,599.9ZM446.4,579.1 445.6,581.1 446.4,580.9 446.6,581.9 447.4,581.6 447.4,579.4 446.9,580.6ZM427.4,571.9 421.9,572.6 421.9,574.4 421.9,573.1 423.1,572.6 425.9,572.4 425.9,572.9 423.4,573.1 422.6,573.6 426.1,573.1 427.1,574.4 426.6,572.6 426.9,572.4 427.9,573.6ZM440.1,560.9 440.9,569.1 444.1,570.1 444.9,562.9 445.6,561.9 445.9,563.1 445.9,560.9 442.4,560.4 442.9,560.9 442.6,561.1Z" fill="#152f49"/>
<path d="M467.6,552.6 465.1,556.1 463.6,559.4 460.4,561.4 459.6,565.1 457.6,566.1 455.4,565.4 453.6,565.4 450.9,567.6 449.4,570.6 449.4,572.4 450.6,574.9 453.4,576.4 455.1,576.4 457.1,574.4 459.4,575.4 459.6,577.6 458.1,580.4 458.1,581.9 459.6,584.6 459.4,589.1 461.4,590.9 462.9,590.9 465.1,588.6 466.4,584.1 468.4,583.1 470.9,579.6 470.6,578.9 471.4,578.4 470.9,576.6 472.6,576.1 472.4,575.4 473.4,575.1 473.1,574.6 474.6,571.9 473.1,561.4 471.9,557.4 471.9,553.1Z" fill="#244d70"/>
</g>

</g>
<text x="74" y="96" class="ti">Population (2020)</text>
<text x="121.8" y="823" text-anchor="middle" class="ax axx">125<tspan class="dg" dy="4.1">°</tspan><tspan dy="-4.1">E</tspan></text>
<text x="216.9" y="823" text-anchor="middle" class="ax axx">126<tspan class="dg" dy="4.1">°</tspan><tspan dy="-4.1">E</tspan></text>
<text x="311.9" y="823" text-anchor="middle" class="ax axx">127<tspan class="dg" dy="4.1">°</tspan><tspan dy="-4.1">E</tspan></text>
<text x="406.9" y="823" text-anchor="middle" class="ax axx">128<tspan class="dg" dy="4.1">°</tspan><tspan dy="-4.1">E</tspan></text>
<text x="502.0" y="823" text-anchor="middle" class="ax axx">129<tspan class="dg" dy="4.1">°</tspan><tspan dy="-4.1">E</tspan></text>
<text x="597.1" y="823" text-anchor="middle" class="ax axx">130<tspan class="dg" dy="4.1">°</tspan><tspan dy="-4.1">E</tspan></text>
<text x="692.2" y="823" text-anchor="middle" class="ax axx">131<tspan class="dg" dy="4.1">°</tspan><tspan dy="-4.1">E</tspan></text>
<text x="60.0" y="785.5" text-anchor="end" class="ax">33<tspan class="dg" dy="4.1">°</tspan><tspan dy="-4.1">N</tspan></text>
<text x="60.0" y="672.7" text-anchor="end" class="ax">34<tspan class="dg" dy="4.1">°</tspan><tspan dy="-4.1">N</tspan></text>
<text x="60.0" y="559.9" text-anchor="end" class="ax">35<tspan class="dg" dy="4.1">°</tspan><tspan dy="-4.1">N</tspan></text>
<text x="60.0" y="447.1" text-anchor="end" class="ax">36<tspan class="dg" dy="4.1">°</tspan><tspan dy="-4.1">N</tspan></text>
<text x="60.0" y="334.2" text-anchor="end" class="ax">37<tspan class="dg" dy="4.1">°</tspan><tspan dy="-4.1">N</tspan></text>
<text x="60.0" y="221.3" text-anchor="end" class="ax">38<tspan class="dg" dy="4.1">°</tspan><tspan dy="-4.1">N</tspan></text>
<defs><linearGradient id="lg" x1="0" y1="0" x2="0" y2="1"><stop offset="0.000" stop-color="#56b1f7"/><stop offset="0.050" stop-color="#52aaed"/><stop offset="0.100" stop-color="#4fa2e3"/><stop offset="0.150" stop-color="#4b9bda"/><stop offset="0.200" stop-color="#4894d0"/><stop offset="0.250" stop-color="#448dc6"/><stop offset="0.300" stop-color="#4186bd"/><stop offset="0.350" stop-color="#3d7fb4"/><stop offset="0.400" stop-color="#3a78aa"/><stop offset="0.450" stop-color="#3671a1"/><stop offset="0.500" stop-color="#336a98"/><stop offset="0.550" stop-color="#2f638f"/><stop offset="0.600" stop-color="#2c5d86"/><stop offset="0.650" stop-color="#29567d"/><stop offset="0.700" stop-color="#265075"/><stop offset="0.750" stop-color="#22496c"/><stop offset="0.800" stop-color="#1f4364"/><stop offset="0.850" stop-color="#1c3d5b"/><stop offset="0.900" stop-color="#193753"/><stop offset="0.950" stop-color="#16314b"/><stop offset="1.000" stop-color="#132b43"/></linearGradient></defs><rect x="740.5" y="355.1" width="47.8" height="239.6" fill="url(#lg)"/><path d="M740.5,365.0h9.6M788.3,365.0h-9.6" stroke="#fff" stroke-width="1.7" stroke-opacity="0.78" fill="none"/><text x="803.6" y="371.6" class="lt">800000</text><path d="M740.5,423.0h9.6M788.3,423.0h-9.6" stroke="#fff" stroke-width="1.7" stroke-opacity="0.78" fill="none"/><text x="803.6" y="429.6" class="lt">600000</text><path d="M740.5,480.9h9.6M788.3,480.9h-9.6" stroke="#fff" stroke-width="1.7" stroke-opacity="0.78" fill="none"/><text x="803.6" y="487.5" class="lt">400000</text><path d="M740.5,538.9h9.6M788.3,538.9h-9.6" stroke="#fff" stroke-width="1.7" stroke-opacity="0.78" fill="none"/><text x="803.6" y="545.5" class="lt">200000</text><text x="740.9" y="337" class="ltt">Population</text>
</svg>
</body></html>
